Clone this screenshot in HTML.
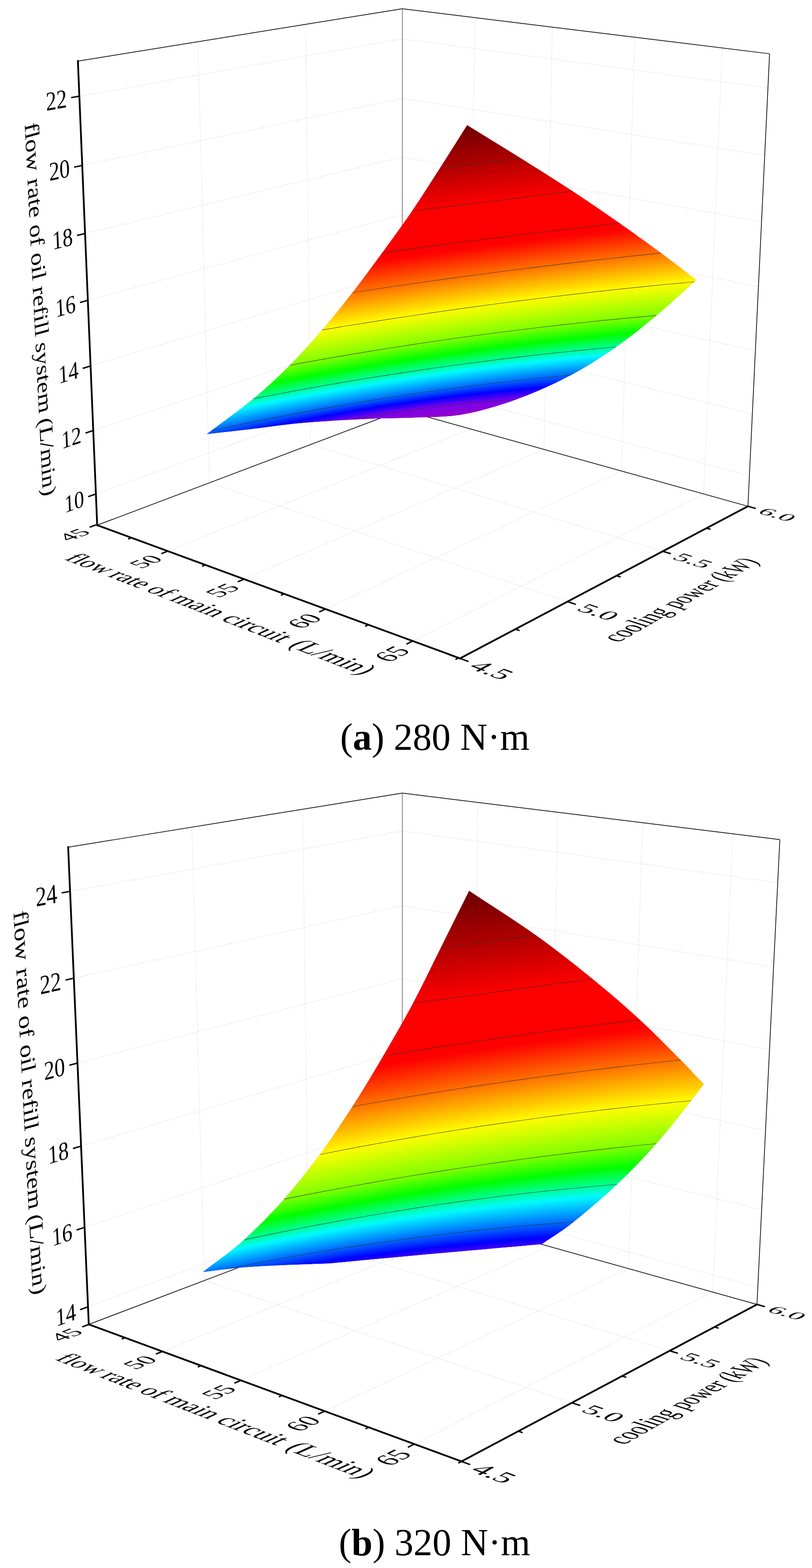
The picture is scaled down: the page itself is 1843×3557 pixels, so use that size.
<!DOCTYPE html>
<html><head><meta charset="utf-8"><title>Figure</title>
<style>
html,body{margin:0;padding:0;background:#fff;}
svg{display:block;}
text{font-family:"Liberation Serif", serif;fill:#000;}
</style></head>
<body>
<svg width="1843" height="3557" viewBox="0 0 1843 3557">
<rect width="1843" height="3557" fill="#fff"/>
<g><path d="M217.7,1120.4 L913,868 M913,868 L1700.9,1079.2 M211.7,976.6 L913.1,742.9 M913.1,742.9 L1707.6,938.8 M205.6,830.2 L913.1,615.9 M913.1,615.9 L1714.5,796 M199.4,681.3 L913.1,486.9 M913.1,486.9 L1721.4,650.7 M193.1,529.7 L913.2,356 M913.2,356 L1728.5,503 M186.6,375.3 L913.2,223.1 M913.2,223.1 L1735.7,352.6 M180.1,218.2 L913.3,88.1 M913.3,88.1 L1743,199.6 M475.4,1095.2 L449.4,94.6 M475.4,1095.2 L1288.1,1364.8 M705,1008.5 L693.5,55.3 M705,1008.5 L1504.4,1250.6 M1068.2,973.2 L1077.3,39.9 M380.7,1250.2 L1068.2,973.2 M1234.7,1019.6 L1253.6,61.5 M553.9,1313.7 L1234.7,1019.6 M1410.7,1068.6 L1440.6,84.5 M738.8,1381.6 L1410.7,1068.6 M1597.1,1120.5 L1639.2,108.9 M936.7,1454.1 L1597.1,1120.5" fill="none" stroke="#c6c6c6" stroke-width="1" stroke-dasharray="2 3"/>
<line x1="176.8" y1="138.6" x2="913.3" y2="19.8" stroke="#111" stroke-width="1.7" />
<line x1="913.3" y1="19.8" x2="1746.7" y2="122" stroke="#111" stroke-width="1.7" />
<line x1="1746.7" y1="122" x2="1697.6" y2="1148.5" stroke="#111" stroke-width="1.7" />
<line x1="220.6" y1="1191.4" x2="913" y2="929.9" stroke="#111" stroke-width="1.7" />
<line x1="913" y1="929.9" x2="1697.6" y2="1148.5" stroke="#111" stroke-width="1.7" />
<line x1="913" y1="929.9" x2="913.3" y2="19.8" stroke="#555" stroke-width="1.3" />
<clipPath id="clipa"><path d="M469.7,984.5 C504.9,957.8 544.2,930.2 575.3,904.5 C606.4,878.8 630.4,856.1 656.2,830.3 C682,804.4 706.3,777.1 730.3,749.4 C754.3,721.7 777,693.4 800,664 C823,634.6 845.4,603.9 868,573 C890.6,542.1 913.7,510.5 935.4,478.7 C957.1,446.9 977.5,414.4 998.3,382 C1019.1,349.6 1039.6,316.7 1060.3,284 C1101.1,309.2 1142.8,334.7 1182.6,359.6 C1222.4,384.6 1262.3,409.4 1299.4,433.7 C1336.5,458 1371.7,482.3 1405,505.6 C1438.3,528.9 1470.2,552 1499.4,573.6 C1528.6,595.2 1553.3,614.7 1580.3,635.2 C1550.3,661.9 1520.7,689.9 1490.4,715.2 C1460.1,740.5 1430.9,764.3 1398.3,787 C1365.7,809.7 1332.8,831.4 1295,851.3 C1257.2,871.2 1212.1,891.4 1171.3,906.2 C1130.5,921 1088.7,933.1 1050,939.9 C1011.3,946.7 972.7,945.6 939.3,947.2 C905.9,948.8 879.3,948.3 849.4,949.4 C819.5,950.5 789.5,952 759.6,953.9 C729.7,955.8 699.7,957.7 669.7,960.7 C639.7,963.7 613.1,967.9 579.8,971.9 C546.5,975.9 506.4,980.3 469.7,984.5Z"/></clipPath>
<g clip-path="url(#clipa)">
<path d="M469.7,984.5 C504.9,957.8 544.2,930.2 575.3,904.5 C606.4,878.8 630.4,856.1 656.2,830.3 C682,804.4 706.3,777.1 730.3,749.4 C754.3,721.7 777,693.4 800,664 C823,634.6 845.4,603.9 868,573 C890.6,542.1 913.7,510.5 935.4,478.7 C957.1,446.9 977.5,414.4 998.3,382 C1019.1,349.6 1039.6,316.7 1060.3,284 C1101.1,309.2 1142.8,334.7 1182.6,359.6 C1222.4,384.6 1262.3,409.4 1299.4,433.7 C1336.5,458 1371.7,482.3 1405,505.6 C1438.3,528.9 1470.2,552 1499.4,573.6 C1528.6,595.2 1553.3,614.7 1580.3,635.2 C1550.3,661.9 1520.7,689.9 1490.4,715.2 C1460.1,740.5 1430.9,764.3 1398.3,787 C1365.7,809.7 1332.8,831.4 1295,851.3 C1257.2,871.2 1212.1,891.4 1171.3,906.2 C1130.5,921 1088.7,933.1 1050,939.9 C1011.3,946.7 972.7,945.6 939.3,947.2 C905.9,948.8 879.3,948.3 849.4,949.4 C819.5,950.5 789.5,952 759.6,953.9 C729.7,955.8 699.7,957.7 669.7,960.7 C639.7,963.7 613.1,967.9 579.8,971.9 C546.5,975.9 506.4,980.3 469.7,984.5Z" fill="#9900bc"/>
<polygon points="440,442.7 489.2,420.5 538.3,399.6 587.5,380 636.7,361.7 685.8,344.7 735,328.9 784.2,314.4 833.3,301.2 882.5,289.3 931.7,278.7 980.8,269.3 1030,261.3 1079.2,254.5 1128.3,249 1177.5,244.7 1226.7,241.8 1275.8,240.1 1325,239.7 1374.2,240.6 1423.3,242.8 1472.5,246.3 1521.7,251 1570.8,257 1620,264.3 1620,270.9 1570.8,264.3 1521.7,258.9 1472.5,254.7 1423.3,251.7 1374.2,249.9 1325,249.4 1275.8,250.1 1226.7,252 1177.5,255.1 1128.3,259.4 1079.2,264.9 1030,271.7 980.8,279.7 931.7,288.8 882.5,299.2 833.3,310.9 784.2,323.7 735,337.7 685.8,353 636.7,369.5 587.5,387.2 538.3,406.1 489.2,426.2 440,447.5" fill="#600000"/>
<polygon points="440,445.1 489.2,423.3 538.3,402.8 587.5,383.6 636.7,365.6 685.8,348.8 735,333.3 784.2,319.1 833.3,306 882.5,294.3 931.7,283.8 980.8,274.5 1030,266.5 1079.2,259.7 1128.3,254.2 1177.5,249.9 1226.7,246.9 1275.8,245.1 1325,244.6 1374.2,245.3 1423.3,247.3 1472.5,250.5 1521.7,254.9 1570.8,260.6 1620,267.6 1620,274.1 1570.8,267.9 1521.7,262.8 1472.5,258.9 1423.3,256.1 1374.2,254.6 1325,254.2 1275.8,255.1 1226.7,257.1 1177.5,260.3 1128.3,264.6 1079.2,270.2 1030,276.9 980.8,284.8 931.7,293.9 882.5,304.2 833.3,315.7 784.2,328.3 735,342.1 685.8,357.2 636.7,373.3 587.5,390.7 538.3,409.3 489.2,429 440,449.9" fill="#600000"/>
<polygon points="440,447.5 489.2,426.2 538.3,406.1 587.5,387.2 636.7,369.5 685.8,353 735,337.7 784.2,323.7 833.3,310.9 882.5,299.2 931.7,288.8 980.8,279.7 1030,271.7 1079.2,264.9 1128.3,259.4 1177.5,255.1 1226.7,252 1275.8,250.1 1325,249.4 1374.2,249.9 1423.3,251.7 1472.5,254.7 1521.7,258.9 1570.8,264.3 1620,270.9 1620,277.4 1570.8,271.5 1521.7,266.7 1472.5,263.1 1423.3,260.6 1374.2,259.3 1325,259.1 1275.8,260.1 1226.7,262.2 1177.5,265.4 1128.3,269.9 1079.2,275.4 1030,282.1 980.8,290 931.7,299 882.5,309.2 833.3,320.5 784.2,333 735,346.6 685.8,361.3 636.7,377.2 587.5,394.3 538.3,412.5 489.2,431.9 440,452.4" fill="#630000"/>
<polygon points="440,449.9 489.2,429 538.3,409.3 587.5,390.7 636.7,373.3 685.8,357.2 735,342.1 784.2,328.3 833.3,315.7 882.5,304.2 931.7,293.9 980.8,284.8 1030,276.9 1079.2,270.2 1128.3,264.6 1177.5,260.3 1226.7,257.1 1275.8,255.1 1325,254.2 1374.2,254.6 1423.3,256.1 1472.5,258.9 1521.7,262.8 1570.8,267.9 1620,274.1 1620,280.7 1570.8,275.1 1521.7,270.6 1472.5,267.3 1423.3,265 1374.2,263.9 1325,263.9 1275.8,265 1226.7,267.3 1177.5,270.6 1128.3,275.1 1079.2,280.7 1030,287.4 980.8,295.2 931.7,304.1 882.5,314.1 833.3,325.3 784.2,337.6 735,351 685.8,365.5 636.7,381.1 587.5,397.9 538.3,415.7 489.2,434.7 440,454.8" fill="#670000"/>
<polygon points="440,452.4 489.2,431.9 538.3,412.5 587.5,394.3 636.7,377.2 685.8,361.3 735,346.6 784.2,333 833.3,320.5 882.5,309.2 931.7,299 980.8,290 1030,282.1 1079.2,275.4 1128.3,269.9 1177.5,265.4 1226.7,262.2 1275.8,260.1 1325,259.1 1374.2,259.3 1423.3,260.6 1472.5,263.1 1521.7,266.7 1570.8,271.5 1620,277.4 1620,283.9 1570.8,278.7 1521.7,274.6 1472.5,271.5 1423.3,269.5 1374.2,268.6 1325,268.8 1275.8,270 1226.7,272.4 1177.5,275.8 1128.3,280.3 1079.2,285.9 1030,292.6 980.8,300.3 931.7,309.2 882.5,319.1 833.3,330.1 784.2,342.2 735,355.4 685.8,369.7 636.7,385 587.5,401.4 538.3,418.9 489.2,437.5 440,457.2" fill="#6b0000"/>
<polygon points="440,454.8 489.2,434.7 538.3,415.7 587.5,397.9 636.7,381.1 685.8,365.5 735,351 784.2,337.6 833.3,325.3 882.5,314.1 931.7,304.1 980.8,295.2 1030,287.4 1079.2,280.7 1128.3,275.1 1177.5,270.6 1226.7,267.3 1275.8,265 1325,263.9 1374.2,263.9 1423.3,265 1472.5,267.3 1521.7,270.6 1570.8,275.1 1620,280.7 1620,287.2 1570.8,282.3 1521.7,278.5 1472.5,275.7 1423.3,273.9 1374.2,273.2 1325,273.6 1275.8,275 1226.7,277.5 1177.5,281 1128.3,285.5 1079.2,291.1 1030,297.8 980.8,305.5 931.7,314.3 882.5,324.1 833.3,334.9 784.2,346.9 735,359.8 685.8,373.8 636.7,388.9 587.5,405 538.3,422.2 489.2,440.4 440,459.7" fill="#6f0000"/>
<polygon points="440,457.2 489.2,437.5 538.3,418.9 587.5,401.4 636.7,385 685.8,369.7 735,355.4 784.2,342.2 833.3,330.1 882.5,319.1 931.7,309.2 980.8,300.3 1030,292.6 1079.2,285.9 1128.3,280.3 1177.5,275.8 1226.7,272.4 1275.8,270 1325,268.8 1374.2,268.6 1423.3,269.5 1472.5,271.5 1521.7,274.6 1570.8,278.7 1620,283.9 1620,290.5 1570.8,285.9 1521.7,282.4 1472.5,279.9 1423.3,278.4 1374.2,277.9 1325,278.4 1275.8,280 1226.7,282.6 1177.5,286.1 1128.3,290.8 1079.2,296.4 1030,303 980.8,310.7 931.7,319.4 882.5,329 833.3,339.8 784.2,351.5 735,364.2 685.8,378 636.7,392.8 587.5,408.6 538.3,425.4 489.2,443.2 440,462.1" fill="#730000"/>
<polygon points="440,459.7 489.2,440.4 538.3,422.2 587.5,405 636.7,388.9 685.8,373.8 735,359.8 784.2,346.9 833.3,334.9 882.5,324.1 931.7,314.3 980.8,305.5 1030,297.8 1079.2,291.1 1128.3,285.5 1177.5,281 1226.7,277.5 1275.8,275 1325,273.6 1374.2,273.2 1423.3,273.9 1472.5,275.7 1521.7,278.5 1570.8,282.3 1620,287.2 1620,293.8 1570.8,289.5 1521.7,286.3 1472.5,284.1 1423.3,282.8 1374.2,282.6 1325,283.3 1275.8,285 1226.7,287.7 1177.5,291.3 1128.3,296 1079.2,301.6 1030,308.2 980.8,315.8 931.7,324.4 882.5,334 833.3,344.6 784.2,356.1 735,368.6 685.8,382.2 636.7,396.7 587.5,412.1 538.3,428.6 489.2,446.1 440,464.5" fill="#770000"/>
<polygon points="440,462.1 489.2,443.2 538.3,425.4 587.5,408.6 636.7,392.8 685.8,378 735,364.2 784.2,351.5 833.3,339.8 882.5,329 931.7,319.4 980.8,310.7 1030,303 1079.2,296.4 1128.3,290.8 1177.5,286.1 1226.7,282.6 1275.8,280 1325,278.4 1374.2,277.9 1423.3,278.4 1472.5,279.9 1521.7,282.4 1570.8,285.9 1620,290.5 1620,297 1570.8,293.2 1521.7,290.2 1472.5,288.3 1423.3,287.3 1374.2,287.2 1325,288.1 1275.8,290 1226.7,292.8 1177.5,296.5 1128.3,301.2 1079.2,306.9 1030,313.5 980.8,321 931.7,329.5 882.5,339 833.3,349.4 784.2,360.8 735,373.1 685.8,386.3 636.7,400.5 587.5,415.7 538.3,431.8 489.2,448.9 440,466.9" fill="#7b0000"/>
<polygon points="440,464.5 489.2,446.1 538.3,428.6 587.5,412.1 636.7,396.7 685.8,382.2 735,368.6 784.2,356.1 833.3,344.6 882.5,334 931.7,324.4 980.8,315.8 1030,308.2 1079.2,301.6 1128.3,296 1177.5,291.3 1226.7,287.7 1275.8,285 1325,283.3 1374.2,282.6 1423.3,282.8 1472.5,284.1 1521.7,286.3 1570.8,289.5 1620,293.8 1620,300.3 1570.8,296.8 1521.7,294.2 1472.5,292.5 1423.3,291.7 1374.2,291.9 1325,293 1275.8,294.9 1226.7,297.9 1177.5,301.7 1128.3,306.4 1079.2,312.1 1030,318.7 980.8,326.2 931.7,334.6 882.5,343.9 833.3,354.2 784.2,365.4 735,377.5 685.8,390.5 636.7,404.4 587.5,419.3 538.3,435.1 489.2,451.7 440,469.4" fill="#7f0000"/>
<polygon points="440,466.9 489.2,448.9 538.3,431.8 587.5,415.7 636.7,400.5 685.8,386.3 735,373.1 784.2,360.8 833.3,349.4 882.5,339 931.7,329.5 980.8,321 1030,313.5 1079.2,306.9 1128.3,301.2 1177.5,296.5 1226.7,292.8 1275.8,290 1325,288.1 1374.2,287.2 1423.3,287.3 1472.5,288.3 1521.7,290.2 1570.8,293.2 1620,297 1620,303.6 1570.8,300.4 1521.7,298.1 1472.5,296.7 1423.3,296.2 1374.2,296.5 1325,297.8 1275.8,299.9 1226.7,302.9 1177.5,306.9 1128.3,311.7 1079.2,317.3 1030,323.9 980.8,331.4 931.7,339.7 882.5,348.9 833.3,359 784.2,370 735,381.9 685.8,394.7 636.7,408.3 587.5,422.9 538.3,438.3 489.2,454.6 440,471.8" fill="#830000"/>
<polygon points="440,469.4 489.2,451.7 538.3,435.1 587.5,419.3 636.7,404.4 685.8,390.5 735,377.5 784.2,365.4 833.3,354.2 882.5,343.9 931.7,334.6 980.8,326.2 1030,318.7 1079.2,312.1 1128.3,306.4 1177.5,301.7 1226.7,297.9 1275.8,294.9 1325,293 1374.2,291.9 1423.3,291.7 1472.5,292.5 1521.7,294.2 1570.8,296.8 1620,300.3 1620,306.8 1570.8,304 1521.7,302 1472.5,300.9 1423.3,300.6 1374.2,301.2 1325,302.6 1275.8,304.9 1226.7,308 1177.5,312 1128.3,316.9 1079.2,322.6 1030,329.1 980.8,336.5 931.7,344.8 882.5,353.9 833.3,363.8 784.2,374.7 735,386.3 685.8,398.8 636.7,412.2 587.5,426.4 538.3,441.5 489.2,457.4 440,474.2" fill="#860000"/>
<polygon points="440,471.8 489.2,454.6 538.3,438.3 587.5,422.9 636.7,408.3 685.8,394.7 735,381.9 784.2,370 833.3,359 882.5,348.9 931.7,339.7 980.8,331.4 1030,323.9 1079.2,317.3 1128.3,311.7 1177.5,306.9 1226.7,302.9 1275.8,299.9 1325,297.8 1374.2,296.5 1423.3,296.2 1472.5,296.7 1521.7,298.1 1570.8,300.4 1620,303.6 1620,310.1 1570.8,307.6 1521.7,305.9 1472.5,305.1 1423.3,305.1 1374.2,305.9 1325,307.5 1275.8,309.9 1226.7,313.1 1177.5,317.2 1128.3,322.1 1079.2,327.8 1030,334.3 980.8,341.7 931.7,349.9 882.5,358.8 833.3,368.7 784.2,379.3 735,390.7 685.8,403 636.7,416.1 587.5,430 538.3,444.7 489.2,460.3 440,476.6" fill="#8a0000"/>
<polygon points="440,474.2 489.2,457.4 538.3,441.5 587.5,426.4 636.7,412.2 685.8,398.8 735,386.3 784.2,374.7 833.3,363.8 882.5,353.9 931.7,344.8 980.8,336.5 1030,329.1 1079.2,322.6 1128.3,316.9 1177.5,312 1226.7,308 1275.8,304.9 1325,302.6 1374.2,301.2 1423.3,300.6 1472.5,300.9 1521.7,302 1570.8,304 1620,306.8 1620,313.4 1570.8,311.2 1521.7,309.9 1472.5,309.3 1423.3,309.5 1374.2,310.5 1325,312.3 1275.8,314.9 1226.7,318.2 1177.5,322.4 1128.3,327.3 1079.2,333.1 1030,339.6 980.8,346.9 931.7,354.9 882.5,363.8 833.3,373.5 784.2,383.9 735,395.2 685.8,407.2 636.7,420 587.5,433.6 538.3,447.9 489.2,463.1 440,479.1" fill="#8e0000"/>
<polygon points="440,476.6 489.2,460.3 538.3,444.7 587.5,430 636.7,416.1 685.8,403 735,390.7 784.2,379.3 833.3,368.7 882.5,358.8 931.7,349.9 980.8,341.7 1030,334.3 1079.2,327.8 1128.3,322.1 1177.5,317.2 1226.7,313.1 1275.8,309.9 1325,307.5 1374.2,305.9 1423.3,305.1 1472.5,305.1 1521.7,305.9 1570.8,307.6 1620,310.1 1620,316.6 1570.8,314.8 1521.7,313.8 1472.5,313.5 1423.3,314 1374.2,315.2 1325,317.1 1275.8,319.9 1226.7,323.3 1177.5,327.6 1128.3,332.6 1079.2,338.3 1030,344.8 980.8,352 931.7,360 882.5,368.8 833.3,378.3 784.2,388.6 735,399.6 685.8,411.3 636.7,423.9 587.5,437.1 538.3,451.2 489.2,466 440,481.5" fill="#920000"/>
<polygon points="440,479.1 489.2,463.1 538.3,447.9 587.5,433.6 636.7,420 685.8,407.2 735,395.2 784.2,383.9 833.3,373.5 882.5,363.8 931.7,354.9 980.8,346.9 1030,339.6 1079.2,333.1 1128.3,327.3 1177.5,322.4 1226.7,318.2 1275.8,314.9 1325,312.3 1374.2,310.5 1423.3,309.5 1472.5,309.3 1521.7,309.9 1570.8,311.2 1620,313.4 1620,319.9 1570.8,318.5 1521.7,317.7 1472.5,317.7 1423.3,318.4 1374.2,319.8 1325,322 1275.8,324.8 1226.7,328.4 1177.5,332.7 1128.3,337.8 1079.2,343.5 1030,350 980.8,357.2 931.7,365.1 882.5,373.7 833.3,383.1 784.2,393.2 735,404 685.8,415.5 636.7,427.7 587.5,440.7 538.3,454.4 489.2,468.8 440,483.9" fill="#960000"/>
<polygon points="440,481.5 489.2,466 538.3,451.2 587.5,437.1 636.7,423.9 685.8,411.3 735,399.6 784.2,388.6 833.3,378.3 882.5,368.8 931.7,360 980.8,352 1030,344.8 1079.2,338.3 1128.3,332.6 1177.5,327.6 1226.7,323.3 1275.8,319.9 1325,317.1 1374.2,315.2 1423.3,314 1472.5,313.5 1521.7,313.8 1570.8,314.8 1620,316.6 1620,323.2 1570.8,322.1 1521.7,321.6 1472.5,321.9 1423.3,322.9 1374.2,324.5 1325,326.8 1275.8,329.8 1226.7,333.5 1177.5,337.9 1128.3,343 1079.2,348.8 1030,355.2 980.8,362.4 931.7,370.2 882.5,378.7 833.3,387.9 784.2,397.8 735,408.4 685.8,419.7 636.7,431.6 587.5,444.3 538.3,457.6 489.2,471.6 440,486.3" fill="#9a0000"/>
<polygon points="440,483.9 489.2,468.8 538.3,454.4 587.5,440.7 636.7,427.7 685.8,415.5 735,404 784.2,393.2 833.3,383.1 882.5,373.7 931.7,365.1 980.8,357.2 1030,350 1079.2,343.5 1128.3,337.8 1177.5,332.7 1226.7,328.4 1275.8,324.8 1325,322 1374.2,319.8 1423.3,318.4 1472.5,317.7 1521.7,317.7 1570.8,318.5 1620,319.9 1620,326.5 1570.8,325.7 1521.7,325.6 1472.5,326.1 1423.3,327.3 1374.2,329.2 1325,331.7 1275.8,334.8 1226.7,338.6 1177.5,343.1 1128.3,348.2 1079.2,354 1030,360.4 980.8,367.5 931.7,375.3 882.5,383.7 833.3,392.7 784.2,402.5 735,412.8 685.8,423.8 636.7,435.5 587.5,447.8 538.3,460.8 489.2,474.5 440,488.8" fill="#9e0000"/>
<polygon points="440,486.3 489.2,471.6 538.3,457.6 587.5,444.3 636.7,431.6 685.8,419.7 735,408.4 784.2,397.8 833.3,387.9 882.5,378.7 931.7,370.2 980.8,362.4 1030,355.2 1079.2,348.8 1128.3,343 1177.5,337.9 1226.7,333.5 1275.8,329.8 1325,326.8 1374.2,324.5 1423.3,322.9 1472.5,321.9 1521.7,321.6 1570.8,322.1 1620,323.2 1620,329.7 1570.8,329.3 1521.7,329.5 1472.5,330.3 1423.3,331.7 1374.2,333.8 1325,336.5 1275.8,339.8 1226.7,343.7 1177.5,348.3 1128.3,353.5 1079.2,359.2 1030,365.7 980.8,372.7 931.7,380.4 882.5,388.7 833.3,397.6 784.2,407.1 735,417.2 685.8,428 636.7,439.4 587.5,451.4 538.3,464.1 489.2,477.3 440,491.2" fill="#a10000"/>
<polygon points="440,488.8 489.2,474.5 538.3,460.8 587.5,447.8 636.7,435.5 685.8,423.8 735,412.8 784.2,402.5 833.3,392.7 882.5,383.7 931.7,375.3 980.8,367.5 1030,360.4 1079.2,354 1128.3,348.2 1177.5,343.1 1226.7,338.6 1275.8,334.8 1325,331.7 1374.2,329.2 1423.3,327.3 1472.5,326.1 1521.7,325.6 1570.8,325.7 1620,326.5 1620,333 1570.8,332.9 1521.7,333.4 1472.5,334.5 1423.3,336.2 1374.2,338.5 1325,341.3 1275.8,344.8 1226.7,348.8 1177.5,353.5 1128.3,358.7 1079.2,364.5 1030,370.9 980.8,377.9 931.7,385.5 882.5,393.6 833.3,402.4 784.2,411.7 735,421.7 685.8,432.2 636.7,443.3 587.5,455 538.3,467.3 489.2,480.2 440,493.6" fill="#a50000"/>
<polygon points="440,491.2 489.2,477.3 538.3,464.1 587.5,451.4 636.7,439.4 685.8,428 735,417.2 784.2,407.1 833.3,397.6 882.5,388.7 931.7,380.4 980.8,372.7 1030,365.7 1079.2,359.2 1128.3,353.5 1177.5,348.3 1226.7,343.7 1275.8,339.8 1325,336.5 1374.2,333.8 1423.3,331.7 1472.5,330.3 1521.7,329.5 1570.8,329.3 1620,329.7 1620,336.3 1570.8,336.5 1521.7,337.3 1472.5,338.7 1423.3,340.6 1374.2,343.1 1325,346.2 1275.8,349.8 1226.7,353.9 1177.5,358.6 1128.3,363.9 1079.2,369.7 1030,376.1 980.8,383 931.7,390.5 882.5,398.6 833.3,407.2 784.2,416.4 735,426.1 685.8,436.3 636.7,447.2 587.5,458.6 538.3,470.5 489.2,483 440,496.1" fill="#a90000"/>
<polygon points="440,493.6 489.2,480.2 538.3,467.3 587.5,455 636.7,443.3 685.8,432.2 735,421.7 784.2,411.7 833.3,402.4 882.5,393.6 931.7,385.5 980.8,377.9 1030,370.9 1079.2,364.5 1128.3,358.7 1177.5,353.5 1226.7,348.8 1275.8,344.8 1325,341.3 1374.2,338.5 1423.3,336.2 1472.5,334.5 1521.7,333.4 1570.8,332.9 1620,333 1620,339.5 1570.8,340.1 1521.7,341.3 1472.5,342.9 1423.3,345.1 1374.2,347.8 1325,351 1275.8,354.8 1226.7,359 1177.5,363.8 1128.3,369.1 1079.2,375 1030,381.3 980.8,388.2 931.7,395.6 882.5,403.6 833.3,412 784.2,421 735,430.5 685.8,440.5 636.7,451.1 587.5,462.1 538.3,473.7 489.2,485.8 440,498.5" fill="#ad0000"/>
<polygon points="440,496.1 489.2,483 538.3,470.5 587.5,458.6 636.7,447.2 685.8,436.3 735,426.1 784.2,416.4 833.3,407.2 882.5,398.6 931.7,390.5 980.8,383 1030,376.1 1079.2,369.7 1128.3,363.9 1177.5,358.6 1226.7,353.9 1275.8,349.8 1325,346.2 1374.2,343.1 1423.3,340.6 1472.5,338.7 1521.7,337.3 1570.8,336.5 1620,336.3 1620,342.8 1570.8,343.7 1521.7,345.2 1472.5,347.1 1423.3,349.5 1374.2,352.4 1325,355.8 1275.8,359.7 1226.7,364.1 1177.5,369 1128.3,374.4 1079.2,380.2 1030,386.6 980.8,393.4 931.7,400.7 882.5,408.5 833.3,416.8 784.2,425.6 735,434.9 685.8,444.7 636.7,454.9 587.5,465.7 538.3,476.9 489.2,488.7 440,500.9" fill="#b10000"/>
<polygon points="440,498.5 489.2,485.8 538.3,473.7 587.5,462.1 636.7,451.1 685.8,440.5 735,430.5 784.2,421 833.3,412 882.5,403.6 931.7,395.6 980.8,388.2 1030,381.3 1079.2,375 1128.3,369.1 1177.5,363.8 1226.7,359 1275.8,354.8 1325,351 1374.2,347.8 1423.3,345.1 1472.5,342.9 1521.7,341.3 1570.8,340.1 1620,339.5 1620,346.1 1570.8,347.4 1521.7,349.1 1472.5,351.3 1423.3,354 1374.2,357.1 1325,360.7 1275.8,364.7 1226.7,369.2 1177.5,374.2 1128.3,379.6 1079.2,385.4 1030,391.8 980.8,398.6 931.7,405.8 882.5,413.5 833.3,421.6 784.2,430.3 735,439.3 685.8,448.8 636.7,458.8 587.5,469.3 538.3,480.2 489.2,491.5 440,503.3" fill="#b50000"/>
<polygon points="440,500.9 489.2,488.7 538.3,476.9 587.5,465.7 636.7,454.9 685.8,444.7 735,434.9 784.2,425.6 833.3,416.8 882.5,408.5 931.7,400.7 980.8,393.4 1030,386.6 1079.2,380.2 1128.3,374.4 1177.5,369 1226.7,364.1 1275.8,359.7 1325,355.8 1374.2,352.4 1423.3,349.5 1472.5,347.1 1521.7,345.2 1570.8,343.7 1620,342.8 1620,349.3 1570.8,351 1521.7,353 1472.5,355.5 1423.3,358.4 1374.2,361.8 1325,365.5 1275.8,369.7 1226.7,374.3 1177.5,379.3 1128.3,384.8 1079.2,390.7 1030,397 980.8,403.7 931.7,410.9 882.5,418.5 833.3,426.5 784.2,434.9 735,443.7 685.8,453 636.7,462.7 587.5,472.8 538.3,483.4 489.2,494.4 440,505.8" fill="#ba0000"/>
<polygon points="440,503.3 489.2,491.5 538.3,480.2 587.5,469.3 636.7,458.8 685.8,448.8 735,439.3 784.2,430.3 833.3,421.6 882.5,413.5 931.7,405.8 980.8,398.6 1030,391.8 1079.2,385.4 1128.3,379.6 1177.5,374.2 1226.7,369.2 1275.8,364.7 1325,360.7 1374.2,357.1 1423.3,354 1472.5,351.3 1521.7,349.1 1570.8,347.4 1620,346.1 1620,352.6 1570.8,354.6 1521.7,357 1472.5,359.7 1423.3,362.9 1374.2,366.4 1325,370.4 1275.8,374.7 1226.7,379.4 1177.5,384.5 1128.3,390 1079.2,395.9 1030,402.2 980.8,408.9 931.7,416 882.5,423.4 833.3,431.3 784.2,439.5 735,448.2 685.8,457.2 636.7,466.6 587.5,476.4 538.3,486.6 489.2,497.2 440,508.2" fill="#be0000"/>
<polygon points="440,505.8 489.2,494.4 538.3,483.4 587.5,472.8 636.7,462.7 685.8,453 735,443.7 784.2,434.9 833.3,426.5 882.5,418.5 931.7,410.9 980.8,403.7 1030,397 1079.2,390.7 1128.3,384.8 1177.5,379.3 1226.7,374.3 1275.8,369.7 1325,365.5 1374.2,361.8 1423.3,358.4 1472.5,355.5 1521.7,353 1570.8,351 1620,349.3 1620,355.9 1570.8,358.2 1521.7,360.9 1472.5,363.9 1423.3,367.3 1374.2,371.1 1325,375.2 1275.8,379.7 1226.7,384.5 1177.5,389.7 1128.3,395.3 1079.2,401.2 1030,407.4 980.8,414.1 931.7,421 882.5,428.4 833.3,436.1 784.2,444.2 735,452.6 685.8,461.4 636.7,470.5 587.5,480 538.3,489.8 489.2,500 440,510.6" fill="#c30000"/>
<polygon points="440,508.2 489.2,497.2 538.3,486.6 587.5,476.4 636.7,466.6 685.8,457.2 735,448.2 784.2,439.5 833.3,431.3 882.5,423.4 931.7,416 980.8,408.9 1030,402.2 1079.2,395.9 1128.3,390 1177.5,384.5 1226.7,379.4 1275.8,374.7 1325,370.4 1374.2,366.4 1423.3,362.9 1472.5,359.7 1521.7,357 1570.8,354.6 1620,352.6 1620,359.1 1570.8,361.8 1521.7,364.8 1472.5,368.1 1423.3,371.8 1374.2,375.7 1325,380 1275.8,384.7 1226.7,389.6 1177.5,394.9 1128.3,400.5 1079.2,406.4 1030,412.7 980.8,419.2 931.7,426.1 882.5,433.4 833.3,440.9 784.2,448.8 735,457 685.8,465.5 636.7,474.4 587.5,483.6 538.3,493.1 489.2,502.9 440,513" fill="#c70000"/>
<polygon points="440,510.6 489.2,500 538.3,489.8 587.5,480 636.7,470.5 685.8,461.4 735,452.6 784.2,444.2 833.3,436.1 882.5,428.4 931.7,421 980.8,414.1 1030,407.4 1079.2,401.2 1128.3,395.3 1177.5,389.7 1226.7,384.5 1275.8,379.7 1325,375.2 1374.2,371.1 1423.3,367.3 1472.5,363.9 1521.7,360.9 1570.8,358.2 1620,355.9 1620,362.4 1570.8,365.4 1521.7,368.7 1472.5,372.3 1423.3,376.2 1374.2,380.4 1325,384.9 1275.8,389.6 1226.7,394.7 1177.5,400.1 1128.3,405.7 1079.2,411.6 1030,417.9 980.8,424.4 931.7,431.2 882.5,438.3 833.3,445.7 784.2,453.4 735,461.4 685.8,469.7 636.7,478.3 587.5,487.1 538.3,496.3 489.2,505.7 440,515.5" fill="#cc0000"/>
<polygon points="440,513 489.2,502.9 538.3,493.1 587.5,483.6 636.7,474.4 685.8,465.5 735,457 784.2,448.8 833.3,440.9 882.5,433.4 931.7,426.1 980.8,419.2 1030,412.7 1079.2,406.4 1128.3,400.5 1177.5,394.9 1226.7,389.6 1275.8,384.7 1325,380 1374.2,375.7 1423.3,371.8 1472.5,368.1 1521.7,364.8 1570.8,361.8 1620,359.1 1620,365.7 1570.8,369 1521.7,372.7 1472.5,376.5 1423.3,380.7 1374.2,385.1 1325,389.7 1275.8,394.6 1226.7,399.8 1177.5,405.2 1128.3,410.9 1079.2,416.9 1030,423.1 980.8,429.6 931.7,436.3 882.5,443.3 833.3,450.5 784.2,458.1 735,465.8 685.8,473.9 636.7,482.1 587.5,490.7 538.3,499.5 489.2,508.6 440,517.9" fill="#d00000"/>
<polygon points="440,515.5 489.2,505.7 538.3,496.3 587.5,487.1 636.7,478.3 685.8,469.7 735,461.4 784.2,453.4 833.3,445.7 882.5,438.3 931.7,431.2 980.8,424.4 1030,417.9 1079.2,411.6 1128.3,405.7 1177.5,400.1 1226.7,394.7 1275.8,389.6 1325,384.9 1374.2,380.4 1423.3,376.2 1472.5,372.3 1521.7,368.7 1570.8,365.4 1620,362.4 1620,369 1570.8,372.7 1521.7,376.6 1472.5,380.7 1423.3,385.1 1374.2,389.7 1325,394.6 1275.8,399.6 1226.7,404.9 1177.5,410.4 1128.3,416.2 1079.2,422.1 1030,428.3 980.8,434.7 931.7,441.4 882.5,448.3 833.3,455.4 784.2,462.7 735,470.2 685.8,478 636.7,486 587.5,494.3 538.3,502.7 489.2,511.4 440,520.3" fill="#d40000"/>
<polygon points="440,517.9 489.2,508.6 538.3,499.5 587.5,490.7 636.7,482.1 685.8,473.9 735,465.8 784.2,458.1 833.3,450.5 882.5,443.3 931.7,436.3 980.8,429.6 1030,423.1 1079.2,416.9 1128.3,410.9 1177.5,405.2 1226.7,399.8 1275.8,394.6 1325,389.7 1374.2,385.1 1423.3,380.7 1472.5,376.5 1521.7,372.7 1570.8,369 1620,365.7 1620,372.2 1570.8,376.3 1521.7,380.5 1472.5,384.9 1423.3,389.6 1374.2,394.4 1325,399.4 1275.8,404.6 1226.7,410 1177.5,415.6 1128.3,421.4 1079.2,427.4 1030,433.5 980.8,439.9 931.7,446.5 882.5,453.2 833.3,460.2 784.2,467.3 735,474.7 685.8,482.2 636.7,489.9 587.5,497.8 538.3,505.9 489.2,514.3 440,522.8" fill="#d90000"/>
<polygon points="440,520.3 489.2,511.4 538.3,502.7 587.5,494.3 636.7,486 685.8,478 735,470.2 784.2,462.7 833.3,455.4 882.5,448.3 931.7,441.4 980.8,434.7 1030,428.3 1079.2,422.1 1128.3,416.2 1177.5,410.4 1226.7,404.9 1275.8,399.6 1325,394.6 1374.2,389.7 1423.3,385.1 1472.5,380.7 1521.7,376.6 1570.8,372.7 1620,369 1620,375.5 1570.8,379.9 1521.7,384.4 1472.5,389.1 1423.3,394 1374.2,399 1325,404.2 1275.8,409.6 1226.7,415.1 1177.5,420.8 1128.3,426.6 1079.2,432.6 1030,438.8 980.8,445.1 931.7,451.6 882.5,458.2 833.3,465 784.2,472 735,479.1 685.8,486.4 636.7,493.8 587.5,501.4 538.3,509.2 489.2,517.1 440,525.2" fill="#dd0000"/>
<polygon points="440,522.8 489.2,514.3 538.3,505.9 587.5,497.8 636.7,489.9 685.8,482.2 735,474.7 784.2,467.3 833.3,460.2 882.5,453.2 931.7,446.5 980.8,439.9 1030,433.5 1079.2,427.4 1128.3,421.4 1177.5,415.6 1226.7,410 1275.8,404.6 1325,399.4 1374.2,394.4 1423.3,389.6 1472.5,384.9 1521.7,380.5 1570.8,376.3 1620,372.2 1620,378.8 1570.8,383.5 1521.7,388.4 1472.5,393.3 1423.3,398.5 1374.2,403.7 1325,409.1 1275.8,414.6 1226.7,420.2 1177.5,425.9 1128.3,431.8 1079.2,437.8 1030,444 980.8,450.2 931.7,456.6 882.5,463.2 833.3,469.8 784.2,476.6 735,483.5 685.8,490.5 636.7,497.7 587.5,505 538.3,512.4 489.2,519.9 440,527.6" fill="#e20000"/>
<polygon points="440,525.2 489.2,517.1 538.3,509.2 587.5,501.4 636.7,493.8 685.8,486.4 735,479.1 784.2,472 833.3,465 882.5,458.2 931.7,451.6 980.8,445.1 1030,438.8 1079.2,432.6 1128.3,426.6 1177.5,420.8 1226.7,415.1 1275.8,409.6 1325,404.2 1374.2,399 1423.3,394 1472.5,389.1 1521.7,384.4 1570.8,379.9 1620,375.5 1620,382 1570.8,387.1 1521.7,392.3 1472.5,397.5 1423.3,402.9 1374.2,408.4 1325,413.9 1275.8,419.6 1226.7,425.3 1177.5,431.1 1128.3,437.1 1079.2,443.1 1030,449.2 980.8,455.4 931.7,461.7 882.5,468.1 833.3,474.6 784.2,481.2 735,487.9 685.8,494.7 636.7,501.6 587.5,508.5 538.3,515.6 489.2,522.8 440,530" fill="#e60000"/>
<polygon points="440,527.6 489.2,519.9 538.3,512.4 587.5,505 636.7,497.7 685.8,490.5 735,483.5 784.2,476.6 833.3,469.8 882.5,463.2 931.7,456.6 980.8,450.2 1030,444 1079.2,437.8 1128.3,431.8 1177.5,425.9 1226.7,420.2 1275.8,414.6 1325,409.1 1374.2,403.7 1423.3,398.5 1472.5,393.3 1521.7,388.4 1570.8,383.5 1620,378.8 1620,385.3 1570.8,390.7 1521.7,396.2 1472.5,401.7 1423.3,407.4 1374.2,413 1325,418.7 1275.8,424.5 1226.7,430.4 1177.5,436.3 1128.3,442.3 1079.2,448.3 1030,454.4 980.8,460.6 931.7,466.8 882.5,473.1 833.3,479.4 784.2,485.9 735,492.3 685.8,498.9 636.7,505.5 587.5,512.1 538.3,518.8 489.2,525.6 440,532.5" fill="#eb0000"/>
<polygon points="440,530 489.2,522.8 538.3,515.6 587.5,508.5 636.7,501.6 685.8,494.7 735,487.9 784.2,481.2 833.3,474.6 882.5,468.1 931.7,461.7 980.8,455.4 1030,449.2 1079.2,443.1 1128.3,437.1 1177.5,431.1 1226.7,425.3 1275.8,419.6 1325,413.9 1374.2,408.4 1423.3,402.9 1472.5,397.5 1521.7,392.3 1570.8,387.1 1620,382 1620,388.6 1570.8,394.3 1521.7,400.1 1472.5,406 1423.3,411.8 1374.2,417.7 1325,423.6 1275.8,429.5 1226.7,435.5 1177.5,441.5 1128.3,447.5 1079.2,453.6 1030,459.6 980.8,465.8 931.7,471.9 882.5,478.1 833.3,484.3 784.2,490.5 735,496.7 685.8,503 636.7,509.3 587.5,515.7 538.3,522.1 489.2,528.5 440,534.9" fill="#ef0000"/>
<polygon points="440,532.5 489.2,525.6 538.3,518.8 587.5,512.1 636.7,505.5 685.8,498.9 735,492.3 784.2,485.9 833.3,479.4 882.5,473.1 931.7,466.8 980.8,460.6 1030,454.4 1079.2,448.3 1128.3,442.3 1177.5,436.3 1226.7,430.4 1275.8,424.5 1325,418.7 1374.2,413 1423.3,407.4 1472.5,401.7 1521.7,396.2 1570.8,390.7 1620,385.3 1620,391.8 1570.8,398 1521.7,404.1 1472.5,410.2 1423.3,416.2 1374.2,422.3 1325,428.4 1275.8,434.5 1226.7,440.6 1177.5,446.7 1128.3,452.7 1079.2,458.8 1030,464.9 980.8,470.9 931.7,477 882.5,483 833.3,489.1 784.2,495.1 735,501.2 685.8,507.2 636.7,513.2 587.5,519.3 538.3,525.3 489.2,531.3 440,537.3" fill="#f30000"/>
<polygon points="440,534.9 489.2,528.5 538.3,522.1 587.5,515.7 636.7,509.3 685.8,503 735,496.7 784.2,490.5 833.3,484.3 882.5,478.1 931.7,471.9 980.8,465.8 1030,459.6 1079.2,453.6 1128.3,447.5 1177.5,441.5 1226.7,435.5 1275.8,429.5 1325,423.6 1374.2,417.7 1423.3,411.8 1472.5,406 1521.7,400.1 1570.8,394.3 1620,388.6 1620,396.2 1570.8,402.4 1521.7,408.6 1472.5,414.8 1423.3,421 1374.2,427.2 1325,433.3 1275.8,439.5 1226.7,445.6 1177.5,451.7 1128.3,457.8 1079.2,463.9 1030,469.9 980.8,476 931.7,482 882.5,488 833.3,494 784.2,500 735,506 685.8,511.9 636.7,517.9 587.5,523.8 538.3,529.7 489.2,535.6 440,541.5" fill="#f80000"/>
<polygon points="440,537.3 489.2,531.3 538.3,525.3 587.5,519.3 636.7,513.2 685.8,507.2 735,501.2 784.2,495.1 833.3,489.1 882.5,483 931.7,477 980.8,470.9 1030,464.9 1079.2,458.8 1128.3,452.7 1177.5,446.7 1226.7,440.6 1275.8,434.5 1325,428.4 1374.2,422.3 1423.3,416.2 1472.5,410.2 1521.7,404.1 1570.8,398 1620,391.8 1620,401.4 1570.8,407.6 1521.7,413.7 1472.5,419.9 1423.3,426 1374.2,432.2 1325,438.3 1275.8,444.4 1226.7,450.5 1177.5,456.6 1128.3,462.7 1079.2,468.8 1030,474.9 980.8,480.9 931.7,487 882.5,493 833.3,499.1 784.2,505.1 735,511.1 685.8,517.1 636.7,523.1 587.5,529.1 538.3,535.1 489.2,541.1 440,547.1" fill="#fc0000"/>
<polygon points="440,541.5 489.2,535.6 538.3,529.7 587.5,523.8 636.7,517.9 685.8,511.9 735,506 784.2,500 833.3,494 882.5,488 931.7,482 980.8,476 1030,469.9 1079.2,463.9 1128.3,457.8 1177.5,451.7 1226.7,445.6 1275.8,439.5 1325,433.3 1374.2,427.2 1423.3,421 1472.5,414.8 1521.7,408.6 1570.8,402.4 1620,396.2 1620,406.6 1570.8,412.7 1521.7,418.8 1472.5,424.9 1423.3,431 1374.2,437.1 1325,443.3 1275.8,449.4 1226.7,455.4 1177.5,461.5 1128.3,467.6 1079.2,473.7 1030,479.8 980.8,485.9 931.7,492 882.5,498 833.3,504.1 784.2,510.2 735,516.3 685.8,522.3 636.7,528.4 587.5,534.4 538.3,540.5 489.2,546.6 440,552.6" fill="#fc0000"/>
<polygon points="440,547.1 489.2,541.1 538.3,535.1 587.5,529.1 636.7,523.1 685.8,517.1 735,511.1 784.2,505.1 833.3,499.1 882.5,493 931.7,487 980.8,480.9 1030,474.9 1079.2,468.8 1128.3,462.7 1177.5,456.6 1226.7,450.5 1275.8,444.4 1325,438.3 1374.2,432.2 1423.3,426 1472.5,419.9 1521.7,413.7 1570.8,407.6 1620,401.4 1620,411.8 1570.8,417.9 1521.7,423.9 1472.5,430 1423.3,436.1 1374.2,442.1 1325,448.2 1275.8,454.3 1226.7,460.4 1177.5,466.5 1128.3,472.6 1079.2,478.6 1030,484.7 980.8,490.8 931.7,496.9 882.5,503.1 833.3,509.2 784.2,515.3 735,521.4 685.8,527.5 636.7,533.6 587.5,539.8 538.3,545.9 489.2,552 440,558.2" fill="#fc0000"/>
<polygon points="440,552.6 489.2,546.6 538.3,540.5 587.5,534.4 636.7,528.4 685.8,522.3 735,516.3 784.2,510.2 833.3,504.1 882.5,498 931.7,492 980.8,485.9 1030,479.8 1079.2,473.7 1128.3,467.6 1177.5,461.5 1226.7,455.4 1275.8,449.4 1325,443.3 1374.2,437.1 1423.3,431 1472.5,424.9 1521.7,418.8 1570.8,412.7 1620,406.6 1620,417 1570.8,423 1521.7,429 1472.5,435 1423.3,441.1 1374.2,447.1 1325,453.2 1275.8,459.2 1226.7,465.3 1177.5,471.4 1128.3,477.5 1079.2,483.6 1030,489.7 980.8,495.8 931.7,501.9 882.5,508.1 833.3,514.2 784.2,520.4 735,526.5 685.8,532.7 636.7,538.9 587.5,545.1 538.3,551.3 489.2,557.5 440,563.7" fill="#fc0000"/>
<polygon points="440,558.2 489.2,552 538.3,545.9 587.5,539.8 636.7,533.6 685.8,527.5 735,521.4 784.2,515.3 833.3,509.2 882.5,503.1 931.7,496.9 980.8,490.8 1030,484.7 1079.2,478.6 1128.3,472.6 1177.5,466.5 1226.7,460.4 1275.8,454.3 1325,448.2 1374.2,442.1 1423.3,436.1 1472.5,430 1521.7,423.9 1570.8,417.9 1620,411.8 1620,422.2 1570.8,428.1 1521.7,434.1 1472.5,440.1 1423.3,446.1 1374.2,452.1 1325,458.1 1275.8,464.2 1226.7,470.2 1177.5,476.3 1128.3,482.4 1079.2,488.5 1030,494.6 980.8,500.8 931.7,506.9 882.5,513.1 833.3,519.3 784.2,525.5 735,531.7 685.8,537.9 636.7,544.1 587.5,550.4 538.3,556.7 489.2,562.9 440,569.2" fill="#fd0000"/>
<polygon points="440,563.7 489.2,557.5 538.3,551.3 587.5,545.1 636.7,538.9 685.8,532.7 735,526.5 784.2,520.4 833.3,514.2 882.5,508.1 931.7,501.9 980.8,495.8 1030,489.7 1079.2,483.6 1128.3,477.5 1177.5,471.4 1226.7,465.3 1275.8,459.2 1325,453.2 1374.2,447.1 1423.3,441.1 1472.5,435 1521.7,429 1570.8,423 1620,417 1620,427.4 1570.8,433.3 1521.7,439.2 1472.5,445.1 1423.3,451.1 1374.2,457.1 1325,463.1 1275.8,469.1 1226.7,475.2 1177.5,481.2 1128.3,487.3 1079.2,493.4 1030,499.6 980.8,505.7 931.7,511.9 882.5,518.1 833.3,524.3 784.2,530.5 735,536.8 685.8,543.1 636.7,549.4 587.5,555.7 538.3,562 489.2,568.4 440,574.8" fill="#fd0000"/>
<polygon points="440,569.2 489.2,562.9 538.3,556.7 587.5,550.4 636.7,544.1 685.8,537.9 735,531.7 784.2,525.5 833.3,519.3 882.5,513.1 931.7,506.9 980.8,500.8 1030,494.6 1079.2,488.5 1128.3,482.4 1177.5,476.3 1226.7,470.2 1275.8,464.2 1325,458.1 1374.2,452.1 1423.3,446.1 1472.5,440.1 1521.7,434.1 1570.8,428.1 1620,422.2 1620,432.6 1570.8,438.4 1521.7,444.3 1472.5,450.2 1423.3,456.1 1374.2,462.1 1325,468 1275.8,474.1 1226.7,480.1 1177.5,486.2 1128.3,492.2 1079.2,498.4 1030,504.5 980.8,510.7 931.7,516.9 882.5,523.1 833.3,529.4 784.2,535.6 735,541.9 685.8,548.3 636.7,554.6 587.5,561 538.3,567.4 489.2,573.9 440,580.3" fill="#fd0000"/>
<polygon points="440,574.8 489.2,568.4 538.3,562 587.5,555.7 636.7,549.4 685.8,543.1 735,536.8 784.2,530.5 833.3,524.3 882.5,518.1 931.7,511.9 980.8,505.7 1030,499.6 1079.2,493.4 1128.3,487.3 1177.5,481.2 1226.7,475.2 1275.8,469.1 1325,463.1 1374.2,457.1 1423.3,451.1 1472.5,445.1 1521.7,439.2 1570.8,433.3 1620,427.4 1620,437.7 1570.8,443.5 1521.7,449.4 1472.5,455.2 1423.3,461.1 1374.2,467.1 1325,473 1275.8,479 1226.7,485 1177.5,491.1 1128.3,497.2 1079.2,503.3 1030,509.4 980.8,515.6 931.7,521.9 882.5,528.1 833.3,534.4 784.2,540.7 735,547.1 685.8,553.5 636.7,559.9 587.5,566.3 538.3,572.8 489.2,579.3 440,585.9" fill="#fd0000"/>
<polygon points="440,580.3 489.2,573.9 538.3,567.4 587.5,561 636.7,554.6 685.8,548.3 735,541.9 784.2,535.6 833.3,529.4 882.5,523.1 931.7,516.9 980.8,510.7 1030,504.5 1079.2,498.4 1128.3,492.2 1177.5,486.2 1226.7,480.1 1275.8,474.1 1325,468 1374.2,462.1 1423.3,456.1 1472.5,450.2 1521.7,444.3 1570.8,438.4 1620,432.6 1620,442.9 1570.8,448.7 1521.7,454.5 1472.5,460.3 1423.3,466.1 1374.2,472 1325,478 1275.8,483.9 1226.7,490 1177.5,496 1128.3,502.1 1079.2,508.2 1030,514.4 980.8,520.6 931.7,526.8 882.5,533.1 833.3,539.4 784.2,545.8 735,552.2 685.8,558.6 636.7,565.1 587.5,571.6 538.3,578.2 489.2,584.8 440,591.4" fill="#fd0000"/>
<polygon points="440,585.9 489.2,579.3 538.3,572.8 587.5,566.3 636.7,559.9 685.8,553.5 735,547.1 784.2,540.7 833.3,534.4 882.5,528.1 931.7,521.9 980.8,515.6 1030,509.4 1079.2,503.3 1128.3,497.2 1177.5,491.1 1226.7,485 1275.8,479 1325,473 1374.2,467.1 1423.3,461.1 1472.5,455.2 1521.7,449.4 1570.8,443.5 1620,437.7 1620,448.1 1570.8,453.8 1521.7,459.6 1472.5,465.3 1423.3,471.2 1374.2,477 1325,482.9 1275.8,488.9 1226.7,494.9 1177.5,500.9 1128.3,507 1079.2,513.2 1030,519.3 980.8,525.6 931.7,531.8 882.5,538.1 833.3,544.5 784.2,550.9 735,557.3 685.8,563.8 636.7,570.4 587.5,576.9 538.3,583.6 489.2,590.2 440,596.9" fill="#fd0000"/>
<polygon points="440,591.4 489.2,584.8 538.3,578.2 587.5,571.6 636.7,565.1 685.8,558.6 735,552.2 784.2,545.8 833.3,539.4 882.5,533.1 931.7,526.8 980.8,520.6 1030,514.4 1079.2,508.2 1128.3,502.1 1177.5,496 1226.7,490 1275.8,483.9 1325,478 1374.2,472 1423.3,466.1 1472.5,460.3 1521.7,454.5 1570.8,448.7 1620,442.9 1620,453.3 1570.8,459 1521.7,464.6 1472.5,470.4 1423.3,476.2 1374.2,482 1325,487.9 1275.8,493.8 1226.7,499.8 1177.5,505.9 1128.3,511.9 1079.2,518.1 1030,524.3 980.8,530.5 931.7,536.8 882.5,543.1 833.3,549.5 784.2,556 735,562.5 685.8,569 636.7,575.6 587.5,582.3 538.3,588.9 489.2,595.7 440,602.5" fill="#fd0000"/>
<polygon points="440,596.9 489.2,590.2 538.3,583.6 587.5,576.9 636.7,570.4 685.8,563.8 735,557.3 784.2,550.9 833.3,544.5 882.5,538.1 931.7,531.8 980.8,525.6 1030,519.3 1079.2,513.2 1128.3,507 1177.5,500.9 1226.7,494.9 1275.8,488.9 1325,482.9 1374.2,477 1423.3,471.2 1472.5,465.3 1521.7,459.6 1570.8,453.8 1620,448.1 1620,458.5 1570.8,464.1 1521.7,469.7 1472.5,475.4 1423.3,481.2 1374.2,487 1325,492.8 1275.8,498.8 1226.7,504.7 1177.5,510.8 1128.3,516.9 1079.2,523 1030,529.2 980.8,535.5 931.7,541.8 882.5,548.2 833.3,554.6 784.2,561.1 735,567.6 685.8,574.2 636.7,580.9 587.5,587.6 538.3,594.3 489.2,601.2 440,608" fill="#fe0000"/>
<polygon points="440,602.5 489.2,595.7 538.3,588.9 587.5,582.3 636.7,575.6 685.8,569 735,562.5 784.2,556 833.3,549.5 882.5,543.1 931.7,536.8 980.8,530.5 1030,524.3 1079.2,518.1 1128.3,511.9 1177.5,505.9 1226.7,499.8 1275.8,493.8 1325,487.9 1374.2,482 1423.3,476.2 1472.5,470.4 1521.7,464.6 1570.8,459 1620,453.3 1620,463.7 1570.8,469.2 1521.7,474.8 1472.5,480.5 1423.3,486.2 1374.2,492 1325,497.8 1275.8,503.7 1226.7,509.7 1177.5,515.7 1128.3,521.8 1079.2,527.9 1030,534.2 980.8,540.4 931.7,546.8 882.5,553.2 833.3,559.6 784.2,566.2 735,572.7 685.8,579.4 636.7,586.1 587.5,592.9 538.3,599.7 489.2,606.6 440,613.6" fill="#fe0000"/>
<polygon points="440,608 489.2,601.2 538.3,594.3 587.5,587.6 636.7,580.9 685.8,574.2 735,567.6 784.2,561.1 833.3,554.6 882.5,548.2 931.7,541.8 980.8,535.5 1030,529.2 1079.2,523 1128.3,516.9 1177.5,510.8 1226.7,504.7 1275.8,498.8 1325,492.8 1374.2,487 1423.3,481.2 1472.5,475.4 1521.7,469.7 1570.8,464.1 1620,458.5 1620,468.9 1570.8,474.4 1521.7,479.9 1472.5,485.5 1423.3,491.2 1374.2,497 1325,502.8 1275.8,508.7 1226.7,514.6 1177.5,520.6 1128.3,526.7 1079.2,532.9 1030,539.1 980.8,545.4 931.7,551.7 882.5,558.2 833.3,564.7 784.2,571.2 735,577.9 685.8,584.6 636.7,591.4 587.5,598.2 538.3,605.1 489.2,612.1 440,619.1" fill="#fe0000"/>
<polygon points="440,613.6 489.2,606.6 538.3,599.7 587.5,592.9 636.7,586.1 685.8,579.4 735,572.7 784.2,566.2 833.3,559.6 882.5,553.2 931.7,546.8 980.8,540.4 1030,534.2 1079.2,527.9 1128.3,521.8 1177.5,515.7 1226.7,509.7 1275.8,503.7 1325,497.8 1374.2,492 1423.3,486.2 1472.5,480.5 1521.7,474.8 1570.8,469.2 1620,463.7 1620,474.1 1570.8,479.5 1521.7,485 1472.5,490.6 1423.3,496.2 1374.2,501.9 1325,507.7 1275.8,513.6 1226.7,519.5 1177.5,525.5 1128.3,531.6 1079.2,537.8 1030,544 980.8,550.3 931.7,556.7 882.5,563.2 833.3,569.7 784.2,576.3 735,583 685.8,589.8 636.7,596.6 587.5,603.5 538.3,610.5 489.2,617.5 440,624.7" fill="#fe0000"/>
<polygon points="440,619.1 489.2,612.1 538.3,605.1 587.5,598.2 636.7,591.4 685.8,584.6 735,577.9 784.2,571.2 833.3,564.7 882.5,558.2 931.7,551.7 980.8,545.4 1030,539.1 1079.2,532.9 1128.3,526.7 1177.5,520.6 1226.7,514.6 1275.8,508.7 1325,502.8 1374.2,497 1423.3,491.2 1472.5,485.5 1521.7,479.9 1570.8,474.4 1620,468.9 1620,479.3 1570.8,484.6 1521.7,490.1 1472.5,495.6 1423.3,501.2 1374.2,506.9 1325,512.7 1275.8,518.5 1226.7,524.5 1177.5,530.5 1128.3,536.6 1079.2,542.7 1030,549 980.8,555.3 931.7,561.7 882.5,568.2 833.3,574.8 784.2,581.4 735,588.1 685.8,595 636.7,601.8 587.5,608.8 538.3,615.9 489.2,623 440,630.2" fill="#fe0000"/>
<polygon points="440,624.7 489.2,617.5 538.3,610.5 587.5,603.5 636.7,596.6 685.8,589.8 735,583 784.2,576.3 833.3,569.7 882.5,563.2 931.7,556.7 980.8,550.3 1030,544 1079.2,537.8 1128.3,531.6 1177.5,525.5 1226.7,519.5 1275.8,513.6 1325,507.7 1374.2,501.9 1423.3,496.2 1472.5,490.6 1521.7,485 1570.8,479.5 1620,474.1 1620,484.2 1570.8,489.6 1521.7,495 1472.5,500.5 1423.3,506 1374.2,511.7 1325,517.5 1275.8,523.3 1226.7,529.2 1177.5,535.2 1128.3,541.3 1079.2,547.5 1030,553.8 980.8,560.1 931.7,566.6 882.5,573.1 833.3,579.7 784.2,586.4 735,593.2 685.8,600 636.7,607 587.5,614 538.3,621.1 489.2,628.3 440,635.6" fill="#fe0000"/>
<polygon points="440,630.2 489.2,623 538.3,615.9 587.5,608.8 636.7,601.8 685.8,595 735,588.1 784.2,581.4 833.3,574.8 882.5,568.2 931.7,561.7 980.8,555.3 1030,549 1079.2,542.7 1128.3,536.6 1177.5,530.5 1226.7,524.5 1275.8,518.5 1325,512.7 1374.2,506.9 1423.3,501.2 1472.5,495.6 1521.7,490.1 1570.8,484.6 1620,479.3 1620,488.9 1570.8,494.2 1521.7,499.6 1472.5,505 1423.3,510.6 1374.2,516.2 1325,522 1275.8,527.8 1226.7,533.7 1177.5,539.8 1128.3,545.9 1079.2,552.1 1030,558.4 980.8,564.7 931.7,571.2 882.5,577.8 833.3,584.4 784.2,591.2 735,598 685.8,604.9 636.7,611.9 587.5,619 538.3,626.2 489.2,633.5 440,640.9" fill="#fe0000"/>
<polygon points="440,635.6 489.2,628.3 538.3,621.1 587.5,614 636.7,607 685.8,600 735,593.2 784.2,586.4 833.3,579.7 882.5,573.1 931.7,566.6 980.8,560.1 1030,553.8 1079.2,547.5 1128.3,541.3 1177.5,535.2 1226.7,529.2 1275.8,523.3 1325,517.5 1374.2,511.7 1423.3,506 1472.5,500.5 1521.7,495 1570.8,489.6 1620,484.2 1620,493.6 1570.8,498.8 1521.7,504.2 1472.5,509.6 1423.3,515.1 1374.2,520.8 1325,526.5 1275.8,532.3 1226.7,538.3 1177.5,544.3 1128.3,550.4 1079.2,556.6 1030,562.9 980.8,569.3 931.7,575.9 882.5,582.5 833.3,589.2 784.2,595.9 735,602.8 685.8,609.8 636.7,616.9 587.5,624.1 538.3,631.4 489.2,638.7 440,646.2" fill="#ff0000"/>
<polygon points="440,640.9 489.2,633.5 538.3,626.2 587.5,619 636.7,611.9 685.8,604.9 735,598 784.2,591.2 833.3,584.4 882.5,577.8 931.7,571.2 980.8,564.7 1030,558.4 1079.2,552.1 1128.3,545.9 1177.5,539.8 1226.7,533.7 1275.8,527.8 1325,522 1374.2,516.2 1423.3,510.6 1472.5,505 1521.7,499.6 1570.8,494.2 1620,488.9 1620,498.2 1570.8,503.4 1521.7,508.8 1472.5,514.2 1423.3,519.7 1374.2,525.3 1325,531 1275.8,536.9 1226.7,542.8 1177.5,548.8 1128.3,555 1079.2,561.2 1030,567.5 980.8,574 931.7,580.5 882.5,587.1 833.3,593.9 784.2,600.7 735,607.7 685.8,614.7 636.7,621.9 587.5,629.1 538.3,636.5 489.2,643.9 440,651.5" fill="#ff0000"/>
<polygon points="440,646.2 489.2,638.7 538.3,631.4 587.5,624.1 636.7,616.9 685.8,609.8 735,602.8 784.2,595.9 833.3,589.2 882.5,582.5 931.7,575.9 980.8,569.3 1030,562.9 1079.2,556.6 1128.3,550.4 1177.5,544.3 1226.7,538.3 1275.8,532.3 1325,526.5 1374.2,520.8 1423.3,515.1 1472.5,509.6 1521.7,504.2 1570.8,498.8 1620,493.6 1620,502.9 1570.8,508.1 1521.7,513.4 1472.5,518.7 1423.3,524.2 1374.2,529.9 1325,535.6 1275.8,541.4 1226.7,547.3 1177.5,553.4 1128.3,559.5 1079.2,565.8 1030,572.1 980.8,578.6 931.7,585.2 882.5,591.8 833.3,598.6 784.2,605.5 735,612.5 685.8,619.6 636.7,626.8 587.5,634.2 538.3,641.6 489.2,649.1 440,656.8" fill="#ff0000"/>
<polygon points="440,651.5 489.2,643.9 538.3,636.5 587.5,629.1 636.7,621.9 685.8,614.7 735,607.7 784.2,600.7 833.3,593.9 882.5,587.1 931.7,580.5 980.8,574 1030,567.5 1079.2,561.2 1128.3,555 1177.5,548.8 1226.7,542.8 1275.8,536.9 1325,531 1374.2,525.3 1423.3,519.7 1472.5,514.2 1521.7,508.8 1570.8,503.4 1620,498.2 1620,507.6 1570.8,512.7 1521.7,518 1472.5,523.3 1423.3,528.8 1374.2,534.4 1325,540.1 1275.8,545.9 1226.7,551.8 1177.5,557.9 1128.3,564 1079.2,570.3 1030,576.7 980.8,583.2 931.7,589.8 882.5,596.5 833.3,603.4 784.2,610.3 735,617.4 685.8,624.5 636.7,631.8 587.5,639.2 538.3,646.7 489.2,654.3 440,662.1" fill="#ff0400"/>
<polygon points="440,656.8 489.2,649.1 538.3,641.6 587.5,634.2 636.7,626.8 685.8,619.6 735,612.5 784.2,605.5 833.3,598.6 882.5,591.8 931.7,585.2 980.8,578.6 1030,572.1 1079.2,565.8 1128.3,559.5 1177.5,553.4 1226.7,547.3 1275.8,541.4 1325,535.6 1374.2,529.9 1423.3,524.2 1472.5,518.7 1521.7,513.4 1570.8,508.1 1620,502.9 1620,512.2 1570.8,517.3 1521.7,522.5 1472.5,527.9 1423.3,533.3 1374.2,538.9 1325,544.6 1275.8,550.4 1226.7,556.4 1177.5,562.4 1128.3,568.6 1079.2,574.9 1030,581.3 980.8,587.8 931.7,594.5 882.5,601.2 833.3,608.1 784.2,615.1 735,622.2 685.8,629.4 636.7,636.8 587.5,644.2 538.3,651.8 489.2,659.5 440,667.4" fill="#ff0c00"/>
<polygon points="440,662.1 489.2,654.3 538.3,646.7 587.5,639.2 636.7,631.8 685.8,624.5 735,617.4 784.2,610.3 833.3,603.4 882.5,596.5 931.7,589.8 980.8,583.2 1030,576.7 1079.2,570.3 1128.3,564 1177.5,557.9 1226.7,551.8 1275.8,545.9 1325,540.1 1374.2,534.4 1423.3,528.8 1472.5,523.3 1521.7,518 1570.8,512.7 1620,507.6 1620,516.9 1570.8,521.9 1521.7,527.1 1472.5,532.5 1423.3,537.9 1374.2,543.5 1325,549.2 1275.8,555 1226.7,560.9 1177.5,567 1128.3,573.1 1079.2,579.4 1030,585.9 980.8,592.4 931.7,599.1 882.5,605.9 833.3,612.8 784.2,619.9 735,627 685.8,634.3 636.7,641.7 587.5,649.3 538.3,656.9 489.2,664.7 440,672.6" fill="#ff1400"/>
<polygon points="440,667.4 489.2,659.5 538.3,651.8 587.5,644.2 636.7,636.8 685.8,629.4 735,622.2 784.2,615.1 833.3,608.1 882.5,601.2 931.7,594.5 980.8,587.8 1030,581.3 1079.2,574.9 1128.3,568.6 1177.5,562.4 1226.7,556.4 1275.8,550.4 1325,544.6 1374.2,538.9 1423.3,533.3 1472.5,527.9 1521.7,522.5 1570.8,517.3 1620,512.2 1620,521.5 1570.8,526.6 1521.7,531.7 1472.5,537 1423.3,542.5 1374.2,548 1325,553.7 1275.8,559.5 1226.7,565.4 1177.5,571.5 1128.3,577.7 1079.2,584 1030,590.5 980.8,597 931.7,603.7 882.5,610.6 833.3,617.6 784.2,624.7 735,631.9 685.8,639.2 636.7,646.7 587.5,654.3 538.3,662.1 489.2,669.9 440,677.9" fill="#ff1d00"/>
<polygon points="440,672.6 489.2,664.7 538.3,656.9 587.5,649.3 636.7,641.7 685.8,634.3 735,627 784.2,619.9 833.3,612.8 882.5,605.9 931.7,599.1 980.8,592.4 1030,585.9 1079.2,579.4 1128.3,573.1 1177.5,567 1226.7,560.9 1275.8,555 1325,549.2 1374.2,543.5 1423.3,537.9 1472.5,532.5 1521.7,527.1 1570.8,521.9 1620,516.9 1620,526.2 1570.8,531.2 1521.7,536.3 1472.5,541.6 1423.3,547 1374.2,552.5 1325,558.2 1275.8,564 1226.7,570 1177.5,576 1128.3,582.2 1079.2,588.6 1030,595 980.8,601.7 931.7,608.4 882.5,615.3 833.3,622.3 784.2,629.4 735,636.7 685.8,644.1 636.7,651.7 587.5,659.4 538.3,667.2 489.2,675.1 440,683.2" fill="#ff2500"/>
<polygon points="440,677.9 489.2,669.9 538.3,662.1 587.5,654.3 636.7,646.7 685.8,639.2 735,631.9 784.2,624.7 833.3,617.6 882.5,610.6 931.7,603.7 980.8,597 1030,590.5 1079.2,584 1128.3,577.7 1177.5,571.5 1226.7,565.4 1275.8,559.5 1325,553.7 1374.2,548 1423.3,542.5 1472.5,537 1521.7,531.7 1570.8,526.6 1620,521.5 1620,530.9 1570.8,535.8 1521.7,540.9 1472.5,546.2 1423.3,551.6 1374.2,557.1 1325,562.7 1275.8,568.5 1226.7,574.5 1177.5,580.6 1128.3,586.8 1079.2,593.1 1030,599.6 980.8,606.3 931.7,613 882.5,620 833.3,627 784.2,634.2 735,641.6 685.8,649 636.7,656.6 587.5,664.4 538.3,672.3 489.2,680.3 440,688.5" fill="#ff2d00"/>
<polygon points="440,683.2 489.2,675.1 538.3,667.2 587.5,659.4 636.7,651.7 685.8,644.1 735,636.7 784.2,629.4 833.3,622.3 882.5,615.3 931.7,608.4 980.8,601.7 1030,595 1079.2,588.6 1128.3,582.2 1177.5,576 1226.7,570 1275.8,564 1325,558.2 1374.2,552.5 1423.3,547 1472.5,541.6 1521.7,536.3 1570.8,531.2 1620,526.2 1620,535.5 1570.8,540.5 1521.7,545.5 1472.5,550.7 1423.3,556.1 1374.2,561.6 1325,567.3 1275.8,573.1 1226.7,579 1177.5,585.1 1128.3,591.3 1079.2,597.7 1030,604.2 980.8,610.9 931.7,617.7 882.5,624.7 833.3,631.8 784.2,639 735,646.4 685.8,653.9 636.7,661.6 587.5,669.4 538.3,677.4 489.2,685.5 440,693.8" fill="#ff3500"/>
<polygon points="440,688.5 489.2,680.3 538.3,672.3 587.5,664.4 636.7,656.6 685.8,649 735,641.6 784.2,634.2 833.3,627 882.5,620 931.7,613 980.8,606.3 1030,599.6 1079.2,593.1 1128.3,586.8 1177.5,580.6 1226.7,574.5 1275.8,568.5 1325,562.7 1374.2,557.1 1423.3,551.6 1472.5,546.2 1521.7,540.9 1570.8,535.8 1620,530.9 1620,540.2 1570.8,545.1 1521.7,550.1 1472.5,555.3 1423.3,560.7 1374.2,566.1 1325,571.8 1275.8,577.6 1226.7,583.5 1177.5,589.6 1128.3,595.9 1079.2,602.3 1030,608.8 980.8,615.5 931.7,622.3 882.5,629.3 833.3,636.5 784.2,643.8 735,651.2 685.8,658.8 636.7,666.6 587.5,674.5 538.3,682.5 489.2,690.7 440,699.1" fill="#ff3d00"/>
<polygon points="440,693.8 489.2,685.5 538.3,677.4 587.5,669.4 636.7,661.6 685.8,653.9 735,646.4 784.2,639 833.3,631.8 882.5,624.7 931.7,617.7 980.8,610.9 1030,604.2 1079.2,597.7 1128.3,591.3 1177.5,585.1 1226.7,579 1275.8,573.1 1325,567.3 1374.2,561.6 1423.3,556.1 1472.5,550.7 1521.7,545.5 1570.8,540.5 1620,535.5 1620,544.8 1570.8,549.7 1521.7,554.7 1472.5,559.9 1423.3,565.2 1374.2,570.7 1325,576.3 1275.8,582.1 1226.7,588.1 1177.5,594.2 1128.3,600.4 1079.2,606.8 1030,613.4 980.8,620.1 931.7,627 882.5,634 833.3,641.2 784.2,648.6 735,656.1 685.8,663.7 636.7,671.6 587.5,679.5 538.3,687.6 489.2,695.9 440,704.4" fill="#ff4500"/>
<polygon points="440,699.1 489.2,690.7 538.3,682.5 587.5,674.5 636.7,666.6 685.8,658.8 735,651.2 784.2,643.8 833.3,636.5 882.5,629.3 931.7,622.3 980.8,615.5 1030,608.8 1079.2,602.3 1128.3,595.9 1177.5,589.6 1226.7,583.5 1275.8,577.6 1325,571.8 1374.2,566.1 1423.3,560.7 1472.5,555.3 1521.7,550.1 1570.8,545.1 1620,540.2 1620,549.5 1570.8,554.3 1521.7,559.3 1472.5,564.5 1423.3,569.8 1374.2,575.2 1325,580.8 1275.8,586.6 1226.7,592.6 1177.5,598.7 1128.3,605 1079.2,611.4 1030,618 980.8,624.7 931.7,631.6 882.5,638.7 833.3,646 784.2,653.4 735,660.9 685.8,668.6 636.7,676.5 587.5,684.6 538.3,692.8 489.2,701.1 440,709.7" fill="#ff4e00"/>
<polygon points="440,704.4 489.2,695.9 538.3,687.6 587.5,679.5 636.7,671.6 685.8,663.7 735,656.1 784.2,648.6 833.3,641.2 882.5,634 931.7,627 980.8,620.1 1030,613.4 1079.2,606.8 1128.3,600.4 1177.5,594.2 1226.7,588.1 1275.8,582.1 1325,576.3 1374.2,570.7 1423.3,565.2 1472.5,559.9 1521.7,554.7 1570.8,549.7 1620,544.8 1620,554.2 1570.8,559 1521.7,563.9 1472.5,569 1423.3,574.3 1374.2,579.8 1325,585.4 1275.8,591.2 1226.7,597.1 1177.5,603.2 1128.3,609.5 1079.2,616 1030,622.6 980.8,629.3 931.7,636.3 882.5,643.4 833.3,650.7 784.2,658.1 735,665.8 685.8,673.5 636.7,681.5 587.5,689.6 538.3,697.9 489.2,706.3 440,714.9" fill="#ff5600"/>
<polygon points="440,709.7 489.2,701.1 538.3,692.8 587.5,684.6 636.7,676.5 685.8,668.6 735,660.9 784.2,653.4 833.3,646 882.5,638.7 931.7,631.6 980.8,624.7 1030,618 1079.2,611.4 1128.3,605 1177.5,598.7 1226.7,592.6 1275.8,586.6 1325,580.8 1374.2,575.2 1423.3,569.8 1472.5,564.5 1521.7,559.3 1570.8,554.3 1620,549.5 1620,558.8 1570.8,563.6 1521.7,568.5 1472.5,573.6 1423.3,578.9 1374.2,584.3 1325,589.9 1275.8,595.7 1226.7,601.6 1177.5,607.8 1128.3,614 1079.2,620.5 1030,627.2 980.8,634 931.7,640.9 882.5,648.1 833.3,655.4 784.2,662.9 735,670.6 685.8,678.4 636.7,686.5 587.5,694.6 538.3,703 489.2,711.5 440,720.2" fill="#ff5e00"/>
<polygon points="440,714.9 489.2,706.3 538.3,697.9 587.5,689.6 636.7,681.5 685.8,673.5 735,665.8 784.2,658.1 833.3,650.7 882.5,643.4 931.7,636.3 980.8,629.3 1030,622.6 1079.2,616 1128.3,609.5 1177.5,603.2 1226.7,597.1 1275.8,591.2 1325,585.4 1374.2,579.8 1423.3,574.3 1472.5,569 1521.7,563.9 1570.8,559 1620,554.2 1620,563.4 1570.8,568.1 1521.7,573 1472.5,578.1 1423.3,583.3 1374.2,588.7 1325,594.3 1275.8,600.1 1226.7,606.1 1177.5,612.2 1128.3,618.5 1079.2,625 1030,631.6 980.8,638.5 931.7,645.5 882.5,652.7 833.3,660 784.2,667.6 735,675.3 685.8,683.2 636.7,691.2 587.5,699.5 538.3,707.9 489.2,716.5 440,725.3" fill="#ff6600"/>
<polygon points="440,720.2 489.2,711.5 538.3,703 587.5,694.6 636.7,686.5 685.8,678.4 735,670.6 784.2,662.9 833.3,655.4 882.5,648.1 931.7,640.9 980.8,634 1030,627.2 1079.2,620.5 1128.3,614 1177.5,607.8 1226.7,601.6 1275.8,595.7 1325,589.9 1374.2,584.3 1423.3,578.9 1472.5,573.6 1521.7,568.5 1570.8,563.6 1620,558.8 1620,567.7 1570.8,572.3 1521.7,577.2 1472.5,582.3 1423.3,587.5 1374.2,592.9 1325,598.5 1275.8,604.3 1226.7,610.2 1177.5,616.4 1128.3,622.7 1079.2,629.2 1030,635.8 980.8,642.7 931.7,649.7 882.5,656.9 833.3,664.3 784.2,671.9 735,679.6 685.8,687.5 636.7,695.6 587.5,703.9 538.3,712.4 489.2,721 440,729.8" fill="#ff6e00"/>
<polygon points="440,725.3 489.2,716.5 538.3,707.9 587.5,699.5 636.7,691.2 685.8,683.2 735,675.3 784.2,667.6 833.3,660 882.5,652.7 931.7,645.5 980.8,638.5 1030,631.6 1079.2,625 1128.3,618.5 1177.5,612.2 1226.7,606.1 1275.8,600.1 1325,594.3 1374.2,588.7 1423.3,583.3 1472.5,578.1 1521.7,573 1570.8,568.1 1620,563.4 1620,571.9 1570.8,576.6 1521.7,581.5 1472.5,586.5 1423.3,591.7 1374.2,597.1 1325,602.7 1275.8,608.5 1226.7,614.4 1177.5,620.5 1128.3,626.9 1079.2,633.3 1030,640 980.8,646.9 931.7,653.9 882.5,661.1 833.3,668.5 784.2,676.1 735,683.9 685.8,691.9 636.7,700 587.5,708.3 538.3,716.8 489.2,725.5 440,734.3" fill="#ff7600"/>
<polygon points="440,729.8 489.2,721 538.3,712.4 587.5,703.9 636.7,695.6 685.8,687.5 735,679.6 784.2,671.9 833.3,664.3 882.5,656.9 931.7,649.7 980.8,642.7 1030,635.8 1079.2,629.2 1128.3,622.7 1177.5,616.4 1226.7,610.2 1275.8,604.3 1325,598.5 1374.2,592.9 1423.3,587.5 1472.5,582.3 1521.7,577.2 1570.8,572.3 1620,567.7 1620,576.2 1570.8,580.8 1521.7,585.7 1472.5,590.7 1423.3,595.9 1374.2,601.3 1325,606.9 1275.8,612.6 1226.7,618.6 1177.5,624.7 1128.3,631 1079.2,637.5 1030,644.2 980.8,651.1 931.7,658.1 882.5,665.4 833.3,672.8 784.2,680.4 735,688.2 685.8,696.2 636.7,704.4 587.5,712.7 538.3,721.2 489.2,730 440,738.9" fill="#ff7f00"/>
<polygon points="440,734.3 489.2,725.5 538.3,716.8 587.5,708.3 636.7,700 685.8,691.9 735,683.9 784.2,676.1 833.3,668.5 882.5,661.1 931.7,653.9 980.8,646.9 1030,640 1079.2,633.3 1128.3,626.9 1177.5,620.5 1226.7,614.4 1275.8,608.5 1325,602.7 1374.2,597.1 1423.3,591.7 1472.5,586.5 1521.7,581.5 1570.8,576.6 1620,571.9 1620,580.5 1570.8,585.1 1521.7,589.9 1472.5,594.9 1423.3,600.1 1374.2,605.5 1325,611.1 1275.8,616.8 1226.7,622.8 1177.5,628.9 1128.3,635.2 1079.2,641.7 1030,648.4 980.8,655.3 931.7,662.4 882.5,669.6 833.3,677.1 784.2,684.7 735,692.5 685.8,700.5 636.7,708.7 587.5,717.1 538.3,725.7 489.2,734.4 440,743.4" fill="#ff8700"/>
<polygon points="440,738.9 489.2,730 538.3,721.2 587.5,712.7 636.7,704.4 685.8,696.2 735,688.2 784.2,680.4 833.3,672.8 882.5,665.4 931.7,658.1 980.8,651.1 1030,644.2 1079.2,637.5 1128.3,631 1177.5,624.7 1226.7,618.6 1275.8,612.6 1325,606.9 1374.2,601.3 1423.3,595.9 1472.5,590.7 1521.7,585.7 1570.8,580.8 1620,576.2 1620,584.7 1570.8,589.3 1521.7,594.1 1472.5,599.1 1423.3,604.3 1374.2,609.7 1325,615.2 1275.8,621 1226.7,626.9 1177.5,633.1 1128.3,639.4 1079.2,645.9 1030,652.6 980.8,659.5 931.7,666.6 882.5,673.9 833.3,681.3 784.2,689 735,696.8 685.8,704.9 636.7,713.1 587.5,721.5 538.3,730.1 489.2,738.9 440,747.9" fill="#ff8f00"/>
<polygon points="440,743.4 489.2,734.4 538.3,725.7 587.5,717.1 636.7,708.7 685.8,700.5 735,692.5 784.2,684.7 833.3,677.1 882.5,669.6 931.7,662.4 980.8,655.3 1030,648.4 1079.2,641.7 1128.3,635.2 1177.5,628.9 1226.7,622.8 1275.8,616.8 1325,611.1 1374.2,605.5 1423.3,600.1 1472.5,594.9 1521.7,589.9 1570.8,585.1 1620,580.5 1620,589 1570.8,593.6 1521.7,598.4 1472.5,603.3 1423.3,608.5 1374.2,613.9 1325,619.4 1275.8,625.2 1226.7,631.1 1177.5,637.3 1128.3,643.6 1079.2,650.1 1030,656.8 980.8,663.7 931.7,670.8 882.5,678.1 833.3,685.6 784.2,693.3 735,701.1 685.8,709.2 636.7,717.5 587.5,725.9 538.3,734.5 489.2,743.4 440,752.4" fill="#ff9700"/>
<polygon points="440,747.9 489.2,738.9 538.3,730.1 587.5,721.5 636.7,713.1 685.8,704.9 735,696.8 784.2,689 833.3,681.3 882.5,673.9 931.7,666.6 980.8,659.5 1030,652.6 1079.2,645.9 1128.3,639.4 1177.5,633.1 1226.7,626.9 1275.8,621 1325,615.2 1374.2,609.7 1423.3,604.3 1472.5,599.1 1521.7,594.1 1570.8,589.3 1620,584.7 1620,593.3 1570.8,597.8 1521.7,602.6 1472.5,607.6 1423.3,612.7 1374.2,618.1 1325,623.6 1275.8,629.4 1226.7,635.3 1177.5,641.4 1128.3,647.8 1079.2,654.3 1030,661 980.8,667.9 931.7,675 882.5,682.3 833.3,689.9 784.2,697.6 735,705.4 685.8,713.5 636.7,721.8 587.5,730.3 538.3,739 489.2,747.9 440,756.9" fill="#ff9f00"/>
<polygon points="440,752.4 489.2,743.4 538.3,734.5 587.5,725.9 636.7,717.5 685.8,709.2 735,701.1 784.2,693.3 833.3,685.6 882.5,678.1 931.7,670.8 980.8,663.7 1030,656.8 1079.2,650.1 1128.3,643.6 1177.5,637.3 1226.7,631.1 1275.8,625.2 1325,619.4 1374.2,613.9 1423.3,608.5 1472.5,603.3 1521.7,598.4 1570.8,593.6 1620,589 1620,597.5 1570.8,602.1 1521.7,606.8 1472.5,611.8 1423.3,616.9 1374.2,622.3 1325,627.8 1275.8,633.5 1226.7,639.5 1177.5,645.6 1128.3,651.9 1079.2,658.5 1030,665.2 980.8,672.1 931.7,679.3 882.5,686.6 833.3,694.1 784.2,701.8 735,709.8 685.8,717.9 636.7,726.2 587.5,734.7 538.3,743.4 489.2,752.3 440,761.4" fill="#ffa700"/>
<polygon points="440,756.9 489.2,747.9 538.3,739 587.5,730.3 636.7,721.8 685.8,713.5 735,705.4 784.2,697.6 833.3,689.9 882.5,682.3 931.7,675 980.8,667.9 1030,661 1079.2,654.3 1128.3,647.8 1177.5,641.4 1226.7,635.3 1275.8,629.4 1325,623.6 1374.2,618.1 1423.3,612.7 1472.5,607.6 1521.7,602.6 1570.8,597.8 1620,593.3 1620,601.8 1570.8,606.3 1521.7,611.1 1472.5,616 1423.3,621.1 1374.2,626.5 1325,632 1275.8,637.7 1226.7,643.7 1177.5,649.8 1128.3,656.1 1079.2,662.7 1030,669.4 980.8,676.3 931.7,683.5 882.5,690.8 833.3,698.4 784.2,706.1 735,714.1 685.8,722.2 636.7,730.6 587.5,739.1 538.3,747.9 489.2,756.8 440,766" fill="#ffb000"/>
<polygon points="440,761.4 489.2,752.3 538.3,743.4 587.5,734.7 636.7,726.2 685.8,717.9 735,709.8 784.2,701.8 833.3,694.1 882.5,686.6 931.7,679.3 980.8,672.1 1030,665.2 1079.2,658.5 1128.3,651.9 1177.5,645.6 1226.7,639.5 1275.8,633.5 1325,627.8 1374.2,622.3 1423.3,616.9 1472.5,611.8 1521.7,606.8 1570.8,602.1 1620,597.5 1620,606.1 1570.8,610.6 1521.7,615.3 1472.5,620.2 1423.3,625.3 1374.2,630.6 1325,636.2 1275.8,641.9 1226.7,647.8 1177.5,654 1128.3,660.3 1079.2,666.9 1030,673.6 980.8,680.6 931.7,687.7 882.5,695.1 833.3,702.6 784.2,710.4 735,718.4 685.8,726.5 636.7,734.9 587.5,743.5 538.3,752.3 489.2,761.3 440,770.5" fill="#ffb800"/>
<polygon points="440,766 489.2,756.8 538.3,747.9 587.5,739.1 636.7,730.6 685.8,722.2 735,714.1 784.2,706.1 833.3,698.4 882.5,690.8 931.7,683.5 980.8,676.3 1030,669.4 1079.2,662.7 1128.3,656.1 1177.5,649.8 1226.7,643.7 1275.8,637.7 1325,632 1374.2,626.5 1423.3,621.1 1472.5,616 1521.7,611.1 1570.8,606.3 1620,601.8 1620,610.3 1570.8,614.8 1521.7,619.5 1472.5,624.4 1423.3,629.5 1374.2,634.8 1325,640.4 1275.8,646.1 1226.7,652 1177.5,658.1 1128.3,664.5 1079.2,671 1030,677.8 980.8,684.8 931.7,691.9 882.5,699.3 833.3,706.9 784.2,714.7 735,722.7 685.8,730.9 636.7,739.3 587.5,747.9 538.3,756.7 489.2,765.8 440,775" fill="#ffc000"/>
<polygon points="440,770.5 489.2,761.3 538.3,752.3 587.5,743.5 636.7,734.9 685.8,726.5 735,718.4 784.2,710.4 833.3,702.6 882.5,695.1 931.7,687.7 980.8,680.6 1030,673.6 1079.2,666.9 1128.3,660.3 1177.5,654 1226.7,647.8 1275.8,641.9 1325,636.2 1374.2,630.6 1423.3,625.3 1472.5,620.2 1521.7,615.3 1570.8,610.6 1620,606.1 1620,614.6 1570.8,619.1 1521.7,623.8 1472.5,628.6 1423.3,633.7 1374.2,639 1325,644.5 1275.8,650.3 1226.7,656.2 1177.5,662.3 1128.3,668.7 1079.2,675.2 1030,682 980.8,689 931.7,696.2 882.5,703.6 833.3,711.2 784.2,719 735,727 685.8,735.2 636.7,743.7 587.5,752.3 538.3,761.2 489.2,770.2 440,779.5" fill="#ffc800"/>
<polygon points="440,775 489.2,765.8 538.3,756.7 587.5,747.9 636.7,739.3 685.8,730.9 735,722.7 784.2,714.7 833.3,706.9 882.5,699.3 931.7,691.9 980.8,684.8 1030,677.8 1079.2,671 1128.3,664.5 1177.5,658.1 1226.7,652 1275.8,646.1 1325,640.4 1374.2,634.8 1423.3,629.5 1472.5,624.4 1521.7,619.5 1570.8,614.8 1620,610.3 1620,618.9 1570.8,623.3 1521.7,628 1472.5,632.8 1423.3,637.9 1374.2,643.2 1325,648.7 1275.8,654.4 1226.7,660.4 1177.5,666.5 1128.3,672.9 1079.2,679.4 1030,686.2 980.8,693.2 931.7,700.4 882.5,707.8 833.3,715.4 784.2,723.3 735,731.3 685.8,739.6 636.7,748 587.5,756.7 538.3,765.6 489.2,774.7 440,784" fill="#ffd000"/>
<polygon points="440,779.5 489.2,770.2 538.3,761.2 587.5,752.3 636.7,743.7 685.8,735.2 735,727 784.2,719 833.3,711.2 882.5,703.6 931.7,696.2 980.8,689 1030,682 1079.2,675.2 1128.3,668.7 1177.5,662.3 1226.7,656.2 1275.8,650.3 1325,644.5 1374.2,639 1423.3,633.7 1472.5,628.6 1521.7,623.8 1570.8,619.1 1620,614.6 1620,623.2 1570.8,627.6 1521.7,632.2 1472.5,637.1 1423.3,642.1 1374.2,647.4 1325,652.9 1275.8,658.6 1226.7,664.5 1177.5,670.7 1128.3,677 1079.2,683.6 1030,690.4 980.8,697.4 931.7,704.6 882.5,712 833.3,719.7 784.2,727.5 735,735.6 685.8,743.9 636.7,752.4 587.5,761.1 538.3,770 489.2,779.2 440,788.6" fill="#ffd800"/>
<polygon points="440,784 489.2,774.7 538.3,765.6 587.5,756.7 636.7,748 685.8,739.6 735,731.3 784.2,723.3 833.3,715.4 882.5,707.8 931.7,700.4 980.8,693.2 1030,686.2 1079.2,679.4 1128.3,672.9 1177.5,666.5 1226.7,660.4 1275.8,654.4 1325,648.7 1374.2,643.2 1423.3,637.9 1472.5,632.8 1521.7,628 1570.8,623.3 1620,618.9 1620,627.4 1570.8,631.8 1521.7,636.4 1472.5,641.3 1423.3,646.3 1374.2,651.6 1325,657.1 1275.8,662.8 1226.7,668.7 1177.5,674.9 1128.3,681.2 1079.2,687.8 1030,694.6 980.8,701.6 931.7,708.8 882.5,716.3 833.3,723.9 784.2,731.8 735,739.9 685.8,748.2 636.7,756.8 587.5,765.5 538.3,774.5 489.2,783.7 440,793.1" fill="#ffe100"/>
<polygon points="440,788.6 489.2,779.2 538.3,770 587.5,761.1 636.7,752.4 685.8,743.9 735,735.6 784.2,727.5 833.3,719.7 882.5,712 931.7,704.6 980.8,697.4 1030,690.4 1079.2,683.6 1128.3,677 1177.5,670.7 1226.7,664.5 1275.8,658.6 1325,652.9 1374.2,647.4 1423.3,642.1 1472.5,637.1 1521.7,632.2 1570.8,627.6 1620,623.2 1620,631.7 1570.8,636.1 1521.7,640.7 1472.5,645.5 1423.3,650.5 1374.2,655.8 1325,661.3 1275.8,667 1226.7,672.9 1177.5,679 1128.3,685.4 1079.2,692 1030,698.8 980.8,705.8 931.7,713.1 882.5,720.5 833.3,728.2 784.2,736.1 735,744.2 685.8,752.6 636.7,761.1 587.5,769.9 538.3,778.9 489.2,788.1 440,797.6" fill="#ffe900"/>
<polygon points="440,793.1 489.2,783.7 538.3,774.5 587.5,765.5 636.7,756.8 685.8,748.2 735,739.9 784.2,731.8 833.3,723.9 882.5,716.3 931.7,708.8 980.8,701.6 1030,694.6 1079.2,687.8 1128.3,681.2 1177.5,674.9 1226.7,668.7 1275.8,662.8 1325,657.1 1374.2,651.6 1423.3,646.3 1472.5,641.3 1521.7,636.4 1570.8,631.8 1620,627.4 1620,635.9 1570.8,640.3 1521.7,644.9 1472.5,649.7 1423.3,654.7 1374.2,659.9 1325,665.4 1275.8,671.1 1226.7,677 1177.5,683.2 1128.3,689.5 1079.2,696.1 1030,702.9 980.8,710 931.7,717.2 882.5,724.7 833.3,732.4 784.2,740.3 735,748.5 685.8,756.8 636.7,765.4 587.5,774.3 538.3,783.3 489.2,792.6 440,802" fill="#fff100"/>
<polygon points="440,797.6 489.2,788.1 538.3,778.9 587.5,769.9 636.7,761.1 685.8,752.6 735,744.2 784.2,736.1 833.3,728.2 882.5,720.5 931.7,713.1 980.8,705.8 1030,698.8 1079.2,692 1128.3,685.4 1177.5,679 1226.7,672.9 1275.8,667 1325,661.3 1374.2,655.8 1423.3,650.5 1472.5,645.5 1521.7,640.7 1570.8,636.1 1620,631.7 1620,640 1570.8,644.3 1521.7,648.9 1472.5,653.6 1423.3,658.6 1374.2,663.9 1325,669.3 1275.8,675 1226.7,680.9 1177.5,687 1128.3,693.4 1079.2,699.9 1030,706.8 980.8,713.8 931.7,721.1 882.5,728.5 833.3,736.3 784.2,744.2 735,752.4 685.8,760.8 636.7,769.4 587.5,778.2 538.3,787.3 489.2,796.6 440,806.1" fill="#fff900"/>
<polygon points="440,802 489.2,792.6 538.3,783.3 587.5,774.3 636.7,765.4 685.8,756.8 735,748.5 784.2,740.3 833.3,732.4 882.5,724.7 931.7,717.2 980.8,710 1030,702.9 1079.2,696.1 1128.3,689.5 1177.5,683.2 1226.7,677 1275.8,671.1 1325,665.4 1374.2,659.9 1423.3,654.7 1472.5,649.7 1521.7,644.9 1570.8,640.3 1620,635.9 1620,644.1 1570.8,648.4 1521.7,652.9 1472.5,657.6 1423.3,662.6 1374.2,667.8 1325,673.2 1275.8,678.8 1226.7,684.7 1177.5,690.9 1128.3,697.2 1079.2,703.8 1030,710.6 980.8,717.6 931.7,724.9 882.5,732.4 833.3,740.1 784.2,748.1 735,756.3 685.8,764.7 636.7,773.3 587.5,782.2 538.3,791.3 489.2,800.7 440,810.2" fill="#fafc00"/>
<polygon points="440,806.1 489.2,796.6 538.3,787.3 587.5,778.2 636.7,769.4 685.8,760.8 735,752.4 784.2,744.2 833.3,736.3 882.5,728.5 931.7,721.1 980.8,713.8 1030,706.8 1079.2,699.9 1128.3,693.4 1177.5,687 1226.7,680.9 1275.8,675 1325,669.3 1374.2,663.9 1423.3,658.6 1472.5,653.6 1521.7,648.9 1570.8,644.3 1620,640 1620,648.2 1570.8,652.4 1521.7,656.9 1472.5,661.6 1423.3,666.5 1374.2,671.7 1325,677.1 1275.8,682.7 1226.7,688.6 1177.5,694.7 1128.3,701 1079.2,707.6 1030,714.4 980.8,721.4 931.7,728.7 882.5,736.2 833.3,744 784.2,751.9 735,760.2 685.8,768.6 636.7,777.3 587.5,786.2 538.3,795.3 489.2,804.7 440,814.3" fill="#f3fc00"/>
<polygon points="440,810.2 489.2,800.7 538.3,791.3 587.5,782.2 636.7,773.3 685.8,764.7 735,756.3 784.2,748.1 833.3,740.1 882.5,732.4 931.7,724.9 980.8,717.6 1030,710.6 1079.2,703.8 1128.3,697.2 1177.5,690.9 1226.7,684.7 1275.8,678.8 1325,673.2 1374.2,667.8 1423.3,662.6 1472.5,657.6 1521.7,652.9 1570.8,648.4 1620,644.1 1620,652.2 1570.8,656.4 1521.7,660.9 1472.5,665.5 1423.3,670.4 1374.2,675.6 1325,681 1275.8,686.6 1226.7,692.4 1177.5,698.5 1128.3,704.9 1079.2,711.4 1030,718.2 980.8,725.3 931.7,732.6 882.5,740.1 833.3,747.8 784.2,755.8 735,764 685.8,772.5 636.7,781.2 587.5,790.2 538.3,799.3 489.2,808.7 440,818.4" fill="#ebfc00"/>
<polygon points="440,814.3 489.2,804.7 538.3,795.3 587.5,786.2 636.7,777.3 685.8,768.6 735,760.2 784.2,751.9 833.3,744 882.5,736.2 931.7,728.7 980.8,721.4 1030,714.4 1079.2,707.6 1128.3,701 1177.5,694.7 1226.7,688.6 1275.8,682.7 1325,677.1 1374.2,671.7 1423.3,666.5 1472.5,661.6 1521.7,656.9 1570.8,652.4 1620,648.2 1620,656.3 1570.8,660.5 1521.7,664.9 1472.5,669.5 1423.3,674.4 1374.2,679.5 1325,684.9 1275.8,690.5 1226.7,696.3 1177.5,702.4 1128.3,708.7 1079.2,715.3 1030,722.1 980.8,729.1 931.7,736.4 882.5,743.9 833.3,751.7 784.2,759.7 735,767.9 685.8,776.4 636.7,785.2 587.5,794.1 538.3,803.3 489.2,812.8 440,822.5" fill="#e4fd00"/>
<polygon points="440,818.4 489.2,808.7 538.3,799.3 587.5,790.2 636.7,781.2 685.8,772.5 735,764 784.2,755.8 833.3,747.8 882.5,740.1 931.7,732.6 980.8,725.3 1030,718.2 1079.2,711.4 1128.3,704.9 1177.5,698.5 1226.7,692.4 1275.8,686.6 1325,681 1374.2,675.6 1423.3,670.4 1472.5,665.5 1521.7,660.9 1570.8,656.4 1620,652.2 1620,660.4 1570.8,664.5 1521.7,668.9 1472.5,673.5 1423.3,678.3 1374.2,683.4 1325,688.7 1275.8,694.3 1226.7,700.1 1177.5,706.2 1128.3,712.5 1079.2,719.1 1030,725.9 980.8,732.9 931.7,740.2 882.5,747.8 833.3,755.5 784.2,763.6 735,771.8 685.8,780.3 636.7,789.1 587.5,798.1 538.3,807.3 489.2,816.8 440,826.6" fill="#ddfd00"/>
<polygon points="440,822.5 489.2,812.8 538.3,803.3 587.5,794.1 636.7,785.2 685.8,776.4 735,767.9 784.2,759.7 833.3,751.7 882.5,743.9 931.7,736.4 980.8,729.1 1030,722.1 1079.2,715.3 1128.3,708.7 1177.5,702.4 1226.7,696.3 1275.8,690.5 1325,684.9 1374.2,679.5 1423.3,674.4 1472.5,669.5 1521.7,664.9 1570.8,660.5 1620,656.3 1620,664.5 1570.8,668.6 1521.7,672.9 1472.5,677.4 1423.3,682.3 1374.2,687.3 1325,692.6 1275.8,698.2 1226.7,704 1177.5,710.1 1128.3,716.4 1079.2,722.9 1030,729.7 980.8,736.8 931.7,744.1 882.5,751.6 833.3,759.4 784.2,767.4 735,775.7 685.8,784.3 636.7,793 587.5,802.1 538.3,811.3 489.2,820.9 440,830.7" fill="#d5fd00"/>
<polygon points="440,826.6 489.2,816.8 538.3,807.3 587.5,798.1 636.7,789.1 685.8,780.3 735,771.8 784.2,763.6 833.3,755.5 882.5,747.8 931.7,740.2 980.8,732.9 1030,725.9 1079.2,719.1 1128.3,712.5 1177.5,706.2 1226.7,700.1 1275.8,694.3 1325,688.7 1374.2,683.4 1423.3,678.3 1472.5,673.5 1521.7,668.9 1570.8,664.5 1620,660.4 1620,668.6 1570.8,672.6 1521.7,676.9 1472.5,681.4 1423.3,686.2 1374.2,691.2 1325,696.5 1275.8,702.1 1226.7,707.9 1177.5,713.9 1128.3,720.2 1079.2,726.7 1030,733.5 980.8,740.6 931.7,747.9 882.5,755.4 833.3,763.2 784.2,771.3 735,779.6 685.8,788.2 636.7,797 587.5,806 538.3,815.4 489.2,824.9 440,834.7" fill="#cefd00"/>
<polygon points="440,830.7 489.2,820.9 538.3,811.3 587.5,802.1 636.7,793 685.8,784.3 735,775.7 784.2,767.4 833.3,759.4 882.5,751.6 931.7,744.1 980.8,736.8 1030,729.7 1079.2,722.9 1128.3,716.4 1177.5,710.1 1226.7,704 1275.8,698.2 1325,692.6 1374.2,687.3 1423.3,682.3 1472.5,677.4 1521.7,672.9 1570.8,668.6 1620,664.5 1620,672.6 1570.8,676.6 1521.7,680.9 1472.5,685.4 1423.3,690.1 1374.2,695.1 1325,700.4 1275.8,705.9 1226.7,711.7 1177.5,717.7 1128.3,724 1079.2,730.6 1030,737.4 980.8,744.4 931.7,751.7 882.5,759.3 833.3,767.1 784.2,775.2 735,783.5 685.8,792.1 636.7,800.9 587.5,810 538.3,819.4 489.2,829 440,838.8" fill="#c6fd00"/>
<polygon points="440,834.7 489.2,824.9 538.3,815.4 587.5,806 636.7,797 685.8,788.2 735,779.6 784.2,771.3 833.3,763.2 882.5,755.4 931.7,747.9 980.8,740.6 1030,733.5 1079.2,726.7 1128.3,720.2 1177.5,713.9 1226.7,707.9 1275.8,702.1 1325,696.5 1374.2,691.2 1423.3,686.2 1472.5,681.4 1521.7,676.9 1570.8,672.6 1620,668.6 1620,676.7 1570.8,680.7 1521.7,684.9 1472.5,689.3 1423.3,694.1 1374.2,699 1325,704.3 1275.8,709.8 1226.7,715.6 1177.5,721.6 1128.3,727.9 1079.2,734.4 1030,741.2 980.8,748.2 931.7,755.6 882.5,763.1 833.3,771 784.2,779 735,787.4 685.8,796 636.7,804.9 587.5,814 538.3,823.4 489.2,833 440,842.9" fill="#bffe00"/>
<polygon points="440,838.8 489.2,829 538.3,819.4 587.5,810 636.7,800.9 685.8,792.1 735,783.5 784.2,775.2 833.3,767.1 882.5,759.3 931.7,751.7 980.8,744.4 1030,737.4 1079.2,730.6 1128.3,724 1177.5,717.7 1226.7,711.7 1275.8,705.9 1325,700.4 1374.2,695.1 1423.3,690.1 1472.5,685.4 1521.7,680.9 1570.8,676.6 1620,672.6 1620,680.8 1570.8,684.7 1521.7,688.9 1472.5,693.3 1423.3,698 1374.2,703 1325,708.2 1275.8,713.7 1226.7,719.4 1177.5,725.4 1128.3,731.7 1079.2,738.2 1030,745 980.8,752.1 931.7,759.4 882.5,767 833.3,774.8 784.2,782.9 735,791.3 685.8,799.9 636.7,808.8 587.5,818 538.3,827.4 489.2,837.1 440,847" fill="#b8fe00"/>
<polygon points="440,842.9 489.2,833 538.3,823.4 587.5,814 636.7,804.9 685.8,796 735,787.4 784.2,779 833.3,771 882.5,763.1 931.7,755.6 980.8,748.2 1030,741.2 1079.2,734.4 1128.3,727.9 1177.5,721.6 1226.7,715.6 1275.8,709.8 1325,704.3 1374.2,699 1423.3,694.1 1472.5,689.3 1521.7,684.9 1570.8,680.7 1620,676.7 1620,684.9 1570.8,688.7 1521.7,692.9 1472.5,697.3 1423.3,701.9 1374.2,706.9 1325,712.1 1275.8,717.5 1226.7,723.3 1177.5,729.3 1128.3,735.5 1079.2,742 1030,748.8 980.8,755.9 931.7,763.2 882.5,770.8 833.3,778.7 784.2,786.8 735,795.2 685.8,803.8 636.7,812.7 587.5,821.9 538.3,831.4 489.2,841.1 440,851.1" fill="#b0fe00"/>
<polygon points="440,847 489.2,837.1 538.3,827.4 587.5,818 636.7,808.8 685.8,799.9 735,791.3 784.2,782.9 833.3,774.8 882.5,767 931.7,759.4 980.8,752.1 1030,745 1079.2,738.2 1128.3,731.7 1177.5,725.4 1226.7,719.4 1275.8,713.7 1325,708.2 1374.2,703 1423.3,698 1472.5,693.3 1521.7,688.9 1570.8,684.7 1620,680.8 1620,688.9 1570.8,692.8 1521.7,696.9 1472.5,701.2 1423.3,705.9 1374.2,710.8 1325,716 1275.8,721.4 1226.7,727.1 1177.5,733.1 1128.3,739.4 1079.2,745.9 1030,752.7 980.8,759.7 931.7,767.1 882.5,774.7 833.3,782.5 784.2,790.7 735,799.1 685.8,807.7 636.7,816.7 587.5,825.9 538.3,835.4 489.2,845.1 440,855.2" fill="#a9fe00"/>
<polygon points="440,851.1 489.2,841.1 538.3,831.4 587.5,821.9 636.7,812.7 685.8,803.8 735,795.2 784.2,786.8 833.3,778.7 882.5,770.8 931.7,763.2 980.8,755.9 1030,748.8 1079.2,742 1128.3,735.5 1177.5,729.3 1226.7,723.3 1275.8,717.5 1325,712.1 1374.2,706.9 1423.3,701.9 1472.5,697.3 1521.7,692.9 1570.8,688.7 1620,684.9 1620,693 1570.8,696.8 1521.7,700.9 1472.5,705.2 1423.3,709.8 1374.2,714.7 1325,719.8 1275.8,725.3 1226.7,731 1177.5,736.9 1128.3,743.2 1079.2,749.7 1030,756.5 980.8,763.6 931.7,770.9 882.5,778.5 833.3,786.4 784.2,794.5 735,803 685.8,811.7 636.7,820.6 587.5,829.9 538.3,839.4 489.2,849.2 440,859.3" fill="#a1fe00"/>
<polygon points="440,855.2 489.2,845.1 538.3,835.4 587.5,825.9 636.7,816.7 685.8,807.7 735,799.1 784.2,790.7 833.3,782.5 882.5,774.7 931.7,767.1 980.8,759.7 1030,752.7 1079.2,745.9 1128.3,739.4 1177.5,733.1 1226.7,727.1 1275.8,721.4 1325,716 1374.2,710.8 1423.3,705.9 1472.5,701.2 1521.7,696.9 1570.8,692.8 1620,688.9 1620,697.1 1570.8,700.8 1521.7,704.9 1472.5,709.2 1423.3,713.7 1374.2,718.6 1325,723.7 1275.8,729.1 1226.7,734.8 1177.5,740.8 1128.3,747 1079.2,753.5 1030,760.3 980.8,767.4 931.7,774.7 882.5,782.3 833.3,790.2 784.2,798.4 735,806.9 685.8,815.6 636.7,824.6 587.5,833.9 538.3,843.4 489.2,853.2 440,863.3" fill="#9afe00"/>
<polygon points="440,859.3 489.2,849.2 538.3,839.4 587.5,829.9 636.7,820.6 685.8,811.7 735,803 784.2,794.5 833.3,786.4 882.5,778.5 931.7,770.9 980.8,763.6 1030,756.5 1079.2,749.7 1128.3,743.2 1177.5,736.9 1226.7,731 1275.8,725.3 1325,719.8 1374.2,714.7 1423.3,709.8 1472.5,705.2 1521.7,700.9 1570.8,696.8 1620,693 1620,701.2 1570.8,704.9 1521.7,708.9 1472.5,713.1 1423.3,717.7 1374.2,722.5 1325,727.6 1275.8,733 1226.7,738.7 1177.5,744.6 1128.3,750.8 1079.2,757.4 1030,764.1 980.8,771.2 931.7,778.6 882.5,786.2 833.3,794.1 784.2,802.3 735,810.7 685.8,819.5 636.7,828.5 587.5,837.8 538.3,847.4 489.2,857.3 440,867.4" fill="#93ff00"/>
<polygon points="440,863.3 489.2,853.2 538.3,843.4 587.5,833.9 636.7,824.6 685.8,815.6 735,806.9 784.2,798.4 833.3,790.2 882.5,782.3 931.7,774.7 980.8,767.4 1030,760.3 1079.2,753.5 1128.3,747 1177.5,740.8 1226.7,734.8 1275.8,729.1 1325,723.7 1374.2,718.6 1423.3,713.7 1472.5,709.2 1521.7,704.9 1570.8,700.8 1620,697.1 1620,705.3 1570.8,708.9 1521.7,712.9 1472.5,717.1 1423.3,721.6 1374.2,726.4 1325,731.5 1275.8,736.9 1226.7,742.5 1177.5,748.5 1128.3,754.7 1079.2,761.2 1030,768 980.8,775 931.7,782.4 882.5,790 833.3,797.9 784.2,806.1 735,814.6 685.8,823.4 636.7,832.5 587.5,841.8 538.3,851.4 489.2,861.3 440,871.5" fill="#8bff00"/>
<polygon points="440,867.4 489.2,857.3 538.3,847.4 587.5,837.8 636.7,828.5 685.8,819.5 735,810.7 784.2,802.3 833.3,794.1 882.5,786.2 931.7,778.6 980.8,771.2 1030,764.1 1079.2,757.4 1128.3,750.8 1177.5,744.6 1226.7,738.7 1275.8,733 1325,727.6 1374.2,722.5 1423.3,717.7 1472.5,713.1 1521.7,708.9 1570.8,704.9 1620,701.2 1620,709.1 1570.8,712.7 1521.7,716.6 1472.5,720.8 1423.3,725.3 1374.2,730.1 1325,735.1 1275.8,740.5 1226.7,746.1 1177.5,752 1128.3,758.2 1079.2,764.7 1030,771.5 980.8,778.6 931.7,785.9 882.5,793.5 833.3,801.5 784.2,809.7 735,818.1 685.8,826.9 636.7,836 587.5,845.3 538.3,854.9 489.2,864.9 440,875.1" fill="#84ff00"/>
<polygon points="440,871.5 489.2,861.3 538.3,851.4 587.5,841.8 636.7,832.5 685.8,823.4 735,814.6 784.2,806.1 833.3,797.9 882.5,790 931.7,782.4 980.8,775 1030,768 1079.2,761.2 1128.3,754.7 1177.5,748.5 1226.7,742.5 1275.8,736.9 1325,731.5 1374.2,726.4 1423.3,721.6 1472.5,717.1 1521.7,712.9 1570.8,708.9 1620,705.3 1620,712.8 1570.8,716.5 1521.7,720.3 1472.5,724.5 1423.3,729 1374.2,733.7 1325,738.8 1275.8,744.1 1226.7,749.7 1177.5,755.6 1128.3,761.8 1079.2,768.3 1030,775.1 980.8,782.1 931.7,789.4 882.5,797.1 833.3,805 784.2,813.2 735,821.7 685.8,830.4 636.7,839.5 587.5,848.8 538.3,858.5 489.2,868.4 440,878.6" fill="#79ff00"/>
<polygon points="440,875.1 489.2,864.9 538.3,854.9 587.5,845.3 636.7,836 685.8,826.9 735,818.1 784.2,809.7 833.3,801.5 882.5,793.5 931.7,785.9 980.8,778.6 1030,771.5 1079.2,764.7 1128.3,758.2 1177.5,752 1226.7,746.1 1275.8,740.5 1325,735.1 1374.2,730.1 1423.3,725.3 1472.5,720.8 1521.7,716.6 1570.8,712.7 1620,709.1 1620,716.6 1570.8,720.2 1521.7,724.1 1472.5,728.2 1423.3,732.7 1374.2,737.4 1325,742.4 1275.8,747.7 1226.7,753.3 1177.5,759.2 1128.3,765.4 1079.2,771.9 1030,778.6 980.8,785.6 931.7,793 882.5,800.6 833.3,808.5 784.2,816.7 735,825.2 685.8,833.9 636.7,843 587.5,852.4 538.3,862 489.2,871.9 440,882.1" fill="#6cff00"/>
<polygon points="440,878.6 489.2,868.4 538.3,858.5 587.5,848.8 636.7,839.5 685.8,830.4 735,821.7 784.2,813.2 833.3,805 882.5,797.1 931.7,789.4 980.8,782.1 1030,775.1 1079.2,768.3 1128.3,761.8 1177.5,755.6 1226.7,749.7 1275.8,744.1 1325,738.8 1374.2,733.7 1423.3,729 1472.5,724.5 1521.7,720.3 1570.8,716.5 1620,712.8 1620,720.4 1570.8,724 1521.7,727.8 1472.5,732 1423.3,736.4 1374.2,741.1 1325,746.1 1275.8,751.4 1226.7,756.9 1177.5,762.8 1128.3,769 1079.2,775.4 1030,782.2 980.8,789.2 931.7,796.5 882.5,804.1 833.3,812 784.2,820.2 735,828.7 685.8,837.5 636.7,846.5 587.5,855.9 538.3,865.5 489.2,875.4 440,885.7" fill="#5eff00"/>
<polygon points="440,882.1 489.2,871.9 538.3,862 587.5,852.4 636.7,843 685.8,833.9 735,825.2 784.2,816.7 833.3,808.5 882.5,800.6 931.7,793 980.8,785.6 1030,778.6 1079.2,771.9 1128.3,765.4 1177.5,759.2 1226.7,753.3 1275.8,747.7 1325,742.4 1374.2,737.4 1423.3,732.7 1472.5,728.2 1521.7,724.1 1570.8,720.2 1620,716.6 1620,724.2 1570.8,727.8 1521.7,731.6 1472.5,735.7 1423.3,740.1 1374.2,744.7 1325,749.7 1275.8,755 1226.7,760.5 1177.5,766.4 1128.3,772.5 1079.2,779 1030,785.7 980.8,792.7 931.7,800 882.5,807.6 833.3,815.5 784.2,823.7 735,832.2 685.8,841 636.7,850 587.5,859.4 538.3,869 489.2,879 440,889.2" fill="#50ff00"/>
<polygon points="440,885.7 489.2,875.4 538.3,865.5 587.5,855.9 636.7,846.5 685.8,837.5 735,828.7 784.2,820.2 833.3,812 882.5,804.1 931.7,796.5 980.8,789.2 1030,782.2 1079.2,775.4 1128.3,769 1177.5,762.8 1226.7,756.9 1275.8,751.4 1325,746.1 1374.2,741.1 1423.3,736.4 1472.5,732 1521.7,727.8 1570.8,724 1620,720.4 1620,728 1570.8,731.5 1521.7,735.3 1472.5,739.4 1423.3,743.7 1374.2,748.4 1325,753.4 1275.8,758.6 1226.7,764.1 1177.5,770 1128.3,776.1 1079.2,782.5 1030,789.2 980.8,796.3 931.7,803.6 882.5,811.2 833.3,819 784.2,827.2 735,835.7 685.8,844.5 636.7,853.5 587.5,862.9 538.3,872.6 489.2,882.5 440,892.7" fill="#43ff00"/>
<polygon points="440,889.2 489.2,879 538.3,869 587.5,859.4 636.7,850 685.8,841 735,832.2 784.2,823.7 833.3,815.5 882.5,807.6 931.7,800 980.8,792.7 1030,785.7 1079.2,779 1128.3,772.5 1177.5,766.4 1226.7,760.5 1275.8,755 1325,749.7 1374.2,744.7 1423.3,740.1 1472.5,735.7 1521.7,731.6 1570.8,727.8 1620,724.2 1620,731.8 1570.8,735.3 1521.7,739 1472.5,743.1 1423.3,747.4 1374.2,752.1 1325,757 1275.8,762.2 1226.7,767.7 1177.5,773.6 1128.3,779.7 1079.2,786.1 1030,792.8 980.8,799.8 931.7,807.1 882.5,814.7 833.3,822.6 784.2,830.7 735,839.2 685.8,848 636.7,857.1 587.5,866.4 538.3,876.1 489.2,886 440,896.3" fill="#35ff00"/>
<polygon points="440,892.7 489.2,882.5 538.3,872.6 587.5,862.9 636.7,853.5 685.8,844.5 735,835.7 784.2,827.2 833.3,819 882.5,811.2 931.7,803.6 980.8,796.3 1030,789.2 1079.2,782.5 1128.3,776.1 1177.5,770 1226.7,764.1 1275.8,758.6 1325,753.4 1374.2,748.4 1423.3,743.7 1472.5,739.4 1521.7,735.3 1570.8,731.5 1620,728 1620,735.6 1570.8,739.1 1521.7,742.8 1472.5,746.8 1423.3,751.1 1374.2,755.7 1325,760.6 1275.8,765.8 1226.7,771.3 1177.5,777.1 1128.3,783.2 1079.2,789.6 1030,796.3 980.8,803.3 931.7,810.6 882.5,818.2 833.3,826.1 784.2,834.3 735,842.7 685.8,851.5 636.7,860.6 587.5,869.9 538.3,879.6 489.2,889.6 440,899.8" fill="#28ff00"/>
<polygon points="440,896.3 489.2,886 538.3,876.1 587.5,866.4 636.7,857.1 685.8,848 735,839.2 784.2,830.7 833.3,822.6 882.5,814.7 931.7,807.1 980.8,799.8 1030,792.8 1079.2,786.1 1128.3,779.7 1177.5,773.6 1226.7,767.7 1275.8,762.2 1325,757 1374.2,752.1 1423.3,747.4 1472.5,743.1 1521.7,739 1570.8,735.3 1620,731.8 1620,739.4 1570.8,742.8 1521.7,746.5 1472.5,750.5 1423.3,754.8 1374.2,759.4 1325,764.3 1275.8,769.5 1226.7,775 1177.5,780.7 1128.3,786.8 1079.2,793.2 1030,799.9 980.8,806.9 931.7,814.1 882.5,821.7 833.3,829.6 784.2,837.8 735,846.2 685.8,855 636.7,864.1 587.5,873.5 538.3,883.1 489.2,893.1 440,903.4" fill="#1aff00"/>
<polygon points="440,899.8 489.2,889.6 538.3,879.6 587.5,869.9 636.7,860.6 685.8,851.5 735,842.7 784.2,834.3 833.3,826.1 882.5,818.2 931.7,810.6 980.8,803.3 1030,796.3 1079.2,789.6 1128.3,783.2 1177.5,777.1 1226.7,771.3 1275.8,765.8 1325,760.6 1374.2,755.7 1423.3,751.1 1472.5,746.8 1521.7,742.8 1570.8,739.1 1620,735.6 1620,743.2 1570.8,746.6 1521.7,750.3 1472.5,754.2 1423.3,758.5 1374.2,763.1 1325,767.9 1275.8,773.1 1226.7,778.6 1177.5,784.3 1128.3,790.4 1079.2,796.8 1030,803.4 980.8,810.4 931.7,817.7 882.5,825.2 833.3,833.1 784.2,841.3 735,849.8 685.8,858.5 636.7,867.6 587.5,877 538.3,886.7 489.2,896.6 440,906.9" fill="#0dff00"/>
<polygon points="440,903.4 489.2,893.1 538.3,883.1 587.5,873.5 636.7,864.1 685.8,855 735,846.2 784.2,837.8 833.3,829.6 882.5,821.7 931.7,814.1 980.8,806.9 1030,799.9 1079.2,793.2 1128.3,786.8 1177.5,780.7 1226.7,775 1275.8,769.5 1325,764.3 1374.2,759.4 1423.3,754.8 1472.5,750.5 1521.7,746.5 1570.8,742.8 1620,739.4 1620,747 1570.8,750.4 1521.7,754 1472.5,757.9 1423.3,762.2 1374.2,766.7 1325,771.6 1275.8,776.7 1226.7,782.2 1177.5,787.9 1128.3,794 1079.2,800.3 1030,807 980.8,813.9 931.7,821.2 882.5,828.8 833.3,836.6 784.2,844.8 735,853.3 685.8,862 636.7,871.1 587.5,880.5 538.3,890.2 489.2,900.2 440,910.4" fill="#00ff01"/>
<polygon points="440,906.9 489.2,896.6 538.3,886.7 587.5,877 636.7,867.6 685.8,858.5 735,849.8 784.2,841.3 833.3,833.1 882.5,825.2 931.7,817.7 980.8,810.4 1030,803.4 1079.2,796.8 1128.3,790.4 1177.5,784.3 1226.7,778.6 1275.8,773.1 1325,767.9 1374.2,763.1 1423.3,758.5 1472.5,754.2 1521.7,750.3 1570.8,746.6 1620,743.2 1620,750.8 1570.8,754.1 1521.7,757.7 1472.5,761.6 1423.3,765.9 1374.2,770.4 1325,775.2 1275.8,780.3 1226.7,785.8 1177.5,791.5 1128.3,797.5 1079.2,803.9 1030,810.5 980.8,817.5 931.7,824.7 882.5,832.3 833.3,840.1 784.2,848.3 735,856.8 685.8,865.6 636.7,874.6 587.5,884 538.3,893.7 489.2,903.7 440,914" fill="#00ff15"/>
<polygon points="440,910.4 489.2,900.2 538.3,890.2 587.5,880.5 636.7,871.1 685.8,862 735,853.3 784.2,844.8 833.3,836.6 882.5,828.8 931.7,821.2 980.8,813.9 1030,807 1079.2,800.3 1128.3,794 1177.5,787.9 1226.7,782.2 1275.8,776.7 1325,771.6 1374.2,766.7 1423.3,762.2 1472.5,757.9 1521.7,754 1570.8,750.4 1620,747 1620,754.6 1570.8,757.9 1521.7,761.5 1472.5,765.4 1423.3,769.5 1374.2,774 1325,778.8 1275.8,783.9 1226.7,789.4 1177.5,795.1 1128.3,801.1 1079.2,807.4 1030,814.1 980.8,821 931.7,828.3 882.5,835.8 833.3,843.7 784.2,851.8 735,860.3 685.8,869.1 636.7,878.1 587.5,887.5 538.3,897.2 489.2,907.2 440,917.5" fill="#00ff28"/>
<polygon points="440,914 489.2,903.7 538.3,893.7 587.5,884 636.7,874.6 685.8,865.6 735,856.8 784.2,848.3 833.3,840.1 882.5,832.3 931.7,824.7 980.8,817.5 1030,810.5 1079.2,803.9 1128.3,797.5 1177.5,791.5 1226.7,785.8 1275.8,780.3 1325,775.2 1374.2,770.4 1423.3,765.9 1472.5,761.6 1521.7,757.7 1570.8,754.1 1620,750.8 1620,758.4 1570.8,761.7 1521.7,765.2 1472.5,769.1 1423.3,773.2 1374.2,777.7 1325,782.5 1275.8,787.6 1226.7,793 1177.5,798.7 1128.3,804.7 1079.2,811 1030,817.6 980.8,824.5 931.7,831.8 882.5,839.3 833.3,847.2 784.2,855.3 735,863.8 685.8,872.6 636.7,881.7 587.5,891.1 538.3,900.7 489.2,910.7 440,921.1" fill="#00ff3c"/>
<polygon points="440,917.5 489.2,907.2 538.3,897.2 587.5,887.5 636.7,878.1 685.8,869.1 735,860.3 784.2,851.8 833.3,843.7 882.5,835.8 931.7,828.3 980.8,821 1030,814.1 1079.2,807.4 1128.3,801.1 1177.5,795.1 1226.7,789.4 1275.8,783.9 1325,778.8 1374.2,774 1423.3,769.5 1472.5,765.4 1521.7,761.5 1570.8,757.9 1620,754.6 1620,762.2 1570.8,765.4 1521.7,768.9 1472.5,772.8 1423.3,776.9 1374.2,781.4 1325,786.1 1275.8,791.2 1226.7,796.6 1177.5,802.3 1128.3,808.2 1079.2,814.6 1030,821.2 980.8,828.1 931.7,835.3 882.5,842.9 833.3,850.7 784.2,858.9 735,867.3 685.8,876.1 636.7,885.2 587.5,894.6 538.3,904.3 489.2,914.3 440,924.6" fill="#00ff4f"/>
<polygon points="440,921.1 489.2,910.7 538.3,900.7 587.5,891.1 636.7,881.7 685.8,872.6 735,863.8 784.2,855.3 833.3,847.2 882.5,839.3 931.7,831.8 980.8,824.5 1030,817.6 1079.2,811 1128.3,804.7 1177.5,798.7 1226.7,793 1275.8,787.6 1325,782.5 1374.2,777.7 1423.3,773.2 1472.5,769.1 1521.7,765.2 1570.8,761.7 1620,758.4 1620,766 1570.8,769.2 1521.7,772.7 1472.5,776.5 1423.3,780.6 1374.2,785 1325,789.8 1275.8,794.8 1226.7,800.2 1177.5,805.8 1128.3,811.8 1079.2,818.1 1030,824.7 980.8,831.6 931.7,838.8 882.5,846.4 833.3,854.2 784.2,862.4 735,870.8 685.8,879.6 636.7,888.7 587.5,898.1 538.3,907.8 489.2,917.8 440,928.1" fill="#00ff63"/>
<polygon points="440,924.6 489.2,914.3 538.3,904.3 587.5,894.6 636.7,885.2 685.8,876.1 735,867.3 784.2,858.9 833.3,850.7 882.5,842.9 931.7,835.3 980.8,828.1 1030,821.2 1079.2,814.6 1128.3,808.2 1177.5,802.3 1226.7,796.6 1275.8,791.2 1325,786.1 1374.2,781.4 1423.3,776.9 1472.5,772.8 1521.7,768.9 1570.8,765.4 1620,762.2 1620,769.8 1570.8,772.9 1521.7,776.4 1472.5,780.2 1423.3,784.3 1374.2,788.7 1325,793.4 1275.8,798.4 1226.7,803.8 1177.5,809.4 1128.3,815.4 1079.2,821.7 1030,828.3 980.8,835.2 931.7,842.4 882.5,849.9 833.3,857.7 784.2,865.9 735,874.3 685.8,883.1 636.7,892.2 587.5,901.6 538.3,911.3 489.2,921.3 440,931.7" fill="#00ff76"/>
<polygon points="440,928.1 489.2,917.8 538.3,907.8 587.5,898.1 636.7,888.7 685.8,879.6 735,870.8 784.2,862.4 833.3,854.2 882.5,846.4 931.7,838.8 980.8,831.6 1030,824.7 1079.2,818.1 1128.3,811.8 1177.5,805.8 1226.7,800.2 1275.8,794.8 1325,789.8 1374.2,785 1423.3,780.6 1472.5,776.5 1521.7,772.7 1570.8,769.2 1620,766 1620,773.3 1570.8,776.4 1521.7,779.8 1472.5,783.5 1423.3,787.6 1374.2,792 1325,796.6 1275.8,801.6 1226.7,806.9 1177.5,812.6 1128.3,818.5 1079.2,824.8 1030,831.4 980.8,838.2 931.7,845.4 882.5,853 833.3,860.8 784.2,869 735,877.4 685.8,886.2 636.7,895.3 587.5,904.7 538.3,914.5 489.2,924.5 440,934.9" fill="#00ff8a"/>
<polygon points="440,931.7 489.2,921.3 538.3,911.3 587.5,901.6 636.7,892.2 685.8,883.1 735,874.3 784.2,865.9 833.3,857.7 882.5,849.9 931.7,842.4 980.8,835.2 1030,828.3 1079.2,821.7 1128.3,815.4 1177.5,809.4 1226.7,803.8 1275.8,798.4 1325,793.4 1374.2,788.7 1423.3,784.3 1472.5,780.2 1521.7,776.4 1570.8,772.9 1620,769.8 1620,776.7 1570.8,779.8 1521.7,783.1 1472.5,786.8 1423.3,790.8 1374.2,795.2 1325,799.8 1275.8,804.8 1226.7,810 1177.5,815.7 1128.3,821.6 1079.2,827.8 1030,834.4 980.8,841.3 931.7,848.5 882.5,856 833.3,863.8 784.2,872 735,880.4 685.8,889.2 636.7,898.3 587.5,907.8 538.3,917.5 489.2,927.6 440,938" fill="#00ff9d"/>
<polygon points="440,934.9 489.2,924.5 538.3,914.5 587.5,904.7 636.7,895.3 685.8,886.2 735,877.4 784.2,869 833.3,860.8 882.5,853 931.7,845.4 980.8,838.2 1030,831.4 1079.2,824.8 1128.3,818.5 1177.5,812.6 1226.7,806.9 1275.8,801.6 1325,796.6 1374.2,792 1423.3,787.6 1472.5,783.5 1521.7,779.8 1570.8,776.4 1620,773.3 1620,780.2 1570.8,783.2 1521.7,786.5 1472.5,790.1 1423.3,794.1 1374.2,798.4 1325,803 1275.8,807.9 1226.7,813.2 1177.5,818.7 1128.3,824.6 1079.2,830.8 1030,837.4 980.8,844.3 931.7,851.5 882.5,859 833.3,866.8 784.2,875 735,883.4 685.8,892.2 636.7,901.4 587.5,910.8 538.3,920.6 489.2,930.7 440,941.1" fill="#00feb2"/>
<polygon points="440,938 489.2,927.6 538.3,917.5 587.5,907.8 636.7,898.3 685.8,889.2 735,880.4 784.2,872 833.3,863.8 882.5,856 931.7,848.5 980.8,841.3 1030,834.4 1079.2,827.8 1128.3,821.6 1177.5,815.7 1226.7,810 1275.8,804.8 1325,799.8 1374.2,795.2 1423.3,790.8 1472.5,786.8 1521.7,783.1 1570.8,779.8 1620,776.7 1620,783.6 1570.8,786.5 1521.7,789.8 1472.5,793.4 1423.3,797.3 1374.2,801.6 1325,806.1 1275.8,811 1226.7,816.3 1177.5,821.8 1128.3,827.7 1079.2,833.9 1030,840.4 980.8,847.3 931.7,854.5 882.5,862 833.3,869.8 784.2,878 735,886.5 685.8,895.3 636.7,904.4 587.5,913.9 538.3,923.7 489.2,933.8 440,944.2" fill="#00fdc6"/>
<polygon points="440,941.1 489.2,930.7 538.3,920.6 587.5,910.8 636.7,901.4 685.8,892.2 735,883.4 784.2,875 833.3,866.8 882.5,859 931.7,851.5 980.8,844.3 1030,837.4 1079.2,830.8 1128.3,824.6 1177.5,818.7 1226.7,813.2 1275.8,807.9 1325,803 1374.2,798.4 1423.3,794.1 1472.5,790.1 1521.7,786.5 1570.8,783.2 1620,780.2 1620,787 1570.8,789.9 1521.7,793.1 1472.5,796.7 1423.3,800.6 1374.2,804.8 1325,809.3 1275.8,814.2 1226.7,819.4 1177.5,824.9 1128.3,830.7 1079.2,836.9 1030,843.4 980.8,850.3 931.7,857.5 882.5,865 833.3,872.8 784.2,881 735,889.5 685.8,898.3 636.7,907.4 587.5,916.9 538.3,926.7 489.2,936.9 440,947.4" fill="#00fcdb"/>
<polygon points="440,944.2 489.2,933.8 538.3,923.7 587.5,913.9 636.7,904.4 685.8,895.3 735,886.5 784.2,878 833.3,869.8 882.5,862 931.7,854.5 980.8,847.3 1030,840.4 1079.2,833.9 1128.3,827.7 1177.5,821.8 1226.7,816.3 1275.8,811 1325,806.1 1374.2,801.6 1423.3,797.3 1472.5,793.4 1521.7,789.8 1570.8,786.5 1620,783.6 1620,790.5 1570.8,793.3 1521.7,796.5 1472.5,800 1423.3,803.8 1374.2,808 1325,812.5 1275.8,817.3 1226.7,822.5 1177.5,828 1128.3,833.8 1079.2,840 1030,846.5 980.8,853.3 931.7,860.5 882.5,868 833.3,875.8 784.2,884 735,892.5 685.8,901.3 636.7,910.5 587.5,920 538.3,929.8 489.2,940 440,950.5" fill="#00fbef"/>
<polygon points="440,947.4 489.2,936.9 538.3,926.7 587.5,916.9 636.7,907.4 685.8,898.3 735,889.5 784.2,881 833.3,872.8 882.5,865 931.7,857.5 980.8,850.3 1030,843.4 1079.2,836.9 1128.3,830.7 1177.5,824.9 1226.7,819.4 1275.8,814.2 1325,809.3 1374.2,804.8 1423.3,800.6 1472.5,796.7 1521.7,793.1 1570.8,789.9 1620,787 1620,793.9 1570.8,796.7 1521.7,799.8 1472.5,803.3 1423.3,807 1374.2,811.2 1325,815.6 1275.8,820.4 1226.7,825.6 1177.5,831 1128.3,836.8 1079.2,843 1030,849.5 980.8,856.3 931.7,863.5 882.5,871 833.3,878.8 784.2,887 735,895.5 685.8,904.3 636.7,913.5 587.5,923 538.3,932.9 489.2,943.1 440,953.6" fill="#00f7ff"/>
<polygon points="440,950.5 489.2,940 538.3,929.8 587.5,920 636.7,910.5 685.8,901.3 735,892.5 784.2,884 833.3,875.8 882.5,868 931.7,860.5 980.8,853.3 1030,846.5 1079.2,840 1128.3,833.8 1177.5,828 1226.7,822.5 1275.8,817.3 1325,812.5 1374.2,808 1423.3,803.8 1472.5,800 1521.7,796.5 1570.8,793.3 1620,790.5 1620,797.4 1570.8,800.1 1521.7,803.1 1472.5,806.5 1423.3,810.3 1374.2,814.4 1325,818.8 1275.8,823.6 1226.7,828.7 1177.5,834.1 1128.3,839.9 1079.2,846 1030,852.5 980.8,859.3 931.7,866.5 882.5,874 833.3,881.8 784.2,890 735,898.5 685.8,907.3 636.7,916.5 587.5,926.1 538.3,936 489.2,946.2 440,956.7" fill="#00ebff"/>
<polygon points="440,953.6 489.2,943.1 538.3,932.9 587.5,923 636.7,913.5 685.8,904.3 735,895.5 784.2,887 833.3,878.8 882.5,871 931.7,863.5 980.8,856.3 1030,849.5 1079.2,843 1128.3,836.8 1177.5,831 1226.7,825.6 1275.8,820.4 1325,815.6 1374.2,811.2 1423.3,807 1472.5,803.3 1521.7,799.8 1570.8,796.7 1620,793.9 1620,800.8 1570.8,803.5 1521.7,806.5 1472.5,809.8 1423.3,813.5 1374.2,817.6 1325,822 1275.8,826.7 1226.7,831.8 1177.5,837.2 1128.3,843 1079.2,849.1 1030,855.5 980.8,862.3 931.7,869.5 882.5,877 833.3,884.8 784.2,893 735,901.5 685.8,910.4 636.7,919.6 587.5,929.1 538.3,939 489.2,949.3 440,959.9" fill="#00dfff"/>
<polygon points="440,956.7 489.2,946.2 538.3,936 587.5,926.1 636.7,916.5 685.8,907.3 735,898.5 784.2,890 833.3,881.8 882.5,874 931.7,866.5 980.8,859.3 1030,852.5 1079.2,846 1128.3,839.9 1177.5,834.1 1226.7,828.7 1275.8,823.6 1325,818.8 1374.2,814.4 1423.3,810.3 1472.5,806.5 1521.7,803.1 1570.8,800.1 1620,797.4 1620,804.2 1570.8,806.8 1521.7,809.8 1472.5,813.1 1423.3,816.8 1374.2,820.8 1325,825.1 1275.8,829.8 1226.7,834.9 1177.5,840.3 1128.3,846 1079.2,852.1 1030,858.5 980.8,865.3 931.7,872.5 882.5,880 833.3,887.8 784.2,896 735,904.5 685.8,913.4 636.7,922.6 587.5,932.2 538.3,942.1 489.2,952.4 440,963" fill="#00d3ff"/>
<polygon points="440,959.9 489.2,949.3 538.3,939 587.5,929.1 636.7,919.6 685.8,910.4 735,901.5 784.2,893 833.3,884.8 882.5,877 931.7,869.5 980.8,862.3 1030,855.5 1079.2,849.1 1128.3,843 1177.5,837.2 1226.7,831.8 1275.8,826.7 1325,822 1374.2,817.6 1423.3,813.5 1472.5,809.8 1521.7,806.5 1570.8,803.5 1620,800.8 1620,807.7 1570.8,810.2 1521.7,813.1 1472.5,816.4 1423.3,820 1374.2,824 1325,828.3 1275.8,833 1226.7,838 1177.5,843.3 1128.3,849.1 1079.2,855.1 1030,861.6 980.8,868.3 931.7,875.5 882.5,883 833.3,890.8 784.2,899 735,907.5 685.8,916.4 636.7,925.6 587.5,935.2 538.3,945.2 489.2,955.5 440,966.1" fill="#00c7ff"/>
<polygon points="440,963 489.2,952.4 538.3,942.1 587.5,932.2 636.7,922.6 685.8,913.4 735,904.5 784.2,896 833.3,887.8 882.5,880 931.7,872.5 980.8,865.3 1030,858.5 1079.2,852.1 1128.3,846 1177.5,840.3 1226.7,834.9 1275.8,829.8 1325,825.1 1374.2,820.8 1423.3,816.8 1472.5,813.1 1521.7,809.8 1570.8,806.8 1620,804.2 1620,811.1 1570.8,813.6 1521.7,816.5 1472.5,819.7 1423.3,823.2 1374.2,827.2 1325,831.4 1275.8,836.1 1226.7,841.1 1177.5,846.4 1128.3,852.1 1079.2,858.2 1030,864.6 980.8,871.4 931.7,878.5 882.5,886 833.3,893.8 784.2,902 735,910.5 685.8,919.4 636.7,928.7 587.5,938.3 538.3,948.3 489.2,958.6 440,969.2" fill="#00bbff"/>
<polygon points="440,966.1 489.2,955.5 538.3,945.2 587.5,935.2 636.7,925.6 685.8,916.4 735,907.5 784.2,899 833.3,890.8 882.5,883 931.7,875.5 980.8,868.3 1030,861.6 1079.2,855.1 1128.3,849.1 1177.5,843.3 1226.7,838 1275.8,833 1325,828.3 1374.2,824 1423.3,820 1472.5,816.4 1521.7,813.1 1570.8,810.2 1620,807.7 1620,814.5 1570.8,817 1521.7,819.8 1472.5,823 1423.3,826.5 1374.2,830.4 1325,834.6 1275.8,839.2 1226.7,844.2 1177.5,849.5 1128.3,855.2 1079.2,861.2 1030,867.6 980.8,874.4 931.7,881.5 882.5,889 833.3,896.8 784.2,905 735,913.5 685.8,922.4 636.7,931.7 587.5,941.3 538.3,951.3 489.2,961.7 440,972.4" fill="#00aeff"/>
<polygon points="440,969.2 489.2,958.6 538.3,948.3 587.5,938.3 636.7,928.7 685.8,919.4 735,910.5 784.2,902 833.3,893.8 882.5,886 931.7,878.5 980.8,871.4 1030,864.6 1079.2,858.2 1128.3,852.1 1177.5,846.4 1226.7,841.1 1275.8,836.1 1325,831.4 1374.2,827.2 1423.3,823.2 1472.5,819.7 1521.7,816.5 1570.8,813.6 1620,811.1 1620,818 1570.8,820.4 1521.7,823.1 1472.5,826.2 1423.3,829.7 1374.2,833.6 1325,837.8 1275.8,842.3 1226.7,847.3 1177.5,852.6 1128.3,858.2 1079.2,864.2 1030,870.6 980.8,877.4 931.7,884.5 882.5,892 833.3,899.8 784.2,908 735,916.5 685.8,925.5 636.7,934.7 587.5,944.4 538.3,954.4 489.2,964.8 440,975.5" fill="#00a2ff"/>
<polygon points="440,972.4 489.2,961.7 538.3,951.3 587.5,941.3 636.7,931.7 685.8,922.4 735,913.5 784.2,905 833.3,896.8 882.5,889 931.7,881.5 980.8,874.4 1030,867.6 1079.2,861.2 1128.3,855.2 1177.5,849.5 1226.7,844.2 1275.8,839.2 1325,834.6 1374.2,830.4 1423.3,826.5 1472.5,823 1521.7,819.8 1570.8,817 1620,814.5 1620,821.4 1570.8,823.8 1521.7,826.5 1472.5,829.5 1423.3,833 1374.2,836.8 1325,840.9 1275.8,845.5 1226.7,850.4 1177.5,855.7 1128.3,861.3 1079.2,867.3 1030,873.7 980.8,880.4 931.7,887.5 882.5,895 833.3,902.8 784.2,911 735,919.5 685.8,928.5 636.7,937.8 587.5,947.4 538.3,957.5 489.2,967.9 440,978.6" fill="#0096ff"/>
<polygon points="440,975.5 489.2,964.8 538.3,954.4 587.5,944.4 636.7,934.7 685.8,925.5 735,916.5 784.2,908 833.3,899.8 882.5,892 931.7,884.5 980.8,877.4 1030,870.6 1079.2,864.2 1128.3,858.2 1177.5,852.6 1226.7,847.3 1275.8,842.3 1325,837.8 1374.2,833.6 1423.3,829.7 1472.5,826.2 1521.7,823.1 1570.8,820.4 1620,818 1620,824.9 1570.8,827.1 1521.7,829.8 1472.5,832.8 1423.3,836.2 1374.2,840 1325,844.1 1275.8,848.6 1226.7,853.5 1177.5,858.7 1128.3,864.3 1079.2,870.3 1030,876.7 980.8,883.4 931.7,890.5 882.5,898 833.3,905.8 784.2,914 735,922.6 685.8,931.5 636.7,940.8 587.5,950.5 538.3,960.5 489.2,971 440,981.8" fill="#008aff"/>
<polygon points="440,978.6 489.2,967.9 538.3,957.5 587.5,947.4 636.7,937.8 685.8,928.5 735,919.5 784.2,911 833.3,902.8 882.5,895 931.7,887.5 980.8,880.4 1030,873.7 1079.2,867.3 1128.3,861.3 1177.5,855.7 1226.7,850.4 1275.8,845.5 1325,840.9 1374.2,836.8 1423.3,833 1472.5,829.5 1521.7,826.5 1570.8,823.8 1620,821.4 1620,828.3 1570.8,830.5 1521.7,833.1 1472.5,836.1 1423.3,839.5 1374.2,843.2 1325,847.3 1275.8,851.7 1226.7,856.6 1177.5,861.8 1128.3,867.4 1079.2,873.4 1030,879.7 980.8,886.4 931.7,893.5 882.5,900.9 833.3,908.8 784.2,917 735,925.6 685.8,934.5 636.7,943.8 587.5,953.5 538.3,963.6 489.2,974.1 440,984.9" fill="#007eff"/>
<polygon points="440,981.8 489.2,971 538.3,960.5 587.5,950.5 636.7,940.8 685.8,931.5 735,922.6 784.2,914 833.3,905.8 882.5,898 931.7,890.5 980.8,883.4 1030,876.7 1079.2,870.3 1128.3,864.3 1177.5,858.7 1226.7,853.5 1275.8,848.6 1325,844.1 1374.2,840 1423.3,836.2 1472.5,832.8 1521.7,829.8 1570.8,827.1 1620,824.9 1620,832.4 1570.8,834.4 1521.7,836.8 1472.5,839.6 1423.3,842.8 1374.2,846.3 1325,850.3 1275.8,854.6 1226.7,859.4 1177.5,864.5 1128.3,870 1079.2,875.9 1030,882.1 980.8,888.8 931.7,895.9 882.5,903.3 833.3,911.1 784.2,919.3 735,927.9 685.8,936.9 636.7,946.3 587.5,956.1 538.3,966.2 489.2,976.8 440,987.7" fill="#0072ff"/>
<polygon points="440,984.9 489.2,974.1 538.3,963.6 587.5,953.5 636.7,943.8 685.8,934.5 735,925.6 784.2,917 833.3,908.8 882.5,900.9 931.7,893.5 980.8,886.4 1030,879.7 1079.2,873.4 1128.3,867.4 1177.5,861.8 1226.7,856.6 1275.8,851.7 1325,847.3 1374.2,843.2 1423.3,839.5 1472.5,836.1 1521.7,833.1 1570.8,830.5 1620,828.3 1620,836.8 1570.8,838.5 1521.7,840.7 1472.5,843.2 1423.3,846.1 1374.2,849.5 1325,853.3 1275.8,857.4 1226.7,862 1177.5,867 1128.3,872.4 1079.2,878.2 1030,884.4 980.8,891 931.7,898 882.5,905.4 833.3,913.2 784.2,921.4 735,930.1 685.8,939.1 636.7,948.6 587.5,958.4 538.3,968.7 489.2,979.3 440,990.4" fill="#0065ff"/>
<polygon points="440,987.7 489.2,976.8 538.3,966.2 587.5,956.1 636.7,946.3 685.8,936.9 735,927.9 784.2,919.3 833.3,911.1 882.5,903.3 931.7,895.9 980.8,888.8 1030,882.1 1079.2,875.9 1128.3,870 1177.5,864.5 1226.7,859.4 1275.8,854.6 1325,850.3 1374.2,846.3 1423.3,842.8 1472.5,839.6 1521.7,836.8 1570.8,834.4 1620,832.4 1620,841.2 1570.8,842.6 1521.7,844.5 1472.5,846.8 1423.3,849.5 1374.2,852.7 1325,856.2 1275.8,860.2 1226.7,864.7 1177.5,869.5 1128.3,874.8 1079.2,880.5 1030,886.6 980.8,893.1 931.7,900.1 882.5,907.5 833.3,915.3 784.2,923.5 735,932.2 685.8,941.3 636.7,950.8 587.5,960.7 538.3,971.1 489.2,981.9 440,993.1" fill="#0059ff"/>
<polygon points="440,990.4 489.2,979.3 538.3,968.7 587.5,958.4 636.7,948.6 685.8,939.1 735,930.1 784.2,921.4 833.3,913.2 882.5,905.4 931.7,898 980.8,891 1030,884.4 1079.2,878.2 1128.3,872.4 1177.5,867 1226.7,862 1275.8,857.4 1325,853.3 1374.2,849.5 1423.3,846.1 1472.5,843.2 1521.7,840.7 1570.8,838.5 1620,836.8 1620,845.5 1570.8,846.7 1521.7,848.3 1472.5,850.4 1423.3,852.9 1374.2,855.8 1325,859.2 1275.8,863 1226.7,867.3 1177.5,872 1128.3,877.2 1079.2,882.8 1030,888.8 980.8,895.3 931.7,902.2 882.5,909.6 833.3,917.4 784.2,925.6 735,934.3 685.8,943.5 636.7,953 587.5,963.1 538.3,973.5 489.2,984.4 440,995.8" fill="#004dff"/>
<polygon points="440,993.1 489.2,981.9 538.3,971.1 587.5,960.7 636.7,950.8 685.8,941.3 735,932.2 784.2,923.5 833.3,915.3 882.5,907.5 931.7,900.1 980.8,893.1 1030,886.6 1079.2,880.5 1128.3,874.8 1177.5,869.5 1226.7,864.7 1275.8,860.2 1325,856.2 1374.2,852.7 1423.3,849.5 1472.5,846.8 1521.7,844.5 1570.8,842.6 1620,841.2 1620,849.9 1570.8,850.8 1521.7,852.2 1472.5,854 1423.3,856.2 1374.2,859 1325,862.2 1275.8,865.8 1226.7,869.9 1177.5,874.5 1128.3,879.6 1079.2,885.1 1030,891 980.8,897.4 931.7,904.3 882.5,911.7 833.3,919.5 784.2,927.7 735,936.4 685.8,945.6 636.7,955.3 587.5,965.4 538.3,976 489.2,987 440,998.5" fill="#0041ff"/>
<polygon points="440,995.8 489.2,984.4 538.3,973.5 587.5,963.1 636.7,953 685.8,943.5 735,934.3 784.2,925.6 833.3,917.4 882.5,909.6 931.7,902.2 980.8,895.3 1030,888.8 1079.2,882.8 1128.3,877.2 1177.5,872 1226.7,867.3 1275.8,863 1325,859.2 1374.2,855.8 1423.3,852.9 1472.5,850.4 1521.7,848.3 1570.8,846.7 1620,845.5 1620,854.3 1570.8,854.9 1521.7,856 1472.5,857.6 1423.3,859.6 1374.2,862.1 1325,865.1 1275.8,868.6 1226.7,872.6 1177.5,877 1128.3,882 1079.2,887.4 1030,893.2 980.8,899.6 931.7,906.4 882.5,913.7 833.3,921.5 784.2,929.8 735,938.6 685.8,947.8 636.7,957.5 587.5,967.7 538.3,978.4 489.2,989.5 440,1001.2" fill="#0035ff"/>
<polygon points="440,998.5 489.2,987 538.3,976 587.5,965.4 636.7,955.3 685.8,945.6 735,936.4 784.2,927.7 833.3,919.5 882.5,911.7 931.7,904.3 980.8,897.4 1030,891 1079.2,885.1 1128.3,879.6 1177.5,874.5 1226.7,869.9 1275.8,865.8 1325,862.2 1374.2,859 1423.3,856.2 1472.5,854 1521.7,852.2 1570.8,850.8 1620,849.9 1620,858.7 1570.8,859 1521.7,859.8 1472.5,861.2 1423.3,863 1374.2,865.3 1325,868.1 1275.8,871.4 1226.7,875.2 1177.5,879.5 1128.3,884.3 1079.2,889.6 1030,895.4 980.8,901.7 931.7,908.5 882.5,915.8 833.3,923.6 784.2,931.9 735,940.7 685.8,950 636.7,959.8 587.5,970 538.3,980.8 489.2,992.1 440,1003.9" fill="#0029ff"/>
<polygon points="440,1001.2 489.2,989.5 538.3,978.4 587.5,967.7 636.7,957.5 685.8,947.8 735,938.6 784.2,929.8 833.3,921.5 882.5,913.7 931.7,906.4 980.8,899.6 1030,893.2 1079.2,887.4 1128.3,882 1177.5,877 1226.7,872.6 1275.8,868.6 1325,865.1 1374.2,862.1 1423.3,859.6 1472.5,857.6 1521.7,856 1570.8,854.9 1620,854.3 1620,863.1 1570.8,863.1 1521.7,863.7 1472.5,864.7 1423.3,866.3 1374.2,868.5 1325,871.1 1275.8,874.2 1226.7,877.9 1177.5,882.1 1128.3,886.7 1079.2,891.9 1030,897.7 980.8,903.9 931.7,910.7 882.5,917.9 833.3,925.7 784.2,934 735,942.8 685.8,952.2 636.7,962 587.5,972.4 538.3,983.3 489.2,994.6 440,1006.6" fill="#001dff"/>
<polygon points="440,1003.9 489.2,992.1 538.3,980.8 587.5,970 636.7,959.8 685.8,950 735,940.7 784.2,931.9 833.3,923.6 882.5,915.8 931.7,908.5 980.8,901.7 1030,895.4 1079.2,889.6 1128.3,884.3 1177.5,879.5 1226.7,875.2 1275.8,871.4 1325,868.1 1374.2,865.3 1423.3,863 1472.5,861.2 1521.7,859.8 1570.8,859 1620,858.7 1620,867.4 1570.8,867.2 1521.7,867.5 1472.5,868.3 1423.3,869.7 1374.2,871.6 1325,874 1275.8,877 1226.7,880.5 1177.5,884.6 1128.3,889.1 1079.2,894.2 1030,899.9 980.8,906.1 931.7,912.8 882.5,920 833.3,927.8 784.2,936.1 735,945 685.8,954.3 636.7,964.3 587.5,974.7 538.3,985.7 489.2,997.2 440,1009.3" fill="#0010ff"/>
<polygon points="440,1006.6 489.2,994.6 538.3,983.3 587.5,972.4 636.7,962 685.8,952.2 735,942.8 784.2,934 833.3,925.7 882.5,917.9 931.7,910.7 980.8,903.9 1030,897.7 1079.2,891.9 1128.3,886.7 1177.5,882.1 1226.7,877.9 1275.8,874.2 1325,871.1 1374.2,868.5 1423.3,866.3 1472.5,864.7 1521.7,863.7 1570.8,863.1 1620,863.1 1620,871.8 1570.8,871.3 1521.7,871.3 1472.5,871.9 1423.3,873.1 1374.2,874.8 1325,877 1275.8,879.8 1226.7,883.2 1177.5,887.1 1128.3,891.5 1079.2,896.5 1030,902.1 980.8,908.2 931.7,914.9 882.5,922.1 833.3,929.9 784.2,938.2 735,947.1 685.8,956.5 636.7,966.5 587.5,977 538.3,988.1 489.2,999.8 440,1012" fill="#0004ff"/>
<polygon points="440,1009.3 489.2,997.2 538.3,985.7 587.5,974.7 636.7,964.3 685.8,954.3 735,945 784.2,936.1 833.3,927.8 882.5,920 931.7,912.8 980.8,906.1 1030,899.9 1079.2,894.2 1128.3,889.1 1177.5,884.6 1226.7,880.5 1275.8,877 1325,874 1374.2,871.6 1423.3,869.7 1472.5,868.3 1521.7,867.5 1570.8,867.2 1620,867.4 1620,876.2 1570.8,875.4 1521.7,875.2 1472.5,875.5 1423.3,876.4 1374.2,877.9 1325,880 1275.8,882.6 1226.7,885.8 1177.5,889.6 1128.3,893.9 1079.2,898.8 1030,904.3 980.8,910.4 931.7,917 882.5,924.2 833.3,932 784.2,940.3 735,949.2 685.8,958.7 636.7,968.7 587.5,979.4 538.3,990.5 489.2,1002.3 440,1014.6" fill="#0900fe"/>
<polygon points="440,1012 489.2,999.8 538.3,988.1 587.5,977 636.7,966.5 685.8,956.5 735,947.1 784.2,938.2 833.3,929.9 882.5,922.1 931.7,914.9 980.8,908.2 1030,902.1 1079.2,896.5 1128.3,891.5 1177.5,887.1 1226.7,883.2 1275.8,879.8 1325,877 1374.2,874.8 1423.3,873.1 1472.5,871.9 1521.7,871.3 1570.8,871.3 1620,871.8 1620,880.6 1570.8,879.5 1521.7,879 1472.5,879.1 1423.3,879.8 1374.2,881.1 1325,883 1275.8,885.4 1226.7,888.5 1177.5,892.1 1128.3,896.3 1079.2,901.1 1030,906.5 980.8,912.5 931.7,919.1 882.5,926.3 833.3,934 784.2,942.4 735,951.3 685.8,960.9 636.7,971 587.5,981.7 538.3,993 489.2,1004.9 440,1017.3" fill="#1800fc"/>
<polygon points="440,1014.6 489.2,1002.3 538.3,990.5 587.5,979.4 636.7,968.7 685.8,958.7 735,949.2 784.2,940.3 833.3,932 882.5,924.2 931.7,917 980.8,910.4 1030,904.3 1079.2,898.8 1128.3,893.9 1177.5,889.6 1226.7,885.8 1275.8,882.6 1325,880 1374.2,877.9 1423.3,876.4 1472.5,875.5 1521.7,875.2 1570.8,875.4 1620,876.2 1620,885 1570.8,883.6 1521.7,882.8 1472.5,882.7 1423.3,883.2 1374.2,884.2 1325,885.9 1275.8,888.2 1226.7,891.1 1177.5,894.6 1128.3,898.7 1079.2,903.4 1030,908.8 980.8,914.7 931.7,921.2 882.5,928.4 833.3,936.1 784.2,944.5 735,953.5 685.8,963 636.7,973.2 587.5,984 538.3,995.4 489.2,1007.4 440,1020" fill="#2700fa"/>
<polygon points="440,1017.3 489.2,1004.9 538.3,993 587.5,981.7 636.7,971 685.8,960.9 735,951.3 784.2,942.4 833.3,934 882.5,926.3 931.7,919.1 980.8,912.5 1030,906.5 1079.2,901.1 1128.3,896.3 1177.5,892.1 1226.7,888.5 1275.8,885.4 1325,883 1374.2,881.1 1423.3,879.8 1472.5,879.1 1521.7,879 1570.8,879.5 1620,880.6 1620,889.3 1570.8,887.7 1521.7,886.7 1472.5,886.3 1423.3,886.5 1374.2,887.4 1325,888.9 1275.8,891 1226.7,893.7 1177.5,897.1 1128.3,901.1 1079.2,905.7 1030,911 980.8,916.8 931.7,923.3 882.5,930.5 833.3,938.2 784.2,946.6 735,955.6 685.8,965.2 636.7,975.5 587.5,986.3 538.3,997.8 489.2,1010 440,1022.7" fill="#3500f8"/>
<polygon points="440,1020 489.2,1007.4 538.3,995.4 587.5,984 636.7,973.2 685.8,963 735,953.5 784.2,944.5 833.3,936.1 882.5,928.4 931.7,921.2 980.8,914.7 1030,908.8 1079.2,903.4 1128.3,898.7 1177.5,894.6 1226.7,891.1 1275.8,888.2 1325,885.9 1374.2,884.2 1423.3,883.2 1472.5,882.7 1521.7,882.8 1570.8,883.6 1620,885 1620,893.7 1570.8,891.8 1521.7,890.5 1472.5,889.9 1423.3,889.9 1374.2,890.6 1325,891.9 1275.8,893.8 1226.7,896.4 1177.5,899.6 1128.3,903.5 1079.2,908 1030,913.2 980.8,919 931.7,925.5 882.5,932.6 833.3,940.3 784.2,948.7 735,957.7 685.8,967.4 636.7,977.7 587.5,988.7 538.3,1000.3 489.2,1012.5 440,1025.4" fill="#4400f6"/>
<polygon points="440,1022.7 489.2,1010 538.3,997.8 587.5,986.3 636.7,975.5 685.8,965.2 735,955.6 784.2,946.6 833.3,938.2 882.5,930.5 931.7,923.3 980.8,916.8 1030,911 1079.2,905.7 1128.3,901.1 1177.5,897.1 1226.7,893.7 1275.8,891 1325,888.9 1374.2,887.4 1423.3,886.5 1472.5,886.3 1521.7,886.7 1570.8,887.7 1620,889.3 1620,898.1 1570.8,895.9 1521.7,894.4 1472.5,893.5 1423.3,893.3 1374.2,893.7 1325,894.8 1275.8,896.6 1226.7,899 1177.5,902.1 1128.3,905.9 1079.2,910.3 1030,915.4 980.8,921.2 931.7,927.6 882.5,934.6 833.3,942.4 784.2,950.8 735,959.8 685.8,969.6 636.7,979.9 587.5,991 538.3,1002.7 489.2,1015.1 440,1028.1" fill="#5200f4"/>
<polygon points="440,1025.4 489.2,1012.5 538.3,1000.3 587.5,988.7 636.7,977.7 685.8,967.4 735,957.7 784.2,948.7 833.3,940.3 882.5,932.6 931.7,925.5 980.8,919 1030,913.2 1079.2,908 1128.3,903.5 1177.5,899.6 1226.7,896.4 1275.8,893.8 1325,891.9 1374.2,890.6 1423.3,889.9 1472.5,889.9 1521.7,890.5 1570.8,891.8 1620,893.7 1620,902.5 1570.8,900 1521.7,898.2 1472.5,897.1 1423.3,896.6 1374.2,896.9 1325,897.8 1275.8,899.4 1226.7,901.7 1177.5,904.6 1128.3,908.3 1079.2,912.6 1030,917.6 980.8,923.3 931.7,929.7 882.5,936.7 833.3,944.5 784.2,952.9 735,962 685.8,971.7 636.7,982.2 587.5,993.3 538.3,1005.1 489.2,1017.6 440,1030.8" fill="#6100f2"/>
<polygon points="440,1028.1 489.2,1015.1 538.3,1002.7 587.5,991 636.7,979.9 685.8,969.6 735,959.8 784.2,950.8 833.3,942.4 882.5,934.6 931.7,927.6 980.8,921.2 1030,915.4 1079.2,910.3 1128.3,905.9 1177.5,902.1 1226.7,899 1275.8,896.6 1325,894.8 1374.2,893.7 1423.3,893.3 1472.5,893.5 1521.7,894.4 1570.8,895.9 1620,898.1 1620,906.8 1570.8,904.1 1521.7,902 1472.5,900.7 1423.3,900 1374.2,900 1325,900.8 1275.8,902.2 1226.7,904.3 1177.5,907.2 1128.3,910.7 1079.2,914.9 1030,919.8 980.8,925.5 931.7,931.8 882.5,938.8 833.3,946.5 784.2,955 735,964.1 685.8,973.9 636.7,984.4 587.5,995.7 538.3,1007.6 489.2,1020.2 440,1033.5" fill="#6f00f0"/>
<polygon points="440,1030.8 489.2,1017.6 538.3,1005.1 587.5,993.3 636.7,982.2 685.8,971.7 735,962 784.2,952.9 833.3,944.5 882.5,936.7 931.7,929.7 980.8,923.3 1030,917.6 1079.2,912.6 1128.3,908.3 1177.5,904.6 1226.7,901.7 1275.8,899.4 1325,897.8 1374.2,896.9 1423.3,896.6 1472.5,897.1 1521.7,898.2 1570.8,900 1620,902.5 1620,911.2 1570.8,908.2 1521.7,905.9 1472.5,904.3 1423.3,903.4 1374.2,903.2 1325,903.7 1275.8,905 1226.7,907 1177.5,909.7 1128.3,913.1 1079.2,917.2 1030,922.1 980.8,927.6 931.7,933.9 882.5,940.9 833.3,948.6 784.2,957.1 735,966.2 685.8,976.1 636.7,986.7 587.5,998 538.3,1010 489.2,1022.7 440,1036.2" fill="#7d00ee"/>
<polygon points="440,1033.5 489.2,1020.2 538.3,1007.6 587.5,995.7 636.7,984.4 685.8,973.9 735,964.1 784.2,955 833.3,946.5 882.5,938.8 931.7,931.8 980.8,925.5 1030,919.8 1079.2,914.9 1128.3,910.7 1177.5,907.2 1226.7,904.3 1275.8,902.2 1325,900.8 1374.2,900 1423.3,900 1472.5,900.7 1521.7,902 1570.8,904.1 1620,906.8 1620,915.6 1570.8,912.3 1521.7,909.7 1472.5,907.8 1423.3,906.7 1374.2,906.3 1325,906.7 1275.8,907.8 1226.7,909.6 1177.5,912.2 1128.3,915.5 1079.2,919.5 1030,924.3 980.8,929.8 931.7,936 882.5,943 833.3,950.7 784.2,959.2 735,968.3 685.8,978.3 636.7,988.9 587.5,1000.3 538.3,1012.4 489.2,1025.3 440,1038.9" fill="#7f00eb"/>
<polygon points="440,1036.2 489.2,1022.7 538.3,1010 587.5,998 636.7,986.7 685.8,976.1 735,966.2 784.2,957.1 833.3,948.6 882.5,940.9 931.7,933.9 980.8,927.6 1030,922.1 1079.2,917.2 1128.3,913.1 1177.5,909.7 1226.7,907 1275.8,905 1325,903.7 1374.2,903.2 1423.3,903.4 1472.5,904.3 1521.7,905.9 1570.8,908.2 1620,911.2 1620,920 1570.8,916.4 1521.7,913.5 1472.5,911.4 1423.3,910.1 1374.2,909.5 1325,909.7 1275.8,910.6 1226.7,912.3 1177.5,914.7 1128.3,917.9 1079.2,921.8 1030,926.5 980.8,931.9 931.7,938.1 882.5,945.1 833.3,952.8 784.2,961.3 735,970.5 685.8,980.4 636.7,991.2 587.5,1002.6 538.3,1014.9 489.2,1027.9 440,1041.6" fill="#8100e7"/>
<polygon points="440,1038.9 489.2,1025.3 538.3,1012.4 587.5,1000.3 636.7,988.9 685.8,978.3 735,968.3 784.2,959.2 833.3,950.7 882.5,943 931.7,936 980.8,929.8 1030,924.3 1079.2,919.5 1128.3,915.5 1177.5,912.2 1226.7,909.6 1275.8,907.8 1325,906.7 1374.2,906.3 1423.3,906.7 1472.5,907.8 1521.7,909.7 1570.8,912.3 1620,915.6 1620,924.4 1570.8,920.5 1521.7,917.4 1472.5,915 1423.3,913.5 1374.2,912.7 1325,912.6 1275.8,913.4 1226.7,914.9 1177.5,917.2 1128.3,920.3 1079.2,924.1 1030,928.7 980.8,934.1 931.7,940.3 882.5,947.2 833.3,954.9 784.2,963.4 735,972.6 685.8,982.6 636.7,993.4 587.5,1005 538.3,1017.3 489.2,1030.4 440,1044.3" fill="#8300e4"/>
<polygon points="440,1041.6 489.2,1027.9 538.3,1014.9 587.5,1002.6 636.7,991.2 685.8,980.4 735,970.5 784.2,961.3 833.3,952.8 882.5,945.1 931.7,938.1 980.8,931.9 1030,926.5 1079.2,921.8 1128.3,917.9 1177.5,914.7 1226.7,912.3 1275.8,910.6 1325,909.7 1374.2,909.5 1423.3,910.1 1472.5,911.4 1521.7,913.5 1570.8,916.4 1620,920 1620,928.7 1570.8,924.6 1521.7,921.2 1472.5,918.6 1423.3,916.8 1374.2,915.8 1325,915.6 1275.8,916.2 1226.7,917.6 1177.5,919.7 1128.3,922.7 1079.2,926.4 1030,930.9 980.8,936.3 931.7,942.4 882.5,949.3 833.3,957 784.2,965.4 735,974.7 685.8,984.8 636.7,995.6 587.5,1007.3 538.3,1019.7 489.2,1033 440,1047" fill="#8500e1"/>
<polygon points="440,1044.3 489.2,1030.4 538.3,1017.3 587.5,1005 636.7,993.4 685.8,982.6 735,972.6 784.2,963.4 833.3,954.9 882.5,947.2 931.7,940.3 980.8,934.1 1030,928.7 1079.2,924.1 1128.3,920.3 1177.5,917.2 1226.7,914.9 1275.8,913.4 1325,912.6 1374.2,912.7 1423.3,913.5 1472.5,915 1521.7,917.4 1570.8,920.5 1620,924.4 1620,933.1 1570.8,928.7 1521.7,925 1472.5,922.2 1423.3,920.2 1374.2,919 1325,918.6 1275.8,919 1226.7,920.2 1177.5,922.2 1128.3,925.1 1079.2,928.7 1030,933.2 980.8,938.4 931.7,944.5 882.5,951.4 833.3,959 784.2,967.5 735,976.9 685.8,987 636.7,997.9 587.5,1009.6 538.3,1022.2 489.2,1035.5 440,1049.7" fill="#8800de"/>
<polygon points="440,1047 489.2,1033 538.3,1019.7 587.5,1007.3 636.7,995.6 685.8,984.8 735,974.7 784.2,965.4 833.3,957 882.5,949.3 931.7,942.4 980.8,936.3 1030,930.9 1079.2,926.4 1128.3,922.7 1177.5,919.7 1226.7,917.6 1275.8,916.2 1325,915.6 1374.2,915.8 1423.3,916.8 1472.5,918.6 1521.7,921.2 1570.8,924.6 1620,928.7 1620,937.5 1570.8,932.8 1521.7,928.9 1472.5,925.8 1423.3,923.6 1374.2,922.1 1325,921.5 1275.8,921.8 1226.7,922.8 1177.5,924.7 1128.3,927.5 1079.2,931 1030,935.4 980.8,940.6 931.7,946.6 882.5,953.4 833.3,961.1 784.2,969.6 735,979 685.8,989.1 636.7,1000.1 587.5,1012 538.3,1024.6 489.2,1038.1 440,1052.4" fill="#8a00db"/>
<polygon points="440,1049.7 489.2,1035.5 538.3,1022.2 587.5,1009.6 636.7,997.9 685.8,987 735,976.9 784.2,967.5 833.3,959 882.5,951.4 931.7,944.5 980.8,938.4 1030,933.2 1079.2,928.7 1128.3,925.1 1177.5,922.2 1226.7,920.2 1275.8,919 1325,918.6 1374.2,919 1423.3,920.2 1472.5,922.2 1521.7,925 1570.8,928.7 1620,933.1 1620,941.9 1570.8,936.9 1521.7,932.7 1472.5,929.4 1423.3,926.9 1374.2,925.3 1325,924.5 1275.8,924.6 1226.7,925.5 1177.5,927.2 1128.3,929.8 1079.2,933.3 1030,937.6 980.8,942.7 931.7,948.7 882.5,955.5 833.3,963.2 784.2,971.7 735,981.1 685.8,991.3 636.7,1002.4 587.5,1014.3 538.3,1027 489.2,1040.6 440,1055.1" fill="#8c00d8"/>
<polygon points="440,1052.4 489.2,1038.1 538.3,1024.6 587.5,1012 636.7,1000.1 685.8,989.1 735,979 784.2,969.6 833.3,961.1 882.5,953.4 931.7,946.6 980.8,940.6 1030,935.4 1079.2,931 1128.3,927.5 1177.5,924.7 1226.7,922.8 1275.8,921.8 1325,921.5 1374.2,922.1 1423.3,923.6 1472.5,925.8 1521.7,928.9 1570.8,932.8 1620,937.5 1620,946.3 1570.8,941 1521.7,936.5 1472.5,933 1423.3,930.3 1374.2,928.4 1325,927.5 1275.8,927.4 1226.7,928.1 1177.5,929.8 1128.3,932.2 1079.2,935.6 1030,939.8 980.8,944.9 931.7,950.8 882.5,957.6 833.3,965.3 784.2,973.8 735,983.2 685.8,993.5 636.7,1004.6 587.5,1016.6 538.3,1029.5 489.2,1043.2 440,1057.8" fill="#8e00d4"/>
<polygon points="440,1055.1 489.2,1040.6 538.3,1027 587.5,1014.3 636.7,1002.4 685.8,991.3 735,981.1 784.2,971.7 833.3,963.2 882.5,955.5 931.7,948.7 980.8,942.7 1030,937.6 1079.2,933.3 1128.3,929.8 1177.5,927.2 1226.7,925.5 1275.8,924.6 1325,924.5 1374.2,925.3 1423.3,926.9 1472.5,929.4 1521.7,932.7 1570.8,936.9 1620,941.9 1620,950.6 1570.8,945.1 1521.7,940.4 1472.5,936.6 1423.3,933.6 1374.2,931.6 1325,930.4 1275.8,930.2 1226.7,930.8 1177.5,932.3 1128.3,934.6 1079.2,937.9 1030,942 980.8,947 931.7,952.9 882.5,959.7 833.3,967.4 784.2,975.9 735,985.4 685.8,995.7 636.7,1006.9 587.5,1018.9 538.3,1031.9 489.2,1045.7 440,1060.5" fill="#9000d1"/>
<polygon points="440,1057.8 489.2,1043.2 538.3,1029.5 587.5,1016.6 636.7,1004.6 685.8,993.5 735,983.2 784.2,973.8 833.3,965.3 882.5,957.6 931.7,950.8 980.8,944.9 1030,939.8 1079.2,935.6 1128.3,932.2 1177.5,929.8 1226.7,928.1 1275.8,927.4 1325,927.5 1374.2,928.4 1423.3,930.3 1472.5,933 1521.7,936.5 1570.8,941 1620,946.3 1620,955 1570.8,949.2 1521.7,944.2 1472.5,940.2 1423.3,937 1374.2,934.8 1325,933.4 1275.8,933 1226.7,933.4 1177.5,934.8 1128.3,937 1079.2,940.2 1030,944.2 980.8,949.2 931.7,955.1 882.5,961.8 833.3,969.5 784.2,978 735,987.5 685.8,997.8 636.7,1009.1 587.5,1021.3 538.3,1034.3 489.2,1048.3 440,1063.2" fill="#9200ce"/>
<polygon points="440,1060.5 489.2,1045.7 538.3,1031.9 587.5,1018.9 636.7,1006.9 685.8,995.7 735,985.4 784.2,975.9 833.3,967.4 882.5,959.7 931.7,952.9 980.8,947 1030,942 1079.2,937.9 1128.3,934.6 1177.5,932.3 1226.7,930.8 1275.8,930.2 1325,930.4 1374.2,931.6 1423.3,933.6 1472.5,936.6 1521.7,940.4 1570.8,945.1 1620,950.6 1620,959.4 1570.8,953.3 1521.7,948 1472.5,943.8 1423.3,940.4 1374.2,937.9 1325,936.4 1275.8,935.8 1226.7,936.1 1177.5,937.3 1128.3,939.4 1079.2,942.5 1030,946.5 980.8,951.4 931.7,957.2 882.5,963.9 833.3,971.5 784.2,980.1 735,989.6 685.8,1000 636.7,1011.3 587.5,1023.6 538.3,1036.8 489.2,1050.8 440,1065.8" fill="#9400cb"/>
<polygon points="440,1063.2 489.2,1048.3 538.3,1034.3 587.5,1021.3 636.7,1009.1 685.8,997.8 735,987.5 784.2,978 833.3,969.5 882.5,961.8 931.7,955.1 980.8,949.2 1030,944.2 1079.2,940.2 1128.3,937 1177.5,934.8 1226.7,933.4 1275.8,933 1325,933.4 1374.2,934.8 1423.3,937 1472.5,940.2 1521.7,944.2 1570.8,949.2 1620,955 1620,963.8 1570.8,957.4 1521.7,951.9 1472.5,947.3 1423.3,943.7 1374.2,941.1 1325,939.4 1275.8,938.6 1226.7,938.7 1177.5,939.8 1128.3,941.8 1079.2,944.8 1030,948.7 980.8,953.5 931.7,959.3 882.5,966 833.3,973.6 784.2,982.2 735,991.7 685.8,1002.2 636.7,1013.6 587.5,1025.9 538.3,1039.2 489.2,1053.4 440,1068.5" fill="#9600c8"/>
<polygon points="440,1065.8 489.2,1050.8 538.3,1036.8 587.5,1023.6 636.7,1011.3 685.8,1000 735,989.6 784.2,980.1 833.3,971.5 882.5,963.9 931.7,957.2 980.8,951.4 1030,946.5 1079.2,942.5 1128.3,939.4 1177.5,937.3 1226.7,936.1 1275.8,935.8 1325,936.4 1374.2,937.9 1423.3,940.4 1472.5,943.8 1521.7,948 1570.8,953.3 1620,959.4 1620,968.2 1570.8,961.5 1521.7,955.7 1472.5,950.9 1423.3,947.1 1374.2,944.2 1325,942.3 1275.8,941.4 1226.7,941.4 1177.5,942.3 1128.3,944.2 1079.2,947.1 1030,950.9 980.8,955.7 931.7,961.4 882.5,968.1 833.3,975.7 784.2,984.3 735,993.9 685.8,1004.4 636.7,1015.8 587.5,1028.2 538.3,1041.6 489.2,1056 440,1071.2" fill="#9600c6"/>
<polygon points="440,1068.5 489.2,1053.4 538.3,1039.2 587.5,1025.9 636.7,1013.6 685.8,1002.2 735,991.7 784.2,982.2 833.3,973.6 882.5,966 931.7,959.3 980.8,953.5 1030,948.7 1079.2,944.8 1128.3,941.8 1177.5,939.8 1226.7,938.7 1275.8,938.6 1325,939.4 1374.2,941.1 1423.3,943.7 1472.5,947.3 1521.7,951.9 1570.8,957.4 1620,963.8 1620,972.5 1570.8,965.6 1521.7,959.6 1472.5,954.5 1423.3,950.5 1374.2,947.4 1325,945.3 1275.8,944.2 1226.7,944 1177.5,944.8 1128.3,946.6 1079.2,949.4 1030,953.1 980.8,957.8 931.7,963.5 882.5,970.2 833.3,977.8 784.2,986.4 735,996 685.8,1006.5 636.7,1018.1 587.5,1030.6 538.3,1044.1 489.2,1058.5 440,1073.9" fill="#9700c5"/>
<polygon points="440,1071.2 489.2,1056 538.3,1041.6 587.5,1028.2 636.7,1015.8 685.8,1004.4 735,993.9 784.2,984.3 833.3,975.7 882.5,968.1 931.7,961.4 980.8,955.7 1030,950.9 1079.2,947.1 1128.3,944.2 1177.5,942.3 1226.7,941.4 1275.8,941.4 1325,942.3 1374.2,944.2 1423.3,947.1 1472.5,950.9 1521.7,955.7 1570.8,961.5 1620,968.2 1620,976.9 1570.8,969.7 1521.7,963.4 1472.5,958.1 1423.3,953.8 1374.2,950.6 1325,948.3 1275.8,947 1226.7,946.6 1177.5,947.3 1128.3,949 1079.2,951.7 1030,955.3 980.8,960 931.7,965.6 882.5,972.3 833.3,979.9 784.2,988.5 735,998.1 685.8,1008.7 636.7,1020.3 587.5,1032.9 538.3,1046.5 489.2,1061.1 440,1076.6" fill="#9700c4"/>
<polygon points="440,1073.9 489.2,1058.5 538.3,1044.1 587.5,1030.6 636.7,1018.1 685.8,1006.5 735,996 784.2,986.4 833.3,977.8 882.5,970.2 931.7,963.5 980.8,957.8 1030,953.1 1079.2,949.4 1128.3,946.6 1177.5,944.8 1226.7,944 1275.8,944.2 1325,945.3 1374.2,947.4 1423.3,950.5 1472.5,954.5 1521.7,959.6 1570.8,965.6 1620,972.5 1620,981.3 1570.8,973.8 1521.7,967.2 1472.5,961.7 1423.3,957.2 1374.2,953.7 1325,951.2 1275.8,949.8 1226.7,949.3 1177.5,949.8 1128.3,951.4 1079.2,954 1030,957.5 980.8,962.1 931.7,967.7 882.5,974.3 833.3,982 784.2,990.6 735,1000.2 685.8,1010.9 636.7,1022.6 587.5,1035.2 538.3,1048.9 489.2,1063.6 440,1079.3" fill="#9700c2"/>
<polygon points="440,1076.6 489.2,1061.1 538.3,1046.5 587.5,1032.9 636.7,1020.3 685.8,1008.7 735,998.1 784.2,988.5 833.3,979.9 882.5,972.3 931.7,965.6 980.8,960 1030,955.3 1079.2,951.7 1128.3,949 1177.5,947.3 1226.7,946.6 1275.8,947 1325,948.3 1374.2,950.6 1423.3,953.8 1472.5,958.1 1521.7,963.4 1570.8,969.7 1620,976.9 1620,985.7 1570.8,977.9 1521.7,971.1 1472.5,965.3 1423.3,960.6 1374.2,956.9 1325,954.2 1275.8,952.6 1226.7,951.9 1177.5,952.3 1128.3,953.8 1079.2,956.3 1030,959.8 980.8,964.3 931.7,969.8 882.5,976.4 833.3,984.1 784.2,992.7 735,1002.4 685.8,1013.1 636.7,1024.8 587.5,1037.6 538.3,1051.4 489.2,1066.2 440,1082" fill="#9800c1"/>
<polygon points="440,1079.3 489.2,1063.6 538.3,1048.9 587.5,1035.2 636.7,1022.6 685.8,1010.9 735,1000.2 784.2,990.6 833.3,982 882.5,974.3 931.7,967.7 980.8,962.1 1030,957.5 1079.2,954 1128.3,951.4 1177.5,949.8 1226.7,949.3 1275.8,949.8 1325,951.2 1374.2,953.7 1423.3,957.2 1472.5,961.7 1521.7,967.2 1570.8,973.8 1620,981.3 1620,990 1570.8,981.9 1521.7,974.9 1472.5,968.9 1423.3,963.9 1374.2,960 1325,957.2 1275.8,955.3 1226.7,954.6 1177.5,954.9 1128.3,956.2 1079.2,958.6 1030,962 980.8,966.4 931.7,972 882.5,978.5 833.3,986.1 784.2,994.8 735,1004.5 685.8,1015.2 636.7,1027 587.5,1039.9 538.3,1053.8 489.2,1068.7 440,1084.7" fill="#9800bf"/>
<polygon points="440,1082 489.2,1066.2 538.3,1051.4 587.5,1037.6 636.7,1024.8 685.8,1013.1 735,1002.4 784.2,992.7 833.3,984.1 882.5,976.4 931.7,969.8 980.8,964.3 1030,959.8 1079.2,956.3 1128.3,953.8 1177.5,952.3 1226.7,951.9 1275.8,952.6 1325,954.2 1374.2,956.9 1423.3,960.6 1472.5,965.3 1521.7,971.1 1570.8,977.9 1620,985.7 1620,994.4 1570.8,986 1521.7,978.7 1472.5,972.5 1423.3,967.3 1374.2,963.2 1325,960.1 1275.8,958.1 1226.7,957.2 1177.5,957.4 1128.3,958.6 1079.2,960.9 1030,964.2 980.8,968.6 931.7,974.1 882.5,980.6 833.3,988.2 784.2,996.9 735,1006.6 685.8,1017.4 636.7,1029.3 587.5,1042.2 538.3,1056.2 489.2,1071.3 440,1087.4" fill="#9900be"/>
<polygon points="440,1084.7 489.2,1068.7 538.3,1053.8 587.5,1039.9 636.7,1027 685.8,1015.2 735,1004.5 784.2,994.8 833.3,986.1 882.5,978.5 931.7,972 980.8,966.4 1030,962 1079.2,958.6 1128.3,956.2 1177.5,954.9 1226.7,954.6 1275.8,955.3 1325,957.2 1374.2,960 1423.3,963.9 1472.5,968.9 1521.7,974.9 1570.8,981.9 1620,990 1620,998.8 1570.8,990.1 1521.7,982.6 1472.5,976.1 1423.3,970.7 1374.2,966.3 1325,963.1 1275.8,960.9 1226.7,959.9 1177.5,959.9 1128.3,961 1079.2,963.2 1030,966.4 980.8,970.8 931.7,976.2 882.5,982.7 833.3,990.3 784.2,999 735,1008.7 685.8,1019.6 636.7,1031.5 587.5,1044.5 538.3,1058.6 489.2,1073.8 440,1090.1" fill="#9900bc"/>
<polyline points="440,496.8 489.2,483.8 538.3,471.4 587.5,459.6 636.7,448.3 685.8,437.5 735,427.3 784.2,417.7 833.3,408.6 882.5,400 931.7,392 980.8,384.5 1030,377.6 1079.2,371.2 1128.3,365.4 1177.5,360.1 1226.7,355.4 1275.8,351.2 1325,347.6 1374.2,344.5 1423.3,341.9 1472.5,339.9 1521.7,338.5 1570.8,337.6 1620,337.2" fill="none" stroke="#303030" stroke-width="1.15" stroke-opacity="0.8"/>
<polyline points="440,538.4 489.2,532.5 538.3,526.7 587.5,520.8 636.7,514.9 685.8,509 735,503.1 784.2,497.1 833.3,491.1 882.5,485.2 931.7,479.2 980.8,473.1 1030,467.1 1079.2,461 1128.3,455 1177.5,448.9 1226.7,442.8 1275.8,436.6 1325,430.5 1374.2,424.3 1423.3,418.2 1472.5,412 1521.7,405.7 1570.8,399.5 1620,393.2" fill="none" stroke="#303030" stroke-width="1.15" stroke-opacity="0.8"/>
<polyline points="440,633.4 489.2,626.1 538.3,618.9 587.5,611.8 636.7,604.8 685.8,597.9 735,591.1 784.2,584.3 833.3,577.7 882.5,571.1 931.7,564.6 980.8,558.1 1030,551.8 1079.2,545.5 1128.3,539.4 1177.5,533.3 1226.7,527.3 1275.8,521.4 1325,515.5 1374.2,509.8 1423.3,504.1 1472.5,498.5 1521.7,493 1570.8,487.6 1620,482.2" fill="none" stroke="#303030" stroke-width="1.15" stroke-opacity="0.8"/>
<polyline points="440,724 489.2,715.2 538.3,706.7 587.5,698.2 636.7,690 685.8,681.9 735,674.1 784.2,666.3 833.3,658.8 882.5,651.5 931.7,644.3 980.8,637.3 1030,630.4 1079.2,623.8 1128.3,617.3 1177.5,611 1226.7,604.9 1275.8,598.9 1325,593.1 1374.2,587.5 1423.3,582.1 1472.5,576.9 1521.7,571.8 1570.8,566.9 1620,562.2" fill="none" stroke="#303030" stroke-width="1.15" stroke-opacity="0.8"/>
<polyline points="440,801.5 489.2,792 538.3,782.7 587.5,773.7 636.7,764.9 685.8,756.3 735,747.9 784.2,739.8 833.3,731.9 882.5,724.1 931.7,716.7 980.8,709.4 1030,702.4 1079.2,695.6 1128.3,689 1177.5,682.6 1226.7,676.5 1275.8,670.6 1325,664.9 1374.2,659.4 1423.3,654.1 1472.5,649.1 1521.7,644.3 1570.8,639.7 1620,635.4" fill="none" stroke="#303030" stroke-width="1.15" stroke-opacity="0.8"/>
<polyline points="440,871.5 489.2,861.3 538.3,851.4 587.5,841.8 636.7,832.5 685.8,823.4 735,814.6 784.2,806.1 833.3,797.9 882.5,790 931.7,782.4 980.8,775 1030,768 1079.2,761.2 1128.3,754.7 1177.5,748.5 1226.7,742.5 1275.8,736.9 1325,731.5 1374.2,726.4 1423.3,721.6 1472.5,717.1 1521.7,712.9 1570.8,708.9 1620,705.3" fill="none" stroke="#303030" stroke-width="1.15" stroke-opacity="0.8"/>
<polyline points="440,932.2 489.2,921.8 538.3,911.8 587.5,902.1 636.7,892.7 685.8,883.6 735,874.8 784.2,866.4 833.3,858.2 882.5,850.4 931.7,842.9 980.8,835.7 1030,828.8 1079.2,822.2 1128.3,815.9 1177.5,809.9 1226.7,804.3 1275.8,799 1325,793.9 1374.2,789.2 1423.3,784.8 1472.5,780.7 1521.7,777 1570.8,773.5 1620,770.3" fill="none" stroke="#303030" stroke-width="1.15" stroke-opacity="0.8"/>
<polyline points="440,985.8 489.2,974.9 538.3,964.5 587.5,954.4 636.7,944.7 685.8,935.4 735,926.4 784.2,917.8 833.3,909.6 882.5,901.8 931.7,894.3 980.8,887.3 1030,880.6 1079.2,874.2 1128.3,868.3 1177.5,862.7 1226.7,857.5 1275.8,852.6 1325,848.2 1374.2,844.1 1423.3,840.4 1472.5,837 1521.7,834.1 1570.8,831.5 1620,829.3" fill="none" stroke="#303030" stroke-width="1.15" stroke-opacity="0.8"/>
<polyline points="440,1032 489.2,1018.7 538.3,1006.2 587.5,994.3 636.7,983.2 685.8,972.7 735,962.9 784.2,953.8 833.3,945.4 882.5,937.6 931.7,930.6 980.8,924.2 1030,918.6 1079.2,913.6 1128.3,909.3 1177.5,905.7 1226.7,902.8 1275.8,900.6 1325,899.1 1374.2,898.2 1423.3,898.1 1472.5,898.6 1521.7,899.8 1570.8,901.7 1620,904.3" fill="none" stroke="#303030" stroke-width="1.15" stroke-opacity="0.8"/>
</g>
<line x1="220.6" y1="1191.4" x2="176.8" y2="138.6" stroke="#000" stroke-width="4.0" stroke-linecap="square"/>
<line x1="220.6" y1="1191.4" x2="1044.2" y2="1493.6" stroke="#000" stroke-width="4.0" stroke-linecap="square"/>
<line x1="1044.2" y1="1493.6" x2="1697.6" y2="1148.5" stroke="#000" stroke-width="4.0" stroke-linecap="square"/>
<line x1="217.7" y1="1120.4" x2="200.2" y2="1126.8" stroke="#000" stroke-width="3.2" stroke-linecap="butt"/>
<line x1="211.7" y1="976.6" x2="194" y2="982.5" stroke="#000" stroke-width="3.2" stroke-linecap="butt"/>
<line x1="205.6" y1="830.2" x2="187.7" y2="835.6" stroke="#000" stroke-width="3.2" stroke-linecap="butt"/>
<line x1="199.4" y1="681.3" x2="181.4" y2="686.2" stroke="#000" stroke-width="3.2" stroke-linecap="butt"/>
<line x1="193.1" y1="529.7" x2="174.9" y2="534.1" stroke="#000" stroke-width="3.2" stroke-linecap="butt"/>
<line x1="186.6" y1="375.3" x2="168.2" y2="379.2" stroke="#000" stroke-width="3.2" stroke-linecap="butt"/>
<line x1="180.1" y1="218.2" x2="161.5" y2="221.5" stroke="#000" stroke-width="3.2" stroke-linecap="butt"/>
<line x1="218.1" y1="1190.5" x2="203.5" y2="1196" stroke="#000" stroke-width="3.2" stroke-linecap="butt"/>
<line x1="380.7" y1="1250.2" x2="366.2" y2="1256" stroke="#000" stroke-width="3.2" stroke-linecap="butt"/>
<line x1="553.9" y1="1313.7" x2="539.5" y2="1320" stroke="#000" stroke-width="3.2" stroke-linecap="butt"/>
<line x1="738.8" y1="1381.6" x2="724.5" y2="1388.2" stroke="#000" stroke-width="3.2" stroke-linecap="butt"/>
<line x1="936.7" y1="1454.1" x2="922.5" y2="1461.3" stroke="#000" stroke-width="3.2" stroke-linecap="butt"/>
<line x1="298.1" y1="1219.9" x2="290.9" y2="1222.7" stroke="#000" stroke-width="3.2" stroke-linecap="butt"/>
<line x1="465.9" y1="1281.4" x2="458.7" y2="1284.4" stroke="#000" stroke-width="3.2" stroke-linecap="butt"/>
<line x1="644.8" y1="1347.1" x2="637.6" y2="1350.3" stroke="#000" stroke-width="3.2" stroke-linecap="butt"/>
<line x1="836" y1="1417.2" x2="828.9" y2="1420.7" stroke="#000" stroke-width="3.2" stroke-linecap="butt"/>
<line x1="1040.9" y1="1492.4" x2="1033.8" y2="1496.1" stroke="#000" stroke-width="3.2" stroke-linecap="butt"/>
<line x1="1044.2" y1="1493.6" x2="1063.4" y2="1500.7" stroke="#000" stroke-width="3.2" stroke-linecap="butt"/>
<line x1="1288.1" y1="1364.8" x2="1306.9" y2="1371" stroke="#000" stroke-width="3.2" stroke-linecap="butt"/>
<line x1="1504.4" y1="1250.6" x2="1522.7" y2="1256.1" stroke="#000" stroke-width="3.2" stroke-linecap="butt"/>
<line x1="1697.6" y1="1148.5" x2="1715.4" y2="1153.5" stroke="#000" stroke-width="3.2" stroke-linecap="butt"/>
<line x1="1169.9" y1="1427.2" x2="1179.4" y2="1430.5" stroke="#000" stroke-width="3.2" stroke-linecap="butt"/>
<line x1="1399.4" y1="1306" x2="1408.7" y2="1309" stroke="#000" stroke-width="3.2" stroke-linecap="butt"/>
<line x1="1603.7" y1="1198.1" x2="1612.7" y2="1200.8" stroke="#000" stroke-width="3.2" stroke-linecap="butt"/>
<text transform="matrix(0.8917 -0.3269 0.0485 1.0854 169.3355 1155.9504)" font-size="50" text-anchor="middle" >10</text>
<text transform="matrix(0.9007 -0.3034 0.0493 1.1045 162.8691 1011.1263)" font-size="50" text-anchor="middle" >12</text>
<text transform="matrix(0.9098 -0.2791 0.0502 1.1241 156.2883 863.7409)" font-size="50" text-anchor="middle" >14</text>
<text transform="matrix(0.9192 -0.2538 0.0511 1.1442 149.5902 713.7258)" font-size="50" text-anchor="middle" >16</text>
<text transform="matrix(0.9288 -0.2276 0.0520 1.1649 142.7714 561.0098)" font-size="50" text-anchor="middle" >18</text>
<text transform="matrix(0.9385 -0.2004 0.0530 1.1862 135.8288 405.5194)" font-size="50" text-anchor="middle" >20</text>
<text transform="matrix(0.9484 -0.1721 0.0539 1.2080 128.7589 247.1783)" font-size="50" text-anchor="middle" >22</text>
<text transform="matrix(1.0470 -0.3981 0.8651 0.3243 182.4787 1218.3883)" font-size="50" text-anchor="middle" >45</text>
<text transform="matrix(1.0448 -0.4243 0.9215 0.3455 346.4553 1279.8699)" font-size="50" text-anchor="middle" >50</text>
<text transform="matrix(1.0399 -0.4532 0.9837 0.3688 521.3129 1345.4311)" font-size="50" text-anchor="middle" >55</text>
<text transform="matrix(1.0318 -0.4852 1.0523 0.3946 708.1715 1415.4921)" font-size="50" text-anchor="middle" >60</text>
<text transform="matrix(1.0200 -0.5206 1.1285 0.4231 908.3106 1490.5324)" font-size="50" text-anchor="middle" >65</text>
<text transform="matrix(1.2545 0.4634 -0.9359 0.5094 1100.0758 1528.9725)" font-size="50" text-anchor="middle" >4.5</text>
<text transform="matrix(1.2260 0.4092 -0.8256 0.4494 1344.2545 1396.0573)" font-size="50" text-anchor="middle" >5.0</text>
<text transform="matrix(1.1957 0.3641 -0.7337 0.3994 1560.4547 1278.3718)" font-size="50" text-anchor="middle" >5.5</text>
<text transform="matrix(1.1645 0.3261 -0.6564 0.3573 1753.2245 1173.4404)" font-size="50" text-anchor="middle" >6.0</text>
<text transform="matrix(1.0380 0.4024 -1.0858 0.4788 466.0814 1393.1981)" font-size="50" text-anchor="start" ><tspan x="-310.0" y="0.0" font-size="47.2">flow</tspan> <tspan x="-215.0" y="0.0" font-size="48.1">rate</tspan> <tspan x="-132.4" y="0.0" font-size="48.8">of</tspan> <tspan x="-80.7" y="0.0" font-size="49.7">main</tspan> <tspan x="31.7" y="-0.0" font-size="51.0">circuit</tspan> <tspan x="179.6" y="-0.0" font-size="52.8">(L/min)</tspan></text>
<text transform="matrix(0.7931 -0.4518 1.2301 0.3902 1569.5164 1363.5577)" font-size="50" text-anchor="start" ><tspan x="-209.3" y="0.0" font-size="51.9">cooling</tspan> <tspan x="-40.0" y="-0.0" font-size="49.7">power</tspan> <tspan x="94.5" y="-0.0" font-size="47.9">(kW)</tspan></text>
<text transform="matrix(0.0568 1.1608 -0.8944 0.2435 77.4404 714.4786)" font-size="50" text-anchor="start" ><tspan x="-372.1" y="-0.0" font-size="51.3">flow</tspan> <tspan x="-263.8" y="-0.0" font-size="50.9">rate</tspan> <tspan x="-174.1" y="-0.0" font-size="50.6">of</tspan> <tspan x="-118.8" y="-0.0" font-size="50.4">oil</tspan> <tspan x="-52.8" y="-0.0" font-size="50.0">refill</tspan> <tspan x="56.5" y="0.0" font-size="49.5">system</tspan> <tspan x="204.4" y="0.0" font-size="48.9">(L/min)</tspan></text></g>
<g><path d="M199.8,2964.4 L913,2699.7 M913,2699.7 L1720,2920.1 M192,2784.2 L913.1,2542.9 M913.1,2542.9 L1728.7,2744.3 M184.1,2600 L913.1,2383.1 M913.1,2383.1 L1737.5,2564.8 M175.9,2411.6 L913.1,2220.3 M913.1,2220.3 L1746.5,2381.3 M167.6,2219 L913.2,2054.3 M913.2,2054.3 L1755.7,2193.8 M159,2022 L913.2,1885 M913.2,1885 L1765.2,2002.2 M463.5,2905 L435.6,1876.4 M463.5,2905 L1297.9,3182.2 M699.4,2815.5 L687,1835.7 M699.4,2815.5 L1519.9,3064.3 M1075,2779.7 L1084.6,1820.3 M368.7,3065.8 L1075,2779.7 M1246,2827.4 L1266,1842.6 M546.8,3131.2 L1246,2827.4 M1426.8,2877.9 L1458.5,1866.3 M737,3201.1 L1426.8,2877.9 M1618.1,2931.2 L1662.9,1891.5 M940.3,3275.8 L1618.1,2931.2" fill="none" stroke="#c6c6c6" stroke-width="1" stroke-dasharray="2 3"/>
<line x1="154.7" y1="1921.8" x2="913.2" y2="1799.2" stroke="#111" stroke-width="1.7" />
<line x1="913.2" y1="1799.2" x2="1770" y2="1904.7" stroke="#111" stroke-width="1.7" />
<line x1="1770" y1="1904.7" x2="1718.1" y2="2959.1" stroke="#111" stroke-width="1.7" />
<line x1="201.5" y1="3004.4" x2="913" y2="2734.6" stroke="#111" stroke-width="1.7" />
<line x1="913" y1="2734.6" x2="1718.1" y2="2959.1" stroke="#111" stroke-width="1.7" />
<line x1="913" y1="2734.6" x2="913.2" y2="1799.2" stroke="#555" stroke-width="1.3" />
<clipPath id="clipb"><path d="M460.7,2885.6 C491.4,2861.6 522.1,2841.3 552.8,2813.7 C583.5,2786.1 616.1,2752.6 644.9,2720.2 C673.7,2687.8 699.9,2654.1 725.8,2619.1 C751.6,2584.1 776,2547.5 800,2510.3 C824,2473.1 846.8,2434.8 869.7,2395.7 C892.6,2356.6 915.8,2316.8 937.6,2275.8 C959.4,2234.9 979.4,2192.5 1000.6,2150 C1021.8,2107.5 1043.4,2064 1064.8,2021 C1115.3,2054.6 1169.7,2088.4 1216.3,2121.7 C1262.9,2155 1305.1,2188.6 1344.4,2220.6 C1383.7,2252.6 1418.9,2282.9 1452.2,2313.5 C1485.5,2344.1 1520.2,2380 1544.4,2404.3 C1568.6,2428.7 1579.7,2441.2 1597.4,2459.6 C1588,2471.9 1587.1,2473.9 1569.1,2496.4 C1551.1,2518.9 1517.7,2562.7 1489.6,2594.4 C1461.5,2626.1 1431.9,2656.9 1400.6,2686.5 C1369.3,2716.1 1330.2,2749.3 1301.7,2771.9 C1273.2,2794.5 1253.8,2805.4 1229.8,2822.2 C1153.2,2829 1080.8,2835.2 1000,2842.5 C919.2,2849.8 830,2858.2 745,2866 C704.9,2867.5 659.7,2868.8 624.7,2870.5 C589.7,2872.2 562.1,2874 534.8,2876.5 C507.5,2879 485.4,2882.6 460.7,2885.6Z"/></clipPath>
<g clip-path="url(#clipb)">
<path d="M460.7,2885.6 C491.4,2861.6 522.1,2841.3 552.8,2813.7 C583.5,2786.1 616.1,2752.6 644.9,2720.2 C673.7,2687.8 699.9,2654.1 725.8,2619.1 C751.6,2584.1 776,2547.5 800,2510.3 C824,2473.1 846.8,2434.8 869.7,2395.7 C892.6,2356.6 915.8,2316.8 937.6,2275.8 C959.4,2234.9 979.4,2192.5 1000.6,2150 C1021.8,2107.5 1043.4,2064 1064.8,2021 C1115.3,2054.6 1169.7,2088.4 1216.3,2121.7 C1262.9,2155 1305.1,2188.6 1344.4,2220.6 C1383.7,2252.6 1418.9,2282.9 1452.2,2313.5 C1485.5,2344.1 1520.2,2380 1544.4,2404.3 C1568.6,2428.7 1579.7,2441.2 1597.4,2459.6 C1588,2471.9 1587.1,2473.9 1569.1,2496.4 C1551.1,2518.9 1517.7,2562.7 1489.6,2594.4 C1461.5,2626.1 1431.9,2656.9 1400.6,2686.5 C1369.3,2716.1 1330.2,2749.3 1301.7,2771.9 C1273.2,2794.5 1253.8,2805.4 1229.8,2822.2 C1153.2,2829 1080.8,2835.2 1000,2842.5 C919.2,2849.8 830,2858.2 745,2866 C704.9,2867.5 659.7,2868.8 624.7,2870.5 C589.7,2872.2 562.1,2874 534.8,2876.5 C507.5,2879 485.4,2882.6 460.7,2885.6Z" fill="#9200cd"/>
<polygon points="430,2069.1 480.4,2062.8 530.8,2056.5 581.2,2050.1 631.7,2043.8 682.1,2037.5 732.5,2031.2 782.9,2024.9 833.3,2018.5 883.8,2012.2 934.2,2005.9 984.6,1999.6 1035,1993.3 1085.4,1986.9 1135.8,1980.6 1186.2,1974.3 1236.7,1968 1287.1,1961.7 1337.5,1955.3 1387.9,1949 1438.3,1942.7 1488.8,1936.4 1539.2,1930.1 1589.6,1923.7 1640,1917.4 1640,1930 1589.6,1936.3 1539.2,1942.7 1488.8,1949 1438.3,1955.4 1387.9,1961.7 1337.5,1968.1 1287.1,1974.4 1236.7,1980.8 1186.2,1987.1 1135.8,1993.5 1085.4,1999.8 1035,2006.1 984.6,2012.5 934.2,2018.8 883.8,2025.2 833.3,2031.5 782.9,2037.9 732.5,2044.2 682.1,2050.6 631.7,2056.9 581.2,2063.2 530.8,2069.6 480.4,2075.9 430,2082.3" fill="#600000"/>
<polygon points="430,2075.7 480.4,2069.4 530.8,2063 581.2,2056.7 631.7,2050.4 682.1,2044 732.5,2037.7 782.9,2031.4 833.3,2025 883.8,2018.7 934.2,2012.4 984.6,2006 1035,1999.7 1085.4,1993.4 1135.8,1987 1186.2,1980.7 1236.7,1974.4 1287.1,1968 1337.5,1961.7 1387.9,1955.4 1438.3,1949 1488.8,1942.7 1539.2,1936.4 1589.6,1930 1640,1923.7 1640,1936.3 1589.6,1942.6 1539.2,1949 1488.8,1955.4 1438.3,1961.7 1387.9,1968.1 1337.5,1974.4 1287.1,1980.8 1236.7,1987.2 1186.2,1993.5 1135.8,1999.9 1085.4,2006.2 1035,2012.6 984.6,2018.9 934.2,2025.3 883.8,2031.7 833.3,2038 782.9,2044.4 732.5,2050.7 682.1,2057.1 631.7,2063.4 581.2,2069.8 530.8,2076.2 480.4,2082.5 430,2088.9" fill="#600000"/>
<polygon points="430,2082.3 480.4,2075.9 530.8,2069.6 581.2,2063.2 631.7,2056.9 682.1,2050.6 732.5,2044.2 782.9,2037.9 833.3,2031.5 883.8,2025.2 934.2,2018.8 984.6,2012.5 1035,2006.1 1085.4,1999.8 1135.8,1993.5 1186.2,1987.1 1236.7,1980.8 1287.1,1974.4 1337.5,1968.1 1387.9,1961.7 1438.3,1955.4 1488.8,1949 1539.2,1942.7 1589.6,1936.3 1640,1930 1640,1942.6 1589.6,1949 1539.2,1955.3 1488.8,1961.7 1438.3,1968.1 1387.9,1974.4 1337.5,1980.8 1287.1,1987.2 1236.7,1993.5 1186.2,1999.9 1135.8,2006.3 1085.4,2012.7 1035,2019 984.6,2025.4 934.2,2031.8 883.8,2038.1 833.3,2044.5 782.9,2050.9 732.5,2057.2 682.1,2063.6 631.7,2070 581.2,2076.4 530.8,2082.7 480.4,2089.1 430,2095.5" fill="#630000"/>
<polygon points="430,2088.9 480.4,2082.5 530.8,2076.2 581.2,2069.8 631.7,2063.4 682.1,2057.1 732.5,2050.7 782.9,2044.4 833.3,2038 883.8,2031.7 934.2,2025.3 984.6,2018.9 1035,2012.6 1085.4,2006.2 1135.8,1999.9 1186.2,1993.5 1236.7,1987.2 1287.1,1980.8 1337.5,1974.4 1387.9,1968.1 1438.3,1961.7 1488.8,1955.4 1539.2,1949 1589.6,1942.6 1640,1936.3 1640,1948.9 1589.6,1955.3 1539.2,1961.6 1488.8,1968 1438.3,1974.4 1387.9,1980.8 1337.5,1987.2 1287.1,1993.5 1236.7,1999.9 1186.2,2006.3 1135.8,2012.7 1085.4,2019.1 1035,2025.5 984.6,2031.8 934.2,2038.2 883.8,2044.6 833.3,2051 782.9,2057.4 732.5,2063.8 682.1,2070.1 631.7,2076.5 581.2,2082.9 530.8,2089.3 480.4,2095.7 430,2102.1" fill="#660000"/>
<polygon points="430,2095.5 480.4,2089.1 530.8,2082.7 581.2,2076.4 631.7,2070 682.1,2063.6 732.5,2057.2 782.9,2050.9 833.3,2044.5 883.8,2038.1 934.2,2031.8 984.6,2025.4 1035,2019 1085.4,2012.7 1135.8,2006.3 1186.2,1999.9 1236.7,1993.5 1287.1,1987.2 1337.5,1980.8 1387.9,1974.4 1438.3,1968.1 1488.8,1961.7 1539.2,1955.3 1589.6,1949 1640,1942.6 1640,1955.2 1589.6,1961.6 1539.2,1968 1488.8,1974.3 1438.3,1980.7 1387.9,1987.1 1337.5,1993.5 1287.1,1999.9 1236.7,2006.3 1186.2,2012.7 1135.8,2019.1 1085.4,2025.5 1035,2031.9 984.6,2038.3 934.2,2044.7 883.8,2051.1 833.3,2057.5 782.9,2063.9 732.5,2070.3 682.1,2076.7 631.7,2083.1 581.2,2089.5 530.8,2095.9 480.4,2102.2 430,2108.6" fill="#6a0000"/>
<polygon points="430,2102.1 480.4,2095.7 530.8,2089.3 581.2,2082.9 631.7,2076.5 682.1,2070.1 732.5,2063.8 782.9,2057.4 833.3,2051 883.8,2044.6 934.2,2038.2 984.6,2031.8 1035,2025.5 1085.4,2019.1 1135.8,2012.7 1186.2,2006.3 1236.7,1999.9 1287.1,1993.5 1337.5,1987.2 1387.9,1980.8 1438.3,1974.4 1488.8,1968 1539.2,1961.6 1589.6,1955.3 1640,1948.9 1640,1961.5 1589.6,1967.9 1539.2,1974.3 1488.8,1980.7 1438.3,1987.1 1387.9,1993.5 1337.5,1999.9 1287.1,2006.3 1236.7,2012.7 1186.2,2019.1 1135.8,2025.5 1085.4,2031.9 1035,2038.3 984.6,2044.8 934.2,2051.2 883.8,2057.6 833.3,2064 782.9,2070.4 732.5,2076.8 682.1,2083.2 631.7,2089.6 581.2,2096 530.8,2102.4 480.4,2108.8 430,2115.2" fill="#6e0000"/>
<polygon points="430,2108.6 480.4,2102.2 530.8,2095.9 581.2,2089.5 631.7,2083.1 682.1,2076.7 732.5,2070.3 782.9,2063.9 833.3,2057.5 883.8,2051.1 934.2,2044.7 984.6,2038.3 1035,2031.9 1085.4,2025.5 1135.8,2019.1 1186.2,2012.7 1236.7,2006.3 1287.1,1999.9 1337.5,1993.5 1387.9,1987.1 1438.3,1980.7 1488.8,1974.3 1539.2,1968 1589.6,1961.6 1640,1955.2 1640,1967.7 1589.6,1974.2 1539.2,1980.6 1488.8,1987 1438.3,1993.4 1387.9,1999.8 1337.5,2006.3 1287.1,2012.7 1236.7,2019.1 1186.2,2025.5 1135.8,2031.9 1085.4,2038.4 1035,2044.8 984.6,2051.2 934.2,2057.6 883.8,2064 833.3,2070.5 782.9,2076.9 732.5,2083.3 682.1,2089.7 631.7,2096.1 581.2,2102.6 530.8,2109 480.4,2115.4 430,2121.8" fill="#720000"/>
<polygon points="430,2115.2 480.4,2108.8 530.8,2102.4 581.2,2096 631.7,2089.6 682.1,2083.2 732.5,2076.8 782.9,2070.4 833.3,2064 883.8,2057.6 934.2,2051.2 984.6,2044.8 1035,2038.3 1085.4,2031.9 1135.8,2025.5 1186.2,2019.1 1236.7,2012.7 1287.1,2006.3 1337.5,1999.9 1387.9,1993.5 1438.3,1987.1 1488.8,1980.7 1539.2,1974.3 1589.6,1967.9 1640,1961.5 1640,1974 1589.6,1980.5 1539.2,1986.9 1488.8,1993.3 1438.3,1999.8 1387.9,2006.2 1337.5,2012.6 1287.1,2019.1 1236.7,2025.5 1186.2,2031.9 1135.8,2038.4 1085.4,2044.8 1035,2051.2 984.6,2057.7 934.2,2064.1 883.8,2070.5 833.3,2077 782.9,2083.4 732.5,2089.8 682.1,2096.3 631.7,2102.7 581.2,2109.1 530.8,2115.5 480.4,2122 430,2128.4" fill="#750000"/>
<polygon points="430,2121.8 480.4,2115.4 530.8,2109 581.2,2102.6 631.7,2096.1 682.1,2089.7 732.5,2083.3 782.9,2076.9 833.3,2070.5 883.8,2064 934.2,2057.6 984.6,2051.2 1035,2044.8 1085.4,2038.4 1135.8,2031.9 1186.2,2025.5 1236.7,2019.1 1287.1,2012.7 1337.5,2006.3 1387.9,1999.8 1438.3,1993.4 1488.8,1987 1539.2,1980.6 1589.6,1974.2 1640,1967.7 1640,1980.3 1589.6,1986.8 1539.2,1993.2 1488.8,1999.7 1438.3,2006.1 1387.9,2012.6 1337.5,2019 1287.1,2025.4 1236.7,2031.9 1186.2,2038.3 1135.8,2044.8 1085.4,2051.2 1035,2057.7 984.6,2064.1 934.2,2070.6 883.8,2077 833.3,2083.4 782.9,2089.9 732.5,2096.3 682.1,2102.8 631.7,2109.2 581.2,2115.7 530.8,2122.1 480.4,2128.6 430,2135" fill="#790000"/>
<polygon points="430,2128.4 480.4,2122 530.8,2115.5 581.2,2109.1 631.7,2102.7 682.1,2096.3 732.5,2089.8 782.9,2083.4 833.3,2077 883.8,2070.5 934.2,2064.1 984.6,2057.7 1035,2051.2 1085.4,2044.8 1135.8,2038.4 1186.2,2031.9 1236.7,2025.5 1287.1,2019.1 1337.5,2012.6 1387.9,2006.2 1438.3,1999.8 1488.8,1993.3 1539.2,1986.9 1589.6,1980.5 1640,1974 1640,1986.6 1589.6,1993.1 1539.2,1999.5 1488.8,2006 1438.3,2012.4 1387.9,2018.9 1337.5,2025.4 1287.1,2031.8 1236.7,2038.3 1186.2,2044.7 1135.8,2051.2 1085.4,2057.6 1035,2064.1 984.6,2070.6 934.2,2077 883.8,2083.5 833.3,2089.9 782.9,2096.4 732.5,2102.8 682.1,2109.3 631.7,2115.8 581.2,2122.2 530.8,2128.7 480.4,2135.1 430,2141.6" fill="#7d0000"/>
<polygon points="430,2135 480.4,2128.6 530.8,2122.1 581.2,2115.7 631.7,2109.2 682.1,2102.8 732.5,2096.3 782.9,2089.9 833.3,2083.4 883.8,2077 934.2,2070.6 984.6,2064.1 1035,2057.7 1085.4,2051.2 1135.8,2044.8 1186.2,2038.3 1236.7,2031.9 1287.1,2025.4 1337.5,2019 1387.9,2012.6 1438.3,2006.1 1488.8,1999.7 1539.2,1993.2 1589.6,1986.8 1640,1980.3 1640,1992.9 1589.6,1999.4 1539.2,2005.8 1488.8,2012.3 1438.3,2018.8 1387.9,2025.3 1337.5,2031.7 1287.1,2038.2 1236.7,2044.7 1186.2,2051.1 1135.8,2057.6 1085.4,2064.1 1035,2070.5 984.6,2077 934.2,2083.5 883.8,2090 833.3,2096.4 782.9,2102.9 732.5,2109.4 682.1,2115.8 631.7,2122.3 581.2,2128.8 530.8,2135.2 480.4,2141.7 430,2148.2" fill="#800000"/>
<polygon points="430,2141.6 480.4,2135.1 530.8,2128.7 581.2,2122.2 631.7,2115.8 682.1,2109.3 732.5,2102.8 782.9,2096.4 833.3,2089.9 883.8,2083.5 934.2,2077 984.6,2070.6 1035,2064.1 1085.4,2057.6 1135.8,2051.2 1186.2,2044.7 1236.7,2038.3 1287.1,2031.8 1337.5,2025.4 1387.9,2018.9 1438.3,2012.4 1488.8,2006 1539.2,1999.5 1589.6,1993.1 1640,1986.6 1640,1999.2 1589.6,2005.7 1539.2,2012.2 1488.8,2018.6 1438.3,2025.1 1387.9,2031.6 1337.5,2038.1 1287.1,2044.6 1236.7,2051.1 1186.2,2057.5 1135.8,2064 1085.4,2070.5 1035,2077 984.6,2083.5 934.2,2089.9 883.8,2096.4 833.3,2102.9 782.9,2109.4 732.5,2115.9 682.1,2122.4 631.7,2128.8 581.2,2135.3 530.8,2141.8 480.4,2148.3 430,2154.8" fill="#840000"/>
<polygon points="430,2148.2 480.4,2141.7 530.8,2135.2 581.2,2128.8 631.7,2122.3 682.1,2115.8 732.5,2109.4 782.9,2102.9 833.3,2096.4 883.8,2090 934.2,2083.5 984.6,2077 1035,2070.5 1085.4,2064.1 1135.8,2057.6 1186.2,2051.1 1236.7,2044.7 1287.1,2038.2 1337.5,2031.7 1387.9,2025.3 1438.3,2018.8 1488.8,2012.3 1539.2,2005.8 1589.6,1999.4 1640,1992.9 1640,2005.5 1589.6,2012 1539.2,2018.5 1488.8,2025 1438.3,2031.5 1387.9,2038 1337.5,2044.5 1287.1,2051 1236.7,2057.4 1186.2,2063.9 1135.8,2070.4 1085.4,2076.9 1035,2083.4 984.6,2089.9 934.2,2096.4 883.8,2102.9 833.3,2109.4 782.9,2115.9 732.5,2122.4 682.1,2128.9 631.7,2135.4 581.2,2141.9 530.8,2148.4 480.4,2154.9 430,2161.4" fill="#880000"/>
<polygon points="430,2154.8 480.4,2148.3 530.8,2141.8 581.2,2135.3 631.7,2128.8 682.1,2122.4 732.5,2115.9 782.9,2109.4 833.3,2102.9 883.8,2096.4 934.2,2089.9 984.6,2083.5 1035,2077 1085.4,2070.5 1135.8,2064 1186.2,2057.5 1236.7,2051.1 1287.1,2044.6 1337.5,2038.1 1387.9,2031.6 1438.3,2025.1 1488.8,2018.6 1539.2,2012.2 1589.6,2005.7 1640,1999.2 1640,2011.8 1589.6,2018.3 1539.2,2024.8 1488.8,2031.3 1438.3,2037.8 1387.9,2044.3 1337.5,2050.8 1287.1,2057.3 1236.7,2063.8 1186.2,2070.3 1135.8,2076.9 1085.4,2083.4 1035,2089.9 984.6,2096.4 934.2,2102.9 883.8,2109.4 833.3,2115.9 782.9,2122.4 732.5,2128.9 682.1,2135.4 631.7,2141.9 581.2,2148.4 530.8,2154.9 480.4,2161.4 430,2168" fill="#8b0000"/>
<polygon points="430,2161.4 480.4,2154.9 530.8,2148.4 581.2,2141.9 631.7,2135.4 682.1,2128.9 732.5,2122.4 782.9,2115.9 833.3,2109.4 883.8,2102.9 934.2,2096.4 984.6,2089.9 1035,2083.4 1085.4,2076.9 1135.8,2070.4 1186.2,2063.9 1236.7,2057.4 1287.1,2051 1337.5,2044.5 1387.9,2038 1438.3,2031.5 1488.8,2025 1539.2,2018.5 1589.6,2012 1640,2005.5 1640,2018.1 1589.6,2024.6 1539.2,2031.1 1488.8,2037.6 1438.3,2044.1 1387.9,2050.7 1337.5,2057.2 1287.1,2063.7 1236.7,2070.2 1186.2,2076.7 1135.8,2083.3 1085.4,2089.8 1035,2096.3 984.6,2102.8 934.2,2109.3 883.8,2115.9 833.3,2122.4 782.9,2128.9 732.5,2135.4 682.1,2141.9 631.7,2148.5 581.2,2155 530.8,2161.5 480.4,2168 430,2174.5" fill="#8f0000"/>
<polygon points="430,2168 480.4,2161.4 530.8,2154.9 581.2,2148.4 631.7,2141.9 682.1,2135.4 732.5,2128.9 782.9,2122.4 833.3,2115.9 883.8,2109.4 934.2,2102.9 984.6,2096.4 1035,2089.9 1085.4,2083.4 1135.8,2076.9 1186.2,2070.3 1236.7,2063.8 1287.1,2057.3 1337.5,2050.8 1387.9,2044.3 1438.3,2037.8 1488.8,2031.3 1539.2,2024.8 1589.6,2018.3 1640,2011.8 1640,2024.4 1589.6,2030.9 1539.2,2037.4 1488.8,2044 1438.3,2050.5 1387.9,2057 1337.5,2063.6 1287.1,2070.1 1236.7,2076.6 1186.2,2083.2 1135.8,2089.7 1085.4,2096.2 1035,2102.7 984.6,2109.3 934.2,2115.8 883.8,2122.3 833.3,2128.9 782.9,2135.4 732.5,2141.9 682.1,2148.5 631.7,2155 581.2,2161.5 530.8,2168.1 480.4,2174.6 430,2181.1" fill="#920000"/>
<polygon points="430,2174.5 480.4,2168 530.8,2161.5 581.2,2155 631.7,2148.5 682.1,2141.9 732.5,2135.4 782.9,2128.9 833.3,2122.4 883.8,2115.9 934.2,2109.3 984.6,2102.8 1035,2096.3 1085.4,2089.8 1135.8,2083.3 1186.2,2076.7 1236.7,2070.2 1287.1,2063.7 1337.5,2057.2 1387.9,2050.7 1438.3,2044.1 1488.8,2037.6 1539.2,2031.1 1589.6,2024.6 1640,2018.1 1640,2030.7 1589.6,2037.2 1539.2,2043.7 1488.8,2050.3 1438.3,2056.8 1387.9,2063.4 1337.5,2069.9 1287.1,2076.5 1236.7,2083 1186.2,2089.6 1135.8,2096.1 1085.4,2102.6 1035,2109.2 984.6,2115.7 934.2,2122.3 883.8,2128.8 833.3,2135.4 782.9,2141.9 732.5,2148.5 682.1,2155 631.7,2161.5 581.2,2168.1 530.8,2174.6 480.4,2181.2 430,2187.7" fill="#960000"/>
<polygon points="430,2181.1 480.4,2174.6 530.8,2168.1 581.2,2161.5 631.7,2155 682.1,2148.5 732.5,2141.9 782.9,2135.4 833.3,2128.9 883.8,2122.3 934.2,2115.8 984.6,2109.3 1035,2102.7 1085.4,2096.2 1135.8,2089.7 1186.2,2083.2 1236.7,2076.6 1287.1,2070.1 1337.5,2063.6 1387.9,2057 1438.3,2050.5 1488.8,2044 1539.2,2037.4 1589.6,2030.9 1640,2024.4 1640,2036.9 1589.6,2043.5 1539.2,2050.1 1488.8,2056.6 1438.3,2063.2 1387.9,2069.7 1337.5,2076.3 1287.1,2082.8 1236.7,2089.4 1186.2,2096 1135.8,2102.5 1085.4,2109.1 1035,2115.6 984.6,2122.2 934.2,2128.7 883.8,2135.3 833.3,2141.9 782.9,2148.4 732.5,2155 682.1,2161.5 631.7,2168.1 581.2,2174.6 530.8,2181.2 480.4,2187.8 430,2194.3" fill="#9a0000"/>
<polygon points="430,2187.7 480.4,2181.2 530.8,2174.6 581.2,2168.1 631.7,2161.5 682.1,2155 732.5,2148.5 782.9,2141.9 833.3,2135.4 883.8,2128.8 934.2,2122.3 984.6,2115.7 1035,2109.2 1085.4,2102.6 1135.8,2096.1 1186.2,2089.6 1236.7,2083 1287.1,2076.5 1337.5,2069.9 1387.9,2063.4 1438.3,2056.8 1488.8,2050.3 1539.2,2043.7 1589.6,2037.2 1640,2030.7 1640,2043.2 1589.6,2049.8 1539.2,2056.4 1488.8,2062.9 1438.3,2069.5 1387.9,2076.1 1337.5,2082.7 1287.1,2089.2 1236.7,2095.8 1186.2,2102.4 1135.8,2108.9 1085.4,2115.5 1035,2122.1 984.6,2128.6 934.2,2135.2 883.8,2141.8 833.3,2148.3 782.9,2154.9 732.5,2161.5 682.1,2168.1 631.7,2174.6 581.2,2181.2 530.8,2187.8 480.4,2194.3 430,2200.9" fill="#9d0000"/>
<polygon points="430,2194.3 480.4,2187.8 530.8,2181.2 581.2,2174.6 631.7,2168.1 682.1,2161.5 732.5,2155 782.9,2148.4 833.3,2141.9 883.8,2135.3 934.2,2128.7 984.6,2122.2 1035,2115.6 1085.4,2109.1 1135.8,2102.5 1186.2,2096 1236.7,2089.4 1287.1,2082.8 1337.5,2076.3 1387.9,2069.7 1438.3,2063.2 1488.8,2056.6 1539.2,2050.1 1589.6,2043.5 1640,2036.9 1640,2049.5 1589.6,2056.1 1539.2,2062.7 1488.8,2069.3 1438.3,2075.9 1387.9,2082.4 1337.5,2089 1287.1,2095.6 1236.7,2102.2 1186.2,2108.8 1135.8,2115.3 1085.4,2121.9 1035,2128.5 984.6,2135.1 934.2,2141.7 883.8,2148.3 833.3,2154.8 782.9,2161.4 732.5,2168 682.1,2174.6 631.7,2181.2 581.2,2187.7 530.8,2194.3 480.4,2200.9 430,2207.5" fill="#a10000"/>
<polygon points="430,2200.9 480.4,2194.3 530.8,2187.8 581.2,2181.2 631.7,2174.6 682.1,2168.1 732.5,2161.5 782.9,2154.9 833.3,2148.3 883.8,2141.8 934.2,2135.2 984.6,2128.6 1035,2122.1 1085.4,2115.5 1135.8,2108.9 1186.2,2102.4 1236.7,2095.8 1287.1,2089.2 1337.5,2082.7 1387.9,2076.1 1438.3,2069.5 1488.8,2062.9 1539.2,2056.4 1589.6,2049.8 1640,2043.2 1640,2055.8 1589.6,2062.4 1539.2,2069 1488.8,2075.6 1438.3,2082.2 1387.9,2088.8 1337.5,2095.4 1287.1,2102 1236.7,2108.6 1186.2,2115.2 1135.8,2121.8 1085.4,2128.4 1035,2134.9 984.6,2141.5 934.2,2148.1 883.8,2154.7 833.3,2161.3 782.9,2167.9 732.5,2174.5 682.1,2181.1 631.7,2187.7 581.2,2194.3 530.8,2200.9 480.4,2207.5 430,2214.1" fill="#a50000"/>
<polygon points="430,2207.5 480.4,2200.9 530.8,2194.3 581.2,2187.7 631.7,2181.2 682.1,2174.6 732.5,2168 782.9,2161.4 833.3,2154.8 883.8,2148.3 934.2,2141.7 984.6,2135.1 1035,2128.5 1085.4,2121.9 1135.8,2115.3 1186.2,2108.8 1236.7,2102.2 1287.1,2095.6 1337.5,2089 1387.9,2082.4 1438.3,2075.9 1488.8,2069.3 1539.2,2062.7 1589.6,2056.1 1640,2049.5 1640,2062.1 1589.6,2068.7 1539.2,2075.3 1488.8,2081.9 1438.3,2088.5 1387.9,2095.1 1337.5,2101.7 1287.1,2108.4 1236.7,2115 1186.2,2121.6 1135.8,2128.2 1085.4,2134.8 1035,2141.4 984.6,2148 934.2,2154.6 883.8,2161.2 833.3,2167.8 782.9,2174.4 732.5,2181 682.1,2187.6 631.7,2194.2 581.2,2200.8 530.8,2207.5 480.4,2214.1 430,2220.7" fill="#a80000"/>
<polygon points="430,2214.1 480.4,2207.5 530.8,2200.9 581.2,2194.3 631.7,2187.7 682.1,2181.1 732.5,2174.5 782.9,2167.9 833.3,2161.3 883.8,2154.7 934.2,2148.1 984.6,2141.5 1035,2134.9 1085.4,2128.4 1135.8,2121.8 1186.2,2115.2 1236.7,2108.6 1287.1,2102 1337.5,2095.4 1387.9,2088.8 1438.3,2082.2 1488.8,2075.6 1539.2,2069 1589.6,2062.4 1640,2055.8 1640,2068.4 1589.6,2075 1539.2,2081.6 1488.8,2088.3 1438.3,2094.9 1387.9,2101.5 1337.5,2108.1 1287.1,2114.7 1236.7,2121.4 1186.2,2128 1135.8,2134.6 1085.4,2141.2 1035,2147.8 984.6,2154.4 934.2,2161.1 883.8,2167.7 833.3,2174.3 782.9,2180.9 732.5,2187.5 682.1,2194.2 631.7,2200.8 581.2,2207.4 530.8,2214 480.4,2220.6 430,2227.3" fill="#ac0000"/>
<polygon points="430,2220.7 480.4,2214.1 530.8,2207.5 581.2,2200.8 631.7,2194.2 682.1,2187.6 732.5,2181 782.9,2174.4 833.3,2167.8 883.8,2161.2 934.2,2154.6 984.6,2148 1035,2141.4 1085.4,2134.8 1135.8,2128.2 1186.2,2121.6 1236.7,2115 1287.1,2108.4 1337.5,2101.7 1387.9,2095.1 1438.3,2088.5 1488.8,2081.9 1539.2,2075.3 1589.6,2068.7 1640,2062.1 1640,2074.7 1589.6,2081.3 1539.2,2088 1488.8,2094.6 1438.3,2101.2 1387.9,2107.8 1337.5,2114.5 1287.1,2121.1 1236.7,2127.7 1186.2,2134.4 1135.8,2141 1085.4,2147.6 1035,2154.3 984.6,2160.9 934.2,2167.5 883.8,2174.2 833.3,2180.8 782.9,2187.4 732.5,2194.1 682.1,2200.7 631.7,2207.3 581.2,2214 530.8,2220.6 480.4,2227.2 430,2233.8" fill="#b00000"/>
<polygon points="430,2227.3 480.4,2220.6 530.8,2214 581.2,2207.4 631.7,2200.8 682.1,2194.2 732.5,2187.5 782.9,2180.9 833.3,2174.3 883.8,2167.7 934.2,2161.1 984.6,2154.4 1035,2147.8 1085.4,2141.2 1135.8,2134.6 1186.2,2128 1236.7,2121.4 1287.1,2114.7 1337.5,2108.1 1387.9,2101.5 1438.3,2094.9 1488.8,2088.3 1539.2,2081.6 1589.6,2075 1640,2068.4 1640,2081 1589.6,2087.6 1539.2,2094.3 1488.8,2100.9 1438.3,2107.6 1387.9,2114.2 1337.5,2120.8 1287.1,2127.5 1236.7,2134.1 1186.2,2140.8 1135.8,2147.4 1085.4,2154.1 1035,2160.7 984.6,2167.4 934.2,2174 883.8,2180.6 833.3,2187.3 782.9,2193.9 732.5,2200.6 682.1,2207.2 631.7,2213.9 581.2,2220.5 530.8,2227.2 480.4,2233.8 430,2240.4" fill="#b40000"/>
<polygon points="430,2233.8 480.4,2227.2 530.8,2220.6 581.2,2214 631.7,2207.3 682.1,2200.7 732.5,2194.1 782.9,2187.4 833.3,2180.8 883.8,2174.2 934.2,2167.5 984.6,2160.9 1035,2154.3 1085.4,2147.6 1135.8,2141 1186.2,2134.4 1236.7,2127.7 1287.1,2121.1 1337.5,2114.5 1387.9,2107.8 1438.3,2101.2 1488.8,2094.6 1539.2,2088 1589.6,2081.3 1640,2074.7 1640,2087.3 1589.6,2093.9 1539.2,2100.6 1488.8,2107.2 1438.3,2113.9 1387.9,2120.6 1337.5,2127.2 1287.1,2133.9 1236.7,2140.5 1186.2,2147.2 1135.8,2153.8 1085.4,2160.5 1035,2167.1 984.6,2173.8 934.2,2180.5 883.8,2187.1 833.3,2193.8 782.9,2200.4 732.5,2207.1 682.1,2213.7 631.7,2220.4 581.2,2227.1 530.8,2233.7 480.4,2240.4 430,2247" fill="#b80000"/>
<polygon points="430,2240.4 480.4,2233.8 530.8,2227.2 581.2,2220.5 631.7,2213.9 682.1,2207.2 732.5,2200.6 782.9,2193.9 833.3,2187.3 883.8,2180.6 934.2,2174 984.6,2167.4 1035,2160.7 1085.4,2154.1 1135.8,2147.4 1186.2,2140.8 1236.7,2134.1 1287.1,2127.5 1337.5,2120.8 1387.9,2114.2 1438.3,2107.6 1488.8,2100.9 1539.2,2094.3 1589.6,2087.6 1640,2081 1640,2093.6 1589.6,2100.2 1539.2,2106.9 1488.8,2113.6 1438.3,2120.2 1387.9,2126.9 1337.5,2133.6 1287.1,2140.2 1236.7,2146.9 1186.2,2153.6 1135.8,2160.3 1085.4,2166.9 1035,2173.6 984.6,2180.3 934.2,2186.9 883.8,2193.6 833.3,2200.3 782.9,2206.9 732.5,2213.6 682.1,2220.3 631.7,2226.9 581.2,2233.6 530.8,2240.3 480.4,2246.9 430,2253.6" fill="#bc0000"/>
<polygon points="430,2247 480.4,2240.4 530.8,2233.7 581.2,2227.1 631.7,2220.4 682.1,2213.7 732.5,2207.1 782.9,2200.4 833.3,2193.8 883.8,2187.1 934.2,2180.5 984.6,2173.8 1035,2167.1 1085.4,2160.5 1135.8,2153.8 1186.2,2147.2 1236.7,2140.5 1287.1,2133.9 1337.5,2127.2 1387.9,2120.6 1438.3,2113.9 1488.8,2107.2 1539.2,2100.6 1589.6,2093.9 1640,2087.3 1640,2099.9 1589.6,2106.5 1539.2,2113.2 1488.8,2119.9 1438.3,2126.6 1387.9,2133.3 1337.5,2139.9 1287.1,2146.6 1236.7,2153.3 1186.2,2160 1135.8,2166.7 1085.4,2173.3 1035,2180 984.6,2186.7 934.2,2193.4 883.8,2200.1 833.3,2206.8 782.9,2213.4 732.5,2220.1 682.1,2226.8 631.7,2233.5 581.2,2240.2 530.8,2246.8 480.4,2253.5 430,2260.2" fill="#c00000"/>
<polygon points="430,2253.6 480.4,2246.9 530.8,2240.3 581.2,2233.6 631.7,2226.9 682.1,2220.3 732.5,2213.6 782.9,2206.9 833.3,2200.3 883.8,2193.6 934.2,2186.9 984.6,2180.3 1035,2173.6 1085.4,2166.9 1135.8,2160.3 1186.2,2153.6 1236.7,2146.9 1287.1,2140.2 1337.5,2133.6 1387.9,2126.9 1438.3,2120.2 1488.8,2113.6 1539.2,2106.9 1589.6,2100.2 1640,2093.6 1640,2106.1 1589.6,2112.8 1539.2,2119.5 1488.8,2126.2 1438.3,2132.9 1387.9,2139.6 1337.5,2146.3 1287.1,2153 1236.7,2159.7 1186.2,2166.4 1135.8,2173.1 1085.4,2179.8 1035,2186.5 984.6,2193.2 934.2,2199.9 883.8,2206.6 833.3,2213.2 782.9,2219.9 732.5,2226.6 682.1,2233.3 631.7,2240 581.2,2246.7 530.8,2253.4 480.4,2260.1 430,2266.8" fill="#c40000"/>
<polygon points="430,2260.2 480.4,2253.5 530.8,2246.8 581.2,2240.2 631.7,2233.5 682.1,2226.8 732.5,2220.1 782.9,2213.4 833.3,2206.8 883.8,2200.1 934.2,2193.4 984.6,2186.7 1035,2180 1085.4,2173.3 1135.8,2166.7 1186.2,2160 1236.7,2153.3 1287.1,2146.6 1337.5,2139.9 1387.9,2133.3 1438.3,2126.6 1488.8,2119.9 1539.2,2113.2 1589.6,2106.5 1640,2099.9 1640,2112.4 1589.6,2119.1 1539.2,2125.8 1488.8,2132.6 1438.3,2139.3 1387.9,2146 1337.5,2152.7 1287.1,2159.4 1236.7,2166.1 1186.2,2172.8 1135.8,2179.5 1085.4,2186.2 1035,2192.9 984.6,2199.6 934.2,2206.3 883.8,2213 833.3,2219.7 782.9,2226.4 732.5,2233.1 682.1,2239.9 631.7,2246.6 581.2,2253.3 530.8,2260 480.4,2266.7 430,2273.4" fill="#c90000"/>
<polygon points="430,2266.8 480.4,2260.1 530.8,2253.4 581.2,2246.7 631.7,2240 682.1,2233.3 732.5,2226.6 782.9,2219.9 833.3,2213.2 883.8,2206.6 934.2,2199.9 984.6,2193.2 1035,2186.5 1085.4,2179.8 1135.8,2173.1 1186.2,2166.4 1236.7,2159.7 1287.1,2153 1337.5,2146.3 1387.9,2139.6 1438.3,2132.9 1488.8,2126.2 1539.2,2119.5 1589.6,2112.8 1640,2106.1 1640,2118.7 1589.6,2125.4 1539.2,2132.2 1488.8,2138.9 1438.3,2145.6 1387.9,2152.3 1337.5,2159 1287.1,2165.8 1236.7,2172.5 1186.2,2179.2 1135.8,2185.9 1085.4,2192.6 1035,2199.4 984.6,2206.1 934.2,2212.8 883.8,2219.5 833.3,2226.2 782.9,2232.9 732.5,2239.7 682.1,2246.4 631.7,2253.1 581.2,2259.8 530.8,2266.5 480.4,2273.3 430,2280" fill="#cd0000"/>
<polygon points="430,2273.4 480.4,2266.7 530.8,2260 581.2,2253.3 631.7,2246.6 682.1,2239.9 732.5,2233.1 782.9,2226.4 833.3,2219.7 883.8,2213 934.2,2206.3 984.6,2199.6 1035,2192.9 1085.4,2186.2 1135.8,2179.5 1186.2,2172.8 1236.7,2166.1 1287.1,2159.4 1337.5,2152.7 1387.9,2146 1438.3,2139.3 1488.8,2132.6 1539.2,2125.8 1589.6,2119.1 1640,2112.4 1640,2125 1589.6,2131.7 1539.2,2138.5 1488.8,2145.2 1438.3,2151.9 1387.9,2158.7 1337.5,2165.4 1287.1,2172.1 1236.7,2178.9 1186.2,2185.6 1135.8,2192.3 1085.4,2199.1 1035,2205.8 984.6,2212.5 934.2,2219.3 883.8,2226 833.3,2232.7 782.9,2239.4 732.5,2246.2 682.1,2252.9 631.7,2259.6 581.2,2266.4 530.8,2273.1 480.4,2279.8 430,2286.6" fill="#d10000"/>
<polygon points="430,2280 480.4,2273.3 530.8,2266.5 581.2,2259.8 631.7,2253.1 682.1,2246.4 732.5,2239.7 782.9,2232.9 833.3,2226.2 883.8,2219.5 934.2,2212.8 984.6,2206.1 1035,2199.4 1085.4,2192.6 1135.8,2185.9 1186.2,2179.2 1236.7,2172.5 1287.1,2165.8 1337.5,2159 1387.9,2152.3 1438.3,2145.6 1488.8,2138.9 1539.2,2132.2 1589.6,2125.4 1640,2118.7 1640,2131.3 1589.6,2138 1539.2,2144.8 1488.8,2151.5 1438.3,2158.3 1387.9,2165 1337.5,2171.8 1287.1,2178.5 1236.7,2185.3 1186.2,2192 1135.8,2198.7 1085.4,2205.5 1035,2212.2 984.6,2219 934.2,2225.7 883.8,2232.5 833.3,2239.2 782.9,2246 732.5,2252.7 682.1,2259.4 631.7,2266.2 581.2,2272.9 530.8,2279.7 480.4,2286.4 430,2293.2" fill="#d50000"/>
<polygon points="430,2286.6 480.4,2279.8 530.8,2273.1 581.2,2266.4 631.7,2259.6 682.1,2252.9 732.5,2246.2 782.9,2239.4 833.3,2232.7 883.8,2226 934.2,2219.3 984.6,2212.5 1035,2205.8 1085.4,2199.1 1135.8,2192.3 1186.2,2185.6 1236.7,2178.9 1287.1,2172.1 1337.5,2165.4 1387.9,2158.7 1438.3,2151.9 1488.8,2145.2 1539.2,2138.5 1589.6,2131.7 1640,2125 1640,2137.6 1589.6,2144.4 1539.2,2151.1 1488.8,2157.9 1438.3,2164.6 1387.9,2171.4 1337.5,2178.1 1287.1,2184.9 1236.7,2191.6 1186.2,2198.4 1135.8,2205.2 1085.4,2211.9 1035,2218.7 984.6,2225.4 934.2,2232.2 883.8,2238.9 833.3,2245.7 782.9,2252.5 732.5,2259.2 682.1,2266 631.7,2272.7 581.2,2279.5 530.8,2286.2 480.4,2293 430,2299.7" fill="#d90000"/>
<polygon points="430,2293.2 480.4,2286.4 530.8,2279.7 581.2,2272.9 631.7,2266.2 682.1,2259.4 732.5,2252.7 782.9,2246 833.3,2239.2 883.8,2232.5 934.2,2225.7 984.6,2219 1035,2212.2 1085.4,2205.5 1135.8,2198.7 1186.2,2192 1236.7,2185.3 1287.1,2178.5 1337.5,2171.8 1387.9,2165 1438.3,2158.3 1488.8,2151.5 1539.2,2144.8 1589.6,2138 1640,2131.3 1640,2143.9 1589.6,2150.7 1539.2,2157.4 1488.8,2164.2 1438.3,2171 1387.9,2177.7 1337.5,2184.5 1287.1,2191.3 1236.7,2198 1186.2,2204.8 1135.8,2211.6 1085.4,2218.3 1035,2225.1 984.6,2231.9 934.2,2238.6 883.8,2245.4 833.3,2252.2 782.9,2259 732.5,2265.7 682.1,2272.5 631.7,2279.3 581.2,2286 530.8,2292.8 480.4,2299.6 430,2306.3" fill="#dd0000"/>
<polygon points="430,2299.7 480.4,2293 530.8,2286.2 581.2,2279.5 631.7,2272.7 682.1,2266 732.5,2259.2 782.9,2252.5 833.3,2245.7 883.8,2238.9 934.2,2232.2 984.6,2225.4 1035,2218.7 1085.4,2211.9 1135.8,2205.2 1186.2,2198.4 1236.7,2191.6 1287.1,2184.9 1337.5,2178.1 1387.9,2171.4 1438.3,2164.6 1488.8,2157.9 1539.2,2151.1 1589.6,2144.4 1640,2137.6 1640,2150.2 1589.6,2157 1539.2,2163.7 1488.8,2170.5 1438.3,2177.3 1387.9,2184.1 1337.5,2190.9 1287.1,2197.6 1236.7,2204.4 1186.2,2211.2 1135.8,2218 1085.4,2224.8 1035,2231.6 984.6,2238.3 934.2,2245.1 883.8,2251.9 833.3,2258.7 782.9,2265.5 732.5,2272.2 682.1,2279 631.7,2285.8 581.2,2292.6 530.8,2299.4 480.4,2306.1 430,2312.9" fill="#e20000"/>
<polygon points="430,2306.3 480.4,2299.6 530.8,2292.8 581.2,2286 631.7,2279.3 682.1,2272.5 732.5,2265.7 782.9,2259 833.3,2252.2 883.8,2245.4 934.2,2238.6 984.6,2231.9 1035,2225.1 1085.4,2218.3 1135.8,2211.6 1186.2,2204.8 1236.7,2198 1287.1,2191.3 1337.5,2184.5 1387.9,2177.7 1438.3,2171 1488.8,2164.2 1539.2,2157.4 1589.6,2150.7 1640,2143.9 1640,2156.5 1589.6,2163.3 1539.2,2170.1 1488.8,2176.9 1438.3,2183.6 1387.9,2190.4 1337.5,2197.2 1287.1,2204 1236.7,2210.8 1186.2,2217.6 1135.8,2224.4 1085.4,2231.2 1035,2238 984.6,2244.8 934.2,2251.6 883.8,2258.4 833.3,2265.2 782.9,2272 732.5,2278.8 682.1,2285.5 631.7,2292.3 581.2,2299.1 530.8,2305.9 480.4,2312.7 430,2319.5" fill="#e60000"/>
<polygon points="430,2312.9 480.4,2306.1 530.8,2299.4 581.2,2292.6 631.7,2285.8 682.1,2279 732.5,2272.2 782.9,2265.5 833.3,2258.7 883.8,2251.9 934.2,2245.1 984.6,2238.3 1035,2231.6 1085.4,2224.8 1135.8,2218 1186.2,2211.2 1236.7,2204.4 1287.1,2197.6 1337.5,2190.9 1387.9,2184.1 1438.3,2177.3 1488.8,2170.5 1539.2,2163.7 1589.6,2157 1640,2150.2 1640,2162.8 1589.6,2169.6 1539.2,2176.4 1488.8,2183.2 1438.3,2190 1387.9,2196.8 1337.5,2203.6 1287.1,2210.4 1236.7,2217.2 1186.2,2224 1135.8,2230.8 1085.4,2237.6 1035,2244.4 984.6,2251.2 934.2,2258 883.8,2264.9 833.3,2271.7 782.9,2278.5 732.5,2285.3 682.1,2292.1 631.7,2298.9 581.2,2305.7 530.8,2312.5 480.4,2319.3 430,2326.1" fill="#ea0000"/>
<polygon points="430,2319.5 480.4,2312.7 530.8,2305.9 581.2,2299.1 631.7,2292.3 682.1,2285.5 732.5,2278.8 782.9,2272 833.3,2265.2 883.8,2258.4 934.2,2251.6 984.6,2244.8 1035,2238 1085.4,2231.2 1135.8,2224.4 1186.2,2217.6 1236.7,2210.8 1287.1,2204 1337.5,2197.2 1387.9,2190.4 1438.3,2183.6 1488.8,2176.9 1539.2,2170.1 1589.6,2163.3 1640,2156.5 1640,2169.1 1589.6,2175.9 1539.2,2182.7 1488.8,2189.5 1438.3,2196.3 1387.9,2203.1 1337.5,2210 1287.1,2216.8 1236.7,2223.6 1186.2,2230.4 1135.8,2237.2 1085.4,2244.1 1035,2250.9 984.6,2257.7 934.2,2264.5 883.8,2271.3 833.3,2278.1 782.9,2285 732.5,2291.8 682.1,2298.6 631.7,2305.4 581.2,2312.2 530.8,2319.1 480.4,2325.9 430,2332.7" fill="#ee0000"/>
<polygon points="430,2326.1 480.4,2319.3 530.8,2312.5 581.2,2305.7 631.7,2298.9 682.1,2292.1 732.5,2285.3 782.9,2278.5 833.3,2271.7 883.8,2264.9 934.2,2258 984.6,2251.2 1035,2244.4 1085.4,2237.6 1135.8,2230.8 1186.2,2224 1236.7,2217.2 1287.1,2210.4 1337.5,2203.6 1387.9,2196.8 1438.3,2190 1488.8,2183.2 1539.2,2176.4 1589.6,2169.6 1640,2162.8 1640,2175.3 1589.6,2182.2 1539.2,2189 1488.8,2195.8 1438.3,2202.7 1387.9,2209.5 1337.5,2216.3 1287.1,2223.2 1236.7,2230 1186.2,2236.8 1135.8,2243.7 1085.4,2250.5 1035,2257.3 984.6,2264.1 934.2,2271 883.8,2277.8 833.3,2284.6 782.9,2291.5 732.5,2298.3 682.1,2305.1 631.7,2312 581.2,2318.8 530.8,2325.6 480.4,2332.5 430,2339.3" fill="#f20000"/>
<polygon points="430,2332.7 480.4,2325.9 530.8,2319.1 581.2,2312.2 631.7,2305.4 682.1,2298.6 732.5,2291.8 782.9,2285 833.3,2278.1 883.8,2271.3 934.2,2264.5 984.6,2257.7 1035,2250.9 1085.4,2244.1 1135.8,2237.2 1186.2,2230.4 1236.7,2223.6 1287.1,2216.8 1337.5,2210 1387.9,2203.1 1438.3,2196.3 1488.8,2189.5 1539.2,2182.7 1589.6,2175.9 1640,2169.1 1640,2181.6 1589.6,2188.4 1539.2,2195.3 1488.8,2202.1 1438.3,2208.9 1387.9,2215.8 1337.5,2222.6 1287.1,2229.4 1236.7,2236.3 1186.2,2243.1 1135.8,2250 1085.4,2256.8 1035,2263.7 984.6,2270.5 934.2,2277.4 883.8,2284.2 833.3,2291.1 782.9,2297.9 732.5,2304.8 682.1,2311.7 631.7,2318.5 581.2,2325.4 530.8,2332.3 480.4,2339.1 430,2346" fill="#f60000"/>
<polygon points="430,2339.3 480.4,2332.5 530.8,2325.6 581.2,2318.8 631.7,2312 682.1,2305.1 732.5,2298.3 782.9,2291.5 833.3,2284.6 883.8,2277.8 934.2,2271 984.6,2264.1 1035,2257.3 1085.4,2250.5 1135.8,2243.7 1186.2,2236.8 1236.7,2230 1287.1,2223.2 1337.5,2216.3 1387.9,2209.5 1438.3,2202.7 1488.8,2195.8 1539.2,2189 1589.6,2182.2 1640,2175.3 1640,2187.8 1589.6,2194.6 1539.2,2201.3 1488.8,2208.1 1438.3,2214.8 1387.9,2221.6 1337.5,2228.4 1287.1,2235.2 1236.7,2242.1 1186.2,2248.9 1135.8,2255.8 1085.4,2262.6 1035,2269.5 984.6,2276.4 934.2,2283.3 883.8,2290.3 833.3,2297.2 782.9,2304.2 732.5,2311.1 682.1,2318.1 631.7,2325.1 581.2,2332.2 530.8,2339.2 480.4,2346.2 430,2353.3" fill="#fb0000"/>
<polygon points="430,2346 480.4,2339.1 530.8,2332.3 581.2,2325.4 631.7,2318.5 682.1,2311.7 732.5,2304.8 782.9,2297.9 833.3,2291.1 883.8,2284.2 934.2,2277.4 984.6,2270.5 1035,2263.7 1085.4,2256.8 1135.8,2250 1186.2,2243.1 1236.7,2236.3 1287.1,2229.4 1337.5,2222.6 1387.9,2215.8 1438.3,2208.9 1488.8,2202.1 1539.2,2195.3 1589.6,2188.4 1640,2181.6 1640,2194 1589.6,2200.7 1539.2,2207.3 1488.8,2214 1438.3,2220.7 1387.9,2227.5 1337.5,2234.2 1287.1,2241 1236.7,2247.8 1186.2,2254.7 1135.8,2261.6 1085.4,2268.5 1035,2275.4 984.6,2282.3 934.2,2289.3 883.8,2296.3 833.3,2303.4 782.9,2310.4 732.5,2317.5 682.1,2324.6 631.7,2331.8 581.2,2338.9 530.8,2346.1 480.4,2353.3 430,2360.6" fill="#fc0000"/>
<polygon points="430,2353.3 480.4,2346.2 530.8,2339.2 581.2,2332.2 631.7,2325.1 682.1,2318.1 732.5,2311.1 782.9,2304.2 833.3,2297.2 883.8,2290.3 934.2,2283.3 984.6,2276.4 1035,2269.5 1085.4,2262.6 1135.8,2255.8 1186.2,2248.9 1236.7,2242.1 1287.1,2235.2 1337.5,2228.4 1387.9,2221.6 1438.3,2214.8 1488.8,2208.1 1539.2,2201.3 1589.6,2194.6 1640,2187.8 1640,2200.2 1589.6,2206.8 1539.2,2213.4 1488.8,2220 1438.3,2226.6 1387.9,2233.3 1337.5,2240.1 1287.1,2246.8 1236.7,2253.6 1186.2,2260.5 1135.8,2267.4 1085.4,2274.3 1035,2281.3 984.6,2288.3 934.2,2295.3 883.8,2302.4 833.3,2309.5 782.9,2316.7 732.5,2323.9 682.1,2331.1 631.7,2338.4 581.2,2345.7 530.8,2353 480.4,2360.4 430,2367.9" fill="#fc0000"/>
<polygon points="430,2360.6 480.4,2353.3 530.8,2346.1 581.2,2338.9 631.7,2331.8 682.1,2324.6 732.5,2317.5 782.9,2310.4 833.3,2303.4 883.8,2296.3 934.2,2289.3 984.6,2282.3 1035,2275.4 1085.4,2268.5 1135.8,2261.6 1186.2,2254.7 1236.7,2247.8 1287.1,2241 1337.5,2234.2 1387.9,2227.5 1438.3,2220.7 1488.8,2214 1539.2,2207.3 1589.6,2200.7 1640,2194 1640,2206.5 1589.6,2212.9 1539.2,2219.4 1488.8,2225.9 1438.3,2232.5 1387.9,2239.2 1337.5,2245.9 1287.1,2252.6 1236.7,2259.4 1186.2,2266.3 1135.8,2273.2 1085.4,2280.1 1035,2287.1 984.6,2294.2 934.2,2301.3 883.8,2308.4 833.3,2315.7 782.9,2322.9 732.5,2330.2 682.1,2337.6 631.7,2345 581.2,2352.5 530.8,2360 480.4,2367.5 430,2375.2" fill="#fc0000"/>
<polygon points="430,2367.9 480.4,2360.4 530.8,2353 581.2,2345.7 631.7,2338.4 682.1,2331.1 732.5,2323.9 782.9,2316.7 833.3,2309.5 883.8,2302.4 934.2,2295.3 984.6,2288.3 1035,2281.3 1085.4,2274.3 1135.8,2267.4 1186.2,2260.5 1236.7,2253.6 1287.1,2246.8 1337.5,2240.1 1387.9,2233.3 1438.3,2226.6 1488.8,2220 1539.2,2213.4 1589.6,2206.8 1640,2200.2 1640,2212.7 1589.6,2219 1539.2,2225.4 1488.8,2231.9 1438.3,2238.4 1387.9,2245 1337.5,2251.7 1287.1,2258.4 1236.7,2265.2 1186.2,2272.1 1135.8,2279 1085.4,2286 1035,2293 984.6,2300.1 934.2,2307.3 883.8,2314.5 833.3,2321.8 782.9,2329.2 732.5,2336.6 682.1,2344.1 631.7,2351.6 581.2,2359.2 530.8,2366.9 480.4,2374.6 430,2382.4" fill="#fd0000"/>
<polygon points="430,2375.2 480.4,2367.5 530.8,2360 581.2,2352.5 631.7,2345 682.1,2337.6 732.5,2330.2 782.9,2322.9 833.3,2315.7 883.8,2308.4 934.2,2301.3 984.6,2294.2 1035,2287.1 1085.4,2280.1 1135.8,2273.2 1186.2,2266.3 1236.7,2259.4 1287.1,2252.6 1337.5,2245.9 1387.9,2239.2 1438.3,2232.5 1488.8,2225.9 1539.2,2219.4 1589.6,2212.9 1640,2206.5 1640,2218.9 1589.6,2225.1 1539.2,2231.4 1488.8,2237.8 1438.3,2244.3 1387.9,2250.9 1337.5,2257.5 1287.1,2264.2 1236.7,2271 1186.2,2277.8 1135.8,2284.8 1085.4,2291.8 1035,2298.9 984.6,2306 934.2,2313.3 883.8,2320.6 833.3,2327.9 782.9,2335.4 732.5,2342.9 682.1,2350.6 631.7,2358.2 581.2,2366 530.8,2373.8 480.4,2381.7 430,2389.7" fill="#fd0000"/>
<polygon points="430,2382.4 480.4,2374.6 530.8,2366.9 581.2,2359.2 631.7,2351.6 682.1,2344.1 732.5,2336.6 782.9,2329.2 833.3,2321.8 883.8,2314.5 934.2,2307.3 984.6,2300.1 1035,2293 1085.4,2286 1135.8,2279 1186.2,2272.1 1236.7,2265.2 1287.1,2258.4 1337.5,2251.7 1387.9,2245 1438.3,2238.4 1488.8,2231.9 1539.2,2225.4 1589.6,2219 1640,2212.7 1640,2225.1 1589.6,2231.2 1539.2,2237.5 1488.8,2243.8 1438.3,2250.2 1387.9,2256.7 1337.5,2263.3 1287.1,2270 1236.7,2276.8 1186.2,2283.6 1135.8,2290.6 1085.4,2297.6 1035,2304.7 984.6,2311.9 934.2,2319.2 883.8,2326.6 833.3,2334.1 782.9,2341.7 732.5,2349.3 682.1,2357 631.7,2364.9 581.2,2372.8 530.8,2380.8 480.4,2388.9 430,2397" fill="#fd0000"/>
<polygon points="430,2389.7 480.4,2381.7 530.8,2373.8 581.2,2366 631.7,2358.2 682.1,2350.6 732.5,2342.9 782.9,2335.4 833.3,2327.9 883.8,2320.6 934.2,2313.3 984.6,2306 1035,2298.9 1085.4,2291.8 1135.8,2284.8 1186.2,2277.8 1236.7,2271 1287.1,2264.2 1337.5,2257.5 1387.9,2250.9 1438.3,2244.3 1488.8,2237.8 1539.2,2231.4 1589.6,2225.1 1640,2218.9 1640,2231.3 1589.6,2237.3 1539.2,2243.5 1488.8,2249.8 1438.3,2256.1 1387.9,2262.6 1337.5,2269.1 1287.1,2275.8 1236.7,2282.6 1186.2,2289.4 1135.8,2296.4 1085.4,2303.4 1035,2310.6 984.6,2317.9 934.2,2325.2 883.8,2332.7 833.3,2340.2 782.9,2347.9 732.5,2355.7 682.1,2363.5 631.7,2371.5 581.2,2379.5 530.8,2387.7 480.4,2396 430,2404.3" fill="#fd0000"/>
<polygon points="430,2397 480.4,2388.9 530.8,2380.8 581.2,2372.8 631.7,2364.9 682.1,2357 732.5,2349.3 782.9,2341.7 833.3,2334.1 883.8,2326.6 934.2,2319.2 984.6,2311.9 1035,2304.7 1085.4,2297.6 1135.8,2290.6 1186.2,2283.6 1236.7,2276.8 1287.1,2270 1337.5,2263.3 1387.9,2256.7 1438.3,2250.2 1488.8,2243.8 1539.2,2237.5 1589.6,2231.2 1640,2225.1 1640,2237.5 1589.6,2243.5 1539.2,2249.5 1488.8,2255.7 1438.3,2262 1387.9,2268.4 1337.5,2275 1287.1,2281.6 1236.7,2288.4 1186.2,2295.2 1135.8,2302.2 1085.4,2309.3 1035,2316.5 984.6,2323.8 934.2,2331.2 883.8,2338.7 833.3,2346.4 782.9,2354.1 732.5,2362 682.1,2370 631.7,2378.1 581.2,2386.3 530.8,2394.6 480.4,2403.1 430,2411.6" fill="#fd0000"/>
<polygon points="430,2404.3 480.4,2396 530.8,2387.7 581.2,2379.5 631.7,2371.5 682.1,2363.5 732.5,2355.7 782.9,2347.9 833.3,2340.2 883.8,2332.7 934.2,2325.2 984.6,2317.9 1035,2310.6 1085.4,2303.4 1135.8,2296.4 1186.2,2289.4 1236.7,2282.6 1287.1,2275.8 1337.5,2269.1 1387.9,2262.6 1438.3,2256.1 1488.8,2249.8 1539.2,2243.5 1589.6,2237.3 1640,2231.3 1640,2243.7 1589.6,2249.6 1539.2,2255.6 1488.8,2261.7 1438.3,2267.9 1387.9,2274.3 1337.5,2280.8 1287.1,2287.4 1236.7,2294.1 1186.2,2301 1135.8,2308 1085.4,2315.1 1035,2322.3 984.6,2329.7 934.2,2337.2 883.8,2344.8 833.3,2352.5 782.9,2360.4 732.5,2368.4 682.1,2376.5 631.7,2384.7 581.2,2393.1 530.8,2401.6 480.4,2410.2 430,2418.9" fill="#fd0000"/>
<polygon points="430,2411.6 480.4,2403.1 530.8,2394.6 581.2,2386.3 631.7,2378.1 682.1,2370 732.5,2362 782.9,2354.1 833.3,2346.4 883.8,2338.7 934.2,2331.2 984.6,2323.8 1035,2316.5 1085.4,2309.3 1135.8,2302.2 1186.2,2295.2 1236.7,2288.4 1287.1,2281.6 1337.5,2275 1387.9,2268.4 1438.3,2262 1488.8,2255.7 1539.2,2249.5 1589.6,2243.5 1640,2237.5 1640,2249.9 1589.6,2255.7 1539.2,2261.6 1488.8,2267.6 1438.3,2273.8 1387.9,2280.1 1337.5,2286.6 1287.1,2293.2 1236.7,2299.9 1186.2,2306.8 1135.8,2313.8 1085.4,2320.9 1035,2328.2 984.6,2335.6 934.2,2343.2 883.8,2350.9 833.3,2358.7 782.9,2366.6 732.5,2374.7 682.1,2383 631.7,2391.3 581.2,2399.8 530.8,2408.5 480.4,2417.3 430,2426.2" fill="#fd0000"/>
<polygon points="430,2418.9 480.4,2410.2 530.8,2401.6 581.2,2393.1 631.7,2384.7 682.1,2376.5 732.5,2368.4 782.9,2360.4 833.3,2352.5 883.8,2344.8 934.2,2337.2 984.6,2329.7 1035,2322.3 1085.4,2315.1 1135.8,2308 1186.2,2301 1236.7,2294.1 1287.1,2287.4 1337.5,2280.8 1387.9,2274.3 1438.3,2267.9 1488.8,2261.7 1539.2,2255.6 1589.6,2249.6 1640,2243.7 1640,2256.1 1589.6,2261.8 1539.2,2267.6 1488.8,2273.6 1438.3,2279.7 1387.9,2286 1337.5,2292.4 1287.1,2299 1236.7,2305.7 1186.2,2312.6 1135.8,2319.6 1085.4,2326.8 1035,2334.1 984.6,2341.5 934.2,2349.2 883.8,2356.9 833.3,2364.8 782.9,2372.9 732.5,2381.1 682.1,2389.5 631.7,2398 581.2,2406.6 530.8,2415.4 480.4,2424.4 430,2433.5" fill="#fd0000"/>
<polygon points="430,2426.2 480.4,2417.3 530.8,2408.5 581.2,2399.8 631.7,2391.3 682.1,2383 732.5,2374.7 782.9,2366.6 833.3,2358.7 883.8,2350.9 934.2,2343.2 984.6,2335.6 1035,2328.2 1085.4,2320.9 1135.8,2313.8 1186.2,2306.8 1236.7,2299.9 1287.1,2293.2 1337.5,2286.6 1387.9,2280.1 1438.3,2273.8 1488.8,2267.6 1539.2,2261.6 1589.6,2255.7 1640,2249.9 1640,2262.3 1589.6,2267.9 1539.2,2273.7 1488.8,2279.6 1438.3,2285.6 1387.9,2291.9 1337.5,2298.2 1287.1,2304.8 1236.7,2311.5 1186.2,2318.4 1135.8,2325.4 1085.4,2332.6 1035,2339.9 984.6,2347.5 934.2,2355.1 883.8,2363 833.3,2371 782.9,2379.1 732.5,2387.5 682.1,2395.9 631.7,2404.6 581.2,2413.4 530.8,2422.3 480.4,2431.5 430,2440.8" fill="#fe0000"/>
<polygon points="430,2433.5 480.4,2424.4 530.8,2415.4 581.2,2406.6 631.7,2398 682.1,2389.5 732.5,2381.1 782.9,2372.9 833.3,2364.8 883.8,2356.9 934.2,2349.2 984.6,2341.5 1035,2334.1 1085.4,2326.8 1135.8,2319.6 1186.2,2312.6 1236.7,2305.7 1287.1,2299 1337.5,2292.4 1387.9,2286 1438.3,2279.7 1488.8,2273.6 1539.2,2267.6 1589.6,2261.8 1640,2256.1 1640,2268.5 1589.6,2274 1539.2,2279.7 1488.8,2285.5 1438.3,2291.5 1387.9,2297.7 1337.5,2304.1 1287.1,2310.6 1236.7,2317.3 1186.2,2324.2 1135.8,2331.2 1085.4,2338.4 1035,2345.8 984.6,2353.4 934.2,2361.1 883.8,2369 833.3,2377.1 782.9,2385.4 732.5,2393.8 682.1,2402.4 631.7,2411.2 581.2,2420.2 530.8,2429.3 480.4,2438.6 430,2448" fill="#fe0000"/>
<polygon points="430,2440.8 480.4,2431.5 530.8,2422.3 581.2,2413.4 631.7,2404.6 682.1,2395.9 732.5,2387.5 782.9,2379.1 833.3,2371 883.8,2363 934.2,2355.1 984.6,2347.5 1035,2339.9 1085.4,2332.6 1135.8,2325.4 1186.2,2318.4 1236.7,2311.5 1287.1,2304.8 1337.5,2298.2 1387.9,2291.9 1438.3,2285.6 1488.8,2279.6 1539.2,2273.7 1589.6,2267.9 1640,2262.3 1640,2274.7 1589.6,2280.1 1539.2,2285.7 1488.8,2291.5 1438.3,2297.4 1387.9,2303.6 1337.5,2309.9 1287.1,2316.4 1236.7,2323.1 1186.2,2329.9 1135.8,2337 1085.4,2344.3 1035,2351.7 984.6,2359.3 934.2,2367.1 883.8,2375.1 833.3,2383.3 782.9,2391.6 732.5,2400.2 682.1,2408.9 631.7,2417.8 581.2,2426.9 530.8,2436.2 480.4,2445.7 430,2455.3" fill="#fe0000"/>
<polygon points="430,2448 480.4,2438.6 530.8,2429.3 581.2,2420.2 631.7,2411.2 682.1,2402.4 732.5,2393.8 782.9,2385.4 833.3,2377.1 883.8,2369 934.2,2361.1 984.6,2353.4 1035,2345.8 1085.4,2338.4 1135.8,2331.2 1186.2,2324.2 1236.7,2317.3 1287.1,2310.6 1337.5,2304.1 1387.9,2297.7 1438.3,2291.5 1488.8,2285.5 1539.2,2279.7 1589.6,2274 1640,2268.5 1640,2281 1589.6,2286.2 1539.2,2291.7 1488.8,2297.4 1438.3,2303.3 1387.9,2309.4 1337.5,2315.7 1287.1,2322.2 1236.7,2328.9 1186.2,2335.7 1135.8,2342.8 1085.4,2350.1 1035,2357.6 984.6,2365.2 934.2,2373.1 883.8,2381.2 833.3,2389.4 782.9,2397.9 732.5,2406.5 682.1,2415.4 631.7,2424.4 581.2,2433.7 530.8,2443.1 480.4,2452.8 430,2462.6" fill="#fe0000"/>
<polygon points="430,2455.3 480.4,2445.7 530.8,2436.2 581.2,2426.9 631.7,2417.8 682.1,2408.9 732.5,2400.2 782.9,2391.6 833.3,2383.3 883.8,2375.1 934.2,2367.1 984.6,2359.3 1035,2351.7 1085.4,2344.3 1135.8,2337 1186.2,2329.9 1236.7,2323.1 1287.1,2316.4 1337.5,2309.9 1387.9,2303.6 1438.3,2297.4 1488.8,2291.5 1539.2,2285.7 1589.6,2280.1 1640,2274.7 1640,2287.2 1589.6,2292.4 1539.2,2297.8 1488.8,2303.4 1438.3,2309.2 1387.9,2315.3 1337.5,2321.5 1287.1,2328 1236.7,2334.6 1186.2,2341.5 1135.8,2348.6 1085.4,2355.9 1035,2363.4 984.6,2371.1 934.2,2379.1 883.8,2387.2 833.3,2395.6 782.9,2404.1 732.5,2412.9 682.1,2421.9 631.7,2431.1 581.2,2440.5 530.8,2450.1 480.4,2459.9 430,2469.9" fill="#fe0000"/>
<polygon points="430,2462.6 480.4,2452.8 530.8,2443.1 581.2,2433.7 631.7,2424.4 682.1,2415.4 732.5,2406.5 782.9,2397.9 833.3,2389.4 883.8,2381.2 934.2,2373.1 984.6,2365.2 1035,2357.6 1085.4,2350.1 1135.8,2342.8 1186.2,2335.7 1236.7,2328.9 1287.1,2322.2 1337.5,2315.7 1387.9,2309.4 1438.3,2303.3 1488.8,2297.4 1539.2,2291.7 1589.6,2286.2 1640,2281 1640,2293.4 1589.6,2298.5 1539.2,2303.8 1488.8,2309.4 1438.3,2315.1 1387.9,2321.1 1337.5,2327.3 1287.1,2333.8 1236.7,2340.4 1186.2,2347.3 1135.8,2354.4 1085.4,2361.7 1035,2369.3 984.6,2377.1 934.2,2385.1 883.8,2393.3 833.3,2401.7 782.9,2410.4 732.5,2419.2 682.1,2428.4 631.7,2437.7 581.2,2447.2 530.8,2457 480.4,2467 430,2477.2" fill="#fe0000"/>
<polygon points="430,2469.9 480.4,2459.9 530.8,2450.1 581.2,2440.5 631.7,2431.1 682.1,2421.9 732.5,2412.9 782.9,2404.1 833.3,2395.6 883.8,2387.2 934.2,2379.1 984.6,2371.1 1035,2363.4 1085.4,2355.9 1135.8,2348.6 1186.2,2341.5 1236.7,2334.6 1287.1,2328 1337.5,2321.5 1387.9,2315.3 1438.3,2309.2 1488.8,2303.4 1539.2,2297.8 1589.6,2292.4 1640,2287.2 1640,2299 1589.6,2304.1 1539.2,2309.4 1488.8,2314.9 1438.3,2320.7 1387.9,2326.7 1337.5,2332.9 1287.1,2339.3 1236.7,2346 1186.2,2352.9 1135.8,2360 1085.4,2367.3 1035,2374.9 984.6,2382.7 934.2,2390.7 883.8,2398.9 833.3,2407.4 782.9,2416 732.5,2424.9 682.1,2434.1 631.7,2443.4 581.2,2453 530.8,2462.8 480.4,2472.8 430,2483" fill="#fe0000"/>
<polygon points="430,2477.2 480.4,2467 530.8,2457 581.2,2447.2 631.7,2437.7 682.1,2428.4 732.5,2419.2 782.9,2410.4 833.3,2401.7 883.8,2393.3 934.2,2385.1 984.6,2377.1 1035,2369.3 1085.4,2361.7 1135.8,2354.4 1186.2,2347.3 1236.7,2340.4 1287.1,2333.8 1337.5,2327.3 1387.9,2321.1 1438.3,2315.1 1488.8,2309.4 1539.2,2303.8 1589.6,2298.5 1640,2293.4 1640,2304.5 1589.6,2309.6 1539.2,2314.9 1488.8,2320.5 1438.3,2326.2 1387.9,2332.2 1337.5,2338.4 1287.1,2344.9 1236.7,2351.5 1186.2,2358.4 1135.8,2365.6 1085.4,2372.9 1035,2380.5 984.6,2388.3 934.2,2396.3 883.8,2404.5 833.3,2413 782.9,2421.7 732.5,2430.6 682.1,2439.8 631.7,2449.1 581.2,2458.7 530.8,2468.6 480.4,2478.6 430,2488.9" fill="#ff0000"/>
<polygon points="430,2483 480.4,2472.8 530.8,2462.8 581.2,2453 631.7,2443.4 682.1,2434.1 732.5,2424.9 782.9,2416 833.3,2407.4 883.8,2398.9 934.2,2390.7 984.6,2382.7 1035,2374.9 1085.4,2367.3 1135.8,2360 1186.2,2352.9 1236.7,2346 1287.1,2339.3 1337.5,2332.9 1387.9,2326.7 1438.3,2320.7 1488.8,2314.9 1539.2,2309.4 1589.6,2304.1 1640,2299 1640,2310.1 1589.6,2315.2 1539.2,2320.5 1488.8,2326 1438.3,2331.8 1387.9,2337.8 1337.5,2344 1287.1,2350.4 1236.7,2357.1 1186.2,2364 1135.8,2371.1 1085.4,2378.5 1035,2386 984.6,2393.9 934.2,2401.9 883.8,2410.1 833.3,2418.6 782.9,2427.3 732.5,2436.3 682.1,2445.5 631.7,2454.9 581.2,2464.5 530.8,2474.3 480.4,2484.4 430,2494.7" fill="#ff0000"/>
<polygon points="430,2488.9 480.4,2478.6 530.8,2468.6 581.2,2458.7 631.7,2449.1 682.1,2439.8 732.5,2430.6 782.9,2421.7 833.3,2413 883.8,2404.5 934.2,2396.3 984.6,2388.3 1035,2380.5 1085.4,2372.9 1135.8,2365.6 1186.2,2358.4 1236.7,2351.5 1287.1,2344.9 1337.5,2338.4 1387.9,2332.2 1438.3,2326.2 1488.8,2320.5 1539.2,2314.9 1589.6,2309.6 1640,2304.5 1640,2315.7 1589.6,2320.8 1539.2,2326.1 1488.8,2331.6 1438.3,2337.4 1387.9,2343.3 1337.5,2349.6 1287.1,2356 1236.7,2362.7 1186.2,2369.6 1135.8,2376.7 1085.4,2384 1035,2391.6 984.6,2399.5 934.2,2407.5 883.8,2415.8 833.3,2424.3 782.9,2433 732.5,2442 682.1,2451.2 631.7,2460.6 581.2,2470.2 530.8,2480.1 480.4,2490.2 430,2500.6" fill="#ff0000"/>
<polygon points="430,2494.7 480.4,2484.4 530.8,2474.3 581.2,2464.5 631.7,2454.9 682.1,2445.5 732.5,2436.3 782.9,2427.3 833.3,2418.6 883.8,2410.1 934.2,2401.9 984.6,2393.9 1035,2386 1085.4,2378.5 1135.8,2371.1 1186.2,2364 1236.7,2357.1 1287.1,2350.4 1337.5,2344 1387.9,2337.8 1438.3,2331.8 1488.8,2326 1539.2,2320.5 1589.6,2315.2 1640,2310.1 1640,2321.3 1589.6,2326.4 1539.2,2331.7 1488.8,2337.2 1438.3,2342.9 1387.9,2348.9 1337.5,2355.1 1287.1,2361.5 1236.7,2368.2 1186.2,2375.1 1135.8,2382.3 1085.4,2389.6 1035,2397.2 984.6,2405 934.2,2413.1 883.8,2421.4 833.3,2429.9 782.9,2438.7 732.5,2447.7 682.1,2456.9 631.7,2466.3 581.2,2476 530.8,2485.9 480.4,2496 430,2506.4" fill="#ff0000"/>
<polygon points="430,2500.6 480.4,2490.2 530.8,2480.1 581.2,2470.2 631.7,2460.6 682.1,2451.2 732.5,2442 782.9,2433 833.3,2424.3 883.8,2415.8 934.2,2407.5 984.6,2399.5 1035,2391.6 1085.4,2384 1135.8,2376.7 1186.2,2369.6 1236.7,2362.7 1287.1,2356 1337.5,2349.6 1387.9,2343.3 1438.3,2337.4 1488.8,2331.6 1539.2,2326.1 1589.6,2320.8 1640,2315.7 1640,2326.9 1589.6,2331.9 1539.2,2337.2 1488.8,2342.7 1438.3,2348.5 1387.9,2354.5 1337.5,2360.7 1287.1,2367.1 1236.7,2373.8 1186.2,2380.7 1135.8,2387.8 1085.4,2395.2 1035,2402.8 984.6,2410.6 934.2,2418.7 883.8,2427 833.3,2435.6 782.9,2444.3 732.5,2453.3 682.1,2462.6 631.7,2472 581.2,2481.7 530.8,2491.7 480.4,2501.8 430,2512.2" fill="#ff0700"/>
<polygon points="430,2506.4 480.4,2496 530.8,2485.9 581.2,2476 631.7,2466.3 682.1,2456.9 732.5,2447.7 782.9,2438.7 833.3,2429.9 883.8,2421.4 934.2,2413.1 984.6,2405 1035,2397.2 1085.4,2389.6 1135.8,2382.3 1186.2,2375.1 1236.7,2368.2 1287.1,2361.5 1337.5,2355.1 1387.9,2348.9 1438.3,2342.9 1488.8,2337.2 1539.2,2331.7 1589.6,2326.4 1640,2321.3 1640,2332.5 1589.6,2337.5 1539.2,2342.8 1488.8,2348.3 1438.3,2354 1387.9,2360 1337.5,2366.2 1287.1,2372.7 1236.7,2379.3 1186.2,2386.2 1135.8,2393.4 1085.4,2400.8 1035,2408.4 984.6,2416.2 934.2,2424.3 883.8,2432.6 833.3,2441.2 782.9,2450 732.5,2459 682.1,2468.3 631.7,2477.8 581.2,2487.5 530.8,2497.5 480.4,2507.7 430,2518.1" fill="#ff0e00"/>
<polygon points="430,2512.2 480.4,2501.8 530.8,2491.7 581.2,2481.7 631.7,2472 682.1,2462.6 732.5,2453.3 782.9,2444.3 833.3,2435.6 883.8,2427 934.2,2418.7 984.6,2410.6 1035,2402.8 1085.4,2395.2 1135.8,2387.8 1186.2,2380.7 1236.7,2373.8 1287.1,2367.1 1337.5,2360.7 1387.9,2354.5 1438.3,2348.5 1488.8,2342.7 1539.2,2337.2 1589.6,2331.9 1640,2326.9 1640,2338.1 1589.6,2343.1 1539.2,2348.4 1488.8,2353.9 1438.3,2359.6 1387.9,2365.6 1337.5,2371.8 1287.1,2378.2 1236.7,2384.9 1186.2,2391.8 1135.8,2399 1085.4,2406.4 1035,2414 984.6,2421.8 934.2,2429.9 883.8,2438.3 833.3,2446.8 782.9,2455.7 732.5,2464.7 682.1,2474 631.7,2483.5 581.2,2493.2 530.8,2503.2 480.4,2513.5 430,2523.9" fill="#ff1600"/>
<polygon points="430,2518.1 480.4,2507.7 530.8,2497.5 581.2,2487.5 631.7,2477.8 682.1,2468.3 732.5,2459 782.9,2450 833.3,2441.2 883.8,2432.6 934.2,2424.3 984.6,2416.2 1035,2408.4 1085.4,2400.8 1135.8,2393.4 1186.2,2386.2 1236.7,2379.3 1287.1,2372.7 1337.5,2366.2 1387.9,2360 1438.3,2354 1488.8,2348.3 1539.2,2342.8 1589.6,2337.5 1640,2332.5 1640,2343.7 1589.6,2348.7 1539.2,2353.9 1488.8,2359.4 1438.3,2365.2 1387.9,2371.1 1337.5,2377.3 1287.1,2383.8 1236.7,2390.5 1186.2,2397.4 1135.8,2404.5 1085.4,2411.9 1035,2419.6 984.6,2427.4 934.2,2435.5 883.8,2443.9 833.3,2452.5 782.9,2461.3 732.5,2470.4 682.1,2479.7 631.7,2489.2 581.2,2499 530.8,2509 480.4,2519.3 430,2529.8" fill="#ff1e00"/>
<polygon points="430,2523.9 480.4,2513.5 530.8,2503.2 581.2,2493.2 631.7,2483.5 682.1,2474 732.5,2464.7 782.9,2455.7 833.3,2446.8 883.8,2438.3 934.2,2429.9 984.6,2421.8 1035,2414 1085.4,2406.4 1135.8,2399 1186.2,2391.8 1236.7,2384.9 1287.1,2378.2 1337.5,2371.8 1387.9,2365.6 1438.3,2359.6 1488.8,2353.9 1539.2,2348.4 1589.6,2343.1 1640,2338.1 1640,2349.3 1589.6,2354.3 1539.2,2359.5 1488.8,2365 1438.3,2370.7 1387.9,2376.7 1337.5,2382.9 1287.1,2389.3 1236.7,2396 1186.2,2402.9 1135.8,2410.1 1085.4,2417.5 1035,2425.1 984.6,2433 934.2,2441.2 883.8,2449.5 833.3,2458.1 782.9,2467 732.5,2476.1 682.1,2485.4 631.7,2494.9 581.2,2504.8 530.8,2514.8 480.4,2525.1 430,2535.6" fill="#ff2500"/>
<polygon points="430,2529.8 480.4,2519.3 530.8,2509 581.2,2499 631.7,2489.2 682.1,2479.7 732.5,2470.4 782.9,2461.3 833.3,2452.5 883.8,2443.9 934.2,2435.5 984.6,2427.4 1035,2419.6 1085.4,2411.9 1135.8,2404.5 1186.2,2397.4 1236.7,2390.5 1287.1,2383.8 1337.5,2377.3 1387.9,2371.1 1438.3,2365.2 1488.8,2359.4 1539.2,2353.9 1589.6,2348.7 1640,2343.7 1640,2354.9 1589.6,2359.8 1539.2,2365.1 1488.8,2370.6 1438.3,2376.3 1387.9,2382.2 1337.5,2388.4 1287.1,2394.9 1236.7,2401.6 1186.2,2408.5 1135.8,2415.7 1085.4,2423.1 1035,2430.7 984.6,2438.6 934.2,2446.8 883.8,2455.1 833.3,2463.8 782.9,2472.6 732.5,2481.7 682.1,2491.1 631.7,2500.7 581.2,2510.5 530.8,2520.6 480.4,2530.9 430,2541.5" fill="#ff2d00"/>
<polygon points="430,2535.6 480.4,2525.1 530.8,2514.8 581.2,2504.8 631.7,2494.9 682.1,2485.4 732.5,2476.1 782.9,2467 833.3,2458.1 883.8,2449.5 934.2,2441.2 984.6,2433 1035,2425.1 1085.4,2417.5 1135.8,2410.1 1186.2,2402.9 1236.7,2396 1287.1,2389.3 1337.5,2382.9 1387.9,2376.7 1438.3,2370.7 1488.8,2365 1539.2,2359.5 1589.6,2354.3 1640,2349.3 1640,2360.4 1589.6,2365.4 1539.2,2370.7 1488.8,2376.1 1438.3,2381.8 1387.9,2387.8 1337.5,2394 1287.1,2400.4 1236.7,2407.1 1186.2,2414.1 1135.8,2421.2 1085.4,2428.7 1035,2436.3 984.6,2444.2 934.2,2452.4 883.8,2460.8 833.3,2469.4 782.9,2478.3 732.5,2487.4 682.1,2496.8 631.7,2506.4 581.2,2516.3 530.8,2526.4 480.4,2536.7 430,2547.3" fill="#ff3500"/>
<polygon points="430,2541.5 480.4,2530.9 530.8,2520.6 581.2,2510.5 631.7,2500.7 682.1,2491.1 732.5,2481.7 782.9,2472.6 833.3,2463.8 883.8,2455.1 934.2,2446.8 984.6,2438.6 1035,2430.7 1085.4,2423.1 1135.8,2415.7 1186.2,2408.5 1236.7,2401.6 1287.1,2394.9 1337.5,2388.4 1387.9,2382.2 1438.3,2376.3 1488.8,2370.6 1539.2,2365.1 1589.6,2359.8 1640,2354.9 1640,2366 1589.6,2371 1539.2,2376.2 1488.8,2381.7 1438.3,2387.4 1387.9,2393.3 1337.5,2399.5 1287.1,2406 1236.7,2412.7 1186.2,2419.6 1135.8,2426.8 1085.4,2434.2 1035,2441.9 984.6,2449.8 934.2,2458 883.8,2466.4 833.3,2475.1 782.9,2484 732.5,2493.1 682.1,2502.5 631.7,2512.1 581.2,2522 530.8,2532.1 480.4,2542.5 430,2553.1" fill="#ff3d00"/>
<polygon points="430,2547.3 480.4,2536.7 530.8,2526.4 581.2,2516.3 631.7,2506.4 682.1,2496.8 732.5,2487.4 782.9,2478.3 833.3,2469.4 883.8,2460.8 934.2,2452.4 984.6,2444.2 1035,2436.3 1085.4,2428.7 1135.8,2421.2 1186.2,2414.1 1236.7,2407.1 1287.1,2400.4 1337.5,2394 1387.9,2387.8 1438.3,2381.8 1488.8,2376.1 1539.2,2370.7 1589.6,2365.4 1640,2360.4 1640,2371.6 1589.6,2376.6 1539.2,2381.8 1488.8,2387.3 1438.3,2393 1387.9,2398.9 1337.5,2405.1 1287.1,2411.6 1236.7,2418.2 1186.2,2425.2 1135.8,2432.4 1085.4,2439.8 1035,2447.5 984.6,2455.4 934.2,2463.6 883.8,2472 833.3,2480.7 782.9,2489.6 732.5,2498.8 682.1,2508.2 631.7,2517.9 581.2,2527.8 530.8,2537.9 480.4,2548.3 430,2559" fill="#ff4400"/>
<polygon points="430,2553.1 480.4,2542.5 530.8,2532.1 581.2,2522 631.7,2512.1 682.1,2502.5 732.5,2493.1 782.9,2484 833.3,2475.1 883.8,2466.4 934.2,2458 984.6,2449.8 1035,2441.9 1085.4,2434.2 1135.8,2426.8 1186.2,2419.6 1236.7,2412.7 1287.1,2406 1337.5,2399.5 1387.9,2393.3 1438.3,2387.4 1488.8,2381.7 1539.2,2376.2 1589.6,2371 1640,2366 1640,2377.2 1589.6,2382.2 1539.2,2387.4 1488.8,2392.8 1438.3,2398.5 1387.9,2404.5 1337.5,2410.7 1287.1,2417.1 1236.7,2423.8 1186.2,2430.7 1135.8,2437.9 1085.4,2445.4 1035,2453.1 984.6,2461 934.2,2469.2 883.8,2477.6 833.3,2486.3 782.9,2495.3 732.5,2504.5 682.1,2513.9 631.7,2523.6 581.2,2533.5 530.8,2543.7 480.4,2554.1 430,2564.8" fill="#ff4c00"/>
<polygon points="430,2559 480.4,2548.3 530.8,2537.9 581.2,2527.8 631.7,2517.9 682.1,2508.2 732.5,2498.8 782.9,2489.6 833.3,2480.7 883.8,2472 934.2,2463.6 984.6,2455.4 1035,2447.5 1085.4,2439.8 1135.8,2432.4 1186.2,2425.2 1236.7,2418.2 1287.1,2411.6 1337.5,2405.1 1387.9,2398.9 1438.3,2393 1488.8,2387.3 1539.2,2381.8 1589.6,2376.6 1640,2371.6 1640,2382.8 1589.6,2387.7 1539.2,2392.9 1488.8,2398.4 1438.3,2404.1 1387.9,2410 1337.5,2416.2 1287.1,2422.7 1236.7,2429.4 1186.2,2436.3 1135.8,2443.5 1085.4,2451 1035,2458.7 984.6,2466.6 934.2,2474.8 883.8,2483.3 833.3,2492 782.9,2500.9 732.5,2510.1 682.1,2519.6 631.7,2529.3 581.2,2539.3 530.8,2549.5 480.4,2559.9 430,2570.7" fill="#ff5400"/>
<polygon points="430,2564.8 480.4,2554.1 530.8,2543.7 581.2,2533.5 631.7,2523.6 682.1,2513.9 732.5,2504.5 782.9,2495.3 833.3,2486.3 883.8,2477.6 934.2,2469.2 984.6,2461 1035,2453.1 1085.4,2445.4 1135.8,2437.9 1186.2,2430.7 1236.7,2423.8 1287.1,2417.1 1337.5,2410.7 1387.9,2404.5 1438.3,2398.5 1488.8,2392.8 1539.2,2387.4 1589.6,2382.2 1640,2377.2 1640,2388.4 1589.6,2393.3 1539.2,2398.5 1488.8,2403.9 1438.3,2409.6 1387.9,2415.6 1337.5,2421.8 1287.1,2428.2 1236.7,2434.9 1186.2,2441.9 1135.8,2449.1 1085.4,2456.5 1035,2464.2 984.6,2472.2 934.2,2480.4 883.8,2488.9 833.3,2497.6 782.9,2506.6 732.5,2515.8 682.1,2525.3 631.7,2535 581.2,2545 530.8,2555.3 480.4,2565.8 430,2576.5" fill="#ff5b00"/>
<polygon points="430,2570.7 480.4,2559.9 530.8,2549.5 581.2,2539.3 631.7,2529.3 682.1,2519.6 732.5,2510.1 782.9,2500.9 833.3,2492 883.8,2483.3 934.2,2474.8 984.6,2466.6 1035,2458.7 1085.4,2451 1135.8,2443.5 1186.2,2436.3 1236.7,2429.4 1287.1,2422.7 1337.5,2416.2 1387.9,2410 1438.3,2404.1 1488.8,2398.4 1539.2,2392.9 1589.6,2387.7 1640,2382.8 1640,2394 1589.6,2398.9 1539.2,2404.1 1488.8,2409.5 1438.3,2415.2 1387.9,2421.1 1337.5,2427.3 1287.1,2433.8 1236.7,2440.5 1186.2,2447.4 1135.8,2454.6 1085.4,2462.1 1035,2469.8 984.6,2477.8 934.2,2486 883.8,2494.5 833.3,2503.3 782.9,2512.3 732.5,2521.5 682.1,2531 631.7,2540.8 581.2,2550.8 530.8,2561 480.4,2571.6 430,2582.3" fill="#ff6300"/>
<polygon points="430,2576.5 480.4,2565.8 530.8,2555.3 581.2,2545 631.7,2535 682.1,2525.3 732.5,2515.8 782.9,2506.6 833.3,2497.6 883.8,2488.9 934.2,2480.4 984.6,2472.2 1035,2464.2 1085.4,2456.5 1135.8,2449.1 1186.2,2441.9 1236.7,2434.9 1287.1,2428.2 1337.5,2421.8 1387.9,2415.6 1438.3,2409.6 1488.8,2403.9 1539.2,2398.5 1589.6,2393.3 1640,2388.4 1640,2399.3 1589.6,2404.2 1539.2,2409.3 1488.8,2414.8 1438.3,2420.4 1387.9,2426.3 1337.5,2432.5 1287.1,2439 1236.7,2445.7 1186.2,2452.6 1135.8,2459.8 1085.4,2467.3 1035,2475 984.6,2483 934.2,2491.3 883.8,2499.8 833.3,2508.5 782.9,2517.5 732.5,2526.8 682.1,2536.4 631.7,2546.1 581.2,2556.2 530.8,2566.5 480.4,2577.1 430,2587.9" fill="#ff6b00"/>
<polygon points="430,2582.3 480.4,2571.6 530.8,2561 581.2,2550.8 631.7,2540.8 682.1,2531 732.5,2521.5 782.9,2512.3 833.3,2503.3 883.8,2494.5 934.2,2486 984.6,2477.8 1035,2469.8 1085.4,2462.1 1135.8,2454.6 1186.2,2447.4 1236.7,2440.5 1287.1,2433.8 1337.5,2427.3 1387.9,2421.1 1438.3,2415.2 1488.8,2409.5 1539.2,2404.1 1589.6,2398.9 1640,2394 1640,2404.6 1589.6,2409.4 1539.2,2414.6 1488.8,2419.9 1438.3,2425.6 1387.9,2431.5 1337.5,2437.7 1287.1,2444.1 1236.7,2450.8 1186.2,2457.7 1135.8,2464.9 1085.4,2472.4 1035,2480.1 984.6,2488.1 934.2,2496.4 883.8,2504.9 833.3,2513.7 782.9,2522.7 732.5,2532 682.1,2541.6 631.7,2551.4 581.2,2561.5 530.8,2571.9 480.4,2582.5 430,2593.4" fill="#ff7200"/>
<polygon points="430,2587.9 480.4,2577.1 530.8,2566.5 581.2,2556.2 631.7,2546.1 682.1,2536.4 732.5,2526.8 782.9,2517.5 833.3,2508.5 883.8,2499.8 934.2,2491.3 984.6,2483 1035,2475 1085.4,2467.3 1135.8,2459.8 1186.2,2452.6 1236.7,2445.7 1287.1,2439 1337.5,2432.5 1387.9,2426.3 1438.3,2420.4 1488.8,2414.8 1539.2,2409.3 1589.6,2404.2 1640,2399.3 1640,2409.8 1589.6,2414.7 1539.2,2419.8 1488.8,2425.1 1438.3,2430.7 1387.9,2436.6 1337.5,2442.8 1287.1,2449.2 1236.7,2455.9 1186.2,2462.8 1135.8,2470 1085.4,2477.5 1035,2485.3 984.6,2493.3 934.2,2501.5 883.8,2510.1 833.3,2518.9 782.9,2527.9 732.5,2537.3 682.1,2546.9 631.7,2556.7 581.2,2566.9 530.8,2577.3 480.4,2587.9 430,2598.9" fill="#ff7a00"/>
<polygon points="430,2593.4 480.4,2582.5 530.8,2571.9 581.2,2561.5 631.7,2551.4 682.1,2541.6 732.5,2532 782.9,2522.7 833.3,2513.7 883.8,2504.9 934.2,2496.4 984.6,2488.1 1035,2480.1 1085.4,2472.4 1135.8,2464.9 1186.2,2457.7 1236.7,2450.8 1287.1,2444.1 1337.5,2437.7 1387.9,2431.5 1438.3,2425.6 1488.8,2419.9 1539.2,2414.6 1589.6,2409.4 1640,2404.6 1640,2415.1 1589.6,2419.9 1539.2,2425 1488.8,2430.3 1438.3,2435.9 1387.9,2441.8 1337.5,2447.9 1287.1,2454.3 1236.7,2461 1186.2,2467.9 1135.8,2475.1 1085.4,2482.6 1035,2490.4 984.6,2498.4 934.2,2506.7 883.8,2515.2 833.3,2524.1 782.9,2533.1 732.5,2542.5 682.1,2552.1 631.7,2562 581.2,2572.2 530.8,2582.7 480.4,2593.4 430,2604.3" fill="#ff8200"/>
<polygon points="430,2598.9 480.4,2587.9 530.8,2577.3 581.2,2566.9 631.7,2556.7 682.1,2546.9 732.5,2537.3 782.9,2527.9 833.3,2518.9 883.8,2510.1 934.2,2501.5 984.6,2493.3 1035,2485.3 1085.4,2477.5 1135.8,2470 1186.2,2462.8 1236.7,2455.9 1287.1,2449.2 1337.5,2442.8 1387.9,2436.6 1438.3,2430.7 1488.8,2425.1 1539.2,2419.8 1589.6,2414.7 1640,2409.8 1640,2420.4 1589.6,2425.1 1539.2,2430.2 1488.8,2435.5 1438.3,2441.1 1387.9,2446.9 1337.5,2453 1287.1,2459.4 1236.7,2466.1 1186.2,2473 1135.8,2480.2 1085.4,2487.7 1035,2495.5 984.6,2503.5 934.2,2511.8 883.8,2520.4 833.3,2529.2 782.9,2538.4 732.5,2547.7 682.1,2557.4 631.7,2567.3 581.2,2577.6 530.8,2588 480.4,2598.8 430,2609.8" fill="#ff8a00"/>
<polygon points="430,2604.3 480.4,2593.4 530.8,2582.7 581.2,2572.2 631.7,2562 682.1,2552.1 732.5,2542.5 782.9,2533.1 833.3,2524.1 883.8,2515.2 934.2,2506.7 984.6,2498.4 1035,2490.4 1085.4,2482.6 1135.8,2475.1 1186.2,2467.9 1236.7,2461 1287.1,2454.3 1337.5,2447.9 1387.9,2441.8 1438.3,2435.9 1488.8,2430.3 1539.2,2425 1589.6,2419.9 1640,2415.1 1640,2425.7 1589.6,2430.4 1539.2,2435.4 1488.8,2440.7 1438.3,2446.2 1387.9,2452 1337.5,2458.1 1287.1,2464.5 1236.7,2471.2 1186.2,2478.1 1135.8,2485.3 1085.4,2492.8 1035,2500.6 984.6,2508.6 934.2,2516.9 883.8,2525.5 833.3,2534.4 782.9,2543.6 732.5,2553 682.1,2562.7 631.7,2572.6 581.2,2582.9 530.8,2593.4 480.4,2604.2 430,2615.3" fill="#ff9100"/>
<polygon points="430,2609.8 480.4,2598.8 530.8,2588 581.2,2577.6 631.7,2567.3 682.1,2557.4 732.5,2547.7 782.9,2538.4 833.3,2529.2 883.8,2520.4 934.2,2511.8 984.6,2503.5 1035,2495.5 1085.4,2487.7 1135.8,2480.2 1186.2,2473 1236.7,2466.1 1287.1,2459.4 1337.5,2453 1387.9,2446.9 1438.3,2441.1 1488.8,2435.5 1539.2,2430.2 1589.6,2425.1 1640,2420.4 1640,2430.9 1589.6,2435.6 1539.2,2440.6 1488.8,2445.8 1438.3,2451.4 1387.9,2457.2 1337.5,2463.3 1287.1,2469.6 1236.7,2476.3 1186.2,2483.2 1135.8,2490.4 1085.4,2497.9 1035,2505.7 984.6,2513.7 934.2,2522.1 883.8,2530.7 833.3,2539.6 782.9,2548.8 732.5,2558.2 682.1,2567.9 631.7,2577.9 581.2,2588.2 530.8,2598.8 480.4,2609.7 430,2620.8" fill="#ff9900"/>
<polygon points="430,2615.3 480.4,2604.2 530.8,2593.4 581.2,2582.9 631.7,2572.6 682.1,2562.7 732.5,2553 782.9,2543.6 833.3,2534.4 883.8,2525.5 934.2,2516.9 984.6,2508.6 1035,2500.6 1085.4,2492.8 1135.8,2485.3 1186.2,2478.1 1236.7,2471.2 1287.1,2464.5 1337.5,2458.1 1387.9,2452 1438.3,2446.2 1488.8,2440.7 1539.2,2435.4 1589.6,2430.4 1640,2425.7 1640,2436.2 1589.6,2440.9 1539.2,2445.8 1488.8,2451 1438.3,2456.5 1387.9,2462.3 1337.5,2468.4 1287.1,2474.8 1236.7,2481.4 1186.2,2488.3 1135.8,2495.5 1085.4,2503 1035,2510.8 984.6,2518.9 934.2,2527.2 883.8,2535.8 833.3,2544.8 782.9,2554 732.5,2563.4 682.1,2573.2 631.7,2583.3 581.2,2593.6 530.8,2604.2 480.4,2615.1 430,2626.3" fill="#ffa100"/>
<polygon points="430,2620.8 480.4,2609.7 530.8,2598.8 581.2,2588.2 631.7,2577.9 682.1,2567.9 732.5,2558.2 782.9,2548.8 833.3,2539.6 883.8,2530.7 934.2,2522.1 984.6,2513.7 1035,2505.7 1085.4,2497.9 1135.8,2490.4 1186.2,2483.2 1236.7,2476.3 1287.1,2469.6 1337.5,2463.3 1387.9,2457.2 1438.3,2451.4 1488.8,2445.8 1539.2,2440.6 1589.6,2435.6 1640,2430.9 1640,2441.5 1589.6,2446.1 1539.2,2451 1488.8,2456.2 1438.3,2461.7 1387.9,2467.5 1337.5,2473.5 1287.1,2479.9 1236.7,2486.5 1186.2,2493.4 1135.8,2500.6 1085.4,2508.1 1035,2515.9 984.6,2524 934.2,2532.4 883.8,2541 833.3,2549.9 782.9,2559.2 732.5,2568.7 682.1,2578.5 631.7,2588.6 581.2,2598.9 530.8,2609.6 480.4,2620.5 430,2631.8" fill="#ffa800"/>
<polygon points="430,2626.3 480.4,2615.1 530.8,2604.2 581.2,2593.6 631.7,2583.3 682.1,2573.2 732.5,2563.4 782.9,2554 833.3,2544.8 883.8,2535.8 934.2,2527.2 984.6,2518.9 1035,2510.8 1085.4,2503 1135.8,2495.5 1186.2,2488.3 1236.7,2481.4 1287.1,2474.8 1337.5,2468.4 1387.9,2462.3 1438.3,2456.5 1488.8,2451 1539.2,2445.8 1589.6,2440.9 1640,2436.2 1640,2446.7 1589.6,2451.3 1539.2,2456.2 1488.8,2461.4 1438.3,2466.8 1387.9,2472.6 1337.5,2478.6 1287.1,2485 1236.7,2491.6 1186.2,2498.5 1135.8,2505.7 1085.4,2513.2 1035,2521 984.6,2529.1 934.2,2537.5 883.8,2546.2 833.3,2555.1 782.9,2564.4 732.5,2573.9 682.1,2583.7 631.7,2593.9 581.2,2604.3 530.8,2615 480.4,2626 430,2637.3" fill="#ffb000"/>
<polygon points="430,2631.8 480.4,2620.5 530.8,2609.6 581.2,2598.9 631.7,2588.6 682.1,2578.5 732.5,2568.7 782.9,2559.2 833.3,2549.9 883.8,2541 934.2,2532.4 984.6,2524 1035,2515.9 1085.4,2508.1 1135.8,2500.6 1186.2,2493.4 1236.7,2486.5 1287.1,2479.9 1337.5,2473.5 1387.9,2467.5 1438.3,2461.7 1488.8,2456.2 1539.2,2451 1589.6,2446.1 1640,2441.5 1640,2452 1589.6,2456.6 1539.2,2461.4 1488.8,2466.6 1438.3,2472 1387.9,2477.7 1337.5,2483.8 1287.1,2490.1 1236.7,2496.7 1186.2,2503.6 1135.8,2510.8 1085.4,2518.3 1035,2526.1 984.6,2534.2 934.2,2542.6 883.8,2551.3 833.3,2560.3 782.9,2569.6 732.5,2579.1 682.1,2589 631.7,2599.2 581.2,2609.6 530.8,2620.4 480.4,2631.4 430,2642.7" fill="#ffb800"/>
<polygon points="430,2637.3 480.4,2626 530.8,2615 581.2,2604.3 631.7,2593.9 682.1,2583.7 732.5,2573.9 782.9,2564.4 833.3,2555.1 883.8,2546.2 934.2,2537.5 984.6,2529.1 1035,2521 1085.4,2513.2 1135.8,2505.7 1186.2,2498.5 1236.7,2491.6 1287.1,2485 1337.5,2478.6 1387.9,2472.6 1438.3,2466.8 1488.8,2461.4 1539.2,2456.2 1589.6,2451.3 1640,2446.7 1640,2457.3 1589.6,2461.8 1539.2,2466.6 1488.8,2471.7 1438.3,2477.2 1387.9,2482.9 1337.5,2488.9 1287.1,2495.2 1236.7,2501.8 1186.2,2508.7 1135.8,2515.9 1085.4,2523.4 1035,2531.3 984.6,2539.4 934.2,2547.8 883.8,2556.5 833.3,2565.5 782.9,2574.8 732.5,2584.4 682.1,2594.3 631.7,2604.5 581.2,2614.9 530.8,2625.7 480.4,2636.8 430,2648.2" fill="#ffbf00"/>
<polygon points="430,2642.7 480.4,2631.4 530.8,2620.4 581.2,2609.6 631.7,2599.2 682.1,2589 732.5,2579.1 782.9,2569.6 833.3,2560.3 883.8,2551.3 934.2,2542.6 984.6,2534.2 1035,2526.1 1085.4,2518.3 1135.8,2510.8 1186.2,2503.6 1236.7,2496.7 1287.1,2490.1 1337.5,2483.8 1387.9,2477.7 1438.3,2472 1488.8,2466.6 1539.2,2461.4 1589.6,2456.6 1640,2452 1640,2462.5 1589.6,2467 1539.2,2471.8 1488.8,2476.9 1438.3,2482.3 1387.9,2488 1337.5,2494 1287.1,2500.3 1236.7,2506.9 1186.2,2513.8 1135.8,2521 1085.4,2528.5 1035,2536.4 984.6,2544.5 934.2,2552.9 883.8,2561.6 833.3,2570.6 782.9,2580 732.5,2589.6 682.1,2599.5 631.7,2609.8 581.2,2620.3 530.8,2631.1 480.4,2642.3 430,2653.7" fill="#ffc700"/>
<polygon points="430,2648.2 480.4,2636.8 530.8,2625.7 581.2,2614.9 631.7,2604.5 682.1,2594.3 732.5,2584.4 782.9,2574.8 833.3,2565.5 883.8,2556.5 934.2,2547.8 984.6,2539.4 1035,2531.3 1085.4,2523.4 1135.8,2515.9 1186.2,2508.7 1236.7,2501.8 1287.1,2495.2 1337.5,2488.9 1387.9,2482.9 1438.3,2477.2 1488.8,2471.7 1539.2,2466.6 1589.6,2461.8 1640,2457.3 1640,2467.8 1589.6,2472.3 1539.2,2477 1488.8,2482.1 1438.3,2487.5 1387.9,2493.2 1337.5,2499.1 1287.1,2505.4 1236.7,2512 1186.2,2518.9 1135.8,2526.1 1085.4,2533.7 1035,2541.5 984.6,2549.6 934.2,2558 883.8,2566.8 833.3,2575.8 782.9,2585.2 732.5,2594.8 682.1,2604.8 631.7,2615.1 581.2,2625.6 530.8,2636.5 480.4,2647.7 430,2659.2" fill="#ffcf00"/>
<polygon points="430,2653.7 480.4,2642.3 530.8,2631.1 581.2,2620.3 631.7,2609.8 682.1,2599.5 732.5,2589.6 782.9,2580 833.3,2570.6 883.8,2561.6 934.2,2552.9 984.6,2544.5 1035,2536.4 1085.4,2528.5 1135.8,2521 1186.2,2513.8 1236.7,2506.9 1287.1,2500.3 1337.5,2494 1387.9,2488 1438.3,2482.3 1488.8,2476.9 1539.2,2471.8 1589.6,2467 1640,2462.5 1640,2473.1 1589.6,2477.5 1539.2,2482.2 1488.8,2487.3 1438.3,2492.6 1387.9,2498.3 1337.5,2504.3 1287.1,2510.5 1236.7,2517.1 1186.2,2524 1135.8,2531.2 1085.4,2538.8 1035,2546.6 984.6,2554.7 934.2,2563.2 883.8,2571.9 833.3,2581 782.9,2590.4 732.5,2600.1 682.1,2610.1 631.7,2620.4 581.2,2631 530.8,2641.9 480.4,2653.1 430,2664.7" fill="#ffd700"/>
<polygon points="430,2659.2 480.4,2647.7 530.8,2636.5 581.2,2625.6 631.7,2615.1 682.1,2604.8 732.5,2594.8 782.9,2585.2 833.3,2575.8 883.8,2566.8 934.2,2558 984.6,2549.6 1035,2541.5 1085.4,2533.7 1135.8,2526.1 1186.2,2518.9 1236.7,2512 1287.1,2505.4 1337.5,2499.1 1387.9,2493.2 1438.3,2487.5 1488.8,2482.1 1539.2,2477 1589.6,2472.3 1640,2467.8 1640,2478.4 1589.6,2482.7 1539.2,2487.4 1488.8,2492.5 1438.3,2497.8 1387.9,2503.4 1337.5,2509.4 1287.1,2515.7 1236.7,2522.2 1186.2,2529.1 1135.8,2536.3 1085.4,2543.9 1035,2551.7 984.6,2559.8 934.2,2568.3 883.8,2577.1 833.3,2586.2 782.9,2595.6 732.5,2605.3 682.1,2615.3 631.7,2625.7 581.2,2636.3 530.8,2647.3 480.4,2658.6 430,2670.2" fill="#ffde00"/>
<polygon points="430,2664.7 480.4,2653.1 530.8,2641.9 581.2,2631 631.7,2620.4 682.1,2610.1 732.5,2600.1 782.9,2590.4 833.3,2581 883.8,2571.9 934.2,2563.2 984.6,2554.7 1035,2546.6 1085.4,2538.8 1135.8,2531.2 1186.2,2524 1236.7,2517.1 1287.1,2510.5 1337.5,2504.3 1387.9,2498.3 1438.3,2492.6 1488.8,2487.3 1539.2,2482.2 1589.6,2477.5 1640,2473.1 1640,2483.6 1589.6,2488 1539.2,2492.7 1488.8,2497.6 1438.3,2502.9 1387.9,2508.6 1337.5,2514.5 1287.1,2520.8 1236.7,2527.3 1186.2,2534.2 1135.8,2541.4 1085.4,2549 1035,2556.8 984.6,2565 934.2,2573.4 883.8,2582.2 833.3,2591.3 782.9,2600.8 732.5,2610.5 682.1,2620.6 631.7,2631 581.2,2641.7 530.8,2652.7 480.4,2664 430,2675.6" fill="#ffe600"/>
<polygon points="430,2670.2 480.4,2658.6 530.8,2647.3 581.2,2636.3 631.7,2625.7 682.1,2615.3 732.5,2605.3 782.9,2595.6 833.3,2586.2 883.8,2577.1 934.2,2568.3 984.6,2559.8 1035,2551.7 1085.4,2543.9 1135.8,2536.3 1186.2,2529.1 1236.7,2522.2 1287.1,2515.7 1337.5,2509.4 1387.9,2503.4 1438.3,2497.8 1488.8,2492.5 1539.2,2487.4 1589.6,2482.7 1640,2478.4 1640,2488.9 1589.6,2493.2 1539.2,2497.9 1488.8,2502.8 1438.3,2508.1 1387.9,2513.7 1337.5,2519.6 1287.1,2525.9 1236.7,2532.4 1186.2,2539.3 1135.8,2546.5 1085.4,2554.1 1035,2561.9 984.6,2570.1 934.2,2578.6 883.8,2587.4 833.3,2596.5 782.9,2606 732.5,2615.8 682.1,2625.8 631.7,2636.3 581.2,2647 530.8,2658.1 480.4,2669.4 430,2681.1" fill="#ffee00"/>
<polygon points="430,2675.6 480.4,2664 530.8,2652.7 581.2,2641.7 631.7,2631 682.1,2620.6 732.5,2610.5 782.9,2600.8 833.3,2591.3 883.8,2582.2 934.2,2573.4 984.6,2565 1035,2556.8 1085.4,2549 1135.8,2541.4 1186.2,2534.2 1236.7,2527.3 1287.1,2520.8 1337.5,2514.5 1387.9,2508.6 1438.3,2502.9 1488.8,2497.6 1539.2,2492.7 1589.6,2488 1640,2483.6 1640,2494 1589.6,2498.3 1539.2,2502.9 1488.8,2507.8 1438.3,2513.1 1387.9,2518.7 1337.5,2524.6 1287.1,2530.8 1236.7,2537.4 1186.2,2544.3 1135.8,2551.5 1085.4,2559 1035,2566.8 984.6,2575 934.2,2583.5 883.8,2592.3 833.3,2601.4 782.9,2610.9 732.5,2620.6 682.1,2630.7 631.7,2641.2 581.2,2651.9 530.8,2663 480.4,2674.3 430,2686" fill="#fff500"/>
<polygon points="430,2681.1 480.4,2669.4 530.8,2658.1 581.2,2647 631.7,2636.3 682.1,2625.8 732.5,2615.8 782.9,2606 833.3,2596.5 883.8,2587.4 934.2,2578.6 984.6,2570.1 1035,2561.9 1085.4,2554.1 1135.8,2546.5 1186.2,2539.3 1236.7,2532.4 1287.1,2525.9 1337.5,2519.6 1387.9,2513.7 1438.3,2508.1 1488.8,2502.8 1539.2,2497.9 1589.6,2493.2 1640,2488.9 1640,2498.9 1589.6,2503.2 1539.2,2507.8 1488.8,2512.8 1438.3,2518 1387.9,2523.6 1337.5,2529.5 1287.1,2535.7 1236.7,2542.3 1186.2,2549.1 1135.8,2556.3 1085.4,2563.8 1035,2571.6 984.6,2579.8 934.2,2588.3 883.8,2597.1 833.3,2606.2 782.9,2615.6 732.5,2625.3 682.1,2635.4 631.7,2645.8 581.2,2656.5 530.8,2667.6 480.4,2678.9 430,2690.6" fill="#fefc00"/>
<polygon points="430,2686 480.4,2674.3 530.8,2663 581.2,2651.9 631.7,2641.2 682.1,2630.7 732.5,2620.6 782.9,2610.9 833.3,2601.4 883.8,2592.3 934.2,2583.5 984.6,2575 1035,2566.8 1085.4,2559 1135.8,2551.5 1186.2,2544.3 1236.7,2537.4 1287.1,2530.8 1337.5,2524.6 1387.9,2518.7 1438.3,2513.1 1488.8,2507.8 1539.2,2502.9 1589.6,2498.3 1640,2494 1640,2503.9 1589.6,2508.2 1539.2,2512.8 1488.8,2517.7 1438.3,2523 1387.9,2528.5 1337.5,2534.4 1287.1,2540.6 1236.7,2547.1 1186.2,2554 1135.8,2561.2 1085.4,2568.6 1035,2576.5 984.6,2584.6 934.2,2593 883.8,2601.8 833.3,2610.9 782.9,2620.3 732.5,2630 682.1,2640.1 631.7,2650.5 581.2,2661.2 530.8,2672.2 480.4,2683.5 430,2695.2" fill="#f7fc00"/>
<polygon points="430,2690.6 480.4,2678.9 530.8,2667.6 581.2,2656.5 631.7,2645.8 682.1,2635.4 732.5,2625.3 782.9,2615.6 833.3,2606.2 883.8,2597.1 934.2,2588.3 984.6,2579.8 1035,2571.6 1085.4,2563.8 1135.8,2556.3 1186.2,2549.1 1236.7,2542.3 1287.1,2535.7 1337.5,2529.5 1387.9,2523.6 1438.3,2518 1488.8,2512.8 1539.2,2507.8 1589.6,2503.2 1640,2498.9 1640,2508.9 1589.6,2513.2 1539.2,2517.7 1488.8,2522.7 1438.3,2527.9 1387.9,2533.4 1337.5,2539.3 1287.1,2545.5 1236.7,2552 1186.2,2558.8 1135.8,2566 1085.4,2573.5 1035,2581.3 984.6,2589.4 934.2,2597.8 883.8,2606.6 833.3,2615.6 782.9,2625 732.5,2634.7 682.1,2644.8 631.7,2655.1 581.2,2665.8 530.8,2676.8 480.4,2688.1 430,2699.8" fill="#f0fc00"/>
<polygon points="430,2695.2 480.4,2683.5 530.8,2672.2 581.2,2661.2 631.7,2650.5 682.1,2640.1 732.5,2630 782.9,2620.3 833.3,2610.9 883.8,2601.8 934.2,2593 984.6,2584.6 1035,2576.5 1085.4,2568.6 1135.8,2561.2 1186.2,2554 1236.7,2547.1 1287.1,2540.6 1337.5,2534.4 1387.9,2528.5 1438.3,2523 1488.8,2517.7 1539.2,2512.8 1589.6,2508.2 1640,2503.9 1640,2513.9 1589.6,2518.1 1539.2,2522.7 1488.8,2527.6 1438.3,2532.8 1387.9,2538.4 1337.5,2544.2 1287.1,2550.4 1236.7,2556.9 1186.2,2563.7 1135.8,2570.8 1085.4,2578.3 1035,2586.1 984.6,2594.2 934.2,2602.6 883.8,2611.3 833.3,2620.4 782.9,2629.8 732.5,2639.4 682.1,2649.5 631.7,2659.8 581.2,2670.4 530.8,2681.4 480.4,2692.7 430,2704.3" fill="#e9fd00"/>
<polygon points="430,2699.8 480.4,2688.1 530.8,2676.8 581.2,2665.8 631.7,2655.1 682.1,2644.8 732.5,2634.7 782.9,2625 833.3,2615.6 883.8,2606.6 934.2,2597.8 984.6,2589.4 1035,2581.3 1085.4,2573.5 1135.8,2566 1186.2,2558.8 1236.7,2552 1287.1,2545.5 1337.5,2539.3 1387.9,2533.4 1438.3,2527.9 1488.8,2522.7 1539.2,2517.7 1589.6,2513.2 1640,2508.9 1640,2518.8 1589.6,2523.1 1539.2,2527.6 1488.8,2532.5 1438.3,2537.7 1387.9,2543.3 1337.5,2549.1 1287.1,2555.3 1236.7,2561.8 1186.2,2568.6 1135.8,2575.7 1085.4,2583.1 1035,2590.9 984.6,2599 934.2,2607.4 883.8,2616.1 833.3,2625.1 782.9,2634.5 732.5,2644.1 682.1,2654.1 631.7,2664.5 581.2,2675.1 530.8,2686 480.4,2697.3 430,2708.9" fill="#e2fd00"/>
<polygon points="430,2704.3 480.4,2692.7 530.8,2681.4 581.2,2670.4 631.7,2659.8 682.1,2649.5 732.5,2639.4 782.9,2629.8 833.3,2620.4 883.8,2611.3 934.2,2602.6 984.6,2594.2 1035,2586.1 1085.4,2578.3 1135.8,2570.8 1186.2,2563.7 1236.7,2556.9 1287.1,2550.4 1337.5,2544.2 1387.9,2538.4 1438.3,2532.8 1488.8,2527.6 1539.2,2522.7 1589.6,2518.1 1640,2513.9 1640,2523.8 1589.6,2528 1539.2,2532.6 1488.8,2537.5 1438.3,2542.7 1387.9,2548.2 1337.5,2554 1287.1,2560.2 1236.7,2566.6 1186.2,2573.4 1135.8,2580.5 1085.4,2587.9 1035,2595.7 984.6,2603.8 934.2,2612.1 883.8,2620.8 833.3,2629.9 782.9,2639.2 732.5,2648.8 682.1,2658.8 631.7,2669.1 581.2,2679.7 530.8,2690.7 480.4,2701.9 430,2713.5" fill="#dbfd00"/>
<polygon points="430,2708.9 480.4,2697.3 530.8,2686 581.2,2675.1 631.7,2664.5 682.1,2654.1 732.5,2644.1 782.9,2634.5 833.3,2625.1 883.8,2616.1 934.2,2607.4 984.6,2599 1035,2590.9 1085.4,2583.1 1135.8,2575.7 1186.2,2568.6 1236.7,2561.8 1287.1,2555.3 1337.5,2549.1 1387.9,2543.3 1438.3,2537.7 1488.8,2532.5 1539.2,2527.6 1589.6,2523.1 1640,2518.8 1640,2528.8 1589.6,2533 1539.2,2537.5 1488.8,2542.4 1438.3,2547.6 1387.9,2553.1 1337.5,2558.9 1287.1,2565 1236.7,2571.5 1186.2,2578.3 1135.8,2585.4 1085.4,2592.8 1035,2600.5 984.6,2608.5 934.2,2616.9 883.8,2625.6 833.3,2634.6 782.9,2643.9 732.5,2653.5 682.1,2663.5 631.7,2673.8 581.2,2684.4 530.8,2695.3 480.4,2706.5 430,2718" fill="#d4fd00"/>
<polygon points="430,2713.5 480.4,2701.9 530.8,2690.7 581.2,2679.7 631.7,2669.1 682.1,2658.8 732.5,2648.8 782.9,2639.2 833.3,2629.9 883.8,2620.8 934.2,2612.1 984.6,2603.8 1035,2595.7 1085.4,2587.9 1135.8,2580.5 1186.2,2573.4 1236.7,2566.6 1287.1,2560.2 1337.5,2554 1387.9,2548.2 1438.3,2542.7 1488.8,2537.5 1539.2,2532.6 1589.6,2528 1640,2523.8 1640,2533.7 1589.6,2537.9 1539.2,2542.5 1488.8,2547.3 1438.3,2552.5 1387.9,2558 1337.5,2563.8 1287.1,2569.9 1236.7,2576.4 1186.2,2583.1 1135.8,2590.2 1085.4,2597.6 1035,2605.3 984.6,2613.3 934.2,2621.7 883.8,2630.4 833.3,2639.3 782.9,2648.6 732.5,2658.2 682.1,2668.2 631.7,2678.4 581.2,2689 530.8,2699.9 480.4,2711.1 430,2722.6" fill="#cdfd00"/>
<polygon points="430,2718 480.4,2706.5 530.8,2695.3 581.2,2684.4 631.7,2673.8 682.1,2663.5 732.5,2653.5 782.9,2643.9 833.3,2634.6 883.8,2625.6 934.2,2616.9 984.6,2608.5 1035,2600.5 1085.4,2592.8 1135.8,2585.4 1186.2,2578.3 1236.7,2571.5 1287.1,2565 1337.5,2558.9 1387.9,2553.1 1438.3,2547.6 1488.8,2542.4 1539.2,2537.5 1589.6,2533 1640,2528.8 1640,2538.7 1589.6,2542.9 1539.2,2547.4 1488.8,2552.3 1438.3,2557.4 1387.9,2562.9 1337.5,2568.7 1287.1,2574.8 1236.7,2581.2 1186.2,2588 1135.8,2595 1085.4,2602.4 1035,2610.1 984.6,2618.1 934.2,2626.5 883.8,2635.1 833.3,2644.1 782.9,2653.4 732.5,2662.9 682.1,2672.9 631.7,2683.1 581.2,2693.6 530.8,2704.5 480.4,2715.7 430,2727.2" fill="#c6fd00"/>
<polygon points="430,2722.6 480.4,2711.1 530.8,2699.9 581.2,2689 631.7,2678.4 682.1,2668.2 732.5,2658.2 782.9,2648.6 833.3,2639.3 883.8,2630.4 934.2,2621.7 984.6,2613.3 1035,2605.3 1085.4,2597.6 1135.8,2590.2 1186.2,2583.1 1236.7,2576.4 1287.1,2569.9 1337.5,2563.8 1387.9,2558 1438.3,2552.5 1488.8,2547.3 1539.2,2542.5 1589.6,2537.9 1640,2533.7 1640,2543.7 1589.6,2547.9 1539.2,2552.4 1488.8,2557.2 1438.3,2562.4 1387.9,2567.8 1337.5,2573.6 1287.1,2579.7 1236.7,2586.1 1186.2,2592.8 1135.8,2599.9 1085.4,2607.3 1035,2614.9 984.6,2622.9 934.2,2631.2 883.8,2639.9 833.3,2648.8 782.9,2658.1 732.5,2667.7 682.1,2677.5 631.7,2687.8 581.2,2698.3 530.8,2709.1 480.4,2720.3 430,2731.8" fill="#bffe00"/>
<polygon points="430,2727.2 480.4,2715.7 530.8,2704.5 581.2,2693.6 631.7,2683.1 682.1,2672.9 732.5,2662.9 782.9,2653.4 833.3,2644.1 883.8,2635.1 934.2,2626.5 984.6,2618.1 1035,2610.1 1085.4,2602.4 1135.8,2595 1186.2,2588 1236.7,2581.2 1287.1,2574.8 1337.5,2568.7 1387.9,2562.9 1438.3,2557.4 1488.8,2552.3 1539.2,2547.4 1589.6,2542.9 1640,2538.7 1640,2548.6 1589.6,2552.8 1539.2,2557.3 1488.8,2562.1 1438.3,2567.3 1387.9,2572.7 1337.5,2578.5 1287.1,2584.6 1236.7,2591 1186.2,2597.7 1135.8,2604.7 1085.4,2612.1 1035,2619.7 984.6,2627.7 934.2,2636 883.8,2644.6 833.3,2653.5 782.9,2662.8 732.5,2672.4 682.1,2682.2 631.7,2692.4 581.2,2702.9 530.8,2713.7 480.4,2724.9 430,2736.3" fill="#b8fe00"/>
<polygon points="430,2731.8 480.4,2720.3 530.8,2709.1 581.2,2698.3 631.7,2687.8 682.1,2677.5 732.5,2667.7 782.9,2658.1 833.3,2648.8 883.8,2639.9 934.2,2631.2 984.6,2622.9 1035,2614.9 1085.4,2607.3 1135.8,2599.9 1186.2,2592.8 1236.7,2586.1 1287.1,2579.7 1337.5,2573.6 1387.9,2567.8 1438.3,2562.4 1488.8,2557.2 1539.2,2552.4 1589.6,2547.9 1640,2543.7 1640,2553.6 1589.6,2557.8 1539.2,2562.3 1488.8,2567.1 1438.3,2572.2 1387.9,2577.6 1337.5,2583.4 1287.1,2589.5 1236.7,2595.9 1186.2,2602.6 1135.8,2609.6 1085.4,2616.9 1035,2624.5 984.6,2632.5 934.2,2640.8 883.8,2649.4 833.3,2658.3 782.9,2667.5 732.5,2677.1 682.1,2686.9 631.7,2697.1 581.2,2707.6 530.8,2718.4 480.4,2729.5 430,2740.9" fill="#b1fe00"/>
<polygon points="430,2736.3 480.4,2724.9 530.8,2713.7 581.2,2702.9 631.7,2692.4 682.1,2682.2 732.5,2672.4 782.9,2662.8 833.3,2653.5 883.8,2644.6 934.2,2636 984.6,2627.7 1035,2619.7 1085.4,2612.1 1135.8,2604.7 1186.2,2597.7 1236.7,2591 1287.1,2584.6 1337.5,2578.5 1387.9,2572.7 1438.3,2567.3 1488.8,2562.1 1539.2,2557.3 1589.6,2552.8 1640,2548.6 1640,2558.6 1589.6,2562.7 1539.2,2567.2 1488.8,2572 1438.3,2577.1 1387.9,2582.6 1337.5,2588.3 1287.1,2594.4 1236.7,2600.7 1186.2,2607.4 1135.8,2614.4 1085.4,2621.7 1035,2629.4 984.6,2637.3 934.2,2645.6 883.8,2654.1 833.3,2663 782.9,2672.2 732.5,2681.8 682.1,2691.6 631.7,2701.7 581.2,2712.2 530.8,2723 480.4,2734.1 430,2745.5" fill="#aafe00"/>
<polygon points="430,2740.9 480.4,2729.5 530.8,2718.4 581.2,2707.6 631.7,2697.1 682.1,2686.9 732.5,2677.1 782.9,2667.5 833.3,2658.3 883.8,2649.4 934.2,2640.8 984.6,2632.5 1035,2624.5 1085.4,2616.9 1135.8,2609.6 1186.2,2602.6 1236.7,2595.9 1287.1,2589.5 1337.5,2583.4 1387.9,2577.6 1438.3,2572.2 1488.8,2567.1 1539.2,2562.3 1589.6,2557.8 1640,2553.6 1640,2563.5 1589.6,2567.7 1539.2,2572.2 1488.8,2577 1438.3,2582.1 1387.9,2587.5 1337.5,2593.2 1287.1,2599.2 1236.7,2605.6 1186.2,2612.3 1135.8,2619.3 1085.4,2626.6 1035,2634.2 984.6,2642.1 934.2,2650.3 883.8,2658.9 833.3,2667.8 782.9,2677 732.5,2686.5 682.1,2696.3 631.7,2706.4 581.2,2716.8 530.8,2727.6 480.4,2738.7 430,2750.1" fill="#a3fe00"/>
<polygon points="430,2745.5 480.4,2734.1 530.8,2723 581.2,2712.2 631.7,2701.7 682.1,2691.6 732.5,2681.8 782.9,2672.2 833.3,2663 883.8,2654.1 934.2,2645.6 984.6,2637.3 1035,2629.4 1085.4,2621.7 1135.8,2614.4 1186.2,2607.4 1236.7,2600.7 1287.1,2594.4 1337.5,2588.3 1387.9,2582.6 1438.3,2577.1 1488.8,2572 1539.2,2567.2 1589.6,2562.7 1640,2558.6 1640,2568.5 1589.6,2572.7 1539.2,2577.1 1488.8,2581.9 1438.3,2587 1387.9,2592.4 1337.5,2598.1 1287.1,2604.1 1236.7,2610.5 1186.2,2617.1 1135.8,2624.1 1085.4,2631.4 1035,2639 984.6,2646.9 934.2,2655.1 883.8,2663.7 833.3,2672.5 782.9,2681.7 732.5,2691.2 682.1,2700.9 631.7,2711.1 581.2,2721.5 530.8,2732.2 480.4,2743.3 430,2754.6" fill="#9cfe00"/>
<polygon points="430,2750.1 480.4,2738.7 530.8,2727.6 581.2,2716.8 631.7,2706.4 682.1,2696.3 732.5,2686.5 782.9,2677 833.3,2667.8 883.8,2658.9 934.2,2650.3 984.6,2642.1 1035,2634.2 1085.4,2626.6 1135.8,2619.3 1186.2,2612.3 1236.7,2605.6 1287.1,2599.2 1337.5,2593.2 1387.9,2587.5 1438.3,2582.1 1488.8,2577 1539.2,2572.2 1589.6,2567.7 1640,2563.5 1640,2573.5 1589.6,2577.6 1539.2,2582.1 1488.8,2586.8 1438.3,2591.9 1387.9,2597.3 1337.5,2603 1287.1,2609 1236.7,2615.3 1186.2,2622 1135.8,2628.9 1085.4,2636.2 1035,2643.8 984.6,2651.7 934.2,2659.9 883.8,2668.4 833.3,2677.2 782.9,2686.4 732.5,2695.9 682.1,2705.6 631.7,2715.7 581.2,2726.1 530.8,2736.8 480.4,2747.9 430,2759.2" fill="#95fe00"/>
<polygon points="430,2754.6 480.4,2743.3 530.8,2732.2 581.2,2721.5 631.7,2711.1 682.1,2700.9 732.5,2691.2 782.9,2681.7 833.3,2672.5 883.8,2663.7 934.2,2655.1 984.6,2646.9 1035,2639 1085.4,2631.4 1135.8,2624.1 1186.2,2617.1 1236.7,2610.5 1287.1,2604.1 1337.5,2598.1 1387.9,2592.4 1438.3,2587 1488.8,2581.9 1539.2,2577.1 1589.6,2572.7 1640,2568.5 1640,2578.4 1589.6,2582.6 1539.2,2587 1488.8,2591.8 1438.3,2596.8 1387.9,2602.2 1337.5,2607.9 1287.1,2613.9 1236.7,2620.2 1186.2,2626.8 1135.8,2633.8 1085.4,2641 1035,2648.6 984.6,2656.5 934.2,2664.7 883.8,2673.2 833.3,2682 782.9,2691.1 732.5,2700.6 682.1,2710.3 631.7,2720.4 581.2,2730.8 530.8,2741.4 480.4,2752.5 430,2763.8" fill="#8eff00"/>
<polygon points="430,2759.2 480.4,2747.9 530.8,2736.8 581.2,2726.1 631.7,2715.7 682.1,2705.6 732.5,2695.9 782.9,2686.4 833.3,2677.2 883.8,2668.4 934.2,2659.9 984.6,2651.7 1035,2643.8 1085.4,2636.2 1135.8,2628.9 1186.2,2622 1236.7,2615.3 1287.1,2609 1337.5,2603 1387.9,2597.3 1438.3,2591.9 1488.8,2586.8 1539.2,2582.1 1589.6,2577.6 1640,2573.5 1640,2583.4 1589.6,2587.5 1539.2,2591.9 1488.8,2596.6 1438.3,2601.6 1387.9,2607 1337.5,2612.6 1287.1,2618.6 1236.7,2624.8 1186.2,2631.4 1135.8,2638.4 1085.4,2645.6 1035,2653.1 984.6,2661 934.2,2669.1 883.8,2677.6 833.3,2686.4 782.9,2695.5 732.5,2705 682.1,2714.7 631.7,2724.8 581.2,2735.1 530.8,2745.8 480.4,2756.8 430,2768.1" fill="#87ff00"/>
<polygon points="430,2763.8 480.4,2752.5 530.8,2741.4 581.2,2730.8 631.7,2720.4 682.1,2710.3 732.5,2700.6 782.9,2691.1 833.3,2682 883.8,2673.2 934.2,2664.7 984.6,2656.5 1035,2648.6 1085.4,2641 1135.8,2633.8 1186.2,2626.8 1236.7,2620.2 1287.1,2613.9 1337.5,2607.9 1387.9,2602.2 1438.3,2596.8 1488.8,2591.8 1539.2,2587 1589.6,2582.6 1640,2578.4 1640,2588.4 1589.6,2592.4 1539.2,2596.7 1488.8,2601.3 1438.3,2606.3 1387.9,2611.5 1337.5,2617.1 1287.1,2623 1236.7,2629.2 1186.2,2635.7 1135.8,2642.6 1085.4,2649.8 1035,2657.3 984.6,2665.1 934.2,2673.2 883.8,2681.7 833.3,2690.5 782.9,2699.6 732.5,2709 682.1,2718.7 631.7,2728.8 581.2,2739.2 530.8,2749.9 480.4,2760.9 430,2772.2" fill="#80ff00"/>
<polygon points="430,2768.1 480.4,2756.8 530.8,2745.8 581.2,2735.1 631.7,2724.8 682.1,2714.7 732.5,2705 782.9,2695.5 833.3,2686.4 883.8,2677.6 934.2,2669.1 984.6,2661 1035,2653.1 1085.4,2645.6 1135.8,2638.4 1186.2,2631.4 1236.7,2624.8 1287.1,2618.6 1337.5,2612.6 1387.9,2607 1438.3,2601.6 1488.8,2596.6 1539.2,2591.9 1589.6,2587.5 1640,2583.4 1640,2593.4 1589.6,2597.3 1539.2,2601.5 1488.8,2606 1438.3,2610.9 1387.9,2616.1 1337.5,2621.6 1287.1,2627.4 1236.7,2633.6 1186.2,2640.1 1135.8,2646.9 1085.4,2654 1035,2661.5 984.6,2669.2 934.2,2677.3 883.8,2685.8 833.3,2694.5 782.9,2703.6 732.5,2713 682.1,2722.8 631.7,2732.8 581.2,2743.2 530.8,2753.9 480.4,2765 430,2776.3" fill="#74ff00"/>
<polygon points="430,2772.2 480.4,2760.9 530.8,2749.9 581.2,2739.2 631.7,2728.8 682.1,2718.7 732.5,2709 782.9,2699.6 833.3,2690.5 883.8,2681.7 934.2,2673.2 984.6,2665.1 1035,2657.3 1085.4,2649.8 1135.8,2642.6 1186.2,2635.7 1236.7,2629.2 1287.1,2623 1337.5,2617.1 1387.9,2611.5 1438.3,2606.3 1488.8,2601.3 1539.2,2596.7 1589.6,2592.4 1640,2588.4 1640,2598.4 1589.6,2602.2 1539.2,2606.3 1488.8,2610.8 1438.3,2615.5 1387.9,2620.6 1337.5,2626.1 1287.1,2631.8 1236.7,2637.9 1186.2,2644.4 1135.8,2651.1 1085.4,2658.2 1035,2665.6 984.6,2673.4 934.2,2681.5 883.8,2689.9 833.3,2698.6 782.9,2707.7 732.5,2717.1 682.1,2726.8 631.7,2736.9 581.2,2747.3 530.8,2758 480.4,2769 430,2780.4" fill="#67ff00"/>
<polygon points="430,2776.3 480.4,2765 530.8,2753.9 581.2,2743.2 631.7,2732.8 682.1,2722.8 732.5,2713 782.9,2703.6 833.3,2694.5 883.8,2685.8 934.2,2677.3 984.6,2669.2 1035,2661.5 1085.4,2654 1135.8,2646.9 1186.2,2640.1 1236.7,2633.6 1287.1,2627.4 1337.5,2621.6 1387.9,2616.1 1438.3,2610.9 1488.8,2606 1539.2,2601.5 1589.6,2597.3 1640,2593.4 1640,2603.4 1589.6,2607.1 1539.2,2611.1 1488.8,2615.5 1438.3,2620.2 1387.9,2625.2 1337.5,2630.6 1287.1,2636.3 1236.7,2642.3 1186.2,2648.7 1135.8,2655.4 1085.4,2662.4 1035,2669.8 984.6,2677.5 934.2,2685.6 883.8,2693.9 833.3,2702.7 782.9,2711.7 732.5,2721.1 682.1,2730.8 631.7,2740.9 581.2,2751.3 530.8,2762 480.4,2773.1 430,2784.5" fill="#5aff00"/>
<polygon points="430,2780.4 480.4,2769 530.8,2758 581.2,2747.3 631.7,2736.9 682.1,2726.8 732.5,2717.1 782.9,2707.7 833.3,2698.6 883.8,2689.9 934.2,2681.5 984.6,2673.4 1035,2665.6 1085.4,2658.2 1135.8,2651.1 1186.2,2644.4 1236.7,2637.9 1287.1,2631.8 1337.5,2626.1 1387.9,2620.6 1438.3,2615.5 1488.8,2610.8 1539.2,2606.3 1589.6,2602.2 1640,2598.4 1640,2608.4 1589.6,2612 1539.2,2615.9 1488.8,2620.2 1438.3,2624.8 1387.9,2629.8 1337.5,2635 1287.1,2640.7 1236.7,2646.7 1186.2,2653 1135.8,2659.6 1085.4,2666.6 1035,2674 984.6,2681.7 934.2,2689.7 883.8,2698 833.3,2706.7 782.9,2715.8 732.5,2725.2 682.1,2734.9 631.7,2745 581.2,2755.4 530.8,2766.1 480.4,2777.2 430,2788.6" fill="#4dff00"/>
<polygon points="430,2784.5 480.4,2773.1 530.8,2762 581.2,2751.3 631.7,2740.9 682.1,2730.8 732.5,2721.1 782.9,2711.7 833.3,2702.7 883.8,2693.9 934.2,2685.6 984.6,2677.5 1035,2669.8 1085.4,2662.4 1135.8,2655.4 1186.2,2648.7 1236.7,2642.3 1287.1,2636.3 1337.5,2630.6 1387.9,2625.2 1438.3,2620.2 1488.8,2615.5 1539.2,2611.1 1589.6,2607.1 1640,2603.4 1640,2613.4 1589.6,2616.9 1539.2,2620.7 1488.8,2624.9 1438.3,2629.4 1387.9,2634.3 1337.5,2639.5 1287.1,2645.1 1236.7,2651 1186.2,2657.3 1135.8,2663.9 1085.4,2670.8 1035,2678.1 984.6,2685.8 934.2,2693.8 883.8,2702.1 833.3,2710.8 782.9,2719.8 732.5,2729.2 682.1,2738.9 631.7,2749 581.2,2759.4 530.8,2770.2 480.4,2781.3 430,2792.7" fill="#41ff00"/>
<polygon points="430,2788.6 480.4,2777.2 530.8,2766.1 581.2,2755.4 631.7,2745 682.1,2734.9 732.5,2725.2 782.9,2715.8 833.3,2706.7 883.8,2698 934.2,2689.7 984.6,2681.7 1035,2674 1085.4,2666.6 1135.8,2659.6 1186.2,2653 1236.7,2646.7 1287.1,2640.7 1337.5,2635 1387.9,2629.8 1438.3,2624.8 1488.8,2620.2 1539.2,2615.9 1589.6,2612 1640,2608.4 1640,2618.4 1589.6,2621.8 1539.2,2625.5 1488.8,2629.6 1438.3,2634.1 1387.9,2638.9 1337.5,2644 1287.1,2649.5 1236.7,2655.4 1186.2,2661.6 1135.8,2668.1 1085.4,2675.1 1035,2682.3 984.6,2689.9 934.2,2697.9 883.8,2706.2 833.3,2714.9 782.9,2723.9 732.5,2733.2 682.1,2743 631.7,2753 581.2,2763.4 530.8,2774.2 480.4,2785.3 430,2796.8" fill="#34ff00"/>
<polygon points="430,2792.7 480.4,2781.3 530.8,2770.2 581.2,2759.4 631.7,2749 682.1,2738.9 732.5,2729.2 782.9,2719.8 833.3,2710.8 883.8,2702.1 934.2,2693.8 984.6,2685.8 1035,2678.1 1085.4,2670.8 1135.8,2663.9 1186.2,2657.3 1236.7,2651 1287.1,2645.1 1337.5,2639.5 1387.9,2634.3 1438.3,2629.4 1488.8,2624.9 1539.2,2620.7 1589.6,2616.9 1640,2613.4 1640,2623.4 1589.6,2626.7 1539.2,2630.3 1488.8,2634.3 1438.3,2638.7 1387.9,2643.4 1337.5,2648.5 1287.1,2654 1236.7,2659.7 1186.2,2665.9 1135.8,2672.4 1085.4,2679.3 1035,2686.5 984.6,2694.1 934.2,2702 883.8,2710.3 833.3,2718.9 782.9,2727.9 732.5,2737.3 682.1,2747 631.7,2757.1 581.2,2767.5 530.8,2778.3 480.4,2789.4 430,2800.9" fill="#27ff00"/>
<polygon points="430,2796.8 480.4,2785.3 530.8,2774.2 581.2,2763.4 631.7,2753 682.1,2743 732.5,2733.2 782.9,2723.9 833.3,2714.9 883.8,2706.2 934.2,2697.9 984.6,2689.9 1035,2682.3 1085.4,2675.1 1135.8,2668.1 1186.2,2661.6 1236.7,2655.4 1287.1,2649.5 1337.5,2644 1387.9,2638.9 1438.3,2634.1 1488.8,2629.6 1539.2,2625.5 1589.6,2621.8 1640,2618.4 1640,2628.4 1589.6,2631.6 1539.2,2635.1 1488.8,2639.1 1438.3,2643.3 1387.9,2648 1337.5,2653 1287.1,2658.4 1236.7,2664.1 1186.2,2670.2 1135.8,2676.7 1085.4,2683.5 1035,2690.7 984.6,2698.2 934.2,2706.1 883.8,2714.4 833.3,2723 782.9,2732 732.5,2741.3 682.1,2751 631.7,2761.1 581.2,2771.5 530.8,2782.3 480.4,2793.5 430,2805" fill="#1aff00"/>
<polygon points="430,2800.9 480.4,2789.4 530.8,2778.3 581.2,2767.5 631.7,2757.1 682.1,2747 732.5,2737.3 782.9,2727.9 833.3,2718.9 883.8,2710.3 934.2,2702 984.6,2694.1 1035,2686.5 1085.4,2679.3 1135.8,2672.4 1186.2,2665.9 1236.7,2659.7 1287.1,2654 1337.5,2648.5 1387.9,2643.4 1438.3,2638.7 1488.8,2634.3 1539.2,2630.3 1589.6,2626.7 1640,2623.4 1640,2633.4 1589.6,2636.5 1539.2,2639.9 1488.8,2643.8 1438.3,2648 1387.9,2652.6 1337.5,2657.5 1287.1,2662.8 1236.7,2668.5 1186.2,2674.5 1135.8,2680.9 1085.4,2687.7 1035,2694.8 984.6,2702.3 934.2,2710.2 883.8,2718.4 833.3,2727.1 782.9,2736 732.5,2745.4 682.1,2755.1 631.7,2765.1 581.2,2775.6 530.8,2786.4 480.4,2797.6 430,2809.1" fill="#0dff00"/>
<polygon points="430,2805 480.4,2793.5 530.8,2782.3 581.2,2771.5 631.7,2761.1 682.1,2751 732.5,2741.3 782.9,2732 833.3,2723 883.8,2714.4 934.2,2706.1 984.6,2698.2 1035,2690.7 1085.4,2683.5 1135.8,2676.7 1186.2,2670.2 1236.7,2664.1 1287.1,2658.4 1337.5,2653 1387.9,2648 1438.3,2643.3 1488.8,2639.1 1539.2,2635.1 1589.6,2631.6 1640,2628.4 1640,2638.4 1589.6,2641.4 1539.2,2644.7 1488.8,2648.5 1438.3,2652.6 1387.9,2657.1 1337.5,2662 1287.1,2667.2 1236.7,2672.8 1186.2,2678.8 1135.8,2685.2 1085.4,2691.9 1035,2699 984.6,2706.5 934.2,2714.3 883.8,2722.5 833.3,2731.1 782.9,2740.1 732.5,2749.4 682.1,2759.1 631.7,2769.2 581.2,2779.6 530.8,2790.5 480.4,2801.6 430,2813.2" fill="#01ff00"/>
<polygon points="430,2809.1 480.4,2797.6 530.8,2786.4 581.2,2775.6 631.7,2765.1 682.1,2755.1 732.5,2745.4 782.9,2736 833.3,2727.1 883.8,2718.4 934.2,2710.2 984.6,2702.3 1035,2694.8 1085.4,2687.7 1135.8,2680.9 1186.2,2674.5 1236.7,2668.5 1287.1,2662.8 1337.5,2657.5 1387.9,2652.6 1438.3,2648 1488.8,2643.8 1539.2,2639.9 1589.6,2636.5 1640,2633.4 1640,2643.3 1589.6,2646.3 1539.2,2649.5 1488.8,2653.2 1438.3,2657.3 1387.9,2661.7 1337.5,2666.5 1287.1,2671.6 1236.7,2677.2 1186.2,2683.1 1135.8,2689.4 1085.4,2696.1 1035,2703.2 984.6,2710.6 934.2,2718.4 883.8,2726.6 833.3,2735.2 782.9,2744.1 732.5,2753.4 682.1,2763.1 631.7,2773.2 581.2,2783.7 530.8,2794.5 480.4,2805.7 430,2817.3" fill="#00ff12"/>
<polygon points="430,2813.2 480.4,2801.6 530.8,2790.5 581.2,2779.6 631.7,2769.2 682.1,2759.1 732.5,2749.4 782.9,2740.1 833.3,2731.1 883.8,2722.5 934.2,2714.3 984.6,2706.5 1035,2699 1085.4,2691.9 1135.8,2685.2 1186.2,2678.8 1236.7,2672.8 1287.1,2667.2 1337.5,2662 1387.9,2657.1 1438.3,2652.6 1488.8,2648.5 1539.2,2644.7 1589.6,2641.4 1640,2638.4 1640,2648.3 1589.6,2651.2 1539.2,2654.4 1488.8,2657.9 1438.3,2661.9 1387.9,2666.2 1337.5,2671 1287.1,2676.1 1236.7,2681.6 1186.2,2687.4 1135.8,2693.7 1085.4,2700.3 1035,2707.3 984.6,2714.7 934.2,2722.5 883.8,2730.7 833.3,2739.2 782.9,2748.2 732.5,2757.5 682.1,2767.2 631.7,2777.3 581.2,2787.7 530.8,2798.6 480.4,2809.8 430,2821.4" fill="#00ff24"/>
<polygon points="430,2817.3 480.4,2805.7 530.8,2794.5 581.2,2783.7 631.7,2773.2 682.1,2763.1 732.5,2753.4 782.9,2744.1 833.3,2735.2 883.8,2726.6 934.2,2718.4 984.6,2710.6 1035,2703.2 1085.4,2696.1 1135.8,2689.4 1186.2,2683.1 1236.7,2677.2 1287.1,2671.6 1337.5,2666.5 1387.9,2661.7 1438.3,2657.3 1488.8,2653.2 1539.2,2649.5 1589.6,2646.3 1640,2643.3 1640,2653.3 1589.6,2656.1 1539.2,2659.2 1488.8,2662.6 1438.3,2666.5 1387.9,2670.8 1337.5,2675.4 1287.1,2680.5 1236.7,2685.9 1186.2,2691.7 1135.8,2697.9 1085.4,2704.5 1035,2711.5 984.6,2718.9 934.2,2726.6 883.8,2734.8 833.3,2743.3 782.9,2752.2 732.5,2761.5 682.1,2771.2 631.7,2781.3 581.2,2791.8 530.8,2802.6 480.4,2813.9 430,2825.5" fill="#00ff36"/>
<polygon points="430,2821.4 480.4,2809.8 530.8,2798.6 581.2,2787.7 631.7,2777.3 682.1,2767.2 732.5,2757.5 782.9,2748.2 833.3,2739.2 883.8,2730.7 934.2,2722.5 984.6,2714.7 1035,2707.3 1085.4,2700.3 1135.8,2693.7 1186.2,2687.4 1236.7,2681.6 1287.1,2676.1 1337.5,2671 1387.9,2666.2 1438.3,2661.9 1488.8,2657.9 1539.2,2654.4 1589.6,2651.2 1640,2648.3 1640,2658.3 1589.6,2660.9 1539.2,2664 1488.8,2667.4 1438.3,2671.2 1387.9,2675.4 1337.5,2679.9 1287.1,2684.9 1236.7,2690.3 1186.2,2696 1135.8,2702.2 1085.4,2708.7 1035,2715.7 984.6,2723 934.2,2730.7 883.8,2738.9 833.3,2747.4 782.9,2756.3 732.5,2765.6 682.1,2775.3 631.7,2785.3 581.2,2795.8 530.8,2806.7 480.4,2817.9 430,2829.6" fill="#00ff49"/>
<polygon points="430,2825.5 480.4,2813.9 530.8,2802.6 581.2,2791.8 631.7,2781.3 682.1,2771.2 732.5,2761.5 782.9,2752.2 833.3,2743.3 883.8,2734.8 934.2,2726.6 984.6,2718.9 1035,2711.5 1085.4,2704.5 1135.8,2697.9 1186.2,2691.7 1236.7,2685.9 1287.1,2680.5 1337.5,2675.4 1387.9,2670.8 1438.3,2666.5 1488.8,2662.6 1539.2,2659.2 1589.6,2656.1 1640,2653.3 1640,2663.3 1589.6,2665.8 1539.2,2668.8 1488.8,2672.1 1438.3,2675.8 1387.9,2679.9 1337.5,2684.4 1287.1,2689.3 1236.7,2694.6 1186.2,2700.4 1135.8,2706.5 1085.4,2713 1035,2719.9 984.6,2727.2 934.2,2734.9 883.8,2742.9 833.3,2751.4 782.9,2760.3 732.5,2769.6 682.1,2779.3 631.7,2789.4 581.2,2799.9 530.8,2810.7 480.4,2822 430,2833.7" fill="#00ff5b"/>
<polygon points="430,2829.6 480.4,2817.9 530.8,2806.7 581.2,2795.8 631.7,2785.3 682.1,2775.3 732.5,2765.6 782.9,2756.3 833.3,2747.4 883.8,2738.9 934.2,2730.7 984.6,2723 1035,2715.7 1085.4,2708.7 1135.8,2702.2 1186.2,2696 1236.7,2690.3 1287.1,2684.9 1337.5,2679.9 1387.9,2675.4 1438.3,2671.2 1488.8,2667.4 1539.2,2664 1589.6,2660.9 1640,2658.3 1640,2668.3 1589.6,2670.7 1539.2,2673.6 1488.8,2676.8 1438.3,2680.4 1387.9,2684.5 1337.5,2688.9 1287.1,2693.8 1236.7,2699 1186.2,2704.7 1135.8,2710.7 1085.4,2717.2 1035,2724 984.6,2731.3 934.2,2739 883.8,2747 833.3,2755.5 782.9,2764.4 732.5,2773.7 682.1,2783.3 631.7,2793.4 581.2,2803.9 530.8,2814.8 480.4,2826.1 430,2837.8" fill="#00ff6d"/>
<polygon points="430,2833.7 480.4,2822 530.8,2810.7 581.2,2799.9 631.7,2789.4 682.1,2779.3 732.5,2769.6 782.9,2760.3 833.3,2751.4 883.8,2742.9 934.2,2734.9 984.6,2727.2 1035,2719.9 1085.4,2713 1135.8,2706.5 1186.2,2700.4 1236.7,2694.6 1287.1,2689.3 1337.5,2684.4 1387.9,2679.9 1438.3,2675.8 1488.8,2672.1 1539.2,2668.8 1589.6,2665.8 1640,2663.3 1640,2673.3 1589.6,2675.6 1539.2,2678.3 1488.8,2681.5 1438.3,2685 1387.9,2689 1337.5,2693.3 1287.1,2698.1 1236.7,2703.3 1186.2,2708.9 1135.8,2714.9 1085.4,2721.3 1035,2728.1 984.6,2735.3 934.2,2742.9 883.8,2751 833.3,2759.4 782.9,2768.3 732.5,2777.5 682.1,2787.2 631.7,2797.3 581.2,2807.7 530.8,2818.6 480.4,2829.9 430,2841.6" fill="#00ff80"/>
<polygon points="430,2837.8 480.4,2826.1 530.8,2814.8 581.2,2803.9 631.7,2793.4 682.1,2783.3 732.5,2773.7 782.9,2764.4 833.3,2755.5 883.8,2747 934.2,2739 984.6,2731.3 1035,2724 1085.4,2717.2 1135.8,2710.7 1186.2,2704.7 1236.7,2699 1287.1,2693.8 1337.5,2688.9 1387.9,2684.5 1438.3,2680.4 1488.8,2676.8 1539.2,2673.6 1589.6,2670.7 1640,2668.3 1640,2678 1589.6,2680.3 1539.2,2682.9 1488.8,2686 1438.3,2689.5 1387.9,2693.3 1337.5,2697.6 1287.1,2702.3 1236.7,2707.4 1186.2,2712.9 1135.8,2718.9 1085.4,2725.2 1035,2731.9 984.6,2739.1 934.2,2746.6 883.8,2754.6 833.3,2763 782.9,2771.8 732.5,2780.9 682.1,2790.5 631.7,2800.6 581.2,2811 530.8,2821.8 480.4,2833 430,2844.7" fill="#00ff92"/>
<polygon points="430,2841.6 480.4,2829.9 530.8,2818.6 581.2,2807.7 631.7,2797.3 682.1,2787.2 732.5,2777.5 782.9,2768.3 833.3,2759.4 883.8,2751 934.2,2742.9 984.6,2735.3 1035,2728.1 1085.4,2721.3 1135.8,2714.9 1186.2,2708.9 1236.7,2703.3 1287.1,2698.1 1337.5,2693.3 1387.9,2689 1438.3,2685 1488.8,2681.5 1539.2,2678.3 1589.6,2675.6 1640,2673.3 1640,2682.8 1589.6,2685 1539.2,2687.5 1488.8,2690.5 1438.3,2693.9 1387.9,2697.7 1337.5,2701.9 1287.1,2706.5 1236.7,2711.5 1186.2,2717 1135.8,2722.8 1085.4,2729.1 1035,2735.7 984.6,2742.8 934.2,2750.3 883.8,2758.2 833.3,2766.5 782.9,2775.2 732.5,2784.4 682.1,2793.9 631.7,2803.8 581.2,2814.2 530.8,2825 480.4,2836.2 430,2847.7" fill="#00fea5"/>
<polygon points="430,2844.7 480.4,2833 530.8,2821.8 581.2,2811 631.7,2800.6 682.1,2790.5 732.5,2780.9 782.9,2771.8 833.3,2763 883.8,2754.6 934.2,2746.6 984.6,2739.1 1035,2731.9 1085.4,2725.2 1135.8,2718.9 1186.2,2712.9 1236.7,2707.4 1287.1,2702.3 1337.5,2697.6 1387.9,2693.3 1438.3,2689.5 1488.8,2686 1539.2,2682.9 1589.6,2680.3 1640,2678 1640,2687.6 1589.6,2689.7 1539.2,2692.1 1488.8,2695 1438.3,2698.3 1387.9,2702 1337.5,2706.2 1287.1,2710.7 1236.7,2715.7 1186.2,2721 1135.8,2726.8 1085.4,2733 1035,2739.6 984.6,2746.6 934.2,2754 883.8,2761.8 833.3,2770.1 782.9,2778.7 732.5,2787.8 682.1,2797.3 631.7,2807.1 581.2,2817.4 530.8,2828.1 480.4,2839.3 430,2850.8" fill="#00fdb8"/>
<polygon points="430,2847.7 480.4,2836.2 530.8,2825 581.2,2814.2 631.7,2803.8 682.1,2793.9 732.5,2784.4 782.9,2775.2 833.3,2766.5 883.8,2758.2 934.2,2750.3 984.6,2742.8 1035,2735.7 1085.4,2729.1 1135.8,2722.8 1186.2,2717 1236.7,2711.5 1287.1,2706.5 1337.5,2701.9 1387.9,2697.7 1438.3,2693.9 1488.8,2690.5 1539.2,2687.5 1589.6,2685 1640,2682.8 1640,2692.4 1589.6,2694.4 1539.2,2696.7 1488.8,2699.6 1438.3,2702.8 1387.9,2706.4 1337.5,2710.4 1287.1,2714.9 1236.7,2719.8 1186.2,2725.1 1135.8,2730.8 1085.4,2736.9 1035,2743.4 984.6,2750.3 934.2,2757.7 883.8,2765.4 833.3,2773.6 782.9,2782.2 732.5,2791.2 682.1,2800.6 631.7,2810.4 581.2,2820.7 530.8,2831.3 480.4,2842.4 430,2853.9" fill="#00fccb"/>
<polygon points="430,2850.8 480.4,2839.3 530.8,2828.1 581.2,2817.4 631.7,2807.1 682.1,2797.3 732.5,2787.8 782.9,2778.7 833.3,2770.1 883.8,2761.8 934.2,2754 984.6,2746.6 1035,2739.6 1085.4,2733 1135.8,2726.8 1186.2,2721 1236.7,2715.7 1287.1,2710.7 1337.5,2706.2 1387.9,2702 1438.3,2698.3 1488.8,2695 1539.2,2692.1 1589.6,2689.7 1640,2687.6 1640,2697.2 1589.6,2699 1539.2,2701.4 1488.8,2704.1 1438.3,2707.2 1387.9,2710.8 1337.5,2714.7 1287.1,2719.1 1236.7,2723.9 1186.2,2729.1 1135.8,2734.7 1085.4,2740.8 1035,2747.2 984.6,2754.1 934.2,2761.4 883.8,2769 833.3,2777.2 782.9,2785.7 732.5,2794.6 682.1,2804 631.7,2813.7 581.2,2823.9 530.8,2834.5 480.4,2845.5 430,2856.9" fill="#00fcdf"/>
<polygon points="430,2853.9 480.4,2842.4 530.8,2831.3 581.2,2820.7 631.7,2810.4 682.1,2800.6 732.5,2791.2 782.9,2782.2 833.3,2773.6 883.8,2765.4 934.2,2757.7 984.6,2750.3 1035,2743.4 1085.4,2736.9 1135.8,2730.8 1186.2,2725.1 1236.7,2719.8 1287.1,2714.9 1337.5,2710.4 1387.9,2706.4 1438.3,2702.8 1488.8,2699.6 1539.2,2696.7 1589.6,2694.4 1640,2692.4 1640,2701.9 1589.6,2703.7 1539.2,2706 1488.8,2708.6 1438.3,2711.6 1387.9,2715.1 1337.5,2719 1287.1,2723.3 1236.7,2728 1186.2,2733.1 1135.8,2738.7 1085.4,2744.7 1035,2751 984.6,2757.8 934.2,2765 883.8,2772.7 833.3,2780.7 782.9,2789.2 732.5,2798 682.1,2807.3 631.7,2817 581.2,2827.1 530.8,2837.7 480.4,2848.6 430,2860" fill="#00fbf2"/>
<polygon points="430,2856.9 480.4,2845.5 530.8,2834.5 581.2,2823.9 631.7,2813.7 682.1,2804 732.5,2794.6 782.9,2785.7 833.3,2777.2 883.8,2769 934.2,2761.4 984.6,2754.1 1035,2747.2 1085.4,2740.8 1135.8,2734.7 1186.2,2729.1 1236.7,2723.9 1287.1,2719.1 1337.5,2714.7 1387.9,2710.8 1438.3,2707.2 1488.8,2704.1 1539.2,2701.4 1589.6,2699 1640,2697.2 1640,2706.7 1589.6,2708.4 1539.2,2710.6 1488.8,2713.1 1438.3,2716.1 1387.9,2719.5 1337.5,2723.3 1287.1,2727.5 1236.7,2732.1 1186.2,2737.2 1135.8,2742.7 1085.4,2748.5 1035,2754.8 984.6,2761.6 934.2,2768.7 883.8,2776.3 833.3,2784.2 782.9,2792.6 732.5,2801.4 682.1,2810.7 631.7,2820.3 581.2,2830.4 530.8,2840.8 480.4,2851.7 430,2863.1" fill="#00f6ff"/>
<polygon points="430,2860 480.4,2848.6 530.8,2837.7 581.2,2827.1 631.7,2817 682.1,2807.3 732.5,2798 782.9,2789.2 833.3,2780.7 883.8,2772.7 934.2,2765 984.6,2757.8 1035,2751 1085.4,2744.7 1135.8,2738.7 1186.2,2733.1 1236.7,2728 1287.1,2723.3 1337.5,2719 1387.9,2715.1 1438.3,2711.6 1488.8,2708.6 1539.2,2706 1589.6,2703.7 1640,2701.9 1640,2711.5 1589.6,2713.1 1539.2,2715.2 1488.8,2717.6 1438.3,2720.5 1387.9,2723.8 1337.5,2727.5 1287.1,2731.7 1236.7,2736.2 1186.2,2741.2 1135.8,2746.6 1085.4,2752.4 1035,2758.7 984.6,2765.3 934.2,2772.4 883.8,2779.9 833.3,2787.8 782.9,2796.1 732.5,2804.9 682.1,2814 631.7,2823.6 581.2,2833.6 530.8,2844 480.4,2854.9 430,2866.1" fill="#00ebff"/>
<polygon points="430,2863.1 480.4,2851.7 530.8,2840.8 581.2,2830.4 631.7,2820.3 682.1,2810.7 732.5,2801.4 782.9,2792.6 833.3,2784.2 883.8,2776.3 934.2,2768.7 984.6,2761.6 1035,2754.8 1085.4,2748.5 1135.8,2742.7 1186.2,2737.2 1236.7,2732.1 1287.1,2727.5 1337.5,2723.3 1387.9,2719.5 1438.3,2716.1 1488.8,2713.1 1539.2,2710.6 1589.6,2708.4 1640,2706.7 1640,2716.3 1589.6,2717.8 1539.2,2719.8 1488.8,2722.2 1438.3,2725 1387.9,2728.2 1337.5,2731.8 1287.1,2735.9 1236.7,2740.4 1186.2,2745.3 1135.8,2750.6 1085.4,2756.3 1035,2762.5 984.6,2769.1 934.2,2776.1 883.8,2783.5 833.3,2791.3 782.9,2799.6 732.5,2808.3 682.1,2817.4 631.7,2826.9 581.2,2836.8 530.8,2847.2 480.4,2858 430,2869.2" fill="#00dfff"/>
<polygon points="430,2866.1 480.4,2854.9 530.8,2844 581.2,2833.6 631.7,2823.6 682.1,2814 732.5,2804.9 782.9,2796.1 833.3,2787.8 883.8,2779.9 934.2,2772.4 984.6,2765.3 1035,2758.7 1085.4,2752.4 1135.8,2746.6 1186.2,2741.2 1236.7,2736.2 1287.1,2731.7 1337.5,2727.5 1387.9,2723.8 1438.3,2720.5 1488.8,2717.6 1539.2,2715.2 1589.6,2713.1 1640,2711.5 1640,2721.1 1589.6,2722.5 1539.2,2724.4 1488.8,2726.7 1438.3,2729.4 1387.9,2732.5 1337.5,2736.1 1287.1,2740.1 1236.7,2744.5 1186.2,2749.3 1135.8,2754.6 1085.4,2760.2 1035,2766.3 984.6,2772.8 934.2,2779.8 883.8,2787.1 833.3,2794.9 782.9,2803.1 732.5,2811.7 682.1,2820.7 631.7,2830.2 581.2,2840.1 530.8,2850.4 480.4,2861.1 430,2872.2" fill="#00d4ff"/>
<polygon points="430,2869.2 480.4,2858 530.8,2847.2 581.2,2836.8 631.7,2826.9 682.1,2817.4 732.5,2808.3 782.9,2799.6 833.3,2791.3 883.8,2783.5 934.2,2776.1 984.6,2769.1 1035,2762.5 1085.4,2756.3 1135.8,2750.6 1186.2,2745.3 1236.7,2740.4 1287.1,2735.9 1337.5,2731.8 1387.9,2728.2 1438.3,2725 1488.8,2722.2 1539.2,2719.8 1589.6,2717.8 1640,2716.3 1640,2725.8 1589.6,2727.2 1539.2,2729 1488.8,2731.2 1438.3,2733.8 1387.9,2736.9 1337.5,2740.4 1287.1,2744.3 1236.7,2748.6 1186.2,2753.4 1135.8,2758.5 1085.4,2764.1 1035,2770.1 984.6,2776.6 934.2,2783.4 883.8,2790.7 833.3,2798.4 782.9,2806.6 732.5,2815.1 682.1,2824.1 631.7,2833.5 581.2,2843.3 530.8,2853.5 480.4,2864.2 430,2875.3" fill="#00c8ff"/>
<polygon points="430,2872.2 480.4,2861.1 530.8,2850.4 581.2,2840.1 631.7,2830.2 682.1,2820.7 732.5,2811.7 782.9,2803.1 833.3,2794.9 883.8,2787.1 934.2,2779.8 984.6,2772.8 1035,2766.3 1085.4,2760.2 1135.8,2754.6 1186.2,2749.3 1236.7,2744.5 1287.1,2740.1 1337.5,2736.1 1387.9,2732.5 1438.3,2729.4 1488.8,2726.7 1539.2,2724.4 1589.6,2722.5 1640,2721.1 1640,2730.6 1589.6,2731.9 1539.2,2733.6 1488.8,2735.7 1438.3,2738.3 1387.9,2741.2 1337.5,2744.6 1287.1,2748.5 1236.7,2752.7 1186.2,2757.4 1135.8,2762.5 1085.4,2768 1035,2774 984.6,2780.3 934.2,2787.1 883.8,2794.3 833.3,2802 782.9,2810 732.5,2818.5 682.1,2827.4 631.7,2836.8 581.2,2846.5 530.8,2856.7 480.4,2867.3 430,2878.4" fill="#00bdff"/>
<polygon points="430,2875.3 480.4,2864.2 530.8,2853.5 581.2,2843.3 631.7,2833.5 682.1,2824.1 732.5,2815.1 782.9,2806.6 833.3,2798.4 883.8,2790.7 934.2,2783.4 984.6,2776.6 1035,2770.1 1085.4,2764.1 1135.8,2758.5 1186.2,2753.4 1236.7,2748.6 1287.1,2744.3 1337.5,2740.4 1387.9,2736.9 1438.3,2733.8 1488.8,2731.2 1539.2,2729 1589.6,2727.2 1640,2725.8 1640,2735.4 1589.6,2736.6 1539.2,2738.2 1488.8,2740.2 1438.3,2742.7 1387.9,2745.6 1337.5,2748.9 1287.1,2752.7 1236.7,2756.8 1186.2,2761.4 1135.8,2766.5 1085.4,2771.9 1035,2777.8 984.6,2784.1 934.2,2790.8 883.8,2797.9 833.3,2805.5 782.9,2813.5 732.5,2821.9 682.1,2830.8 631.7,2840.1 581.2,2849.8 530.8,2859.9 480.4,2870.5 430,2881.4" fill="#00b2ff"/>
<polygon points="430,2878.4 480.4,2867.3 530.8,2856.7 581.2,2846.5 631.7,2836.8 682.1,2827.4 732.5,2818.5 782.9,2810 833.3,2802 883.8,2794.3 934.2,2787.1 984.6,2780.3 1035,2774 1085.4,2768 1135.8,2762.5 1186.2,2757.4 1236.7,2752.7 1287.1,2748.5 1337.5,2744.6 1387.9,2741.2 1438.3,2738.3 1488.8,2735.7 1539.2,2733.6 1589.6,2731.9 1640,2730.6 1640,2740.2 1589.6,2741.3 1539.2,2742.8 1488.8,2744.8 1438.3,2747.1 1387.9,2750 1337.5,2753.2 1287.1,2756.9 1236.7,2761 1186.2,2765.5 1135.8,2770.4 1085.4,2775.8 1035,2781.6 984.6,2787.8 934.2,2794.5 883.8,2801.6 833.3,2809.1 782.9,2817 732.5,2825.4 682.1,2834.1 631.7,2843.4 581.2,2853 530.8,2863.1 480.4,2873.6 430,2884.5" fill="#00a6ff"/>
<polygon points="430,2881.4 480.4,2870.5 530.8,2859.9 581.2,2849.8 631.7,2840.1 682.1,2830.8 732.5,2821.9 782.9,2813.5 833.3,2805.5 883.8,2797.9 934.2,2790.8 984.6,2784.1 1035,2777.8 1085.4,2771.9 1135.8,2766.5 1186.2,2761.4 1236.7,2756.8 1287.1,2752.7 1337.5,2748.9 1387.9,2745.6 1438.3,2742.7 1488.8,2740.2 1539.2,2738.2 1589.6,2736.6 1640,2735.4 1640,2744.9 1589.6,2746 1539.2,2747.4 1488.8,2749.3 1438.3,2751.6 1387.9,2754.3 1337.5,2757.5 1287.1,2761.1 1236.7,2765.1 1186.2,2769.5 1135.8,2774.4 1085.4,2779.7 1035,2785.4 984.6,2791.6 934.2,2798.2 883.8,2805.2 833.3,2812.6 782.9,2820.5 732.5,2828.8 682.1,2837.5 631.7,2846.7 581.2,2856.2 530.8,2866.2 480.4,2876.7 430,2887.6" fill="#009bff"/>
<polygon points="430,2884.5 480.4,2873.6 530.8,2863.1 581.2,2853 631.7,2843.4 682.1,2834.1 732.5,2825.4 782.9,2817 833.3,2809.1 883.8,2801.6 934.2,2794.5 984.6,2787.8 1035,2781.6 1085.4,2775.8 1135.8,2770.4 1186.2,2765.5 1236.7,2761 1287.1,2756.9 1337.5,2753.2 1387.9,2750 1438.3,2747.1 1488.8,2744.8 1539.2,2742.8 1589.6,2741.3 1640,2740.2 1640,2749.7 1589.6,2750.7 1539.2,2752 1488.8,2753.8 1438.3,2756 1387.9,2758.7 1337.5,2761.7 1287.1,2765.3 1236.7,2769.2 1186.2,2773.6 1135.8,2778.4 1085.4,2783.6 1035,2789.2 984.6,2795.3 934.2,2801.8 883.8,2808.8 833.3,2816.2 782.9,2824 732.5,2832.2 682.1,2840.9 631.7,2849.9 581.2,2859.5 530.8,2869.4 480.4,2879.8 430,2890.6" fill="#008fff"/>
<polygon points="430,2887.6 480.4,2876.7 530.8,2866.2 581.2,2856.2 631.7,2846.7 682.1,2837.5 732.5,2828.8 782.9,2820.5 833.3,2812.6 883.8,2805.2 934.2,2798.2 984.6,2791.6 1035,2785.4 1085.4,2779.7 1135.8,2774.4 1186.2,2769.5 1236.7,2765.1 1287.1,2761.1 1337.5,2757.5 1387.9,2754.3 1438.3,2751.6 1488.8,2749.3 1539.2,2747.4 1589.6,2746 1640,2744.9 1640,2754.5 1589.6,2755.3 1539.2,2756.6 1488.8,2758.3 1438.3,2760.5 1387.9,2763 1337.5,2766 1287.1,2769.5 1236.7,2773.3 1186.2,2777.6 1135.8,2782.3 1085.4,2787.5 1035,2793.1 984.6,2799.1 934.2,2805.5 883.8,2812.4 833.3,2819.7 782.9,2827.4 732.5,2835.6 682.1,2844.2 631.7,2853.2 581.2,2862.7 530.8,2872.6 480.4,2882.9 430,2893.7" fill="#0084ff"/>
<polygon points="430,2890.6 480.4,2879.8 530.8,2869.4 581.2,2859.5 631.7,2849.9 682.1,2840.9 732.5,2832.2 782.9,2824 833.3,2816.2 883.8,2808.8 934.2,2801.8 984.6,2795.3 1035,2789.2 1085.4,2783.6 1135.8,2778.4 1186.2,2773.6 1236.7,2769.2 1287.1,2765.3 1337.5,2761.7 1387.9,2758.7 1438.3,2756 1488.8,2753.8 1539.2,2752 1589.6,2750.7 1640,2749.7 1640,2759.2 1589.6,2760 1539.2,2761.2 1488.8,2762.8 1438.3,2764.8 1387.9,2767.3 1337.5,2770.2 1287.1,2773.6 1236.7,2777.4 1186.2,2781.6 1135.8,2786.2 1085.4,2791.3 1035,2796.8 984.6,2802.8 934.2,2809.1 883.8,2815.9 833.3,2823.2 782.9,2830.9 732.5,2839 682.1,2847.5 631.7,2856.5 581.2,2865.9 530.8,2875.7 480.4,2886 430,2896.7" fill="#0078ff"/>
<polygon points="430,2893.7 480.4,2882.9 530.8,2872.6 581.2,2862.7 631.7,2853.2 682.1,2844.2 732.5,2835.6 782.9,2827.4 833.3,2819.7 883.8,2812.4 934.2,2805.5 984.6,2799.1 1035,2793.1 1085.4,2787.5 1135.8,2782.3 1186.2,2777.6 1236.7,2773.3 1287.1,2769.5 1337.5,2766 1387.9,2763 1438.3,2760.5 1488.8,2758.3 1539.2,2756.6 1589.6,2755.3 1640,2754.5 1640,2763.1 1589.6,2763.8 1539.2,2764.9 1488.8,2766.5 1438.3,2768.5 1387.9,2770.9 1337.5,2773.7 1287.1,2777 1236.7,2780.7 1186.2,2784.9 1135.8,2789.5 1085.4,2794.5 1035,2799.9 984.6,2805.8 934.2,2812.2 883.8,2818.9 833.3,2826.1 782.9,2833.7 732.5,2841.8 682.1,2850.3 631.7,2859.2 581.2,2868.5 530.8,2878.3 480.4,2888.5 430,2899.2" fill="#006dff"/>
<polygon points="430,2896.7 480.4,2886 530.8,2875.7 581.2,2865.9 631.7,2856.5 682.1,2847.5 732.5,2839 782.9,2830.9 833.3,2823.2 883.8,2815.9 934.2,2809.1 984.6,2802.8 1035,2796.8 1085.4,2791.3 1135.8,2786.2 1186.2,2781.6 1236.7,2777.4 1287.1,2773.6 1337.5,2770.2 1387.9,2767.3 1438.3,2764.8 1488.8,2762.8 1539.2,2761.2 1589.6,2760 1640,2759.2 1640,2767 1589.6,2767.7 1539.2,2768.7 1488.8,2770.2 1438.3,2772.1 1387.9,2774.5 1337.5,2777.2 1287.1,2780.5 1236.7,2784.1 1186.2,2788.2 1135.8,2792.7 1085.4,2797.7 1035,2803.1 984.6,2808.9 934.2,2815.2 883.8,2821.9 833.3,2829 782.9,2836.6 732.5,2844.6 682.1,2853 631.7,2861.9 581.2,2871.2 530.8,2880.9 480.4,2891.1 430,2901.7" fill="#0061ff"/>
<polygon points="430,2899.2 480.4,2888.5 530.8,2878.3 581.2,2868.5 631.7,2859.2 682.1,2850.3 732.5,2841.8 782.9,2833.7 833.3,2826.1 883.8,2818.9 934.2,2812.2 984.6,2805.8 1035,2799.9 1085.4,2794.5 1135.8,2789.5 1186.2,2784.9 1236.7,2780.7 1287.1,2777 1337.5,2773.7 1387.9,2770.9 1438.3,2768.5 1488.8,2766.5 1539.2,2764.9 1589.6,2763.8 1640,2763.1 1640,2771 1589.6,2771.5 1539.2,2772.5 1488.8,2773.9 1438.3,2775.7 1387.9,2778 1337.5,2780.7 1287.1,2783.9 1236.7,2787.5 1186.2,2791.5 1135.8,2796 1085.4,2800.9 1035,2806.2 984.6,2812 934.2,2818.2 883.8,2824.8 833.3,2831.9 782.9,2839.4 732.5,2847.4 682.1,2855.8 631.7,2864.6 581.2,2873.8 530.8,2883.5 480.4,2893.7 430,2904.2" fill="#0056ff"/>
<polygon points="430,2901.7 480.4,2891.1 530.8,2880.9 581.2,2871.2 631.7,2861.9 682.1,2853 732.5,2844.6 782.9,2836.6 833.3,2829 883.8,2821.9 934.2,2815.2 984.6,2808.9 1035,2803.1 1085.4,2797.7 1135.8,2792.7 1186.2,2788.2 1236.7,2784.1 1287.1,2780.5 1337.5,2777.2 1387.9,2774.5 1438.3,2772.1 1488.8,2770.2 1539.2,2768.7 1589.6,2767.7 1640,2767 1640,2774.9 1589.6,2775.4 1539.2,2776.3 1488.8,2777.6 1438.3,2779.4 1387.9,2781.6 1337.5,2784.3 1287.1,2787.3 1236.7,2790.9 1186.2,2794.8 1135.8,2799.2 1085.4,2804.1 1035,2809.3 984.6,2815.1 934.2,2821.2 883.8,2827.8 833.3,2834.8 782.9,2842.3 732.5,2850.2 682.1,2858.5 631.7,2867.3 581.2,2876.5 530.8,2886.1 480.4,2896.2 430,2906.7" fill="#004aff"/>
<polygon points="430,2904.2 480.4,2893.7 530.8,2883.5 581.2,2873.8 631.7,2864.6 682.1,2855.8 732.5,2847.4 782.9,2839.4 833.3,2831.9 883.8,2824.8 934.2,2818.2 984.6,2812 1035,2806.2 1085.4,2800.9 1135.8,2796 1186.2,2791.5 1236.7,2787.5 1287.1,2783.9 1337.5,2780.7 1387.9,2778 1438.3,2775.7 1488.8,2773.9 1539.2,2772.5 1589.6,2771.5 1640,2771 1640,2778.8 1589.6,2779.2 1539.2,2780 1488.8,2781.3 1438.3,2783 1387.9,2785.2 1337.5,2787.8 1287.1,2790.8 1236.7,2794.2 1186.2,2798.1 1135.8,2802.5 1085.4,2807.3 1035,2812.5 984.6,2818.1 934.2,2824.2 883.8,2830.8 833.3,2837.7 782.9,2845.1 732.5,2853 682.1,2861.3 631.7,2870 581.2,2879.1 530.8,2888.7 480.4,2898.8 430,2909.2" fill="#003fff"/>
<polygon points="430,2906.7 480.4,2896.2 530.8,2886.1 581.2,2876.5 631.7,2867.3 682.1,2858.5 732.5,2850.2 782.9,2842.3 833.3,2834.8 883.8,2827.8 934.2,2821.2 984.6,2815.1 1035,2809.3 1085.4,2804.1 1135.8,2799.2 1186.2,2794.8 1236.7,2790.9 1287.1,2787.3 1337.5,2784.3 1387.9,2781.6 1438.3,2779.4 1488.8,2777.6 1539.2,2776.3 1589.6,2775.4 1640,2774.9 1640,2782.7 1589.6,2783.1 1539.2,2783.8 1488.8,2785 1438.3,2786.7 1387.9,2788.7 1337.5,2791.3 1287.1,2794.2 1236.7,2797.6 1186.2,2801.5 1135.8,2805.7 1085.4,2810.5 1035,2815.6 984.6,2821.2 934.2,2827.2 883.8,2833.7 833.3,2840.6 782.9,2848 732.5,2855.8 682.1,2864 631.7,2872.7 581.2,2881.8 530.8,2891.3 480.4,2901.3 430,2911.8" fill="#0033ff"/>
<polygon points="430,2909.2 480.4,2898.8 530.8,2888.7 581.2,2879.1 631.7,2870 682.1,2861.3 732.5,2853 782.9,2845.1 833.3,2837.7 883.8,2830.8 934.2,2824.2 984.6,2818.1 1035,2812.5 1085.4,2807.3 1135.8,2802.5 1186.2,2798.1 1236.7,2794.2 1287.1,2790.8 1337.5,2787.8 1387.9,2785.2 1438.3,2783 1488.8,2781.3 1539.2,2780 1589.6,2779.2 1640,2778.8 1640,2786.6 1589.6,2786.9 1539.2,2787.6 1488.8,2788.7 1438.3,2790.3 1387.9,2792.3 1337.5,2794.8 1287.1,2797.7 1236.7,2801 1186.2,2804.8 1135.8,2809 1085.4,2813.6 1035,2818.7 984.6,2824.3 934.2,2830.3 883.8,2836.7 833.3,2843.5 782.9,2850.8 732.5,2858.6 682.1,2866.8 631.7,2875.4 581.2,2884.4 530.8,2893.9 480.4,2903.9 430,2914.3" fill="#0028ff"/>
<polygon points="430,2911.8 480.4,2901.3 530.8,2891.3 581.2,2881.8 631.7,2872.7 682.1,2864 732.5,2855.8 782.9,2848 833.3,2840.6 883.8,2833.7 934.2,2827.2 984.6,2821.2 1035,2815.6 1085.4,2810.5 1135.8,2805.7 1186.2,2801.5 1236.7,2797.6 1287.1,2794.2 1337.5,2791.3 1387.9,2788.7 1438.3,2786.7 1488.8,2785 1539.2,2783.8 1589.6,2783.1 1640,2782.7 1640,2790.6 1589.6,2790.7 1539.2,2791.4 1488.8,2792.4 1438.3,2793.9 1387.9,2795.9 1337.5,2798.3 1287.1,2801.1 1236.7,2804.4 1186.2,2808.1 1135.8,2812.2 1085.4,2816.8 1035,2821.9 984.6,2827.4 934.2,2833.3 883.8,2839.6 833.3,2846.4 782.9,2853.7 732.5,2861.4 682.1,2869.5 631.7,2878.1 581.2,2887.1 530.8,2896.5 480.4,2906.4 430,2916.8" fill="#001dff"/>
<polygon points="430,2914.3 480.4,2903.9 530.8,2893.9 581.2,2884.4 631.7,2875.4 682.1,2866.8 732.5,2858.6 782.9,2850.8 833.3,2843.5 883.8,2836.7 934.2,2830.3 984.6,2824.3 1035,2818.7 1085.4,2813.6 1135.8,2809 1186.2,2804.8 1236.7,2801 1287.1,2797.7 1337.5,2794.8 1387.9,2792.3 1438.3,2790.3 1488.8,2788.7 1539.2,2787.6 1589.6,2786.9 1640,2786.6 1640,2794.5 1589.6,2794.6 1539.2,2795.1 1488.8,2796.1 1438.3,2797.6 1387.9,2799.5 1337.5,2801.8 1287.1,2804.5 1236.7,2807.8 1186.2,2811.4 1135.8,2815.5 1085.4,2820 1035,2825 984.6,2830.4 934.2,2836.3 883.8,2842.6 833.3,2849.4 782.9,2856.5 732.5,2864.2 682.1,2872.3 631.7,2880.8 581.2,2889.7 530.8,2899.2 480.4,2909 430,2919.3" fill="#0011ff"/>
<polygon points="430,2916.8 480.4,2906.4 530.8,2896.5 581.2,2887.1 631.7,2878.1 682.1,2869.5 732.5,2861.4 782.9,2853.7 833.3,2846.4 883.8,2839.6 934.2,2833.3 984.6,2827.4 1035,2821.9 1085.4,2816.8 1135.8,2812.2 1186.2,2808.1 1236.7,2804.4 1287.1,2801.1 1337.5,2798.3 1387.9,2795.9 1438.3,2793.9 1488.8,2792.4 1539.2,2791.4 1589.6,2790.7 1640,2790.6 1640,2798.4 1589.6,2798.4 1539.2,2798.9 1488.8,2799.8 1438.3,2801.2 1387.9,2803 1337.5,2805.3 1287.1,2808 1236.7,2811.1 1186.2,2814.7 1135.8,2818.7 1085.4,2823.2 1035,2828.1 984.6,2833.5 934.2,2839.3 883.8,2845.6 833.3,2852.3 782.9,2859.4 732.5,2867 682.1,2875 631.7,2883.5 581.2,2892.4 530.8,2901.8 480.4,2911.6 430,2921.8" fill="#0006ff"/>
<polygon points="430,2919.3 480.4,2909 530.8,2899.2 581.2,2889.7 631.7,2880.8 682.1,2872.3 732.5,2864.2 782.9,2856.5 833.3,2849.4 883.8,2842.6 934.2,2836.3 984.6,2830.4 1035,2825 1085.4,2820 1135.8,2815.5 1186.2,2811.4 1236.7,2807.8 1287.1,2804.5 1337.5,2801.8 1387.9,2799.5 1438.3,2797.6 1488.8,2796.1 1539.2,2795.1 1589.6,2794.6 1640,2794.5 1640,2802.3 1589.6,2802.3 1539.2,2802.7 1488.8,2803.6 1438.3,2804.9 1387.9,2806.6 1337.5,2808.8 1287.1,2811.4 1236.7,2814.5 1186.2,2818 1135.8,2822 1085.4,2826.4 1035,2831.3 984.6,2836.6 934.2,2842.3 883.8,2848.5 833.3,2855.2 782.9,2862.3 732.5,2869.8 682.1,2877.8 631.7,2886.2 581.2,2895 530.8,2904.4 480.4,2914.1 430,2924.3" fill="#0700fe"/>
<polygon points="430,2921.8 480.4,2911.6 530.8,2901.8 581.2,2892.4 631.7,2883.5 682.1,2875 732.5,2867 782.9,2859.4 833.3,2852.3 883.8,2845.6 934.2,2839.3 984.6,2833.5 1035,2828.1 1085.4,2823.2 1135.8,2818.7 1186.2,2814.7 1236.7,2811.1 1287.1,2808 1337.5,2805.3 1387.9,2803 1438.3,2801.2 1488.8,2799.8 1539.2,2798.9 1589.6,2798.4 1640,2798.4 1640,2806.2 1589.6,2806.1 1539.2,2806.5 1488.8,2807.3 1438.3,2808.5 1387.9,2810.2 1337.5,2812.3 1287.1,2814.9 1236.7,2817.9 1186.2,2821.3 1135.8,2825.3 1085.4,2829.6 1035,2834.4 984.6,2839.7 934.2,2845.4 883.8,2851.5 833.3,2858.1 782.9,2865.1 732.5,2872.6 682.1,2880.5 631.7,2888.9 581.2,2897.7 530.8,2907 480.4,2916.7 430,2926.8" fill="#1500fc"/>
<polygon points="430,2924.3 480.4,2914.1 530.8,2904.4 581.2,2895 631.7,2886.2 682.1,2877.8 732.5,2869.8 782.9,2862.3 833.3,2855.2 883.8,2848.5 934.2,2842.3 984.6,2836.6 1035,2831.3 1085.4,2826.4 1135.8,2822 1186.2,2818 1236.7,2814.5 1287.1,2811.4 1337.5,2808.8 1387.9,2806.6 1438.3,2804.9 1488.8,2803.6 1539.2,2802.7 1589.6,2802.3 1640,2802.3 1640,2810.2 1589.6,2810 1539.2,2810.3 1488.8,2811 1438.3,2812.1 1387.9,2813.7 1337.5,2815.8 1287.1,2818.3 1236.7,2821.3 1186.2,2824.7 1135.8,2828.5 1085.4,2832.8 1035,2837.5 984.6,2842.7 934.2,2848.4 883.8,2854.5 833.3,2861 782.9,2868 732.5,2875.4 682.1,2883.3 631.7,2891.6 581.2,2900.4 530.8,2909.6 480.4,2919.2 430,2929.3" fill="#2200fa"/>
<polygon points="430,2926.8 480.4,2916.7 530.8,2907 581.2,2897.7 631.7,2888.9 682.1,2880.5 732.5,2872.6 782.9,2865.1 833.3,2858.1 883.8,2851.5 934.2,2845.4 984.6,2839.7 1035,2834.4 1085.4,2829.6 1135.8,2825.3 1186.2,2821.3 1236.7,2817.9 1287.1,2814.9 1337.5,2812.3 1387.9,2810.2 1438.3,2808.5 1488.8,2807.3 1539.2,2806.5 1589.6,2806.1 1640,2806.2 1640,2814.1 1589.6,2813.8 1539.2,2814 1488.8,2814.7 1438.3,2815.8 1387.9,2817.3 1337.5,2819.3 1287.1,2821.7 1236.7,2824.6 1186.2,2828 1135.8,2831.8 1085.4,2836 1035,2840.7 984.6,2845.8 934.2,2851.4 883.8,2857.4 833.3,2863.9 782.9,2870.8 732.5,2878.2 682.1,2886 631.7,2894.3 581.2,2903 530.8,2912.2 480.4,2921.8 430,2931.9" fill="#3000f8"/>
<polygon points="430,2929.3 480.4,2919.2 530.8,2909.6 581.2,2900.4 631.7,2891.6 682.1,2883.3 732.5,2875.4 782.9,2868 833.3,2861 883.8,2854.5 934.2,2848.4 984.6,2842.7 1035,2837.5 1085.4,2832.8 1135.8,2828.5 1186.2,2824.7 1236.7,2821.3 1287.1,2818.3 1337.5,2815.8 1387.9,2813.7 1438.3,2812.1 1488.8,2811 1539.2,2810.3 1589.6,2810 1640,2810.2 1640,2818 1589.6,2817.7 1539.2,2817.8 1488.8,2818.4 1438.3,2819.4 1387.9,2820.9 1337.5,2822.8 1287.1,2825.2 1236.7,2828 1186.2,2831.3 1135.8,2835 1085.4,2839.2 1035,2843.8 984.6,2848.9 934.2,2854.4 883.8,2860.4 833.3,2866.8 782.9,2873.7 732.5,2881 682.1,2888.8 631.7,2897 581.2,2905.7 530.8,2914.8 480.4,2924.3 430,2934.4" fill="#3e00f7"/>
<polygon points="430,2931.9 480.4,2921.8 530.8,2912.2 581.2,2903 631.7,2894.3 682.1,2886 732.5,2878.2 782.9,2870.8 833.3,2863.9 883.8,2857.4 934.2,2851.4 984.6,2845.8 1035,2840.7 1085.4,2836 1135.8,2831.8 1186.2,2828 1236.7,2824.6 1287.1,2821.7 1337.5,2819.3 1387.9,2817.3 1438.3,2815.8 1488.8,2814.7 1539.2,2814 1589.6,2813.8 1640,2814.1 1640,2821.9 1589.6,2821.5 1539.2,2821.6 1488.8,2822.1 1438.3,2823 1387.9,2824.5 1337.5,2826.3 1287.1,2828.6 1236.7,2831.4 1186.2,2834.6 1135.8,2838.3 1085.4,2842.4 1035,2846.9 984.6,2852 934.2,2857.4 883.8,2863.3 833.3,2869.7 782.9,2876.5 732.5,2883.8 682.1,2891.5 631.7,2899.7 581.2,2908.3 530.8,2917.4 480.4,2926.9 430,2936.9" fill="#4c00f5"/>
<polygon points="430,2934.4 480.4,2924.3 530.8,2914.8 581.2,2905.7 631.7,2897 682.1,2888.8 732.5,2881 782.9,2873.7 833.3,2866.8 883.8,2860.4 934.2,2854.4 984.6,2848.9 1035,2843.8 1085.4,2839.2 1135.8,2835 1186.2,2831.3 1236.7,2828 1287.1,2825.2 1337.5,2822.8 1387.9,2820.9 1438.3,2819.4 1488.8,2818.4 1539.2,2817.8 1589.6,2817.7 1640,2818 1640,2825.8 1589.6,2825.4 1539.2,2825.4 1488.8,2825.8 1438.3,2826.7 1387.9,2828 1337.5,2829.8 1287.1,2832.1 1236.7,2834.8 1186.2,2837.9 1135.8,2841.5 1085.4,2845.6 1035,2850.1 984.6,2855 934.2,2860.4 883.8,2866.3 833.3,2872.6 782.9,2879.4 732.5,2886.6 682.1,2894.3 631.7,2902.4 581.2,2911 530.8,2920 480.4,2929.5 430,2939.4" fill="#5900f3"/>
<polygon points="430,2936.9 480.4,2926.9 530.8,2917.4 581.2,2908.3 631.7,2899.7 682.1,2891.5 732.5,2883.8 782.9,2876.5 833.3,2869.7 883.8,2863.3 934.2,2857.4 984.6,2852 1035,2846.9 1085.4,2842.4 1135.8,2838.3 1186.2,2834.6 1236.7,2831.4 1287.1,2828.6 1337.5,2826.3 1387.9,2824.5 1438.3,2823 1488.8,2822.1 1539.2,2821.6 1589.6,2821.5 1640,2821.9 1640,2829.8 1589.6,2829.2 1539.2,2829.1 1488.8,2829.5 1438.3,2830.3 1387.9,2831.6 1337.5,2833.3 1287.1,2835.5 1236.7,2838.1 1186.2,2841.2 1135.8,2844.8 1085.4,2848.8 1035,2853.2 984.6,2858.1 934.2,2863.5 883.8,2869.3 833.3,2875.5 782.9,2882.2 732.5,2889.4 682.1,2897 631.7,2905.1 581.2,2913.6 530.8,2922.6 480.4,2932 430,2941.9" fill="#6700f1"/>
<polygon points="430,2939.4 480.4,2929.5 530.8,2920 581.2,2911 631.7,2902.4 682.1,2894.3 732.5,2886.6 782.9,2879.4 833.3,2872.6 883.8,2866.3 934.2,2860.4 984.6,2855 1035,2850.1 1085.4,2845.6 1135.8,2841.5 1186.2,2837.9 1236.7,2834.8 1287.1,2832.1 1337.5,2829.8 1387.9,2828 1438.3,2826.7 1488.8,2825.8 1539.2,2825.4 1589.6,2825.4 1640,2825.8 1640,2833.7 1589.6,2833.1 1539.2,2832.9 1488.8,2833.2 1438.3,2834 1387.9,2835.2 1337.5,2836.8 1287.1,2838.9 1236.7,2841.5 1186.2,2844.5 1135.8,2848 1085.4,2852 1035,2856.3 984.6,2861.2 934.2,2866.5 883.8,2872.2 833.3,2878.4 782.9,2885.1 732.5,2892.2 682.1,2899.8 631.7,2907.8 581.2,2916.3 530.8,2925.2 480.4,2934.6 430,2944.4" fill="#7500ef"/>
<polygon points="430,2941.9 480.4,2932 530.8,2922.6 581.2,2913.6 631.7,2905.1 682.1,2897 732.5,2889.4 782.9,2882.2 833.3,2875.5 883.8,2869.3 934.2,2863.5 984.6,2858.1 1035,2853.2 1085.4,2848.8 1135.8,2844.8 1186.2,2841.2 1236.7,2838.1 1287.1,2835.5 1337.5,2833.3 1387.9,2831.6 1438.3,2830.3 1488.8,2829.5 1539.2,2829.1 1589.6,2829.2 1640,2829.8 1640,2837.6 1589.6,2836.9 1539.2,2836.7 1488.8,2836.9 1438.3,2837.6 1387.9,2838.7 1337.5,2840.3 1287.1,2842.4 1236.7,2844.9 1186.2,2847.9 1135.8,2851.3 1085.4,2855.1 1035,2859.5 984.6,2864.3 934.2,2869.5 883.8,2875.2 833.3,2881.3 782.9,2887.9 732.5,2895 682.1,2902.5 631.7,2910.5 581.2,2918.9 530.8,2927.8 480.4,2937.1 430,2946.9" fill="#7e00ed"/>
<polygon points="430,2944.4 480.4,2934.6 530.8,2925.2 581.2,2916.3 631.7,2907.8 682.1,2899.8 732.5,2892.2 782.9,2885.1 833.3,2878.4 883.8,2872.2 934.2,2866.5 984.6,2861.2 1035,2856.3 1085.4,2852 1135.8,2848 1186.2,2844.5 1236.7,2841.5 1287.1,2838.9 1337.5,2836.8 1387.9,2835.2 1438.3,2834 1488.8,2833.2 1539.2,2832.9 1589.6,2833.1 1640,2833.7 1640,2841.5 1589.6,2840.8 1539.2,2840.5 1488.8,2840.6 1438.3,2841.2 1387.9,2842.3 1337.5,2843.8 1287.1,2845.8 1236.7,2848.3 1186.2,2851.2 1135.8,2854.5 1085.4,2858.3 1035,2862.6 984.6,2867.3 934.2,2872.5 883.8,2878.2 833.3,2884.2 782.9,2890.8 732.5,2897.8 682.1,2905.3 631.7,2913.2 581.2,2921.6 530.8,2930.4 480.4,2939.7 430,2949.4" fill="#8000ea"/>
<polygon points="430,2946.9 480.4,2937.1 530.8,2927.8 581.2,2918.9 631.7,2910.5 682.1,2902.5 732.5,2895 782.9,2887.9 833.3,2881.3 883.8,2875.2 934.2,2869.5 984.6,2864.3 1035,2859.5 1085.4,2855.1 1135.8,2851.3 1186.2,2847.9 1236.7,2844.9 1287.1,2842.4 1337.5,2840.3 1387.9,2838.7 1438.3,2837.6 1488.8,2836.9 1539.2,2836.7 1589.6,2836.9 1640,2837.6 1640,2845.4 1589.6,2844.6 1539.2,2844.2 1488.8,2844.3 1438.3,2844.9 1387.9,2845.9 1337.5,2847.4 1287.1,2849.3 1236.7,2851.6 1186.2,2854.5 1135.8,2857.8 1085.4,2861.5 1035,2865.7 984.6,2870.4 934.2,2875.5 883.8,2881.1 833.3,2887.2 782.9,2893.6 732.5,2900.6 682.1,2908 631.7,2915.9 581.2,2924.2 530.8,2933 480.4,2942.2 430,2951.9" fill="#8200e7"/>
<polygon points="430,2949.4 480.4,2939.7 530.8,2930.4 581.2,2921.6 631.7,2913.2 682.1,2905.3 732.5,2897.8 782.9,2890.8 833.3,2884.2 883.8,2878.2 934.2,2872.5 984.6,2867.3 1035,2862.6 1085.4,2858.3 1135.8,2854.5 1186.2,2851.2 1236.7,2848.3 1287.1,2845.8 1337.5,2843.8 1387.9,2842.3 1438.3,2841.2 1488.8,2840.6 1539.2,2840.5 1589.6,2840.8 1640,2841.5 1640,2849.4 1589.6,2848.5 1539.2,2848 1488.8,2848 1438.3,2848.5 1387.9,2849.5 1337.5,2850.9 1287.1,2852.7 1236.7,2855 1186.2,2857.8 1135.8,2861 1085.4,2864.7 1035,2868.9 984.6,2873.5 934.2,2878.5 883.8,2884.1 833.3,2890.1 782.9,2896.5 732.5,2903.4 682.1,2910.8 631.7,2918.6 581.2,2926.9 530.8,2935.6 480.4,2944.8 430,2954.5" fill="#8400e4"/>
<polygon points="430,2951.9 480.4,2942.2 530.8,2933 581.2,2924.2 631.7,2915.9 682.1,2908 732.5,2900.6 782.9,2893.6 833.3,2887.2 883.8,2881.1 934.2,2875.5 984.6,2870.4 1035,2865.7 1085.4,2861.5 1135.8,2857.8 1186.2,2854.5 1236.7,2851.6 1287.1,2849.3 1337.5,2847.4 1387.9,2845.9 1438.3,2844.9 1488.8,2844.3 1539.2,2844.2 1589.6,2844.6 1640,2845.4 1640,2853.3 1589.6,2852.3 1539.2,2851.8 1488.8,2851.7 1438.3,2852.2 1387.9,2853 1337.5,2854.4 1287.1,2856.2 1236.7,2858.4 1186.2,2861.1 1135.8,2864.3 1085.4,2867.9 1035,2872 984.6,2876.6 934.2,2881.6 883.8,2887 833.3,2893 782.9,2899.4 732.5,2906.2 682.1,2913.5 631.7,2921.3 581.2,2929.5 530.8,2938.2 480.4,2947.4 430,2957" fill="#8600e1"/>
<polygon points="430,2954.5 480.4,2944.8 530.8,2935.6 581.2,2926.9 631.7,2918.6 682.1,2910.8 732.5,2903.4 782.9,2896.5 833.3,2890.1 883.8,2884.1 934.2,2878.5 984.6,2873.5 1035,2868.9 1085.4,2864.7 1135.8,2861 1186.2,2857.8 1236.7,2855 1287.1,2852.7 1337.5,2850.9 1387.9,2849.5 1438.3,2848.5 1488.8,2848 1539.2,2848 1589.6,2848.5 1640,2849.4 1640,2857.2 1589.6,2856.2 1539.2,2855.6 1488.8,2855.5 1438.3,2855.8 1387.9,2856.6 1337.5,2857.9 1287.1,2859.6 1236.7,2861.8 1186.2,2864.4 1135.8,2867.5 1085.4,2871.1 1035,2875.1 984.6,2879.6 934.2,2884.6 883.8,2890 833.3,2895.9 782.9,2902.2 732.5,2909 682.1,2916.3 631.7,2924 581.2,2932.2 530.8,2940.8 480.4,2949.9 430,2959.5" fill="#8800de"/>
<polygon points="430,2957 480.4,2947.4 530.8,2938.2 581.2,2929.5 631.7,2921.3 682.1,2913.5 732.5,2906.2 782.9,2899.4 833.3,2893 883.8,2887 934.2,2881.6 984.6,2876.6 1035,2872 1085.4,2867.9 1135.8,2864.3 1186.2,2861.1 1236.7,2858.4 1287.1,2856.2 1337.5,2854.4 1387.9,2853 1438.3,2852.2 1488.8,2851.7 1539.2,2851.8 1589.6,2852.3 1640,2853.3 1640,2861.1 1589.6,2860 1539.2,2859.4 1488.8,2859.2 1438.3,2859.4 1387.9,2860.2 1337.5,2861.4 1287.1,2863 1236.7,2865.2 1186.2,2867.7 1135.8,2870.8 1085.4,2874.3 1035,2878.3 984.6,2882.7 934.2,2887.6 883.8,2893 833.3,2898.8 782.9,2905.1 732.5,2911.8 682.1,2919 631.7,2926.7 581.2,2934.8 530.8,2943.4 480.4,2952.5 430,2962" fill="#8a00db"/>
<polygon points="430,2959.5 480.4,2949.9 530.8,2940.8 581.2,2932.2 631.7,2924 682.1,2916.3 732.5,2909 782.9,2902.2 833.3,2895.9 883.8,2890 934.2,2884.6 984.6,2879.6 1035,2875.1 1085.4,2871.1 1135.8,2867.5 1186.2,2864.4 1236.7,2861.8 1287.1,2859.6 1337.5,2857.9 1387.9,2856.6 1438.3,2855.8 1488.8,2855.5 1539.2,2855.6 1589.6,2856.2 1640,2857.2 1640,2865 1589.6,2863.8 1539.2,2863.1 1488.8,2862.9 1438.3,2863.1 1387.9,2863.7 1337.5,2864.9 1287.1,2866.5 1236.7,2868.5 1186.2,2871.1 1135.8,2874 1085.4,2877.5 1035,2881.4 984.6,2885.8 934.2,2890.6 883.8,2895.9 833.3,2901.7 782.9,2907.9 732.5,2914.6 682.1,2921.8 631.7,2929.4 581.2,2937.5 530.8,2946 480.4,2955 430,2964.5" fill="#8c00d8"/>
<polygon points="430,2962 480.4,2952.5 530.8,2943.4 581.2,2934.8 631.7,2926.7 682.1,2919 732.5,2911.8 782.9,2905.1 833.3,2898.8 883.8,2893 934.2,2887.6 984.6,2882.7 1035,2878.3 1085.4,2874.3 1135.8,2870.8 1186.2,2867.7 1236.7,2865.2 1287.1,2863 1337.5,2861.4 1387.9,2860.2 1438.3,2859.4 1488.8,2859.2 1539.2,2859.4 1589.6,2860 1640,2861.1 1640,2869 1589.6,2867.7 1539.2,2866.9 1488.8,2866.6 1438.3,2866.7 1387.9,2867.3 1337.5,2868.4 1287.1,2869.9 1236.7,2871.9 1186.2,2874.4 1135.8,2877.3 1085.4,2880.7 1035,2884.5 984.6,2888.9 934.2,2893.6 883.8,2898.9 833.3,2904.6 782.9,2910.8 732.5,2917.4 682.1,2924.5 631.7,2932.1 581.2,2940.1 530.8,2948.6 480.4,2957.6 430,2967" fill="#8e00d5"/>
<polygon points="430,2964.5 480.4,2955 530.8,2946 581.2,2937.5 631.7,2929.4 682.1,2921.8 732.5,2914.6 782.9,2907.9 833.3,2901.7 883.8,2895.9 934.2,2890.6 984.6,2885.8 1035,2881.4 1085.4,2877.5 1135.8,2874 1186.2,2871.1 1236.7,2868.5 1287.1,2866.5 1337.5,2864.9 1387.9,2863.7 1438.3,2863.1 1488.8,2862.9 1539.2,2863.1 1589.6,2863.8 1640,2865 1640,2872.9 1589.6,2871.5 1539.2,2870.7 1488.8,2870.3 1438.3,2870.4 1387.9,2870.9 1337.5,2871.9 1287.1,2873.4 1236.7,2875.3 1186.2,2877.7 1135.8,2880.5 1085.4,2883.9 1035,2887.7 984.6,2891.9 934.2,2896.7 883.8,2901.8 833.3,2907.5 782.9,2913.6 732.5,2920.2 682.1,2927.3 631.7,2934.8 581.2,2942.8 530.8,2951.2 480.4,2960.1 430,2969.5" fill="#8f00d2"/>
<polygon points="430,2967 480.4,2957.6 530.8,2948.6 581.2,2940.1 631.7,2932.1 682.1,2924.5 732.5,2917.4 782.9,2910.8 833.3,2904.6 883.8,2898.9 934.2,2893.6 984.6,2888.9 1035,2884.5 1085.4,2880.7 1135.8,2877.3 1186.2,2874.4 1236.7,2871.9 1287.1,2869.9 1337.5,2868.4 1387.9,2867.3 1438.3,2866.7 1488.8,2866.6 1539.2,2866.9 1589.6,2867.7 1640,2869 1640,2876.8 1589.6,2875.4 1539.2,2874.5 1488.8,2874 1438.3,2874 1387.9,2874.5 1337.5,2875.4 1287.1,2876.8 1236.7,2878.7 1186.2,2881 1135.8,2883.8 1085.4,2887.1 1035,2890.8 984.6,2895 934.2,2899.7 883.8,2904.8 833.3,2910.4 782.9,2916.5 732.5,2923 682.1,2930 631.7,2937.5 581.2,2945.4 530.8,2953.8 480.4,2962.7 430,2972" fill="#9100cf"/>
<polyline points="430,2224.9 480.4,2218.2 530.8,2211.6 581.2,2205 631.7,2198.4 682.1,2191.8 732.5,2185.2 782.9,2178.6 833.3,2171.9 883.8,2165.3 934.2,2158.7 984.6,2152.1 1035,2145.5 1085.4,2138.9 1135.8,2132.3 1186.2,2125.6 1236.7,2119 1287.1,2112.4 1337.5,2105.8 1387.9,2099.2 1438.3,2092.6 1488.8,2086 1539.2,2079.3 1589.6,2072.7 1640,2066.1" fill="none" stroke="#303030" stroke-width="1.15" stroke-opacity="0.8"/>
<polyline points="430,2344.7 480.4,2337.8 530.8,2331 581.2,2324.2 631.7,2317.3 682.1,2310.5 732.5,2303.6 782.9,2296.8 833.3,2289.9 883.8,2283.1 934.2,2276.3 984.6,2269.4 1035,2262.6 1085.4,2255.7 1135.8,2248.9 1186.2,2242.1 1236.7,2235.2 1287.1,2228.4 1337.5,2221.5 1387.9,2214.7 1438.3,2207.9 1488.8,2201 1539.2,2194.2 1589.6,2187.3 1640,2180.5" fill="none" stroke="#303030" stroke-width="1.15" stroke-opacity="0.8"/>
<polyline points="430,2477.2 480.4,2467 530.8,2457 581.2,2447.2 631.7,2437.7 682.1,2428.4 732.5,2419.2 782.9,2410.4 833.3,2401.7 883.8,2393.3 934.2,2385.1 984.6,2377.1 1035,2369.3 1085.4,2361.7 1135.8,2354.4 1186.2,2347.3 1236.7,2340.4 1287.1,2333.8 1337.5,2327.3 1387.9,2321.1 1438.3,2315.1 1488.8,2309.4 1539.2,2303.8 1589.6,2298.5 1640,2293.4" fill="none" stroke="#303030" stroke-width="1.15" stroke-opacity="0.8"/>
<polyline points="430,2583.4 480.4,2572.6 530.8,2562.1 581.2,2551.8 631.7,2541.8 682.1,2532 732.5,2522.5 782.9,2513.3 833.3,2504.3 883.8,2495.5 934.2,2487.1 984.6,2478.8 1035,2470.8 1085.4,2463.1 1135.8,2455.7 1186.2,2448.4 1236.7,2441.5 1287.1,2434.8 1337.5,2428.3 1387.9,2422.1 1438.3,2416.2 1488.8,2410.5 1539.2,2405.1 1589.6,2399.9 1640,2395" fill="none" stroke="#303030" stroke-width="1.15" stroke-opacity="0.8"/>
<polyline points="430,2683.1 480.4,2671.4 530.8,2660 581.2,2648.9 631.7,2638.2 682.1,2627.8 732.5,2617.7 782.9,2607.9 833.3,2598.4 883.8,2589.3 934.2,2580.4 984.6,2572 1035,2563.8 1085.4,2555.9 1135.8,2548.4 1186.2,2541.2 1236.7,2534.3 1287.1,2527.7 1337.5,2521.5 1387.9,2515.6 1438.3,2510 1488.8,2504.7 1539.2,2499.8 1589.6,2495.1 1640,2490.8" fill="none" stroke="#303030" stroke-width="1.15" stroke-opacity="0.8"/>
<polyline points="430,2766.3 480.4,2755 530.8,2744 581.2,2733.3 631.7,2722.9 682.1,2712.9 732.5,2703.1 782.9,2693.7 833.3,2684.6 883.8,2675.8 934.2,2667.3 984.6,2659.1 1035,2651.2 1085.4,2643.7 1135.8,2636.4 1186.2,2629.5 1236.7,2622.9 1287.1,2616.6 1337.5,2610.6 1387.9,2604.9 1438.3,2599.5 1488.8,2594.5 1539.2,2589.7 1589.6,2585.3 1640,2581.2" fill="none" stroke="#303030" stroke-width="1.15" stroke-opacity="0.8"/>
<polyline points="430,2840.8 480.4,2829.1 530.8,2817.8 581.2,2806.9 631.7,2796.4 682.1,2786.3 732.5,2776.6 782.9,2767.3 833.3,2758.5 883.8,2750 934.2,2741.9 984.6,2734.3 1035,2727.1 1085.4,2720.2 1135.8,2713.8 1186.2,2707.8 1236.7,2702.2 1287.1,2697 1337.5,2692.2 1387.9,2687.8 1438.3,2683.8 1488.8,2680.2 1539.2,2677.1 1589.6,2674.3 1640,2672" fill="none" stroke="#303030" stroke-width="1.15" stroke-opacity="0.8"/>
<polyline points="430,2896.5 480.4,2885.8 530.8,2875.5 581.2,2865.6 631.7,2856.2 682.1,2847.3 732.5,2838.7 782.9,2830.6 833.3,2822.9 883.8,2815.7 934.2,2808.9 984.6,2802.5 1035,2796.5 1085.4,2791 1135.8,2785.9 1186.2,2781.3 1236.7,2777.1 1287.1,2773.3 1337.5,2769.9 1387.9,2767 1438.3,2764.5 1488.8,2762.4 1539.2,2760.8 1589.6,2759.6 1640,2758.9" fill="none" stroke="#303030" stroke-width="1.15" stroke-opacity="0.8"/>
</g>
<line x1="201.5" y1="3004.4" x2="154.7" y2="1921.8" stroke="#000" stroke-width="4.0" stroke-linecap="square"/>
<line x1="201.5" y1="3004.4" x2="1047.4" y2="3315.2" stroke="#000" stroke-width="4.0" stroke-linecap="square"/>
<line x1="1047.4" y1="3315.2" x2="1718.1" y2="2959.1" stroke="#000" stroke-width="4.0" stroke-linecap="square"/>
<line x1="199.8" y1="2964.4" x2="181.9" y2="2971" stroke="#000" stroke-width="3.2" stroke-linecap="butt"/>
<line x1="192" y1="2784.2" x2="173.8" y2="2790.2" stroke="#000" stroke-width="3.2" stroke-linecap="butt"/>
<line x1="184.1" y1="2600" x2="165.7" y2="2605.4" stroke="#000" stroke-width="3.2" stroke-linecap="butt"/>
<line x1="175.9" y1="2411.6" x2="157.3" y2="2416.5" stroke="#000" stroke-width="3.2" stroke-linecap="butt"/>
<line x1="167.6" y1="2219" x2="148.7" y2="2223.2" stroke="#000" stroke-width="3.2" stroke-linecap="butt"/>
<line x1="159" y1="2022" x2="139.9" y2="2025.5" stroke="#000" stroke-width="3.2" stroke-linecap="butt"/>
<line x1="201.5" y1="3004.4" x2="186.6" y2="3010" stroke="#000" stroke-width="3.2" stroke-linecap="butt"/>
<line x1="368.7" y1="3065.8" x2="353.8" y2="3071.8" stroke="#000" stroke-width="3.2" stroke-linecap="butt"/>
<line x1="546.8" y1="3131.2" x2="532" y2="3137.7" stroke="#000" stroke-width="3.2" stroke-linecap="butt"/>
<line x1="737" y1="3201.1" x2="722.2" y2="3208" stroke="#000" stroke-width="3.2" stroke-linecap="butt"/>
<line x1="940.3" y1="3275.8" x2="925.8" y2="3283.2" stroke="#000" stroke-width="3.2" stroke-linecap="butt"/>
<line x1="283.8" y1="3034.6" x2="276.4" y2="3037.5" stroke="#000" stroke-width="3.2" stroke-linecap="butt"/>
<line x1="456.4" y1="3098" x2="448.9" y2="3101.1" stroke="#000" stroke-width="3.2" stroke-linecap="butt"/>
<line x1="640.3" y1="3165.6" x2="632.9" y2="3168.9" stroke="#000" stroke-width="3.2" stroke-linecap="butt"/>
<line x1="836.9" y1="3237.8" x2="829.6" y2="3241.4" stroke="#000" stroke-width="3.2" stroke-linecap="butt"/>
<line x1="1047.4" y1="3315.2" x2="1040.2" y2="3319" stroke="#000" stroke-width="3.2" stroke-linecap="butt"/>
<line x1="1047.4" y1="3315.2" x2="1067.1" y2="3322.4" stroke="#000" stroke-width="3.2" stroke-linecap="butt"/>
<line x1="1297.9" y1="3182.2" x2="1317.1" y2="3188.6" stroke="#000" stroke-width="3.2" stroke-linecap="butt"/>
<line x1="1519.9" y1="3064.3" x2="1538.7" y2="3070" stroke="#000" stroke-width="3.2" stroke-linecap="butt"/>
<line x1="1718.1" y1="2959.1" x2="1736.4" y2="2964.2" stroke="#000" stroke-width="3.2" stroke-linecap="butt"/>
<line x1="1176.5" y1="3246.6" x2="1186.3" y2="3250" stroke="#000" stroke-width="3.2" stroke-linecap="butt"/>
<line x1="1412.1" y1="3121.5" x2="1421.6" y2="3124.6" stroke="#000" stroke-width="3.2" stroke-linecap="butt"/>
<line x1="1621.7" y1="3010.3" x2="1631" y2="3013" stroke="#000" stroke-width="3.2" stroke-linecap="butt"/>
<text transform="matrix(0.9151 -0.3429 0.0515 1.1094 150.2568 3001.1570)" font-size="50" text-anchor="middle" >14</text>
<text transform="matrix(0.9267 -0.3136 0.0526 1.1342 141.8426 2819.7364)" font-size="50" text-anchor="middle" >16</text>
<text transform="matrix(0.9387 -0.2828 0.0538 1.1597 133.2400 2634.2517)" font-size="50" text-anchor="middle" >18</text>
<text transform="matrix(0.9510 -0.2505 0.0550 1.1861 124.4424 2444.5647)" font-size="50" text-anchor="middle" >20</text>
<text transform="matrix(0.9636 -0.2167 0.0563 1.2135 115.4433 2250.5309)" font-size="50" text-anchor="middle" >22</text>
<text transform="matrix(0.9765 -0.1812 0.0576 1.2418 106.2355 2051.9993)" font-size="50" text-anchor="middle" >24</text>
<text transform="matrix(1.0768 -0.4115 0.8896 0.3340 164.9250 3033.1732)" font-size="50" text-anchor="middle" >45</text>
<text transform="matrix(1.0742 -0.4387 0.9476 0.3558 333.5501 3096.4833)" font-size="50" text-anchor="middle" >50</text>
<text transform="matrix(1.0689 -0.4686 1.0114 0.3797 513.3516 3163.9896)" font-size="50" text-anchor="middle" >55</text>
<text transform="matrix(1.0603 -0.5016 1.0820 0.4062 705.4788 3236.1235)" font-size="50" text-anchor="middle" >60</text>
<text transform="matrix(1.0478 -0.5382 1.1601 0.4356 911.2440 3313.3778)" font-size="50" text-anchor="middle" >65</text>
<text transform="matrix(1.2881 0.4764 -0.9614 0.5260 1104.7659 3351.5380)" font-size="50" text-anchor="middle" >4.5</text>
<text transform="matrix(1.2584 0.4206 -0.8475 0.4638 1355.5109 3214.3376)" font-size="50" text-anchor="middle" >5.0</text>
<text transform="matrix(1.2268 0.3740 -0.7528 0.4119 1577.3973 3092.9278)" font-size="50" text-anchor="middle" >5.5</text>
<text transform="matrix(1.1944 0.3349 -0.6731 0.3683 1775.1360 2984.7309)" font-size="50" text-anchor="middle" >6.0</text>
<text transform="matrix(1.0663 0.4139 -1.1165 0.4946 453.5692 3212.1630)" font-size="50" text-anchor="start" ><tspan x="-310.0" y="0.0" font-size="47.2">flow</tspan> <tspan x="-215.0" y="0.0" font-size="48.1">rate</tspan> <tspan x="-132.4" y="0.0" font-size="48.8">of</tspan> <tspan x="-80.7" y="0.0" font-size="49.7">main</tspan> <tspan x="31.7" y="-0.0" font-size="51.0">circuit</tspan> <tspan x="179.6" y="-0.0" font-size="52.8">(L/min)</tspan></text>
<text transform="matrix(0.8138 -0.4661 1.2622 0.4009 1586.6940 3180.6612)" font-size="50" text-anchor="start" ><tspan x="-209.4" y="0.0" font-size="51.9">cooling</tspan> <tspan x="-39.9" y="-0.0" font-size="49.7">power</tspan> <tspan x="94.5" y="-0.0" font-size="47.9">(kW)</tspan></text>
<text transform="matrix(0.0606 1.1936 -0.9211 0.2518 53.3198 2514.7066)" font-size="50" text-anchor="start" ><tspan x="-372.4" y="0.0" font-size="51.4">flow</tspan> <tspan x="-263.9" y="0.0" font-size="51.0">rate</tspan> <tspan x="-174.1" y="0.0" font-size="50.6">of</tspan> <tspan x="-118.9" y="0.0" font-size="50.4">oil</tspan> <tspan x="-52.8" y="0.0" font-size="50.0">refill</tspan> <tspan x="56.5" y="-0.0" font-size="49.5">system</tspan> <tspan x="204.3" y="-0.0" font-size="48.9">(L/min)</tspan></text></g>
<text x="772" y="1701" font-size="86">(<tspan font-weight="bold">a</tspan>) 280 N·m</text>
<text x="769" y="3528" font-size="86">(<tspan font-weight="bold">b</tspan>) 320 N·m</text>
</svg>
</body></html>
